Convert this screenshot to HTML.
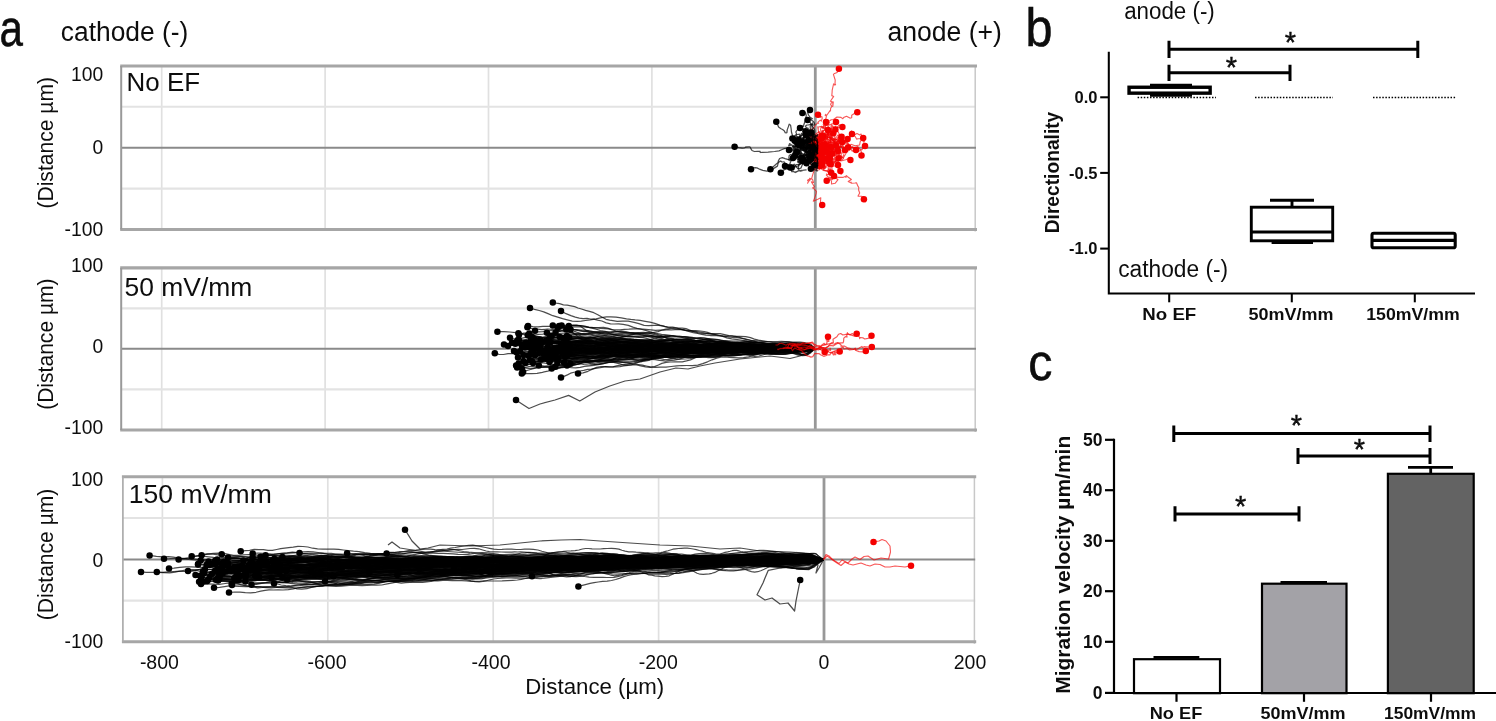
<!DOCTYPE html><html><head><meta charset="utf-8"><title>Figure</title>
<style>html,body{margin:0;padding:0;background:#fff}svg{display:block}text{font-family:"Liberation Sans",Arial,sans-serif;fill:#111}</style></head><body>
<svg width="1496" height="721" viewBox="0 0 1496 721">
<defs><filter id="soft" x="0" y="0" width="100%" height="100%"><feGaussianBlur stdDeviation="0.62"/></filter></defs>
<rect width="100%" height="100%" fill="#fff"/>
<g filter="url(#soft)">
<text transform="translate(-0.6 46.3) scale(0.81 1)" font-size="52" fill="#000" stroke="#000" stroke-width="0.5">a</text>
<text transform="translate(1025.6 45.6) scale(0.9 1)" font-size="54" fill="#000" stroke="#000" stroke-width="0.5">b</text>
<text transform="translate(1028.2 380.4) scale(0.93 1)" font-size="52" fill="#000" stroke="#000" stroke-width="0.5">c</text>
<text x="60.8" y="41.2" font-size="27" text-anchor="start" font-weight="normal" textLength="127.5" lengthAdjust="spacingAndGlyphs" >cathode (-)</text>
<text x="887.4" y="41" font-size="27" text-anchor="start" font-weight="normal" textLength="114.5" lengthAdjust="spacingAndGlyphs" >anode (+)</text>
<line x1="161.7" y1="66" x2="161.7" y2="229.5" stroke="#e0e0e0" stroke-width="1.7"/>
<line x1="325.1" y1="66" x2="325.1" y2="229.5" stroke="#e0e0e0" stroke-width="1.7"/>
<line x1="488.5" y1="66" x2="488.5" y2="229.5" stroke="#e0e0e0" stroke-width="1.7"/>
<line x1="651.9" y1="66" x2="651.9" y2="229.5" stroke="#e0e0e0" stroke-width="1.7"/>
<line x1="121.2" y1="106.8" x2="976" y2="106.8" stroke="#e3e3e3" stroke-width="2.1"/>
<line x1="121.2" y1="188.6" x2="976" y2="188.6" stroke="#e3e3e3" stroke-width="2.1"/>
<line x1="975.2" y1="66" x2="975.2" y2="231.5" stroke="#c8c8c8" stroke-width="1.5"/>
<line x1="121.2" y1="147.7" x2="976" y2="147.7" stroke="#8a8a8a" stroke-width="2.0"/>
<line x1="815.3" y1="66" x2="815.3" y2="229.5" stroke="#989898" stroke-width="2.8"/>
<line x1="120.2" y1="66" x2="977" y2="66" stroke="#a6a6a6" stroke-width="3.1"/>
<line x1="120.2" y1="229.5" x2="977" y2="229.5" stroke="#a6a6a6" stroke-width="3.1"/>
<line x1="121.2" y1="66" x2="121.2" y2="229.5" stroke="#999999" stroke-width="2.0"/>
<g fill="none" stroke="#f40000" stroke-width="1.1" stroke-opacity="0.66" stroke-linejoin="round">
<path d="M815.3,147.7l-1.6,.9 .9-1.6 .1,.3 .5-4.6 -.9-5.3 1.2,.5 2.4-3.9 4.5,2.2 .2-5 -1.2,.7 4.4-2.3 -3.1-3.1 4.1-1.3 -2.2-5.2 1.6,.2 -.4-1.6 .6-2 -.6-2.3 -.7,1 1.2,.7 3.9-5.6 .3,.6 .1-2.5 1.2-2.2 -1.2-1.9 .5-1.3 2.2-1.2 -.5,4.5 0-1.7 .2-2.6 -2.6-.9 3.3-4.8 -1-.5 -.9-.2 .3-3.4 .1-2.2 1.4-6.2 1.3,1.3 .7-.8 -.6-.6 .2-3.8 -1.8-5.6 1.2-1 2.5-.8 1.8-3.8"/>
<path d="M815.3,147.7l-2.2-1.8 .6-.1 1.1-1.1 1.4-.2 1.7-.2 .4-.9 -1.5-2.9 .8,.1 -.1-3.5 3.1-2.3 -2-2.6 -.9-5.4 .6,2.5 -.1-2.3 3.5-.6 1.1,1.8 -1-.8 2.3-.4 -.9-2.5 4.7-.9 .8,1.3 -2.1-.9 -2,1.9 -.6-.5 -.4-.5 1.9-.8 .7-.3 .9-1.7 2.5,.9 -1.3-2.7 -.1-.1 -1.4,2.2 1.4-.5 3-2.2 2,.1 3.8-2.8 4,.4 1.8,1.3 .8-1.1 2.9-1.4 3.4,1.9 1.8-.4 0-2.5 4.1-2.7 1.5-.2"/>
<path d="M815.3,147.7l-.8-1.8 -.5,3.4 1.5,2.1 4.8,1.4 3.3-1.4 -.4,2.2 3.6-2.5 3,0 2.4,1.3 4.5-1.7 .9,1.8 .4,.5 .7-3.7 -.2,1.1 -.1-3.4 -.1-.4 1.8,.1 1.9-2.5 -.2-2 0,.4 3.4-1 2.9,1.6 -1.2-2.1 1.1-3.1 4.5-4.1 -1.4,1 -.6,.8 -.9,1.5 -.2,.9 2.8-3.4 -.8-3.8 -1.2,1.2 .8,1.1 3.6,1.5 2.3-1.3 .2,.1 2.6,1.5 1.4-1 .8,2.6 1.5,3.3 -.5,1.2 1.3,.9 -.5,.2 .8-1 -1.3-3.2"/>
<path d="M815.3,147.7l.2,1.3 1.3,.8 1.4-2.3 2.8,.4 -.6-.8 2.7,.7 -2.3,4.3 -2,3.5 2.4-1.6 3.2,2.6 2.8,1.6 1.4,.7 -.2,.8 3.3,.1 4.5-2.7 .9-2.5 -2.5,.8 .2-.8 -1.2-.1 -2.2-.1 -.2-2.1 1.6-3.2 1.6,.8 1.9,.5 2.3-.2 -1.2,1 -.7-.3 1-1.5 2.7-2.6 3.2,.2 4,2.4 2.1,.9 1.1-2.3 -.3-1.5 -.5,0 -.7,.6 .4-.6 1.5,1.2 -1.7-.3 6.4,.3 1.7-1.4 2.6,3.2 2,.1 .9-3.3 1.9-.3"/>
<path d="M815.3,147.7l1.5,.7 1.2,4 2.5-1.2 1.9,1.2 .9,2.6 .1-3.3 -1.3,.8 -1.1,.3 -2,.7 .3-1.7 -.3-.5 2.5,.4 .4,.4 2.4,.8 4.1-1.3 2.3,.2 -.4,1.2 2.4,1.8 1.7-1.6 1,.7 4,.2 1,3 .9-.8 1.3,1.4 1.1-3.1 0,1.9 -.6,1.6 1.1-1.5 2.3-4 -3.2-3 1.8-.5 1.9-.1 1.1-1 0,1.9 2.2-2.5 1.9,3.8 2.2-1.8 2.2,.4 .1,1.9 3.1-1 1-.7 .8,3 0,1.1 1.2,.1 -1.3,1.2"/>
<path d="M815.3,147.7l-1.2,1.8 .6,.8 0-1.2 -1.1,.5 .7,1 .3,1.9 1.1,.7 .4,.5 2.1-.9 -1.4,1.2 1.6,.5 1.3-1.9 -1,.4 .8-1.8 1.7-3.1 3.1-1.5 -.2-1.5 -1.6-.1 -2.8-.2 1.2-.1 .8-2.2 -2.6-2.1 2.8,1.1 -2.5,3.6 2,2.5 2.7,2.9 -2.3,.6 -.7,4.1 2.2,.5 .3-3.5 1-1.1 3.4,1.8 .7-.3 2.9-.5 2.9,.8 .2,1.2 4.1-2.6 2.3,1.9 .3,3.2 2.1,1.5 -1.1,1.5 -1.5,1.4 4.8-1.2 3.7-1.6 1,1.8"/>
<path d="M815.3,147.7l-1.8,2.3 -.4,.6 2.5,1.5 1.7,1.8 1.7,4.6 1.2,1.2 1,3 1.8-2.3 .8,2.5 5.9,.6 .4-.4 .8-1.6 -.6,1.5 -1.9,1.2 -.3,4.1 3.9,5.7 1.3,2.9 5.4,.5 4.1,0 2.9-1.2 .2,1.3 .5-1.9 1.2,1.1 3.8,2.8 -3.2,2 3,1.5 -.4-.8 .3-.1 .4,1.1 3.4-.2 1.6-.3 1.4,3.6 -.1-.5 1,1.7 -.2,2.5 1.1,3 -1.7,3.1 3.4,.2 4.6,2.1 -1.5-.3 -.4,.5 .5,2.3 .6,1.1 -.9-2.2 -.4-.6"/>
<path d="M815.3,147.7l1.4-3.3 1.9-4.1 -.6,1.3 -2.4-.6 1.4-.8 -.4,1.4 .9-1.1 2.3,.9 1.6-1.4 1.8,1.1 1.2,.1 1.4,1.3 -3.8,6 -1.6,2.1 -.6,.4 -1,3 1.6,3 -3.4,2.8 -3.1,5.7 .5,3.4 -.3,1.5 -1.6,5 -.9,3.4 -1.8,.9 -1,1.1 -1.2,2.5 1-1.8 -1.1-1.2 1.8-1.2 .6,1.6 -.3-2.4 2.9,1 1,3.2 -2.1-.6 3,4.9 -1.8,1.2 1.5,.9 2.3,2.5 -.4,2.5 -1.2,3.7 -1.5,3.7 4.5-2.1 3-1.5 -.4,4.8 1.8,2.5"/>
<path d="M815.3,147.7l1.4-.2 1.7-.9 .2-2.8 4-.6 4.4,.9 1.6-2.5 .2-.5 .5-1.1 -3.6-1.2 .3-1.5 .1-3.4 -.8,2.3 -1.1-1.5 -.8-.9 -.3,3.3 -1.2,2.1 -.2,.4 5.6-.6 .7-5.9 .1-1 1,0 -1.3-2.3 2.2-1 .8,.8 1-.3 -1.3-.4 -2.5,2.8 -.7,2.7 -.2-.7 3.2-.1 1.1-1 .3-1.9 -.7-3.9 .5-2 3.4,3.6 4.4-2.8 .1-.7 -2.2,2.5 2.1,.1 4.5,.4 .2,.1 -.1,.4 -1.8,.5 .3-1.3 0-.7"/>
<path d="M815.3,147.7l-3,.9 0,3.2 .3,1.6 .3-.4 -2-1.1 -.8-4.8 -.2-1.6 .9,1.7 -.2,2.1 2.7,1.2 -.3,0 3.5,2.8 2.5-3.5 -4,3.2 1.7,2.3 1.5-.7 1.2-.3 3.2,1.4 -1.4-1.7 2.3,1.5 .9,.5 -2.1-1.8 1.4-3.7 1.3,.9 1.6,1.4 4,.4 -1.2-3.5 -4,0 2.1-3.4 .7-1.5 -.1,.2 .4-2.4 1.8-.5 -3.2,1.3 3.4-.9 3.4-3.2 -.1,2.3 2.8,.8 2.4-1 1.8,1.6 2.1,.6 2,.6 1.5-3.1 1.6-2 -.4-.1"/>
<path d="M815.3,147.7l.9-1.5 -.6,1.4 -.4,1 .8,1.4 -.6,1.3 1.5-1.4 1.9-1 1.1,2.1 1.6-1.2 -1.3-1.3 1.5,1.2 -3.1,2.4 2.7-.1 .2,1.5 -1.5,.1 1.4,.3 .4,1.2 3.7,1.5 1,0 2.8,1.1 .3,3.5 3-.8 -.2,3.4 -.5,3.9 .1,4.7 -1.5-2.7 -2.4,4.7 -1,.1 -.7-.4 .7,1.2 -.8-.1 2.9,2.8 2.3,3.3 0,2.7 3.6-.7 2.9-3.7 -3.2-1.8 -1.5-.9 -.6,2.5 -1,.2 -2.1-2.1 0-.5 2.1,1.2 -3.1,2.3 -1.9,.2"/>
<path d="M815.3,147.7l-1.5-.7 -.7-1.3 -1,.3 1.9,2.3 3.8-2.2 -.3,3.2 -1.7,.6 1.9,3.9 1.5,1.5 .2,2.1 .6,1.5 -.8,.7 -1.2-1.2 -1.2-.7 -.8-.2 -2.5,1.4 1.1,3.9 -4.1-1.8 -1.4-.8 .5-.7 -1,2.2 .1-2.2 2.2,5.2 2.6,.6 3,.7 -.2,1.4 2.9,1.1 -.1-1.8 .7-1.1 .3-1.8 -1.2-1 -.9-1.3 2.8,2.4 -.2-1.1 2.5,.4 1.5,2.8 -.3,1.7 1.3,.1 .1-.3 -6.1,.1 3.6,2.8 5.6,1 2.1-.3 -1-.7 1.3,2.3"/>
<path d="M815.3,147.7l-3.2,.2 2.1,.5 -2.1-.8 1.1-3.6 -1.8,3.1 -.9-2 -3.3-2.3 2.9-.3 -1.2-1.1 1.1,.1 -1.5-.4 -.9-2.1 -1.2-2.6 1.3-4.4 .8,4 -1.4-1.6 .3,1.9 -.7-.1 -.1,2.7 0,2.6 .4-.4 .6-2.2 .6-1.9 -1-2.1 1.3,2 .9-1.1 1-2.5 1.5-1 -3.3-1 1.5-1 .9-1.1 -.5,.9 3-1.7 1.9-3.2 2.7-2.6 .5,.7 -.6-1.1 2.3-2.1 1,1 .9-2.6 -.4-1.6 .4,.1 -2.6-1.3 .8,1.8 -2.4-2.8"/>
<path d="M815.3,147.7l1.9-.6 2.3-.6 -1-.7 2.5,.8 .6-.2 2.2,.6 .7,.8 .4-2.6 1.9,1.7 2.8-.6 -2,.2 -.9-4.1 .5-1.9 .4-1.5 1.7,1.1 1.2,1.6 -.8,3.9 -3,.9 2.1-1.3 .5-2.8 -.7,0 -2.1-4.1 -.5-2.2 -1.5-.8 -2.4,1.5 2.4-.5 -.9-.7 0-2 -1,.3 -1.5-1.8 -.6-2.4 .7-2.9 1.9,.8 .2,1 2.2-1.2 .1-1.7 -.5-1.3 .4,.4 4.3,.1 1.9-1 3.3-.3 -.1-1.1 .2-1.3 .6,2.8 .3-2"/>
<path d="M815.3,147.7l-2.6,.6 -1-.7 1.1,1.4 1.7,2.9 -.9-.4 -.8-1.1 -.4-.8 2.1-1.2 4.9-3 2.3-2.2 0-1.4 .8,1.6 .1-.5 -1.1-.8 -.7-.5 .9,2.4 -.5-3 .2,2.3 -1.1,1.4 -1.3-1.6 1.2-2.7 0-4.3 -1.1,1.4 -.2-.5 1.8-1 -1.4-.1 .7,1 .4,2.9 1.8,.4 5-2.1 1.2-.8 4.7,1.2 2.3,1.5 3.5-.3 2.4-2.5 1.8,2.8 2.3,1.8 -2.6,.8 .1,3.5 1.7,1.9 3.2,1.6 -1.8-.7 -3.1,2.9 .4-1.7 1.7-.1"/>
<path d="M815.3,147.7l.6,2.1 -2.5-3.1 1-.8 3.2-1 2.2,2.8 -1.3-2.9 -.1-.8 -.9,.2 -.2,1.7 2.1,.9 1.6,0 -1.8-.7 -2.1,2.1 -.9-2.1 .4,3.7 -.9,2.8 1.5,4.4 .7-1.4 1.2-1.4 -.2,1 .4,1.3 2.3,1.3 4.1,1.6 -.6,2.2 -3.4,1.9 3.5-2.3 3.5-3.8 3.1-1.1 .6-.6 .2,1 1.1-.5 1.3-1 -.7,.8 2.7-2.6 3,2 1.5,2.4 -2.8,2.2 -.2,.2 -.5,4.1 .5,.9 -1.5-.9 2-.5 -.2,2.4 -1.7-.2 .9-1"/>
<path d="M815.3,147.7l1.3-.1 -.2,.6 0,.4 2.5-.1 .3-1.6 2.7,1.2 1.2,0 -1.4-.4 .7-2.7 -1.6-.8 3.6,.1 -2.5,1.8 1.8,.7 -.9-.8 4.2,1.5 8.6-3.9 -2.7-1.3 -1.6-1.8 1.5,1.9 -2.5,.5 1.8-.1 2.6,1.6 -1.3-.3 .6-2.8 -.2,1.3 .8-.4 5,.6 1.9-2.2 2.4-1.3 -.1-1.4 -2.2,.6 -2.2,.9 -1.3,1.9 .8,1.6 -1.9,.5 1.5,0 0-1.7 -5.8,.4 -2.2-2.4 .8-5.5 -1.2,.8 .2-1 -1.3-.2 -2.7-1.6 1.7-2.2"/>
<path d="M815.3,147.7l.4-.8 -1.6-3.8 -1-1.5 -1.3-.2 1.3,1 1.3-2.3 3.2,.6 2.1-2.5 2.6,4.1 1.7,2 -.5,.2 .6,1.1 1,.4 -1.1-2.3 .7,4.6 -1.2,.9 3.2-1.3 -2.4,.6 .6-1.7 3.5,1.2 .6-2.7 3,2.1 2.3,2.9 -1.3-2 2.3,.8 .6-1 2.6,.4 2.3-2.3 .8,.7 2.6-3.2 .3-1.3 .7-.3 1.4,1.3 1.2-.2 2.4,2.6 .8-1.6 4,1.6 4.7-.8 0-.4 .5-2.9 2.3-2.9 -4.5-.1 -1.4,.4 -1.4-2.7 -3.2-2.4"/>
<path d="M815.3,147.7l.5,3.9 2.3-1.3 3.5,.3 -2.5-3.4 -1.8-1.2 1.1-1.3 0-1.8 1.3,1.3 -1,2.3 -.6-.7 4.2,1 1.1-3.7 1.2-.8 .6,2 0,3.3 1.1,.2 .4,0 3.6,.4 -.9-1.6 3.2,.9 -.5-.3 1.2,1 -.8,0 -1.5-1.5 .6,2.4 .9,3.1 1.7,2.3 .8-3.5 -3.1-.9 4.3-.4 .1,1 .3-.8 1.4,.6 -.1-1.6 4.1-1.8 -.7-.4 .8,.4 3.9,2.4 1,.1 2.8-.3 1.4-2.2 1.8-.3 -1.7,.3 5.2,.6 -.5,2.3"/>
<path d="M815.3,147.7l1,1 3.3,2.3 4.3-.9 -.5,.4 .8-1.6 .9-2 -.7,.1 .8,1.2 -1,1.3 .9,.4 .4-.4 3.8,3.2 .9,3.1 -1.3-.3 -.3,1.4 -.2-1.1 -2.5-1.5 2.1,1.5 -2.3,4.1 -.5-.2 0,.6 -.3,.6 1.8,2.3 -.9,.3 -1.1-.2 .2,0 1.5-1.2 1.1,2 -.2,0 1.5-.1 -.3,1 -4.3,1.9 .8,1.7 -2.2-.2 1.2,1.7 -.8-.3 3.3,1.1 2.7-1.9 1.1-.5 -.5,3 -1.7-1.1 -.9,.1 .4,1.4 2.7,1.5 3.7,2.6"/>
<path d="M815.3,147.7l1.3-.6 2.8-.8 2.1-.2 -.8,.9 1.6,.3 2.3-.1 -1.1-.1 3.8-2.1 -3.2-.3 -1.7,2.3 .6-2.1 .1-2 1.2,1.4 2.5,1.7 .2,2 1.2-2.7 2.8-2 -.8-3.2 -1.3-4.2 -2.1-1.9 -2-1 1.8-.9 1.1,1.8 -.9,2.5 .2-.4 .9,2.3 -2.1,1.4 -.6-.1 -1.7-5 2.5,1.1 -1.7-2 -2-.4 4.1-.5 -3,1.1 -1.4-3.3 .9-.3 .6,1.1 2.1-4.2 .5,1.8 2.6-2.2 -3.1-2.4 .9-.7 1.8-.6 -2.1-2.4 -.2,1.3"/>
<path d="M815.3,147.7l2.7-2.1 .7-.4 -2.3-2.4 2.9-1.1 -.3,.6 .6,1.1 -1.6-1 .4,.5 -1.5-3.5 1.5,1.4 1.7-.5 -3.5-1 3.7,.4 .4-3.3 -1.3,1.6 .5-.5 2.3,1.1 .9-.5 .7,1.7 .5-2.6 -.5-.8 .7,2.2 -.2-1.1 1.3,.7 -1.6,.6 .3,.4 -3-3.9 -2.9-3.4 1.7,1.6 -2.5,2.5 -2.3-1.7 4-2.7 1.2,1.3 2,1.1 .4,2.6 -.3,0 .7-.9 -.4,2.1 3,.9 -.3-1.2 -.8-.9 -1-.4 -.5,1.8 -2.7-1 1.4-1"/>
<path d="M815.3,147.7l-.4,.4 .2-2.4 .7,.6 -2.8,1.1 -2.9,.7 -2.1-.1 .3,1.3 .2-1.4 -1-.2 -.1,1 1.2,1.8 1.7-.3 .3,.6 1.8-3.1 1.1-1.3 1,.9 -3.2-.8 2.3-3.8 .8-.6 -.7,1.1 2.1-.5 3.1,2.1 .7,1 2.1,2.7 1.9,.7 .6,.8 3.4-.7 .2-2.4 5.3-1.3 -.6-1.6 2.7,.1 -3.5-.3 3.9-.7 .6,4.9 0-1 1.6,4 1.3-3.6 .1-.9 1.9-1.3 .6-2.9 -1.9-.5 3.5-2.3 -2.6,1.6 1.2,1 .1-.1"/>
<path d="M815.3,147.7l3.7-.7 -.4,.1 0,3.3 0,.8 -2,1.2 1.6,1.3 -2.7-1.1 -4.6,3.3 .1,3.1 4,2.1 -.9-.3 1.8-3.6 3,2.8 1.9-.4 1.1-2.9 -1.5-.8 -1.1,3.3 1.2-4.5 2.5,1.1 -.1-1.3 4.2,.5 .9-2.9 -.8,1.8 .6-.8 -.2-2.9 -4.4,1.1 -2.4-2.9 1,1.9 -.4,2.2 .4-5.9 3.4-2 3.3-.4 .2-.8 -1.5,1.2 3.4,2.5 -.7,1.1 2.3,1.1 -2.1,4 -1.1-1.5 .6,.5 -.7-2.4 -2,.1 -3.3,2.2 1.6,.5 .7-1.5"/>
<path d="M815.3,147.7l-.5,3.2 2.5,1.4 0-1.6 .3-1.6 -.2-.6 -.6,2.4 -1.2-1.3 2.8,.6 1.4-1 1.2,2.7 .5,.9 2.9,1.3 2.8-2.1 -2.8-2 1.3-1.1 -3.3,3.6 3-.9 -.8-1.1 1.9,1 .8,2.7 -1.1-2.1 .5,.1 .7,.9 -2.4,3.2 -2.9,.8 1.2,1.7 .9-1.4 .2-2.5 .1-.3 -3,4.4 -.7,1.1 3,.1 -.2-1.9 -.9-1.3 .2,1.7 .8,3 1.3,.6 -5.3-.2 1-2.7 .4-1.2 .1,.1 -.1,.1 1.2,.7 -.8,1.9 .6,.8"/>
<path d="M815.3,147.7l4.2,.8 .9,2.1 .2,.9 1.7,3.4 4.2,.2 1-.2 -.4-3.3 4.1-1.8 .2-2.2 -.5-.7 -3.9-.8 -.4,1 -3.6,2.4 -.5-.9 2.9-.1 .5,4 .2,1 1.9,.4 .2,.9 -.7,2.7 .6,3.9 .8-1.5 .8,.6 -.4,3.1 .9-1.8 3.8,.9 -3,.6 1-1 -1.6-2.2 .6,.2 2.9,1.8 .5,0 2-1.4 .6,2.1 -1.5-1.1 2.3,4.7 .8,4.7 .9,.8 -.7-1.1 1.8,.1 -1.2,1.9 1-.2 .5,.9 .3,.9 -.8-3.4"/>
<path d="M815.3,147.7l.1,.5 2-1.7 .9-.3 1.4,1.4 .9-.2 2.6,.4 -2,2.6 1.6-.9 .7-1.6 1-2.6 2.7,1.1 -1.2,1.1 -1.9-.8 -1.2,1.5 2.1-2.3 1.1,1.1 .1,4.8 -2.2,2.7 3.6-.4 -1.4,2.5 -3.9,.1 -2,.1 -.3-2.2 1.8,2.4 -1.8,1.4 .9-1.1 -.2,1.2 2.8-.3 -3.9,1.7 1.5-3.5 -.2,.1 .2,.8 -1,1.4 -4.4,.8 -.4,0 2,2.7 -1.2,0 -1.2,.3 -.4-2.1 2.9,.8 .7,2.7 -2.4,.9 3.8-.5 -.9-1.3 3.1,2.2"/>
<path d="M815.3,147.7l-.3,.3 2.6-.9 1.4,1 -.6,1.4 -1.4-.3 -2.8-1.4 -.7,1.7 1-1.4 .5,5.2 1.2,1.8 -3.1,0 3.2-1.8 -.8-.4 .8,2.1 -2.4,2.2 -4-.7 1.7-1.3 -.6-.1 4-.9 2.8,4.6 .2-.6 1-.9 .2-1.2 -1.9-2.1 2.7-.4 -1.3,3 .6,.3 -.5,.9 .3,.1 .6,2.4 .6,3.4 2.8-1.1 -1-1.5 -.5,2.2 .3,0 1.1-3.3 1.5,.5 2.2,.4 2.8,2.9 .3,2 -.8-.5 -1.2,.5 -1.4-1.2 .4-1.9 2.1-.9"/>
<path d="M815.3,147.7l2,.5 -.4-1.9 1.7-1 -2-.4 1.3-.8 .1,2.1 -.9,.8 3,2.5 -2.1,.4 .3,3.8 2.5,1.3 2.3,.3 -2,3.6 -3.2,.8 1.6-.3 2-.7 1.6-.3 -1.3,1.2 -1.1,.6 -1.9-.3 1.1,1.5 -2-1.7 0-2.6 1.3,3.8 1.3,.5 -1.5,.4 1.1,3.1 -.6,1.7 -.6-1.2 -.7-.1 -2.8-1.4 2.9-4.2 1.8,.8 -.8-2.1 2.3-1.4 .6-1.1 -2,1.4 1.3-2.5 2.2-3.1 -2.4,1 -.7-.7 3.1-2.7 1.3-1.4 .2-1.1 -1.4-.6"/>
<path d="M815.3,147.7l-1.4-.3 .7-2.4 .4,1.5 .6,2 -1.4,1.4 1-5 .5,1.9 .3,.3 .2-.1 -1.6-1.1 -3.7,4.3 .4,.6 1.6,1.2 .4-2.7 -1.9,3.4 1.3,1.5 -1.6-.7 1-1.2 2.7-1.2 -.4-2 1.2,2.7 .8,.2 -.2,1.8 .4,3.6 0-.5 -.6-3.4 .9,.5 -2.6-2 -1.6-.4 -1.5,1.7 2.7-1 .5-1.8 3-1.9 -1.1,.3 -1.1,5.3 .1-.2 -1.4,.1 -.7-.6 2.3-.9 1.3-1 2.3-1.2 -1.4-.2 2.9-.6 -1.3,0 -.9,.7"/>
<path d="M815.3,147.7l1.4,1.3 2.6,1 3.2,2.8 -.8,1.9 -1.7,.1 -.4-1.1 .3,.2 3.5,1.9 -.8-.9 -1.3-.9 -1.7,.4 -2.8-.2 .6-.7 -2.4-.5 1.4-1 2.6-2.8 -1.8,1.6 2.3,0 -3.4-.1 -2-.9 -1-.8 -.4,.7 -.8-3 -.7-4.5 -.1-.4 -2.1,4.4 2.9,2.9 .1-.5 .6,3.5 -.4,.1 -1.4,.3 1.3-1.4 1.7,.7 3.9,.8 2.1-1.5 4.3,.6 -.4,3.2 0-1.9 .9,1.5 -.3-.5 -3.3,3.6 -1.1,1.1 -1.3-.9 .3-1.3 1.5-2.6"/>
<path d="M815.3,147.7l-.6,1 1.9-.3 -.2,.3 5.5-1 -.1-.2 -.8-1.2 -.9,.9 2.5,3.6 -2.2-1.2 .2-1.3 -1.1,.2 -.8-1 .7-.9 -.2,1.2 1.6,1 2.3,.8 -2.5,3.4 5.7,2.1 3.3,2.7 -.5,1.8 -1-.5 1.3,.8 -.9-2.1 1.8,.6 .5-1.1 -1.1,.5 -3.3,2.9 .4,2.7 2.1-.5 1.2-1.5 -1.4,3.1 -.7-.9 1.2,.7 2.1-1.8 -.1-1.4 .3,.1 -1.5-2.7 -2.2,2.4 -.4-1.5 .6-1.5 2,2.2 .4-.4 -3.1,1.5 4.1,1 -.7,2.1"/>
<path d="M815.3,147.7l.2,.5 -3.1,1.3 3.5-.7 -.6-3.3 1.4-1.2 2.7,2.3 2.7-.3 -3,1.8 -.5-1.5 2.4,.2 -1.6-1.3 -.2-.9 -1.8,2.2 .1,.6 2.4,3.4 1.7-2 -.4,1 3.5-3.4 4-1.7 .1-1.4 1.5-1 .3-2.4 3.1,0 .3,3.4 1.7,2 -.2-.4 .1,1 1-3.8 1.5-1.1 .9,1.2 -.2,.6 .5-.8 -.6-.8 -.2,.8 -3.9,.5 .3-2.6 1.8-.7 1.5,1.9 .8-3.6 -2.6-.7 -1.9,3.4 .3-4 -3.7-1.7 -4.2,.3 -3.9,1"/>
<path d="M815.3,147.7l-2.7-.6 1.5-2.8 .8,3 -2.5,0 2.7,3 2.5,.1 -1.2-.1 -1.2,1.9 1,1.2 -1.8,1.7 .5,.8 1.8-.5 -.3,2.4 -1.9,1.9 .9,3.1 1.9-.8 2.9-.6 -2.8-.2 -1.1-1.5 1.3,1.3 .7-2.3 2.9,1.1 1.7,1 .3,1.7 -.2,2.9 -1.5-3.5 -1.2,.2 .3,.5 .3,1.1 -.8,1.4 .6-1.2 -3.8,.7 .5,2.3 1.6,.9 1.7-.8 -1.4,2.8 -2.7,.3 -2.5-2 3.6-3 2.8-.6 -1.9-2.8 0,1.5 .6-1.4 2.6,.7 .5,1.4"/>
<path d="M815.3,147.7l.6-1.8 .5-2.3 -2.7-1.6 -.3-1.8 -.6-1.5 .1,2.8 1.1,1.1 1.8,1.2 .8,1.1 2-.8 -.6-.5 -.1,.4 -.8-1.2 .4,.5 -.2-3.3 -.5,1.1 -.4,1.9 -1-1 1.5,1.7 -.6,2.3 .4,.3 3.3,1.1 -.4-.6 -1.7,1.6 .7,3 2.2-.4 -1.1-1 2.3-.7 2.2,1.8 2.8,0 1.3-2.8 .6-.4 1.8-3.7 -.6,3.8 .3-1.3 .2-.7 -.6,.7 .5,1.6 4.7,.9 .6,2.3 -2.6,2.9 -2.1-1.3 .1-2.9 -1.1-.2 .8-3"/>
<path d="M815.3,147.7l-2.8,.7 1.2,1.5 -.8-1.1 6-.2 -1.6-2.4 -.2,3.2 1.6-1.6 -2.3-1.2 .2,.6 1.2,2.1 -2.2-2.9 .1,1.1 -.7,.5 .1,2.2 -.1-.8 1.2,1.8 -.9-.1 -1.1-2.1 4.8-1.2 -.3-.6 -1.3-.2 .1,.7 -.7-2.6 0,1.3 2.6-.1 -.2-1.4 3.1-1.1 -.7-.1 -.2,.2 1.1,3.1 1.2,.8 -2.5,4.2 1.3,1.7 -.4-.2 -.4-.3 -.5,1.5 2.3-.1 -.3,1.6 -.1,1.1 -.9,2.6 -.6,1.1 3.5,.8 -.2,1.4 3.1-4.1 -.4-.3"/>
<path d="M815.3,147.7l1.6-.1 1.1-2.1 2.5,4.7 .3,.9 -1.8-5.5 -.1-.7 1.3-.1 -2.4-4.3 2.2,1.6 -.2-.7 1.4-1.2 -2.4,2.1 -2.5-.9 2.5,.6 2.2,2.6 .4-2.9 -3.1-4.4 1.4-2.9 -.1,0 .7-.3 2.5,.4 2.1-.3 .1,.1 1,1.2 -.8,1 5.3-5.3 1.3-.4 -.4-1.3 -2.1,.2 -1.3,2.8 .7,3.1 .3-2.9 .9,.2 1.7-4.8 .2,2.6 .2-4.1 .9,.7 2.8,.9 -1.9,2 1.5,2.1 -.3,1.8 -3.9-2.8 1.2,2.8 1.2,.2 -.2-1.1"/>
<path d="M815.3,147.7l1.1,2.1 -2.7-5 -1.3-.7 1.6-1.8 2-1.7 -2.5,1.2 .5-2 -2.6-5.6 -1.5,.6 -1.2-3.3 -.9,.4 1.6,1.6 -1.1,2.2 3.6,.1 2.5,2.4 1.3-2.4 1.5,0 1.9,4.3 .6-1.1 2.9-.7 -1.8-.1 2.4-3.8 3.8,2.9 -1.5-.2 1.3,.3 1,.7 -.9-1.2 .4,.1 4.3,1 -1.5,0 4.2,3.2 3.8-.5 2-.4 -1.6-.6 -.2-3.1 .3-1.5 0,.7 -1.4-.6 1.2-.1 1.1-.6 -2.5-4.7 -.5-1.4 -1.3-2.2 -.2,2.5 .4,.9"/>
<path d="M815.3,147.7l2.1-.5 -.1-1.6 .1,2.3 -1.5,.5 -.2,.5 -.5,1.1 -2.1,.9 3.5-1.5 1.8-.7 -.8,4 1.5,1.9 3.5,1.8 0-3.8 1.6,3.9 -.5-1.7 -3,1.7 -4.4,1.4 1.9-.3 -1.8,0 3.2-1.6 -1.2,1.6 -1,3.1 -1.1-1.7 -2.6,.2 2.3,.6 -.8-2.3 .7-.7 4.7-1.7 -2.3-1.9 .6,1.7 .6,2.9 1.6-.6 3.5-.9 .7,.7 2.4,.5 .9-3.2 .1,.9 3.1-2.7 -2,2.2 4.7,.9 -3.9-2.9 -.4-1.1 1.2,2.6 1.7-1.2 -1.1,.2"/>
<path d="M815.3,147.7l-.6,1.8 1.6-.8 .6,2.9 1.4-.8 -.4,1.7 .9,.1 -1.2-.7 .5,3.2 -2.3,.1 -1.5-2.9 4.5-2.6 2.6,1.8 1.1-.1 .1,.8 .9,.9 1.5-3.3 -2.3-.2 .1-2.8 2,.7 .8,1.9 1.4-.4 -.9,2 -.8-1.6 -1.6,1.1 .7-.4 2.1-1.8 1.7-1.2 0-.5 .6,2.4 -1,1.8 2.6-.4 -1-2.4 0,5.3 -.1,.1 -1.6,.6 .7,1.7 4.2,1.8 -1.4-.4 -2.3-1 -2.5,2 -3.9,1 .4-3.2 1.7,2.3 3.6-.6 1.7,.2"/>
<path d="M815.3,147.7l2.5-1.2 -1-1.3 0-1.7 .6-.3 -2.4,1.2 2.5,1.7 1,.3 0-2.3 4-2.4 -1.4-1.3 -1.7,1.1 -1.1-.4 1-1.5 -1.9,1.6 -.6-2.8 1.5-2 .2,.7 .9,1.3 -.5,.7 -2.9,1.2 -3.3,2.1 -1.1,2.4 .1,1.7 -.6,.3 1.3,1.9 -.5-4.5 .6,2.1 2.7,.2 2.3-6.1 -.5-.5 4.3,.3 5.2,.8 -.5-.4 -1.3,.9 .5-1.2 3.7,2.8 -.3,1.7 0-.2 -1.4-.6 3.7,4 .1,.1 2.5-.9 1.7-2.2 1,2.1 1.9,3.8"/>
<path d="M815.3,147.7l-2-4.4 -1.4-.2 -.5,5.5 1.5,.9 .9-.2 1.4,2.2 .8,2 3.4,.5 2,.8 3,1.8 1.1,2.5 3,.5 -1.6,3.6 1.1,1.6 1.1-.5 -1.6,.2 .4,1.2 .1,.1 2.2,.2 -.4,1.1 .1-1.9 -1.3-1.5 -.5-4.2 -2.1-1 -.1-.2 1.8-1.9 3.7,.8 -4,.1 -1.2,1.1 4-2.6 .9-1.9 -2.2,1.3 2.3-1.2 -.1-2.2 -.6-.4 .3,1.5 1.1,.1 .9,1.3 1.7-2.5 .3,.9 -.8-2.7 -1.3-2.3 .2-.2 1.7-3.6 1.6,1.7"/>
<path d="M815.3,147.7l1.7-2.9 2.4,3.6 .8-.7 3.2-1.4 3.7-1.6 1.2,1 .7-.6 -1.7,3.1 1.1-1.2 -2.2,1.9 2.9,.4 -.6,1.5 1.3,2.9 -.1-.9 .2-2.2 -1.9-.6 0,.6 -2.5-.3 4.1-2.9 -.4-.4 1.5-1.1 4.6-.7 .8,.8 3,1.3 -2.5,.5 -.9,2.7 1.3,1.2 .1-1 2.3,2.3 4.7-.1 2.4-1.6 1.4,.5 -1.8-.8 .5,0 -.3-.1 .2-.4 -3,.7 3.6,.1 .6-1.1 -1.3-1.4 -2.3,.5 -1.5,1 .4-2.3 4.6-.2 .5-.5"/>
<path d="M815.3,147.7l.5-4 -.5,.2 2.9-3.8 -1.9,2.2 -2,1.3 -2.5-2.2 .9-1.1 -2.7,.1 1.7-.2 3.8-2.5 2.6,.6 1.2,1.5 -1.1-.6 -3.2-1.4 -1.9,2 -1.5,.6 -.7,4.6 -2.2-1.8 .7-3.4 -.5-2 -2.2-.4 3.4,1.7 1,.9 .4-1.3 -.3-.2 .7,1.7 -2.8-2.6 2.2-2.1 1.7,5.4 1.5,.6 -.8,.4 1.1,5.8 1.2-.3 2.5,0 1.9,.5 -.1,1.5 -.9-1.3 -.7,.2 -1.3,1.4 .1,.6 -1.2,.4 .7-.5 -1,.5 -.1-1.2 1,.9"/>
<path d="M815.3,147.7l-1.8,.4 4.4,1.7 .7-1.5 1.3-1.1 -.9,0 -.6-.7 -.7-.5 1.6,0 1.2-2.1 -2.1-.4 .6,1.1 -1.9,1.6 .4-2.2 -.4-1 3.2-1 1.3-1.8 -1.9-1.6 -2.5-.7 .2,3.1 -.2,2 1.9,1.4 1-.4 1.6,2 -.9-2.5 -.5-2.9 -.2-.8 -.8-.5 2.9-.1 2.8-.4 .9-2.8 3,.4 3.5-.3 -.6,3.8 -1.4-4 2.1-2.1 -1.6,.3 -.9,3.3 4.7,4 -.4,1.6 -.6-1.2 .2-.5 1.3-.8 3.3-2.8 1.4-3.2 1.7,2.2"/>
<path d="M815.3,147.7l.2-1.3 -.9,.3 -1.6-2.6 2.3,1 .7-.8 1.2-.9 .6,.1 0-1.3 1.1-1.5 2.9,1.7 -.6,.9 1.5,0 -2.3,.5 -.8-.4 3.9,.1 -2.9,1.4 1.9-1.6 -.2-1.4 .4,2.2 4.9-.4 .2,2.6 -.6,1.8 -1.3,6.1 -1.7,1.4 3,1.9 2.9,1.8 0,1.4 1.6,.4 1.6-.5 -1.7,2.7 .3,3.2 3.5-.8 3.1,.8 .7-3.3 -.9-.4 -1.3-2.2 -3.3,.2 .6,1.7 -2.9-3 3.9-.2 -.3,1.9 -2.2-.3 1.4,.9 1.6-.8 2.8-2.8"/>
<path d="M815.3,147.7l.7-.4 -3.6-2.9 -.3,1.4 2.7,2.9 -1.9-1.4 -2.9-2.6 -2-.6 -1.3,.2 3.1-.9 -.4-.3 .1-.7 -.9-.1 -.7,.5 .8,1.7 1.4,.6 .3-1.2 1.5-1.9 1.2,2.8 -.9,.9 1.6-.3 2.4-1.2 -1.9,.7 1.3,.2 2.2-2.3 -1.2,3.1 -.1,1.6 1.2-3.9 -.7,4.9 .8,1.1 -2-.5 -1.7-.9 .7-1.7 -2.2,.7 1.5-1.2 -.9,1.3 .2,2 1.7-.9 2.3-3.8 -1.4-.2 2.2,1.3 1.5-1.9 .3,3.2 1.7,1.7 .6-2.5 -.2,2.1"/>
<path d="M815.3,147.7l1.1-2.9 .3-.6 -.3,3.2 -2.5-2.7 -.5,.6 .7,.6 -1.5,0 4.2,1.3 1.7,1.1 .6-2.5 1,5.2 -3.2,1.5 -2.3,1.6 .8,.2 -2.2-.7 2.7-.1 0,1.4 -1,0 -2.7,4.2 .7,1.5 -1-1.6 1.6-.5 .2-1.6 4.4,.2 .7,2.1 -2,.7 -2.3-1.2 1.8,2.6 1-1.4 -.1,1.8 -.6-.2 .5,1.9 -1-2.5 -1,0 -.2,.9 2.2,.4 .9-.9 -.1,1.4 -2,2.3 -1.5-.2 1.2,1.4 .2-.8 3.8,.2 .2,.5 .3-.1"/>
<path d="M815.3,147.7l-1.5,.7 3.8-.3 1-1 -.1,2.9 1,.4 2.6-6 1.9-.7 .9-.4 1.9,.5 3.8-1.4 1.4,1.2 -.4-1 1.8-.1 .5-.2 5.8-1.4 -1.4-.2 -2.7-1.8 -3,1.6 2.2-1 -3.5-2.8 -1.3,4.9 -2.2-.6 2.2,.4 0-1.6 2.5-1 -2.3-2 -.5,2.2 .3-3.9 -.1,1 -1.1-1.7 -1.7-.2 .7-1.6 .9,.3 -.6-.7 1.8-1.2 -2.4,.5 .5,.1 1,2.3 -2,3.2 1.5,.7 -1-.6 .4,.3 -2.5-.7 -3,3.4 -.7-1.9"/>
<path d="M815.3,147.7l2.2,1.8 -2.8-.2 .9,.8 1.9-.5 -.1-3.3 .2,1.8 .8-1.1 .4,.6 -1.4-.5 .8,1.8 4.1-1.3 -.1,2.1 -.5,2 -3.1,3.8 2.2,.7 -2-.2 -1.1,3.2 -.5,1 1.6-.1 -.8-3.7 2,3.4 .8-1.2 1.3,0 -4.8,0 -3.3-.1 -1.8,2.2 -2.5,.8 .2-2.5 .5-.7 -1.5-2.3 .4-.6 .2,.4 3.2,.1 .5,3.1 -.5,2.8 1.3-3.1 3.3,.3 -1.8,0 .8,.9 4.3-2.7 1.1-.5 -.4-.4 -1,3.6 .7,.4 1-2.4"/>
<path d="M815.3,147.7l-1.7,2.3 .5,.9 -1,0 0,.9 .4,.7 -1.3,.7 .9,.7 -.5,.2 0,.4 .1-1.2 -.9,0 -2-4.9 0-.9 .5,.8 .7-.7 .4-3.4 1.2-2 -1.4,.7 -1.1-2 -.4-2.1 1.5-2.4 -.1,1.8 .7,4 1.9,.4 -2.2,.9 2.4,1.5 1.2,.9 -.1,.5 .8-.2 2.5-1.8 2.5-1.3 -1.9-.8 -1.4-.7 1.2,2 1.6-5.2 2.3-1.6 .8,2.1 2.2,3 .2-2 -1.7,3.3 -.5,.1 -.9-1.9 3,2.3 .4,1 -1.3-.4"/>
<path d="M815.3,147.7l2.5-.6 -3,2 4-1.3 3.7,1 .7-2.4 -.2-2.2 1.4,4.7 .7-.8 -1,.2 .5,3.2 .4,.7 -1.7-1.2 .6,.2 -.2,1.4 3.2-1.2 1.5,2.3 -.8-2 -2.1,.8 .4,1.2 1.5,2.4 2.7,3.6 .2,.8 -1.5-1.7 .1-1.6 2.7-.9 3.4-.8 -.1,2.5 1,3.1 -1.4,1.9 -.6,1.3 -2.3-1.1 -.4,1.4 -1.7-1.3 -3.2-.5 3.3-.7 -3.5-2.1 -1.8-.4 .6,2.2 -.7,1.6 .1,1.7 2.1,2 -2.9,1.9 -.4-3.8 1,0 -2.2-3.1"/>
<path d="M815.3,147.7l1.4,.1 3.9-1.3 .4,.1 3.2,2.3 -.9,2.2 -1.1,1.5 -2.7-3.4 2,.7 -.5-3.3 -.9-1.1 1.6,.2 -3.5-1.5 -2-1.4 -2.1,2.1 2.3-.5 -1.2-1.8 .1,4.1 2,.8 2.4-1.1 -.7,.7 -2,2.3 -.9-2.5 2-.6 -.4,2.6 2.9-1.3 2.5-2.8 2.9,.3 .3,2.8 1-3.3 .9,1.6 2.2,3 -.5-2.4 -2.7-1 -.9,.3 3.3-.9 -2.2,0 .6,1.3 2.9,.9 .7-1.4 1,1.9 -.5,3 .3,1.5 -2.9,2.1 0-1 .6,.4"/>
</g>
<g fill="#f40000"><circle cx="838.9" cy="68.8" r="3.25"/><circle cx="857.3" cy="112.3" r="3.25"/><circle cx="863.2" cy="138" r="3.25"/><circle cx="865" cy="146" r="3.25"/><circle cx="861.5" cy="155.4" r="3.25"/><circle cx="850.4" cy="160" r="3.25"/><circle cx="863.9" cy="199.2" r="3.25"/><circle cx="822.2" cy="205" r="3.25"/><circle cx="842.4" cy="126.9" r="3.25"/><circle cx="847.6" cy="139" r="3.25"/><circle cx="826.7" cy="180.7" r="3.25"/><circle cx="831.2" cy="172.7" r="3.25"/><circle cx="818" cy="114.7" r="3.25"/><circle cx="836" cy="122" r="3.25"/><circle cx="845" cy="150" r="3.25"/><circle cx="838" cy="165" r="3.25"/><circle cx="828" cy="130" r="3.25"/><circle cx="852" cy="134" r="3.25"/><circle cx="856" cy="150" r="3.25"/><circle cx="834" cy="176" r="3.25"/><circle cx="826" cy="122" r="3.25"/><circle cx="822" cy="136" r="3.25"/><circle cx="842" cy="142" r="3.25"/><circle cx="825.9" cy="151.2" r="3.25"/><circle cx="822.1" cy="161.8" r="3.25"/><circle cx="840.4" cy="171" r="3.25"/><circle cx="821.7" cy="165.2" r="3.25"/><circle cx="828.9" cy="161.8" r="3.25"/><circle cx="823.8" cy="146.2" r="3.25"/><circle cx="818.4" cy="150.3" r="3.25"/><circle cx="820.4" cy="153.9" r="3.25"/><circle cx="830.7" cy="164.3" r="3.25"/><circle cx="823" cy="135.8" r="3.25"/><circle cx="822.3" cy="163.9" r="3.25"/><circle cx="830.9" cy="147" r="3.25"/><circle cx="827.6" cy="158.8" r="3.25"/><circle cx="833.3" cy="133.2" r="3.25"/><circle cx="835.4" cy="129.6" r="3.25"/><circle cx="832" cy="153.2" r="3.25"/><circle cx="829.9" cy="157.8" r="3.25"/><circle cx="838.1" cy="150.9" r="3.25"/><circle cx="836.2" cy="145.6" r="3.25"/><circle cx="848.1" cy="147.3" r="3.25"/><circle cx="816.9" cy="150.4" r="3.25"/><circle cx="841.6" cy="136.7" r="3.25"/><circle cx="838.6" cy="158.2" r="3.25"/><circle cx="822.1" cy="148.3" r="3.25"/><circle cx="820.1" cy="166" r="3.25"/><circle cx="821.7" cy="138.3" r="3.25"/><circle cx="822" cy="157.9" r="3.25"/><circle cx="824.8" cy="144.3" r="3.25"/><circle cx="821.9" cy="162.1" r="3.25"/><circle cx="830.1" cy="153.9" r="3.25"/></g>
<g fill="none" stroke="#000" stroke-width="1.25" stroke-opacity="0.7" stroke-linejoin="round">
<path d="M815.3,147.7l-4,.3 -4.1,0 -2.7,.6 -4.5-.1 -2.9,.3 -2.1,.3 -1.3,1.1 .2,.4 -1.6-1.1 -1.4-.9 -3.7-.6 -2.9,.7 -2.1,.8 -3.2,1.3 -4.5,.7 -6.4,.6 -5.7,.2 -2.1,.2 -.3-.7 .1-.4 -2.6-.1 -3.1,.2 -2.4-1 -1-1.6 -.4-.9 -.2-.7 -.9-.4 -.4,0 -1.1,0 -1.2,.3 -.9-.3 -.6,.6 -1,.4 -2.1,.2 -3.3-.5 -4.3-.9"/>
<path d="M815.3,147.7l-.9,2.9 -.8,2.2 -1.1,1.7 -.5,.6 -1.6,1.6 -1.5,1.8 -2.3,1.1 .2,1 .1,.8 -.5,1 -2.5-.1 -1.7-.1 -1.7,1.6 -2.3,2 -2.2,1.1 -3.7-.5 -2.9-.8 -2.6-1.3 -1.2-.1 -1.5-2.4 -2.1,.2 -1.3-1 -1.5,1 -.2-.3 -.9,1.6 -.7,2.8 -3.1,2 -2.6,1.9 -2,.7 -2.9,.5 -4-.9 -4-1.5 -1.9-.9 -1.8-.3 -1.9,.5 -2.2,1.2"/>
<path d="M815.3,147.7l-2.9,1.7 -1.4,1.8 -1.4,1 -.3-.1 .3,.2 .1-.6 1.1-.7 -1.9-.8 -2.5,3.8 -2.7,4.1 -1.7,2.3 -.5-1.5 -.9-3.6 -1.4-1.1 -.1-.7 -1.7,1.5 -.4-.1 -2.2,.2 -1.9-.9 -1.6,.3 .5,.8 1.3,.5 .3-.9 -2.7-.4 -1.5,1 -.3,2.2 .4,1.8 -.9,.2 -3.3-1.1 -2.7-1 -2.8,.9 -1.3,2.6 -.4,1.7 -1.6,1.3 -2.2,1.8 -3.7,3.4"/>
<path d="M815.3,147.7l.2,1.3 .6,0 -.3-1.2 -.3,1.2 -.1,.4 0-1.1 -.6-1.3 -2,.1 -1.3,2.8 -1.9,1.6 -1.9,2.8 -1.3,1.9 -.4,2.7 .3,1.2 -.8,.2 -1.5,1.5 -1.2,1.7 -1.1,2.7 -.3,.9 -.6,1 -1.1,.4 -2,.1 -1.5-1.9 -1.2-1.7 -.8-.9 -.7,1 -.6,.9 -.2,1.7 -1.4,.6 -2.2,.3 -3.2,.5 -2.7,1.1 -.5,1.5 1.1,1.2 -.3,.3 -2.7-.5"/>
<path d="M815.3,147.7l-1.1,1.1 .4,.1 .9-1 -.4-1.5 -2-2.1 -1.3-.1 1,1 .5,1.7 -.6,1.6 -2.2,1.3 -.3,2 -.7,.1 -1.4,.6 -2,0 -.6,0 -1.1,1.1 -.9,1.7 -2.3,2 -1-.2 -.4-.8 1.1-.7 .7,1.2 -.5,2.6 -1.4,2.1 -1,.3 -1-.2 .5-.9 .4,1.5 1.6,.5 .1,1.7 -1,0 -2.2,.1 -.8,.2 -1,1.1 -1.7,.9 -3.4,.8"/>
<path d="M815.3,147.7l-2.2-1.7 -.5-2 -.5-.8 .9,0 -.1-1.1 -.7-1.9 -.9-1.4 -1.2-.1 -.5-.4 -.7-.9 -1.3-1.2 -2-.3 -1.2-.1 -.3,1.2 .4,.9 -1.5,0 -2.6-.1 -3.1-.7 -2,.5 -2-.8 -.9-1.6 -.9-3 -.4-3.7 -.5-3.2 -1.4-1.2 -.9,2.8 -1.1,3 -.3,2.7 -.9,.2 -.8-.1 -.8-1.8 -1.8-1.4 -1.6-.7 -2.4-1.8 -1.1-2.6 -1.2-2.7"/>
<path d="M815.3,147.7l-4-.5 -2.6-.1 -1.1,0 -.8-.3 -1.4-.7 -1.3-.4 .9-2 1.5-2 3.1-1.8 .5,.5 -.1,1.4 -2.8,.6 -1.5,.3 -1.6-1.9 -.4-1.1 -.4-1.8 .2,0 -.3-.7 .9-.8 .3-2.7 -.1-3.2 -2-3 -.1-1.6 .3,.7 1-.2 0-.7 1.2-3.4 .9-3.3 .7-3.3 -.7-2.7 -.7-.7 0,.1 -.7-.4 0,.7 -1.1,0 -.7,.3"/>
<path d="M815.3,147.7l-2.1-3.1 -.5-2.2 -.4-2.6 .6-2.5 -1.5-3.4 -1.1-1.3 -.8-1.1 -.1-.1 -.1,.9 -1.5,.4 -.2-.1 .9-1.7 1.9-1.8 -.2-2.3 .4-1.8 .8-.7 2.3,.8 .4,.1 .7-.9 -.8-1.9 -1-1.2 -2.3-1.7 -1.5-.4 -1.2-.8 -.6,.3 .4,.2 -.9,1.1 -.9,.7 .3-.6 3-.9 2.3-.2 .9-.2 -2.3-1.3 -1.7-2.4 -.8-2.5 2.3-2.5"/>
<path d="M815.3,147.7l-1.1-1.3 -.8-.9 -.9-.7 -1.3,.2 -2,.2 -2.3-.1 -1-1.4 1.4-1.7 2.1-1.8 3.1,.2 1.4-.8 1.2,.1 -.5-1.7 -1.7-1.3 -1.2-2.3 -.8,.7 1.4,.6 1.7,1.1 1.6-.2 -.1,.3 -.6,.2 .5,0 -.2-.1 -.6,.5 -1.5,.7 -.4-.4 .5-.9 .8-2.6 .8-1.6 0-1.6 -.1-1.2 -1.5-2.6 -1.5-2 -1.7-3.1 -1.1-.8 -1.3-1.4"/>
<path d="M815.3,147.7l1.8,1.7 -.4,.5 -1.9-1 -2.1-1.5 -1,0 -.2,.9 -.5,0 -.7-.6 -2.2,0 -2.2,1.4 -2.3,.1 -.1-1.8 1-2.5 1.4-2.2 -.5-.5 .3-.8 .1,.5 -.1,.4 -2.1,1.5 -1.9,1.7 -1,.3 0-1.1 .3-.8 .4-.3 .9,.6 -.7-.8 0-.6 -.9-1 -1.2-1.1 -2-.7 -2.2-2.1 0-1.1 .5-.3 .2,.8 -.4,1.6 -.9,1.9"/>
<path d="M815.3,147.7l-4.1,.7 -1.8,.7 -1.4,.8 -1-.7 -1.5-.9 0-2 1-1.9 1.2-2.8 1.7-2.2 -.4-1.2 -.9-.6 -2.3-.1 -1.2-2.3 -1.9-1.2 -1.2-.6 -1.7,3.7 -.7,3.6 -.1,3.6 .5,1.1 .7,1.2 -1.6-.3 -1.3,.1 -1.9,.4 -.3,2.4 -1.1,2.1 -1.1,2.1 -.6,2 -.6,3.2 -.4,1.9 -1.1,2.3 -.2,1.1 -2.3,1.3 -2.8-.2 -1.6,.7 .5,.5 1.2-.2"/>
<path d="M815.3,147.7l-2.7,1.4 -2.2,1.1 -.3,1.2 -1,0 -.9-.6 -1.5-.2 -.8-.7 .1-.4 -1.8-2.6 -1.6-2.1 -1.4-.5 1.5,1.5 2.4-.7 2.2-1.5 .7-1.8 -.9-.5 -.5-1.2 0-1.2 1-2.2 .3-2.1 .2-2 -.9-1.5 -.5-.1 -.9,1 .6,1.5 -1.4,.6 -1.9,.8 -1.9,1.1 -2.7,1.2 -1.3-.6 -1.2-1.1 .5-2 -.7-1.5 .9-1.3 1.2-1.3 2.1-1.4"/>
<path d="M815.3,147.7l-2.2-.2 -2,1 -2.4,2.1 -1.7,1.9 -1.6,.5 .2-.4 .1-1.7 .4-1.3 -.4-.7 -.8-1.1 -.6-.1 -.2-1.2 .7,.1 .6-.2 -.2,.8 .1,.2 -1.3-.3 -.9-1.9 -2-1 -1.1-.9 -2.3,1.3 -.3,.6 -.8-.3 .9-.9 -1.1,.1 0,1.5 -2,1.3 -.9-.5 -.8,.1 1.4-.4 .4,1.3 .4,1.2 .5,1.6 .7-.6 .6,.3 .3,2.1"/>
<path d="M815.3,147.7l-.4-.2 -1.1-.3 -1.6,1.5 -2.7,1.9 -.1,3.9 1.8,3.7 1.4,2.7 -.6,1 .3-1.5 1.7-2.2 3.3-1 .4,1.9 -.2,3.8 .1,2.5 .1,.7 -.1-.2 -.5,.2 -.5-.4 -.2-1.5 .6-.7 .4-.3 .2,1.7 -.2,1.5 0,1.5 .2,.5 -1-.3 -1.6-.2 -1.1-.6 .4-.5 -.2-.3 -.8-.6 -1.7-1.7 -3.4-1.6 -1.9-2.1 -2.5-.4 -.8-.1"/>
<path d="M815.3,147.7l-4.3-1.7 -4.2-.4 -2.8,.5 -2.2-.9 -.7-2.7 -.7-3.5 -.6-2.1 .1-.5 -.7,.2 .6,.7 -.5,0 0,.8 -1,.7 1.1-.3 .7-2.3 -.6-2 -2.1,.3 -2.8,1 -.4,1.1 0,.6 1.5,1.2 .4,1.1 -.3,.6 .7-.2 .2-.4 0-.8 .6,.4 .8,.8 2.9,.1 .8-.2 .7,.7 -.9,1.2 0,.5 0-1.1 1.5-2.5 2.9-3.6"/>
<path d="M815.3,147.7l1,3.1 1,2.2 .5,.4 -.4-1.9 -.3-2.4 -.1-3.5 .4-2.4 .3-1.4 -.1-.2 0,.2 -.8-1.6 -1.5-.3 -1-1.5 -.1,.3 1.6-1 .7,.7 .9,1.3 -.1,2.2 -.2,1 .6-.5 -.4,.5 -.2,.8 .3,.7 .1,.3 .3,1.4 -.1,2 -.1,1.3 -2.6,1 -3.3,1 -3,.4 -2.5,0 -1.8-.9 -2.2-.5 -1.9-2.3 -1.6-1.5 .3-1.6"/>
<path d="M815.3,147.7l-1-1.3 -2.4-.3 -2.1-1.3 -1.6,.1 -.2,.5 -.7,1.8 -1.7,.3 -3.4-1.4 -2.9-1 -1.1-.2 -.5,.8 -.7,1.8 -.1,2.4 -.3,1.6 .1-.2 -1.1-.4 .4,.1 -.4,0 -.9,.5 -.3,1.1 .7,2.3 1.3,2.2 .8,.3 1.3,.1 .3-.5 -.2,.6 -2.2,.4 -1.4,0 -2.8,.4 -1,.4 -1.1,.2 -.4,.2 -1.2,.3 1,1.1 1.6-.6 1.9-2"/>
<path d="M815.3,147.7l-1,.4 -2.8,.1 -3.4,.2 -1.7,.2 .7,0 1-.8 -.6,.3 -.8-.6 .1-1 -.5-1 -2.1,.6 -2.6,1.9 -1,1.9 .2,1.4 .2,1.5 -.4,1.4 .4,1 .6-.3 .6-.9 -.7-1.5 -1.2-.9 -.6-.7 -1.8,1.2 -1.8,.4 -2.4,.2 -.4-1.2 -.1-1.8 .3-2.2 -.7-1.2 .6,.7 -.2,2 -.1,1.3 -1.9,.9 -.9-.2 -.8-.3 -.5-.7"/>
<path d="M815.3,147.7l-.9-.6 -.7-1.6 -.1-1.1 -.2,.6 -.5,1.9 -.5,1.2 -.5,.7 .2,.6 .8,1 -.2,0 .3-.4 -1.4-1.9 0-.3 -1.4-1.8 -.4-.7 -.7-2 -.6-.2 -.2,.4 -.5,1.4 .2,1.5 -1.2,1.6 -.3,1.9 -.1,1.8 .1,1.9 .1,1.7 -.2,.6 .2-.1 -.9-.5 0,.7 .9,1 .7,.3 -.2,.4 -.3,.3 1,.1 1.2,.6 .5,1.6"/>
<path d="M815.3,147.7l-3.4-1.6 -.9-.8 -.4-.4 -.3-.7 -1.7,1.1 -.5,1.2 .2,.8 1.1,.1 .2,1.2 .6,1.2 .1,1.1 .2,0 .6,.1 .1-.1 -.7,.4 -2.6,.1 -3.3-.7 -1.7-.9 -1.7,.7 -.8,2.1 -1.8,1.3 .3-.2 1.3-.5 .7,.7 -1,1.3 -1.4-.3 -.6,.1 -.3,.1 -.7,.9 -.5,.5 .5,.8 1.6,1.3 1.3,.4 1.3,1 .8,.3 .9,.9"/>
<path d="M815.3,147.7l.1-.8 -.3-.8 -1,1 -.3,.3 -.7,.7 -.4-1.3 -.6-1.3 .7-.6 .6,0 0,1.2 -1.8-.1 -1.2,.2 -1.6-.6 -.6-.2 1-1 2.2,0 2.9,.7 .8,2.6 0,2.3 -.2,2.2 -.7,1 -1.5,1.4 -1,0 -.3,.8 -.9-.3 -.5,.8 -.7-.6 .3-.3 -.3,.1 .6,.8 0,1.1 -.1,1 -1,1 -1,.7 -.9,1.2 -.4,2.3"/>
<path d="M815.3,147.7l1.1,.1 1.2,.2 -1.4,.4 -1.4,2.1 -2.6,2 .1,1 .4,.1 .7-.9 .1,1.4 .8-.5 .1,.7 .3-1.4 -.7,.4 .6,.2 0,1.4 -.7,2.2 -.4,2 .4,1.1 -.6,.1 -.7-1 -1.9-.3 0-1.1 0,0 1.7-1 1-.5 .7-.5 -.3-.5 -.7,.4 -1.5-.5 -1.8,.4 -1.6,.4 -.3,1.2 .8,.7 1.1-.1 .6-.7 0-2"/>
<path d="M815.3,147.7l.5,.7 1.1,.6 .2,.6 -1-.3 -1.4,1 -1.5,1.7 1.9,3.4 -.2,2.8 .5,2.4 -1.2,.7 .2,1 .6,0 1.1,1.1 1.6,.1 0-.3 0-1.3 -.9-2.2 -.5-2.5 -1-2.1 1.1-.2 .1-.3 .8-.8 -.7-1.3 -1.2-1.2 -.9-.6 -1.1-1.4 -1.1-1.4 -.6-1.6 -2.3-.6 -1.4-.7 -2.1-2.6 -1-2.3 .5-.1 .2,2 1.9,.4 .9-2.1"/>
<path d="M815.3,147.7l-.2-2 .2-2 .1,.1 -1.1,.4 -1.5,.8 -1.7,.5 -.1,.6 -.1,.3 0,.5 0-.9 -1.6-.5 -1.6-2.2 -2.5-1 -.4-.3 .3-1 .8-.9 -.8-.2 -2.8-.2 -1.3,.4 .1,.4 1.9,.7 .5,.8 0-.1 -1.1,1.2 -1.8-.2 -2.5-1 -2.1-1.1 -2-1.4 -.8-.5 -.1-1.2 -.2-.1 .7-.4 -.2-.7 -.3-.4 -.7,.4 0,1.9"/>
<path d="M815.3,147.7l-2.9,.8 -2.8,1.3 -2.1,1.8 -.7,3.3 -.5,3.7 -.8,2 0,.5 .4-1.9 .4-1.1 -.6-.5 -2.3,1 -2.3,2 -2.1,1.3 -.7,.8 -.1-.6 -.3,.3 .5-1.2 -.6-1.4 1.2-.8 1.1,.8 1.1,2.1 -.4,.6 .3-.7 2.2-1.4 1.8-.7 -.2,.5 -1.6-.6 .9-1 2.3-1.1 3.1-1.3 .6-3.2 .5-2.8 -.7-1.4 .4,3.1 -.2,3.3 .9,3.5"/>
<path d="M815.3,147.7l-.4,.3 -1.2-.2 -1.2,1.4 -1.8-.8 -.5,.7 .9-.6 2.5,.2 2.6-.2 .3-.6 -.1,.7 -1,1.4 .5,2.2 -.3,1.7 -.6,.8 -1.1-.3 -1.6-.5 -.8,.4 -1.6,.6 -1.3,.2 -1.1-.8 .4-.8 -.6,.1 .4-1 -.6-.8 1-.2 -.4,0 .3,.7 -.2-.3 -.6,2.5 -1.9,.8 -1.6,.8 -.6-.5 1.6,1.4 .4,2 -.9,.6 -2.9-1.7"/>
<path d="M815.3,147.7l-3.7,0 -2.3-.5 -1.2,0 -1.5-.2 -2,.6 -.4,.5 1.2,.7 1.1,.2 -.1,.1 -1.2,.2 -1.2,.5 -1.1-.7 -.1-1.1 .6-1.1 -.9-1.3 -2.3-.6 -2.8-.2 -1.9,.2 -1.7,.3 -2.5-.3 -1.4,.4 -1.2,.2 .3-.4 .4-1.1 .2-.5 1.7,1.1 1.6,1.2 1.2,1.3 -.2-.6 .6,.2 2-.6 .3-.1 -.9-.7 -.8-1.4 .7-1 .7-.9"/>
<path d="M815.3,147.7l-1.1-4.4 0-3.3 .8-2.1 -.1-1.8 .2-.6 .1-.2 1.9,.4 .6-.7 -.3-.3 .1,.5 -.1,.7 -1.5,1.1 -2.1-.8 .3,.8 -.1,.1 .7,.7 -1.1-1.7 -2-1.7 -2.3-1.2 -.7,1 .9,1.7 2,1.5 1.4,1.4 .2,.1 -.6,.1 -.6-1 -.6-1 .7-1.6 .2-1.6 .8,0 -.3-.2 1,.8 .4,.4 -.1,1.1 -3-.1 -4-1.6"/>
<path d="M815.3,147.7l-1.6-.5 -1.6,.7 0,.9 -.9,.9 -.5-.1 -.5-.6 .4-.6 .7-1.5 -.1-.2 -.5-.1 -.5-.6 .4-2.4 .5-2.8 1.5-2.1 -.1,.1 0,.1 -1.1,.7 -1.2-.8 -1.2,.3 -.8,.7 -.3,1.4 -.3,1.7 -.5,.8 .4-.8 -.1-2.2 -.5-2.8 -2.3-3 -1.4-3 .1-1.6 .3,.7 .2,2 -2.1,2.2 -.6,1 -1.2,0 -.2,.9 -.8,2.9"/>
<path d="M815.3,147.7l-1.1,.9 -1.3,.9 -.6,1.1 -.6,1.2 -.4,1 -.2,1.3 .7,1.3 1.7,.6 .4,.4 -1,.4 -2.5,1.2 -2.6,1.4 -2.4,.7 -2.1,.8 -2.4,.9 -1.4,1.4 -.7,1.9 -.4,2.7 .5,2.2 1.7,1.2 3.2-1 2.3-.2 -.2-.2 -1.9,.4 -2.4,.2 -3.3,.5 -2.3,1.2 -1.3,.1 .6,.3 .8-.7 -1.3,.5 -1.4-.9 -1.7,.2 -.2-1.6 0-1 .2-1.6"/>
<path d="M815.3,147.7l2,.7 .1,.4 -1.4-.4 -1.2,.2 -.4,.6 -.1,2.1 0,0 -.2,.8 -.2,.7 -.4,2.8 -.3,2.3 -.4,2 -.5-.5 -.5-1.8 .7-1.8 1-.3 -1.2,1.6 -2.6,1.6 -.8-.1 .7-.9 1.4-2.5 -1-.4 -1.1-.3 -2.4,.4 -3-.6 -1.8-.8 -1-.1 .6-.4 .2,.8 1.9,.3 .7,1.8 1.1,1.4 -.2,1.5 1.5,1 1.6-.6 2-1.2"/>
<path d="M815.3,147.7l-1.3,1.7 -.6,1.6 -.5,1.5 -.5,.3 -.2,.7 -1,.3 -.7-.9 -1.1-1.7 -.2-1.2 -.6,.8 -.3,.6 .1,.7 0-.6 -.2-2 -1.5-2.3 -.6-2.7 -.4,.7 .7,.4 .2,.4 .1-1.1 .4,0 .4,.8 .3,1.9 -1.3,.8 -1.8,.9 -1.4-.3 .1-.2 .1-.8 -1.5-.6 -2.3-.2 -1.1-.3 -.9-.1 -1.2-.5 -1.5-.1 .5-1.2 2.4-1.8"/>
<path d="M815.3,147.7l-4,.1 -2.2-.3 -.4-.4 .2-1 1.1,.1 1,1.1 -1.1,1.3 -2.7,.6 -1.3-.1 .1,.7 .3,.3 .1,.6 -.7-.1 .3,.4 -.6,0 .6-.6 .5-1.6 .8-.2 0,.3 -2.3,.9 -3.1-.7 -2.6,.7 -1.7,1.2 -.7,1.7 .2-.8 2.5-.9 1.8-2.5 .8-2.7 -.6-2.9 .2-2.3 .5,.5 1.2,1 .3,2.7 -.9,0 -.9-.4 .8-1.9"/>
<path d="M815.3,147.7l2.4,2.5 -.5,2.2 -.1-1.1 .1-.9 .2-2.1 .1-1 -.2-2.1 .3-2.6 -1.6-2.3 -3.2-.5 -1.2,.3 -.6,.4 -.8-1.1 -1.4-1.8 -1.9-.9 -.7,1 -1.2,.3 -1.6,1.2 -1.6,0 0,1.2 2-.5 1.2,.3 -.6,.5 -.3,1.1 -.9,.4 0,0 -1.2,.6 -.3,1.3 -.1,2 -.9,1.8 0,.9 -.8,1.1 -.3,1.2 -.8,1.5 -1.2,1.5 -2.2,1.2"/>
<path d="M815.3,147.7l-1.2-3.5 -2.5-2.9 -1.9-1.6 -2.3-1.6 .6-.2 .8,.9 .7,.6 .3-1.2 .3-3 0-2.2 -1.8-1 -1.4-.4 -.6-.2 .9-1.3 1.2-.6 -.3-1.3 -.9-.1 -1.8-1.4 .2-.6 1.3-1.1 1.5-.1 1.1-.2 .6-.2 2.1-.7 .5-.9 0,.9 -.8,1.7 .3,3 .4,1.1 -1.2,1.6 -1.5,1.4 -.9,.7 -.4,.4 -.8-.6 -1.1-.4 -1.2-1.5"/>
<path d="M815.3,147.7l-.2,.6 -.5,1.4 1.5,1 .1,2.2 1.1,.5 -.4-1 -.2-2.5 -1-1.4 -.6,1.4 -1.9,1.8 -1.5,2.3 -1,1.2 .9,1.1 1.2-.1 -1.3,1.1 -.9,3.2 .3,3.8 2.7,1.3 1.5,.4 .4-1.1 -.3-.8 .5-.3 -.1,.5 .3,1.4 .5-.3 1-1.6 .4-.8 -.4-.2 .3,2.2 -.3,.8 -.5,2.1 -.3,1.4 .2,1.7 .7-.1 -2.1-.9 -4.5-1.2"/>
<path d="M815.3,147.7l.4-.4 .3-1.2 -.4-.9 -.2,.1 -1.2,1.5 -.8,1.2 .6,.1 1.2-.1 1.1-.5 .3-.3 .3,0 -.1-.4 .2-.5 .6-.3 .1-.7 0,.2 -.2-.8 -1.7,.4 -2.9,.2 -1.8,.1 -.5,.6 1.5,2.5 .6,3.1 -.8,2.7 -.9,.8 -.2,.7 .8-.4 1-.7 .8-.7 1,.9 1.1,2.1 2.2,2.1 -.2,.6 -.1,.5 -.5,1.6 -2.5,3.4"/>
<path d="M815.3,147.7l1.4,.4 1,.8 -.1-.2 .1,.3 -1.4,.6 -1.2,2.2 -.9,2 -.6,1.3 -.7,1.6 -.6,1.3 -.2,.6 -.5-.3 .5-1.4 -.7-1.5 -.4-2.2 -1.9-1.1 -1.9-.4 -2.5,.2 -1.6-1.6 -.7-1.4 .1-1 0-.6 -.2-.3 .8-1.4 .2-1.5 .1-2.7 -1.4-1.2 .6-1.7 1.7-1.5 3-1.9 2.2-.6 .5,.1 .5-.8 0-.7 .7-.6 .2,0"/>
<path d="M815.3,147.7l-2-.7 -3,.1 -3.5-.2 -1.5,1.2 .3,0 1.3,1.3 .3,.5 -1.4,.6 -1.1-.1 -.7-.3 1.2,.6 -.2,2.2 -.2,2.4 -1.6,1.5 -.3-1.1 0-1.2 1.6-.5 1.4,.9 1.9,1.1 -1.1,1.3 -1.7,1.3 -1.8,.9 -.8-.2 -.3-.7 -1.2-.6 -.2-.3 -.6-.7 -1.8-.4 -2,.7 -1,.6 1.3,.7 1.3,.8 1,.3 1.6,0 1.1-1 0-.6"/>
<path d="M815.3,147.7l.6,.5 .1,.2 -.1-.2 .5-.4 -1.1-1.2 -1.4-.5 -2.3-.8 -1.6-.2 -1.5,.2 1,.8 1.8,1.1 .2,.3 -2-1.2 -2.3-2.3 .2-2.2 1.4-1.1 1.4,.1 .7-.8 .6-1 1-1.9 .6-1.4 .9-1.3 .5-.1 .7,1 .4,.9 -.4,.5 -.2,.2 -1-.1 -.6,0 -1.5-1 -.8-.9 .1-1.5 -.2-.7 .1-.9 -1.4,.4 -1.5,.7"/>
</g>
<g fill="#000"><circle cx="734.6" cy="146.7" r="3.25"/><circle cx="751" cy="169.3" r="3.25"/><circle cx="770.4" cy="169.3" r="3.25"/><circle cx="780.8" cy="172.7" r="3.25"/><circle cx="790.2" cy="167.5" r="3.25"/><circle cx="776.3" cy="121.7" r="3.25"/><circle cx="802.4" cy="113" r="3.25"/><circle cx="810" cy="110" r="3.25"/><circle cx="807.6" cy="120" r="3.25"/><circle cx="794.7" cy="140.8" r="3.25"/><circle cx="785" cy="166" r="3.25"/><circle cx="800" cy="128" r="3.25"/><circle cx="797" cy="152" r="3.25"/><circle cx="803" cy="160" r="3.25"/><circle cx="806" cy="135" r="3.25"/><circle cx="799" cy="145" r="3.25"/><circle cx="793" cy="158" r="3.25"/><circle cx="789" cy="150" r="3.25"/><circle cx="809.5" cy="160.3" r="3.25"/><circle cx="802.8" cy="161.2" r="3.25"/><circle cx="806.5" cy="163.2" r="3.25"/><circle cx="810.4" cy="155.2" r="3.25"/><circle cx="808.4" cy="140.3" r="3.25"/><circle cx="792.4" cy="138.4" r="3.25"/><circle cx="811.1" cy="158.7" r="3.25"/><circle cx="801.3" cy="157.9" r="3.25"/><circle cx="796.5" cy="142.1" r="3.25"/><circle cx="807" cy="134.2" r="3.25"/><circle cx="798.9" cy="140" r="3.25"/><circle cx="791.7" cy="167.4" r="3.25"/><circle cx="810.1" cy="158" r="3.25"/><circle cx="797.9" cy="143.2" r="3.25"/><circle cx="802.8" cy="142.5" r="3.25"/><circle cx="795.4" cy="155.3" r="3.25"/><circle cx="805.5" cy="131.2" r="3.25"/><circle cx="810.9" cy="168.8" r="3.25"/><circle cx="814.4" cy="165.2" r="3.25"/><circle cx="811.4" cy="132.5" r="3.25"/><circle cx="801.6" cy="158.1" r="3.25"/><circle cx="808.2" cy="132.9" r="3.25"/></g>
<text x="126.6" y="90.9" font-size="26.7" text-anchor="start" font-weight="normal" textLength="73.5" lengthAdjust="spacingAndGlyphs" >No EF</text>
<text x="103.2" y="80.6" font-size="19.3" text-anchor="end" font-weight="normal" >100</text>
<text x="103.2" y="154.3" font-size="19.3" text-anchor="end" font-weight="normal" >0</text>
<text x="103.2" y="236.1" font-size="19.3" text-anchor="end" font-weight="normal" >-100</text>
<text transform="translate(53.3 142.8) rotate(-90)" font-size="22" text-anchor="middle" font-weight="normal" textLength="131.5" lengthAdjust="spacingAndGlyphs" >(Distance µm)</text>
<line x1="161.7" y1="267.9" x2="161.7" y2="430" stroke="#e0e0e0" stroke-width="1.7"/>
<line x1="325.1" y1="267.9" x2="325.1" y2="430" stroke="#e0e0e0" stroke-width="1.7"/>
<line x1="488.5" y1="267.9" x2="488.5" y2="430" stroke="#e0e0e0" stroke-width="1.7"/>
<line x1="651.9" y1="267.9" x2="651.9" y2="430" stroke="#e0e0e0" stroke-width="1.7"/>
<line x1="121.2" y1="308.4" x2="976" y2="308.4" stroke="#e3e3e3" stroke-width="2.1"/>
<line x1="121.2" y1="389.4" x2="976" y2="389.4" stroke="#e3e3e3" stroke-width="2.1"/>
<line x1="975.2" y1="267.9" x2="975.2" y2="432" stroke="#c8c8c8" stroke-width="1.5"/>
<line x1="121.2" y1="348.8" x2="976" y2="348.8" stroke="#8a8a8a" stroke-width="2.0"/>
<line x1="815.3" y1="267.9" x2="815.3" y2="430" stroke="#989898" stroke-width="2.8"/>
<line x1="120.2" y1="267.9" x2="977" y2="267.9" stroke="#a6a6a6" stroke-width="3.1"/>
<line x1="120.2" y1="430" x2="977" y2="430" stroke="#a6a6a6" stroke-width="3.1"/>
<line x1="121.2" y1="267.9" x2="121.2" y2="430" stroke="#999999" stroke-width="2.0"/>
<g fill="none" stroke="#000" stroke-width="1.25" stroke-opacity="0.7" stroke-linejoin="round">
<path d="M814.5,348.3l-5.9,.1 -5.5,0 -5.4-.3 -5.6-.6 -5.8-.9 -6.2-.6 -6.7-.8 -6.1-.4 -5.8-.3 -5.5,0 -6.3-.2 -6-.2 -5.7-.5 -5.4-.5 -5.7-.6 -5.4,0 -5.7,.7 -5.1,1 -4.7,1.1 -4,.9 -4.5,1 -4.7,.9 -4.8,.7 -4.9,.4 -5.6-.2 -5.4-.2 -4.7-.5 -4-.2 -4.5-.3 -4.6,0 -4.3,.5 -4.4-.1 -5.4-.5 -6.3-.5 -7-.5 -6.5-.1 -5.8-.1 -5.4,.6 -5.1,.7 -4.9,.3 -4.7,.4 -5.1,.4 -5.3,.9 -5.7,1 -5.6,1.2 -5.3,.4 -5.2-.6 -5.2-.5 -6.2,.1 -6.4,.7 -5.6,.9 -5.2,1.2 -4.4,.2 -5.5-.1 -5.2-.9 -5.4,.3 -5.1,0 -4.6,.8 -4.5-.2 -4.2-1.1"/>
<path d="M814.5,348.3l-5.3,1.7 -5.9,1.5 -5.8,.2 -6.4-.1 -6.1-.8 -6-.3 -5.9-.1 -5.4-.1 -5.9-.2 -5.2-.1 -5.2,.1 -4.6-.2 -4.6,0 -4.7,.6 -4.6,1.1 -4.8,1.3 -5,1.3 -5.5,.7 -5.5,.2 -5.6-.6 -5.1-.3 -4.8-.4 -4.6-.5 -5.1-.4 -5.1-.2 -4.8,0 -4.2-.1 -4.4-.4 -4.4-.4 -4.4,.2 -5,.4 -5.8,.6 -6.4-.1 -5.4,0 -5.7-.4 -6.2-.9 -6.2-1.1 -5.5-1.6 -5.2-2 -5.5-2.1 -5.3-1.1 -4.9-.2 -4.7-.3 -4.1-.4 -4.8-.2 -4.5,0 -5-.3 -4-.4 -4.8-.1 -4.7-.8 -5.6-.8 -5.6-1.7 -6-1.2 -5.8-1.6 -5.4-1.1 -5.9-1 -5.8-.9 -6-.7 -6-.3 -6.4,0"/>
<path d="M814.5,348.3l-5.1-1.3 -5.3-.7 -5.9-.2 -5,0 -5.6,0 -5.6-.2 -5.9-.3 -5.4-.2 -5.9,.3 -6.1,.4 -6,.7 -5.2,.4 -5.4,.2 -5.2-.2 -5.6-.4 -4.8-.5 -4.7-.2 -4.2-.1 -4.6-.2 -5.1,.2 -4.7,.1 -4.9,.5 -4.1,0 -4.6,.2 -4.5,0 -4.9-.1 -4.9-.4 -5.3-.4 -5.2,.1 -5.8,.2 -4.7,0 -5.4-.2 -5-.6 -5.9-.4 -5.4-.5 -5.8-.8 -5.2-.8 -5.3-.6 -4.2,.5 -4.7,.8 -4.6,1 -4.8,1.4 -3.8,1.2 -4.3,1.1 -4.8,.2 -5.3,0 -5.7-.5 -5.7-1.4 -5.9-1.1 -5.1-.3 -4.8,1.3 -5,1.8 -5.3,1.5 -5.3,.1 -5.4-.8 -4.7-2.1 -5.3-.9 -5.2-.7 -6.2-.1 -6.2-.9"/>
<path d="M814.5,348.3l-3.1-.8 -4-.4 -4.5,.2 -5.2,.5 -5.2,.4 -5.2,.4 -5.6,.5 -4.7,.4 -4.5,.3 -4.5,.1 -5.4,0 -5.8,.2 -5.6,.5 -5,1.1 -4.3,.8 -3.8,.6 -4,.1 -4.3,.3 -4.3,.3 -4.6,.1 -4.8,.7 -5,.8 -5.1,1.2 -5.1,.6 -5.2,.1 -5.2-.1 -5.6-.4 -5.4,.1 -5.3,.3 -4.5,.3 -4.4-.6 -3.7-.5 -3.4,.4 -3.5,1.4 -3.9,.6 -4.3,.5 -4.1,.4 -4.6,.8 -6.3,.6 -6.8,.1 -6.1,.2 -5.8,.6 -6,.5 -6.7,1.1 -6.2,.9 -5.5,.5 -4.7-.5 -3.6-.9 -3.3,.9 -4.5,.7 -5.4,1.4 -5.2,.6 -4.4,1.6 -4.5,.9 -5,1.4 -5.4,1.2 -5.4,1 -5.3,.4 -5.1-.2 -4.8,.1"/>
<path d="M814.5,348.3l-5.3-.4 -5.2-.3 -5.1-.1 -5.3-.6 -5.1-.2 -4.8-.4 -4.3-.2 -4.2-.6 -4.1-.8 -4.6-.8 -4.8-.8 -4-.8 -4-1.1 -4-1.2 -4.6-1.1 -4.6-.8 -3.8-.5 -4.1-.1 -4.1-.6 -5.4-.7 -5.3-1.2 -5.6-.6 -5.2-1.1 -5.2-.9 -5.2-.7 -5.2-.5 -5.8-.7 -4.8-1.2 -4.4-1.4 -3.7-.8 -3.9-.1 -4.1-.6 -4.9-1.3 -5-1.8 -4.9-1.1 -4.7-.9 -5.1-1 -4.9-.4 -4.4-.5 -4.3-.6 -5.2-.9 -5.3-.7 -5.3-.3 -4.2,0 -5,.7 -5.4,1.2 -6,1.1 -4.6,.6 -4.3,.7 -3.9,.2 -5.1-.3 -5-1.3 -4.6-1.2 -4.9-1.5 -4.9-1.4 -4.8-2.1 -4.3-1.8 -4.5-1.3 -4.7-1.2 -4.5-1.3"/>
<path d="M814.5,348.3l-4.5-2 -4.1-.6 -3.9-.2 -4.8-.8 -4.8-1.1 -4.7-.5 -4.8-.3 -5.2,0 -5.3-.5 -4.8-.6 -4.8-.8 -4.3-.7 -4.1-1.1 -3.9-1.4 -4.8-1.1 -5.8-.3 -6,0 -5-.7 -4.3-.9 -4.6-1 -5-.2 -5.4,.1 -4.2,.1 -3.5-.2 -3.5-.6 -4-1 -4.8-1.8 -3.6-1.4 -3.8-.6 -3.2,.1 -3.9-.2 -3.8-.3 -3.9-.4 -4.1-1.2 -4.4-.8 -4.8,0 -5.4,.4 -4.6-.3 -5.2-1.7 -4.8-1.4 -5.9-1.1 -5.9-.1 -5.1,.2 -4.4-.6 -3.2-.5 -3.6-.9 -3.7-2 -4.5-2.6 -4-2 -4.3-1.4 -3.9-1 -4.1-1.3 -3.6-1 -3.2-1.3 -3.8-.9 -3.7-.7 -3.8-.3 -3.8-1.1 -3.4-.6 -3.4-.7"/>
<path d="M814.5,348.3l-2.5,.1 -3.2,.2 -4,.1 -4.5-.1 -5.2-.8 -5.2-.9 -4-.6 -3.6,.2 -3.5,.2 -4-.1 -4.3-.4 -4.7-.5 -4.8-.5 -4.2-.5 -4.1-.3 -4-.6 -4.6-.6 -4.7-.5 -4.6-.4 -4.2-.2 -3.9-.5 -3.6-.1 -4.4-.2 -4.4-.3 -4.8-.1 -4.5,.6 -4.8,1 -4.2,.5 -4.1,.1 -3.4-.3 -3.7,0 -3.6-.5 -3.9-.3 -3.8-.7 -3.8-1.4 -4.5-2.4 -4.6-2.1 -5-1.6 -4.4-1.7 -4.9-1.5 -4.2-1.1 -5-1.1 -4.2-1.2 -4.6-1.9 -5.1-.9 -4.6-.6 -4.5,.2 -3.6-.2 -4.3-1 -4.3-1.8 -4.3-.9 -3.8-1 -3.6-.1 -3.2-.7 -3.9,.3 -3.8-.5 -4-.9 -4.4-1.5 -4.9-2 -5-2.8"/>
<path d="M814.5,348.3l-5-.8 -5.3-1 -5.2-.2 -5.3-.4 -4.5,.4 -5.2,.3 -5,.2 -6-.2 -5.9-.3 -5.7-.5 -5.3-.5 -4.6-.4 -4.5-.5 -4.1-.3 -4.6-.7 -4.4-.1 -4.7-.4 -4.8,0 -5.1-.6 -4.7-.2 -4.3-.3 -4.5,0 -5-.4 -4.9-.7 -4.3-.5 -4.3-.8 -5.2-.3 -5.5,.1 -5.2,.6 -4.7,.2 -4.7-.4 -4.8-.9 -4.5-1.2 -5.2-1.1 -5-1.2 -5-.4 -4.3-.2 -4.1,.1 -3.5,.1 -3.6-.1 -3.5,.3 -4.7-.4 -5-1.1 -5.2-.8 -4.2-.6 -3.9,.3 -4,.2 -3.5,1 -3.6,.7 -3.7,.1 -4.6-.9 -5.2-1.1 -5.6-1.2 -5.8-1.1 -6.4-.7 -5.6-.4 -5.7,.7 -4.5-.5 -5.1-.6 -4.8-1.3"/>
<path d="M814.5,348.3l-4.7,2 -4.4,.3 -4.8,0 -4.2,.6 -4.6,.8 -4.8,.3 -4.4-.2 -4.1-.6 -3.7-.8 -4-1 -4.1-.2 -4.1,.7 -3.9,.8 -4.2,.4 -4.7-.3 -4.7-.2 -4.6-.1 -3.7,.1 -4,.9 -4.4,1.3 -4.4,2 -4.5,1.5 -4.1,.7 -4.4-.1 -4.5-.5 -4-.4 -3.9,.3 -3.8,1.3 -4.3,2 -4,1 -4.2,.9 -3.6,0 -3.8,.1 -4.5,.1 -4.3,.3 -4.3,1.1 -3.4,1.6 -3.9,1.6 -4.2,.8 -4.8-.5 -4.7-1 -4.4-1 -4.1,0 -4.2,.4 -4.4,.6 -3.8,.8 -4.2,.1 -4.5,.1 -5.6-.3 -5.2,1 -4.8,.7 -4.2,.8 -3.7,.3 -4,.9 -4.2,.7 -4.4,1 -4.5,1.2 -3.2,1.7 -3.4,1.5 -3,1.1"/>
<path d="M814.5,348.3l-3.8-.6 -3.2-.2 -2.8-.2 -2.8-.1 -3.6-.2 -4.2-.3 -4.3-.2 -4.6,.4 -5,.6 -5.3,.8 -4.8,0 -4,.3 -3.7,.6 -3.6,.5 -4-.1 -3.6-.5 -4.5-.5 -4.2-.4 -4.5-.5 -3.8-.3 -4.2-.5 -3.5,.1 -3.9,.3 -3.8,1.3 -4.3,.5 -4.4,.1 -4-.8 -3.9-.1 -3.3-.2 -2.8,.8 -3.1,.7 -3.2,1 -3.8,1.3 -3.5,1.5 -4.2,1.1 -4.2-.1 -5.1,0 -4.5,.1 -4.4,.9 -3.6,1.3 -3.9,1.3 -3.6,1.6 -4,.8 -4,1.4 -3.8,.3 -3.5,.9 -2.9,.3 -3.3,.9 -3.5,.3 -3.7,.7 -3.8,.6 -3.5,1 -3.8,.2 -3.8-.4 -4.4,.1 -4.4,.7 -4.2,1.7 -4.5,2.2 -4.8,1.6 -5.1,.5"/>
<path d="M814.5,348.3l-3.7-.3 -4,.1 -4.4,0 -4.7,.2 -4.7-.2 -4.5-.1 -4.5-.3 -4.1-.4 -4.3-.2 -4.2-.2 -4.1-.3 -4.1-.5 -4.2-.5 -4.9-.2 -4.6,.2 -4.6,.4 -4.3,.3 -4.8,.2 -4.9-.6 -5.4-1 -4.3-1.2 -5-.5 -4.8-.1 -5.6,.8 -4.9,.9 -4.6,.8 -4.7,.3 -4.1,.6 -4,.5 -4,.9 -4.2,.4 -4.8,1.3 -4.3,1.1 -4.5,1.6 -3.4,.9 -3.7,.6 -3.2,.1 -3.9,.4 -3.8,.5 -4.2,.7 -4,.5 -4.1,.6 -4.1,.6 -4,0 -3.6,.4 -3.6,.5 -3.2,1.2 -4.3,.9 -5,.7 -5.2-.1 -5.2-.4 -4.5,.5 -5,1 -4.9,2.1 -5.1,1.5 -4.6,1.5 -4.6,.3 -4.5,.6 -4.5,.3 -3.8,.2"/>
<path d="M814.5,348.3l-3.4-.6 -3.9,.3 -4.2,.6 -4,.3 -3.7,.1 -4.3-.1 -4.5-.3 -5.2-.3 -5.4,0 -4.9,.2 -4.5,.2 -4.8,.2 -5.3,.5 -5.8,.5 -5.2,.6 -4.8-.1 -4,0 -5-.1 -5.6,.1 -6,.2 -5.2,.6 -4.5,.5 -4.9-.1 -5-.5 -5.5-.7 -5-.8 -5.1-.3 -4.4-.6 -4.6-.3 -3.6-.6 -4.4-.2 -4.4-.2 -5.1-.1 -4.5,1.3 -4.3,1.8 -4.6,1.1 -4.1-.2 -3.9-1.2 -3.9,.1 -4.9,.9 -4.8,1.6 -4.9,1.6 -5.2,1.3 -6.3,1 -5.7,.7 -5.7-.4 -5.4-.3 -6.2-.1 -5.6,1.4 -4.7,1.2 -4,1.4 -4.3,.5 -5,.6 -5.5,.1 -5.4-.6 -4.9,.6 -4.4-.4 -4.4,.3 -4.8,0 -5.4,1.4"/>
<path d="M814.5,348.3l-4.8,.2 -4.8,.2 -4.5,.3 -4.3,.4 -4.2,.4 -4.7,.4 -5.1,.1 -5.4-.1 -5.3,0 -4.2,.6 -4,.8 -3.9,.7 -4.7,.4 -4.6,.5 -4.7,.9 -4.8,.5 -4.5,.1 -4.1-.2 -4.3,.3 -4.7,.5 -5.2,.3 -5.1-.1 -5-.1 -4.3,.2 -3.8,.5 -4.3,.8 -4,.5 -4.8,.1 -4.9-.5 -5.4-.5 -4.3-.4 -4.1-.1 -4.3,.4 -5,.6 -4.8,.3 -5.3,.1 -5.1-.8 -5.2-.5 -5-.2 -4.8,.6 -4.8,.7 -3.9,1.1 -4.5,1.1 -4.7,.5 -5,.2 -4.7-.6 -4.9-1.1 -4.9-1.4 -4.7-.2 -4.8,.8 -4.9,1.2 -4.6,.7 -4.9,1.2 -5,0 -5.4-.4 -4.8-.1 -4.7,.3 -4.7,.6 -4.7,.5 -4.6,1.4"/>
<path d="M814.5,348.3l-5.3-.9 -4.8-.5 -4.7,.1 -4.7,.1 -4.9,.4 -4.6,.2 -4.1-.1 -4.3-.3 -4.9-.4 -4.8-.1 -4.6,.3 -5,.2 -5.4,0 -5.7-.6 -5.4-.4 -5.5-.2 -5.2,.1 -5.4-.3 -4.9-.4 -5.4-.1 -5.1-.2 -6.1-.2 -6-.9 -5.9-.5 -5.3,0 -5-.8 -5.2-1.2 -5.3-1.1 -5.1-.1 -5.1,.5 -4.8,.8 -5.1,1 -4.8,.7 -5,.3 -4.3,.1 -5.2,.2 -5.4,.3 -5.4,0 -5-.2 -4.4-.5 -5,.6 -5.2,1.2 -5.6,1.4 -5.5-.2 -5.1-.2 -4.3-.1 -4.7,.6 -4.9,1.1 -6.2,.8 -5.7,.9 -6.3,.6 -5.3-.3 -4.6-1.7 -4.5-2.7 -4.5-2 -5.3-1.4 -4.8-.7 -4.3-1.1 -4.6-1 -5-1.7"/>
<path d="M814.5,348.3l-4.9,3.5 -4.1,2.7 -4.1-.1 -4.3-1 -4.7-1 -4.9,.1 -5.6,1 -5.9,1 -5.6-.4 -5.6-1.6 -5.8-1.9 -5.8-1 -6,.5 -5.8,1.7 -5.9,1.4 -5.2-.2 -5.1-1.3 -4.7-1.1 -4.6-.9 -4.5,.5 -4.6,1.3 -4.5,1.7 -4.4-.1 -5.3-1.3 -5.2-1.6 -5.6-.5 -5.2,.6 -5.2,1.2 -5.3,1.4 -5.1,.7 -5.5,.2 -5.1-.5 -4.7-.6 -3.8,.3 -4,1.1 -4.3,.9 -5.3-.4 -5-1 -4.6-.5 -4,0 -4.6,.5 -5.9-.3 -6,.1 -4.9-.4 -3.8-.2 -4.1-.2 -4.9,.7 -5.9,1.1 -5.3,.7 -5.2,.4 -4.1,.4 -4.4,0 -4-.5 -5-.9 -5-.5 -5.6,.3 -5.7-.4 -5.6-.2 -5.4-1.6 -5.3-1.1"/>
<path d="M814.5,348.3l-6-.6 -5.6,.2 -5.5,.1 -4.6-.7 -4.7-.5 -4.2-.1 -4.6,.2 -4.4,.4 -4.6,.1 -5.1,.1 -5.2-.4 -5.1,.1 -5.4,.6 -5.5,1.2 -5.6,.6 -5,.1 -5.1-.6 -5.2-.7 -5.3,0 -5.2,.9 -5,1.7 -5.1,.5 -4.7-.9 -4.8-1.5 -4.4-1 -4.8,0 -4.6-.2 -5.2-.4 -5.2-.5 -5.6-.6 -5.3-.3 -5-.9 -4.6-.1 -4.3,.1 -4.5,.8 -4.6-.5 -4.6-1.2 -5.1-1.7 -5.1-.9 -5.5-.5 -5.4-.1 -5.1,.8 -4.8,.7 -5,.5 -5.2-.6 -4.9-.7 -4.6-.4 -4.7,.1 -4.8-.1 -4.8-.4 -4.4-1.1 -4.8-1 -5.2-.8 -5-.3 -4.9-.3 -4.6-1.2 -4.5-1.8 -4.1-1.3 -4.1,0 -4.7,1.5"/>
<path d="M814.5,348.3l-4.7-1.1 -5.1-.5 -5.3,0 -4.7,0 -4.9,.3 -5.1-.2 -5.5-.5 -5.4-.5 -5.4-.2 -5.2,0 -4.7-.2 -4.2,.2 -3.8,1 -3.7,.8 -3.6,.3 -5.1-.4 -5.3-.4 -5.9,0 -5.2,0 -5.3,0 -4.9-.5 -4.5-.3 -4.6-.3 -5-.1 -5.3,.4 -6.1,.6 -5.9,.8 -5.6,.6 -5.1,.3 -4.8,.1 -5.1,.2 -4,0 -4.8-.2 -5.1-.3 -5.6,.4 -5.1,.1 -4.7-.4 -4.8-1.5 -4.5-1.3 -4.8-.8 -5-.4 -4.7-.1 -4.3-.5 -4.8-.2 -5.2-.2 -5-.9 -4.6-.7 -4.3-.3 -5.2,.6 -4.8,1 -4.5,.9 -3.9,1.2 -4.1,.6 -4.7,.5 -4.7,.1 -4.9,.7 -4.7,.2 -4.7-.2 -4.4-1.1 -4.6-1.2"/>
<path d="M814.5,348.3l-4.4,1.5 -4.5,1 -5.3,.6 -5.3,1.1 -5.2,1.2 -4.5,.6 -4.2,.1 -4.3-.3 -4.5-1 -4.8-.8 -5-.7 -4.8,.4 -4.7-.3 -4.7-.3 -4.8-.4 -4.1,.6 -4.6,.9 -4.8,.3 -5.7,.3 -5.9-.1 -5.5-.4 -4.7-.1 -4.3,0 -4.5-.3 -4.9-1.5 -4.9-1.8 -5.1-1.1 -5.6-1.4 -5-1.2 -4.5-.8 -4.2,.1 -4.6,.6 -4.8,.4 -4.7,.8 -4.9-.1 -5.9-.2 -5.5,.2 -5.4,.7 -5,.8 -5.3,.4 -5,.4 -4.5,.8 -4.6,1 -4.4,1.3 -3.8,.8 -3.6,.4 -4.3,.4 -5,.8 -5,1.1 -5,.9 -4.5,1.2 -4.6,.1 -4.1,.4 -4.8-1.3 -5.5-1.2 -5.1-1.8 -4.8-.6 -3.7,.3 -4.4,1.1 -4.4,1.3"/>
<path d="M814.5,348.3l-5.7,1.7 -6.2,.7 -5.5-.6 -5-.8 -4.4-.6 -4.5-.2 -4.3,0 -4.5,0 -4.6-.2 -5.2-.2 -5.1-.6 -5.8-.4 -5.4,.1 -5.5,.3 -5.1,.1 -5.4-.2 -5.2-.5 -4.7-.3 -4.6-.2 -4.2-.2 -4.9-.3 -5-.3 -5.2-.2 -5.1-.3 -5.2-.1 -4.9-.3 -4.7,.3 -4.9,.1 -5,.1 -5.2-.3 -4.8-.3 -5.4,.5 -4.4,.3 -4.3,.3 -3.4,.1 -4.1,0 -4.5,0 -4.8-1 -4.9-1.8 -4-1.7 -3.9-1.2 -3.4-.1 -3.9-.1 -4.3,0 -5-.9 -4.7-1.6 -4.3-1.1 -4.1-.5 -4.6-.1 -4.2-1.1 -4-1.6 -3.8-.9 -3.9-.3 -4.1-.1 -4.3-.6 -4.4-.8 -4.4,.5 -4.9,.8 -4.3,.3 -3.4-1.2"/>
<path d="M814.5,348.3l-3.8-1.3 -4.5-.5 -5,0 -5.3,0 -4.5,0 -4.2,.1 -4.2,.7 -4.7,.6 -4.5,.5 -5,0 -4.4-.1 -5.2-.2 -5,.1 -5.6-.2 -5.5-.5 -5.4-.7 -5.2,.1 -5,.3 -4.7,.3 -4.4-.2 -4.1-.1 -4-.3 -4.3-.5 -4.6-.3 -5.1-.2 -4.5-.2 -4.4-.5 -4.1-.5 -4.7-.3 -4.5-.1 -5-.1 -5.1,.6 -5.1,.8 -4.8,1 -4.7,.4 -5,.1 -5,.4 -4.7,.2 -4.3-.4 -4.9-.3 -5.1,.1 -4.8,0 -3.7-.6 -3.6-.6 -4.4-.7 -4.4-.6 -4.3-.9 -4-.4 -4.4,.1 -3.9-.1 -4.3,0 -4.3-.4 -4.6,.1 -4.8,.3 -4.5,.5 -4.9-.3 -4-1 -3.7-1.8 -3.7-.8 -4.1-.3"/>
<path d="M814.5,348.3l-5.4-.8 -5.6-.1 -5.5-.2 -5.6-.5 -5.3-.7 -5.2-.5 -5.3-.4 -5.6-.2 -5.9-.1 -5.4,0 -5.1,0 -5.2-.1 -5.2-.3 -5.5-.5 -5-.6 -5.5-.6 -5.5-.9 -5.3-.8 -5.8-1 -6.4-.1 -6.5,.5 -5.8,.6 -5.7,.2 -5.6-.4 -6.2-.1 -5.9-.2 -5.9,.5 -4.9,.5 -4.6,1.1 -4.3,.2 -4.9-.2 -4.4-.1 -4.9,.1 -5.2,.3 -5.4-.9 -5.6-.7 -5.2-1 -5.5,0 -4.3,.3 -4.7,1.1 -4.6,.5 -4.6,.7 -3.6,.4 -4,.3 -4.4-.8 -5.6-.2 -5.3,.2 -4.9,.4 -4.6-.2 -4.4-.2 -4.6-.2 -4.3,.1 -4.9-.1 -4.2-.6 -4.7-.6 -5-1 -5.6-.1 -4.4,.6 -4,2.2 -4,2.8"/>
<path d="M814.5,348.3l-4.2-.8 -4.6-.5 -4.8,.1 -5,.3 -5.2,.1 -4.8-.4 -5.4-.9 -4.9-.8 -5-.7 -4.5,.1 -5.3-.4 -6.2-.1 -5.9-.3 -5.4,.2 -5,.2 -4.9-.1 -4.8-.3 -4.8-.1 -4.8-.1 -4.6-.2 -4.9,.3 -5.4,1 -6,1.5 -6.2,1.1 -6.1,.5 -5.6-.3 -4.9-.4 -5.2-.3 -5.2-.1 -5.8,.3 -5.4,.1 -5.9,0 -4.9-.3 -5.2,0 -4.9,.4 -5.9,.3 -5.5-.3 -5.4-.4 -4.7-.9 -4.7-.5 -4.9-.2 -5.3,.3 -5.1,.6 -4.9,0 -4.6-.2 -5.2-.8 -5.3-.1 -5.3,.1 -5.1-.6 -4.3-.6 -4.3-.8 -4.1,.6 -4.4-.4 -4.3-.9 -4.6-1 -4.9-.8 -4.7,.1 -4.8-.1 -4.4,1 -4.1,.9"/>
<path d="M814.5,348.3l-6.2,0 -5.9-.1 -5.6,0 -5,.1 -5.2,.3 -5.2,.1 -5.1,0 -5.3-.6 -4.7-.7 -5-.6 -4.2,.1 -4.7,.6 -4.4,.6 -4.4,.1 -4.4-.3 -4.3-.5 -4.4-.9 -5.2-.7 -5.2-.5 -5.9,.4 -5.2,.4 -4.8,.2 -3.9,.2 -4.1,.3 -4.8,.5 -4.9-.2 -5-.1 -5.2-.2 -5.3,.6 -5.2,.4 -4.7,.7 -5.2,.4 -5.6,.8 -5.2,.2 -4.6,.2 -4.7-.2 -5.1,.4 -5.6,.7 -4.8,.8 -5,.6 -4.5,.4 -5.3,.2 -5.8,.5 -5.7,.1 -4.9,0 -4.4-.4 -5.2-.1 -5.9,.7 -5.9,.5 -5.8,.8 -5.2,.1 -5.5-.1 -4.7-.8 -4.1-.8 -4.3-.5 -4.7,.1 -4.5,1.2 -3.9,.7 -3.3,1.2 -3.7,1.2"/>
<path d="M814.5,348.3l-5.1-.2 -5.1,0 -4.9-.1 -4.7-.4 -4.8-.3 -5.2-.1 -5.5,.1 -5.2,.3 -4.7,.3 -4.8,.3 -4.7,.1 -4.7,.2 -4.7,.4 -5,.3 -4.5,.2 -4.4,.8 -4.4,.9 -5.6,.6 -5.9-.5 -6.1-1 -5.4-.7 -4.9,.3 -4.3,.7 -5,1.1 -5.5,.5 -5.1,.4 -4.1,.2 -4.4,.2 -5.4,.2 -5.9-.1 -5.1-.1 -4.5,0 -4.8,.6 -4.3,.7 -4.4,.6 -4.4,.2 -5-.3 -4.9-.3 -4.4-.4 -4.6,.7 -4.8,1.4 -5,1.3 -5.2,1.4 -5.2,1.4 -5.2,1.1 -5.2,.3 -5.5,.2 -5.2,.9 -5.7,1.5 -5,1.8 -6,1.2 -5.1,.5 -5.3-.2 -4.6-.5 -5.1,.5 -4.7,.5 -4.6,.6 -4.4-.5 -4.4-.4 -4.8-.1"/>
<path d="M814.5,348.3l-5.5,1.1 -5,1.4 -5.5,1 -5.6,.9 -6.1,.3 -6,0 -5.6,.2 -5.7-.1 -4.8-.2 -4.1,.1 -3.5,.6 -3.7,.8 -5.1,.1 -5.5,0 -5.5,0 -4.5-.2 -4.7-.4 -5-.5 -6,.4 -5.5,1.3 -5.6,1.3 -4.9,.8 -4.6,.3 -3.7-.1 -3.6,.3 -4.6-.2 -4.9,0 -4.9-.2 -4.4-.1 -3.7,.2 -4.4,0 -4.6-.6 -5.6-.9 -5.4-.9 -5.1,.6 -4.6,1.1 -3.8,1.5 -4.7,1.3 -5.3,.6 -5.7,.1 -5.3,.1 -5,.3 -4.7,.3 -4.8,.2 -5.1,.1 -5.1,.5 -5.6,.8 -5,1.3 -4.7,1.1 -4,.5 -4.6,.1 -4.8,.3 -5.3,.3 -5.1,.5 -5.4,.6 -5.2-.1 -4.8-.4 -4-.1 -3.6,.8 -3.6,.9"/>
<path d="M814.5,348.3l-4.8-1.8 -4.5-.4 -4.4,.3 -4.7,0 -5.1-.7 -4.6-.9 -5.4-.5 -5,.5 -5.8,.9 -4.3,.7 -4.6-.4 -3.8-.6 -4.9-.8 -5.2-.1 -5.7,.5 -5.8,.6 -5.9,.6 -5.9-.1 -5.5,.1 -5-.1 -5,0 -4.7,.3 -4.8,.3 -4.7,.4 -5.2,.2 -4.9-.3 -4.9-1.2 -4.5-1.4 -5.1-.8 -5,.5 -4.8,1.1 -4.9,.9 -5.7,.1 -6-.6 -4.9-.6 -4.3,.1 -4.2,.8 -4.2,.5 -4.4,.1 -3.9-.5 -5-.3 -4.9,0 -5,.3 -4.7,1 -5.1,0 -5.6-.4 -5.1-2 -4.8-1.3 -4.3-.1 -4.7,1.8 -4.8,2.1 -5.2,1.3 -4.9-.4 -4.9-.4 -5.4-1.4 -5.7-1.1 -5.4-1 -4.6-.9 -4.3-.2 -4.7-.6"/>
<path d="M814.5,348.3l-4.4,0 -4.2-.3 -4.7-.1 -4.8,.2 -5.1,.2 -4.4-.3 -3.9-.7 -3.9-.3 -3.9,0 -4.8,.5 -4.7,.3 -5.1,.2 -4.8-.3 -5-.9 -4.9-.4 -4.7-.1 -4.9,.8 -4.7,.3 -4.8,0 -4.2-.6 -4-.8 -3.2-1.3 -3-.8 -3.2-.3 -3.9,.2 -4.2,0 -3.9,0 -4.1,.1 -4.5-.4 -4.7-.5 -5.2-.4 -5,.1 -5.5,.1 -4.9-.3 -4.6-.8 -4.2-.8 -3.9-1.3 -4.1-1.2 -3.5-.7 -3.7-.3 -4.1-.5 -4.2-.2 -4.5-.3 -4.3,.1 -4.5-1 -3.8-.9 -3.7-1.1 -4.3-.3 -4.6-.4 -5.2-.5 -4.4-.3 -4.1-.3 -3.6,0 -4.2-.7 -4.4-1 -4.5-1.5 -4.5-1.7 -4.4-.9 -4.6-.4 -4.6,0"/>
<path d="M814.5,348.3l-5.1,.2 -4.7,0 -4.1,0 -4.6-.4 -4-.5 -4.2-.6 -3.5-.4 -4.2-.1 -4.4-.4 -4.8-.3 -5.3-.5 -6.2-.2 -6.2,.1 -5.4-.1 -4-.1 -3.8,.1 -3.8,.3 -4.5,.2 -4.6-.7 -5-1.1 -5-1.1 -5.3-1.1 -5.4,0 -5.7-.2 -5.8-.1 -5.5-.6 -4.9-.4 -5.1-.5 -5.1-.4 -5.2-1.1 -5.3-.9 -5.6,0 -4.8,1.1 -4.7,1.3 -4.3,.2 -4.8-.1 -4.9,0 -5.1,.6 -5.3,.5 -4.5-.1 -4.4-.4 -4.6-.2 -5.6,.6 -5.3,.4 -5.4,.3 -5.2-.4 -6-.1 -5.7-.4 -5.1-1 -4.6-1.9 -4.4-.8 -5.2-.3 -5.1,1 -5.4,1 -4.7,1 -4.8-.5 -4.9-1.8 -5.2-1.8 -5.1-1.1 -4.7-1.2"/>
<path d="M814.5,348.3l-3.5-1.5 -3.7-1.5 -5.1-.7 -5.8-.1 -5.9,.2 -4.8,.6 -4.5,.2 -4.5,0 -5-.7 -4.3-1.1 -4-.7 -3.9-.5 -4.7,.1 -5.3,.1 -5.5,.3 -4.8,.1 -4.4,.2 -4-.3 -4.3-1 -4.4-1.2 -5-1.1 -4.8-.4 -5.2-.2 -5.2,.8 -5.7,.7 -5.6,.6 -4.8,.6 -4.1,.3 -3.6,.3 -4.3-.8 -4.6-1 -5-1.2 -5-1.7 -4.4-1.2 -4.2-.9 -4.5-.3 -5.1-.7 -5.2-1 -5.5-.3 -5.6-.2 -5.8,.3 -4.8-.3 -4.5-.5 -4.4-1.2 -4.9-.9 -5.1-1.7 -4.8-1 -4.7-1.5 -4.8-.6 -4.7-.3 -4.5,.1 -4.3,.3 -4.3,.2 -4.3,.6 -5.1-.2 -5.3,0 -5.5,0 -4.9,.4 -5.1-.1 -4.9-.8"/>
<path d="M814.5,348.3l-5.4,.5 -5,.4 -4.5,0 -4.8,0 -4.7-.1 -4.7-.2 -4.4-.4 -4.5-.1 -4.3,.2 -4.3,0 -4.7,.1 -4.7-.2 -4.2-.1 -4-.7 -4.6-.5 -4.6-.5 -4.6-.1 -4.5,.3 -5,.3 -5.1-.2 -4.2,0 -3.5-.1 -3.3,.5 -4,0 -4,.8 -3.6,0 -3.8,0 -5-.8 -5.5-.1 -5.1,0 -4.6,.1 -4.2-.7 -4-.4 -3.9-.2 -4.1,.2 -4.6,.3 -4.1,.8 -3.7,1 -3,1.2 -3.1,.7 -3.7,.4 -4.1,.1 -4.9-.4 -5.3,.1 -5.3,.6 -5.2,.8 -5.3,.8 -5.3-.3 -5.2,.3 -5.3,.4 -5.5,1.2 -6.3,1 -5.6,1.3 -5.2,.2 -3.7,.2 -3.9-.3 -4,.1 -3.8-.9 -4.3-.8 -4.8-.6"/>
<path d="M814.5,348.3l-4.7-.2 -5.3,.1 -5.4,.3 -4.5,.3 -4.2,.3 -3.9,.3 -4,.3 -4.3,.4 -3.7,.2 -3.7-.2 -3.6-.5 -4.4-.3 -5.1-.1 -5.1-.2 -5.3-.1 -4.9,.3 -4.7,.7 -4.9,1 -4.6,.7 -4.7,.7 -4.1,.7 -4.6,.8 -4.6,.7 -5.1,.5 -4.3,.3 -4.4,.5 -4.5-.1 -4.6-.3 -4.6-.3 -4.6,.3 -5.3,.1 -5.1,.1 -5.4,.2 -4.9,0 -5,.2 -4.4-.3 -4.5,.2 -4.4-.2 -4.7-.1 -4.7-.4 -4.7,.3 -4.3,.3 -4.1,.7 -4.1-.1 -5,.5 -4.4,.2 -4.2,.7 -3.2-.3 -3.9,.9 -3.6,.3 -3.9,.7 -3.4,.1 -4.3,.9 -4.4,.4 -5.2,.4 -5.7,.9 -5.3,1.9 -5.8,1.7 -5.5,.4 -5.9-.7"/>
<path d="M814.5,348.3l-4.8-.5 -4.3-.2 -5.3,.3 -4.9,.3 -5.8,.3 -4.9,.6 -5.2,.4 -5.2,.2 -5,.1 -5.4-.2 -5,.3 -6,.4 -5.3,.9 -5.4,.7 -4.8,.3 -4.8,.1 -4.5,.5 -4.2,.6 -5,.9 -6,.3 -5.6,.6 -4.8,.2 -4.2,.3 -4.6-.1 -5.4-.1 -6,0 -6.3,.3 -6.1,.5 -5.8,1 -5.4,1 -5,.4 -4.4,.5 -4.5,.6 -4.8,1 -5.1,.8 -5.5,.9 -5.3,0 -5.3-.3 -5.2-.4 -5.3,.9 -5.1,1 -4.7,1 -4.3,.6 -4.6,.6 -4.9,.5 -4.3,1 -4.4,.4 -4.7-.2 -5.3-1.7 -5.1-.6 -4.1,.3 -3.5,1.2 -3.8,.3 -4.2-.2 -3.8-.1 -3.6,.5 -3.3,1 -3.9,1.2 -3.6,1 -3.8,1.4"/>
<path d="M814.5,348.3l-3.8,1.1 -4.5,.6 -4.5,.1 -5.2,0 -4.8-.3 -4.9-.2 -4.4-.1 -3.5-.2 -3.3-.4 -3.3,0 -4.4,0 -4.9,.5 -4.8,.4 -4.4,.6 -4.5,.3 -5.3,.5 -5.4,.2 -4.6,.2 -3.7-.3 -3.7,.2 -4.3,0 -4.3,.1 -4.6-.3 -3.9-.3 -4.6-.1 -4.2-.3 -4.1-.1 -4-.1 -4,.9 -4.5,.9 -4.3,.7 -4.4,.1 -3.8-.4 -3.7-.2 -3.5-.1 -3.8,.5 -4.1,.6 -4.2,0 -4.6,.1 -4.6-.4 -4.4,.3 -4.4-.1 -4.8,0 -4.7-.2 -4.7-.4 -4.6,.1 -4.5,.1 -4,.6 -3.7-.3 -4-.7 -4.7-1 -4.9-.3 -4.9,.4 -4.5,.6 -3.8,.6 -4.5-.1 -5.1-.6 -5.6-.2 -4.4-.5 -3.4,0"/>
<path d="M814.5,348.3l-3.9,1 -3.8,.2 -3.7-.3 -3.9-.3 -4.1,.2 -4.3,.1 -4.2,.5 -4.2,.1 -3.9,.2 -4-.3 -4.2-.4 -4.4-.3 -3.4-.2 -3.6-.1 -3.9-.6 -4.4-.5 -4.3-.8 -4.3-.6 -4.3-.5 -4.9,.4 -5.3,.9 -5.2,.9 -4.8,.8 -4.7,.9 -4.7,.9 -4.8,1.1 -4.8,.8 -4.4,.4 -4.2,.4 -3.6,.1 -3.6,.5 -3.5,0 -4-.3 -5-.2 -4.6,.3 -5.2,.6 -4.4,.5 -4.6,0 -4.4,.4 -5,.7 -5,1.1 -4.8,.7 -4.2-.5 -4-.9 -3.8-.6 -4.5,.4 -4.6,.7 -3.9,.5 -3.8,1 -4.2,1 -5.1,.6 -4.6,.3 -4.2,.3 -4.4,1.2 -5.2,1.4 -4.6,1.8 -4.2,1.4 -3.9,.9 -4.1,.1 -3.7-.4"/>
<path d="M814.5,348.3l-5,1.5 -5.6,.9 -6.1,.7 -5.2,1.1 -4.8,1.2 -4.4,.6 -5.1-.2 -5.5-.4 -5.4-.5 -5.1,.1 -4.5,.8 -4.9,1.5 -4.3,1.3 -5.2,.7 -4.7,.2 -5.3-.2 -4.1-.1 -4.3-.5 -4,.2 -4.3,1 -4.6,1.6 -4.6,2 -4.8,1.8 -4.9,1.5 -5.6,.5 -5.3-.1 -5.2,0 -4.9,.3 -5.6,.7 -5.2,.6 -5.6,.1 -5,.1 -5-.4 -4.2-.9 -3.7-.8 -4.3-.7 -4.4-.5 -5.8-.9 -5.9-.8 -5.4-.7 -4.5-.7 -4.5-.7 -4.8-.1 -5.4,.6 -5.7,.1 -5.8,.4 -5.2-.1 -4.5,.5 -4.6,.9 -4.4,1 -4.9,1.1 -4.5,.1 -5.2-.5 -5.3-.7 -5.6-.8 -5.2,.6 -5.2,.9 -4.8,.8 -5.1,.1 -5.4,.5"/>
<path d="M814.5,348.3l-4.4-2.7 -4.2-1.7 -3.6,.1 -3.3,.3 -3.2,.6 -3.6,0 -4.2,.3 -3.8,.5 -3.4,.6 -3.9,.4 -4.5,.2 -5.6,.5 -4.9,.2 -4.6,.5 -4.4,.2 -4.2,.4 -4-.2 -3.5-.5 -3.4-.5 -4-.4 -3.8-.4 -4.4-.1 -4.2,.3 -4.7,.5 -4.9,.4 -5,.4 -4.8,0 -5,0 -4.6-.6 -4.4-.2 -4-.1 -4.3,.2 -4.2,.6 -3.9,.8 -3.9,1.1 -4.6,1.4 -4.7,1.3 -4.2,1 -4,.4 -4.1,.3 -4.7,1 -4.7,1.3 -5.7,1 -5,0 -4.2-1 -3.7-.4 -3.6-.4 -3.7,.7 -3.7,0 -4.1,.1 -4.7,.2 -4.4,.7 -4.1,1.3 -3.8,1.1 -4.5,1.1 -4.1,.6 -3.6,.2 -3-.4 -3.2,0 -3.6,.9"/>
<path d="M814.5,348.3l-4.1,.2 -4.4,.1 -4.5,0 -4.6,0 -5,0 -4.6,0 -4.5-.6 -3.5-.5 -3.7-.5 -3.7,0 -4-.3 -4,.4 -3.6,.4 -3.6,.7 -3.9,0 -4.4-.2 -4.5-.5 -4.5-.4 -4.1-.2 -4.4,.2 -4.2,.4 -4.6,.8 -4.5,.8 -4.4,.6 -4.5,.4 -4.7,.8 -4.7,.3 -5-.3 -4.6-.7 -4.3-.2 -3.4-.3 -3.7-.4 -3.5-.9 -3.6-.5 -3.5,.3 -3.9,1 -4.8,.9 -5.4,.3 -5.8,.4 -4.9,.8 -3.8,.4 -3.4,0 -3.7,.2 -5,.6 -5.2,.7 -5.4,.9 -5.2,1 -5.1,1.1 -5.5-.9 -5.5-.7 -4.9-.3 -4.2,.6 -3.9,.4 -4.3,0 -4.2,.3 -3.6-.4 -3.6-.7 -3.9-.7 -3.9-.4 -3.4-.4"/>
<path d="M814.5,348.3l-4.3-.3 -4.8-.7 -4.7-.8 -5.1-.7 -4.9-.1 -4.5,.4 -4.7,.6 -4.3,.8 -4.5,.7 -4.4,.2 -4.6,.1 -4.7,.3 -4.3,.1 -4.3-.1 -4.5-.2 -4.7,.4 -5.1,.4 -5.1,.1 -4.7-.1 -4.1,.1 -4.3-.2 -4.7-.2 -5.3-.2 -4.9-.1 -5.2,0 -5.1-.4 -5,.1 -4.6,.1 -4.6,.7 -5.1,.3 -5.6-.1 -5.3-.5 -5.3,.1 -4.7,.5 -5,.6 -5.4,.2 -5.2,0 -5.3,.3 -4.7,.1 -4.3,.4 -3.7,0 -3.3,.4 -4,.6 -4.9,1.6 -5.1,1.3 -5.2,1 -4.7,.2 -4.8-.2 -4.4-.4 -4-.1 -3.9,.5 -3.7-.1 -3.9-1.1 -4.1-1.7 -4.1-1.3 -4-1.3 -3.6-1 -3.4-1 -4,0 -4.4,.4"/>
<path d="M814.5,348.3l-3.5,.7 -4,.6 -4,.5 -4.8-.2 -4.8-.1 -5.4-.6 -5.2-.2 -5.6,0 -5.3,.5 -5.8,0 -5.4-.1 -5.3,.1 -4.6,.4 -4.5,.5 -4.8,.4 -4.4-.2 -4.4,0 -4.3,.1 -4.6,1.1 -4.9,.8 -5.3,.1 -5.7,.1 -5.3,.1 -4.6,.1 -4.4-.1 -5.1-.6 -6,.2 -5.9,.1 -5.4,1.2 -5.2,.4 -5.4,1.1 -5.9,0 -5.4,.1 -5-.6 -4.5,.4 -5.1,.2 -5.1-.3 -5.3-.9 -4-.3 -4.3,.5 -4.4,1.1 -4.9,0 -5.4-1 -4.9-1.1 -4.5,0 -4.7-.2 -5.3-.2 -6.3-1 -5.8-.8 -5.4-.9 -5.4-.1 -5.1,.2 -5,.2 -4.3-.8 -4.7-1.1 -4.9-1.7 -5.2-1.6 -4.6-1.4 -4.9-.6 -5,.4"/>
<path d="M814.5,348.3l-4.5,1.5 -4.5,.7 -4.5,.8 -5,1.2 -5.3,1 -5.2,.2 -5.2-.8 -5.2-.9 -4.9-.1 -3.9,.9 -4,.5 -4.4,.6 -3.9-.1 -3.6-.5 -3.5-.7 -4.7-.4 -4.7,1.1 -4.7,1.2 -3.6,1 -4-.3 -4.1-1.3 -5.3-1.3 -4.5,0 -5.2,.9 -4.6,1.6 -4.6,1.2 -4.4,.5 -4.5,.1 -4.4-.4 -4-.3 -4.2,.3 -5.4,.4 -5.6,.6 -5,.1 -4.4,0 -4.6-.4 -4.9-.6 -5.2-.1 -4.9-.3 -4.8-.6 -4.4-1.7 -4.7-1.3 -4.8-1.6 -4.3-.7 -4-1.4 -4.3-.6 -4.9-.7 -5,.3 -5,.1 -4.8-.3 -5-.3 -4.6,.1 -4.3,.8 -3.7,.2 -3.8,0 -4.1-.1 -4.8,.4 -5.2,.2 -5.2-.4 -5.1-1.2"/>
<path d="M814.5,348.3l-4,1.7 -4.4,.1 -4.3-.5 -5.5,.4 -6,.6 -6,.5 -5.4,.2 -4.1-.4 -3.9-.4 -3.2-.5 -3.4,.5 -3.3,.3 -3.8,.5 -4.1-.3 -4.8-.7 -4.8-.7 -4.5-.3 -3.9,.2 -4,.4 -4.9,.5 -5.2,.6 -4.8,.1 -4.2-.3 -3.8-.8 -4.3-.7 -4.3-.5 -4.7,0 -4.2-.1 -5-.3 -4.2-.4 -3.9-.3 -3.7,.2 -4.5,.3 -5.2,.7 -4.7,.1 -4.6-.6 -4.3-.8 -4.6-.6 -4.5,.5 -4.9,.9 -4.4,.9 -4.2,.2 -4.5-1 -4.5-.9 -4.4-.3 -4,.2 -4.4,0 -4.1-1 -4.3-.5 -4.4-.6 -4.5-.2 -4.2-.4 -4.4,.1 -4.3-.5 -4.5-.3 -4.1-.7 -4.2,.3 -4.5-.1 -4.2-.2 -4.1-1.1"/>
<path d="M814.5,348.3l-4.7-1.6 -4.6-.4 -4.9,.3 -5.2,.4 -5.4,.2 -5.1-.2 -4.8-.1 -4.3-.3 -4.4-.2 -4.8-.1 -5.4,.1 -5.5,.1 -5.2-.4 -4.7-.8 -5.5-1.1 -5.6-1.3 -6.1-1.4 -4.9-.9 -4.8-.9 -4.9-.5 -5.2-.5 -4.8-.5 -4-.2 -3.6,0 -3.6,0 -3.8-.5 -4.5-.7 -5-.7 -5.4-.1 -4.9,.4 -4.6,.2 -5-.2 -5.2-.5 -5.6,.2 -5,.1 -5,.1 -4.5,0 -4.1-.2 -3.8-.2 -3.4-.5 -3.9-.7 -3.9-.1 -4.1,.3 -4.3,.5 -4.7,.5 -4.8,.7 -5.7,.7 -5.8,.8 -5.7,.1 -4.5-.3 -4.1-.3 -4.4-.2 -4.8-.1 -5.1,.2 -5,.5 -5.1,.1 -5.1-.8 -4.7-1.1 -4.8-.6 -4.4-.3"/>
<path d="M814.5,348.3l-4.2-.5 -4.8-.6 -4.7-.6 -4.9-.5 -4.4-.1 -5,.1 -5.3,.3 -5.4-.1 -5-.4 -4.5-.9 -4.9-.5 -4.6-.2 -4.4,.5 -3.9,.4 -4,.7 -4.8,.4 -5.5,0 -6.1-.3 -5.4-.5 -4.9,.1 -4.8,0 -5.1,.8 -5.1,.5 -5.1,.6 -5.1,.3 -4.6,.1 -5.2,.4 -5,.3 -6.2,.6 -5.6-.5 -5.5,.3 -4.2-.1 -4.4,.5 -4.1-.2 -4.8-.8 -4.6-.4 -4.4-.2 -4.2,.6 -4.2,.3 -4.7,.2 -4.9-.4 -5-.2 -4.7-.2 -4.1,.2 -4.4,1.1 -4.6,1 -4.4,.4 -5-.3 -5-.4 -5.5-.2 -5.2,0 -5.5,.3 -4.5,.5 -4.4,.5 -4.1-.5 -5-1 -5-1.2 -4.9-1.4 -4.4-.9 -3.9-.5"/>
<path d="M814.5,348.3l-4.2,.9 -4.3,.8 -4.2,.2 -4.8-.3 -5.1-.6 -5.9-.7 -5.4-.6 -4.8-.4 -4.3-.1 -3.7-.1 -4.3,.3 -4.7,.4 -5.4,.6 -4.9,.1 -4,.2 -4.4-.3 -3.5-.6 -4-.5 -3.8-.3 -4.9-.1 -4.9,0 -4.7-.2 -4.7,.2 -5,.1 -5.7,.1 -5.3-.5 -5.1-.5 -4.5-.6 -4.9-.9 -5-1.1 -5.4-1 -5.3-.8 -4.8-.4 -4.1-.3 -4.6-.7 -5.1-.3 -5.5-.3 -4.7-.3 -4.5-.4 -4.9-.8 -5.6-.4 -5.7-.8 -5.7-.5 -4.7-.2 -4.3-.7 -4.4-.8 -5.3-1.2 -5.5-.4 -5.3,0 -4.9,.6 -5-.3 -5.2,0 -4.5-.2 -4-.1 -3.4-.2 -4.1,.3 -4.8,.5 -4.9,.3 -4.5-.4 -4.1-.4"/>
<path d="M814.5,348.3l-4.9,.3 -4,.3 -4.4,.2 -4.2,0 -5.4,0 -5,0 -5.5,.1 -5.1,0 -5.3,.1 -4.7,.3 -4.6,.2 -4.3-.1 -4.6,.3 -5-.3 -5.1-.3 -4.9-.3 -5-.1 -4.5,0 -4,.2 -3.7,.7 -4.7,.6 -4.4-.1 -5.2-.6 -4.7-.7 -5.4-.6 -4.7-.4 -4.4-.3 -4.3-.1 -4.8-.1 -4.9-.1 -4.5-.4 -4.1-.3 -4.2-.1 -5.1,0 -4.3-.7 -4.5-.9 -3.8-1.2 -4.7-.7 -5-.6 -4.8-.2 -4.6-.2 -4.3-.8 -4.8-.6 -5.3-1.3 -5.1,0 -4.6-.1 -4.4,1.4 -4.4,.4 -5.2,.8 -4.9,.5 -5.3,.9 -5.1,.9 -5.7,.9 -5.6,.6 -5.8,.8 -5.2,.5 -5.2,.4 -4.8-.3 -4.9-.2 -4.7,.1"/>
<path d="M814.5,348.3l-5.9-.7 -5.1-.8 -4.5-.3 -4.2,0 -4.1,.2 -4.6,.3 -4.5,.3 -5,.2 -4.8,.1 -4.8-.4 -4.6-.3 -5-.5 -5.2-.3 -4.6,.3 -4,.3 -3.8,.8 -4.4,.5 -5.1,.7 -4.9,.3 -4.8,.1 -4.4-.5 -4.4,0 -4.1,.3 -4.1,.9 -3.7,.9 -4.5,.4 -4.6-.3 -5.2-.5 -5-.4 -5.6,.4 -5.6-.5 -5.1-.8 -4.4-.8 -4.2,.1 -4.2,.7 -4.5,.4 -4.9-.3 -5.2-.4 -4.7,0 -4.3-.2 -3.5-.1 -3.7,.2 -4,1 -5.1,.7 -5.9,.7 -5.9,.8 -4.7,.4 -4.4-.1 -4-.2 -4.3-.2 -4.5,0 -4.5-.2 -4.6,.5 -4.7,.5 -5.2-.1 -5-1.2 -4.5-1.1 -3.6-.7 -4.1-.6 -4.9-.9"/>
<path d="M814.5,348.3l-5.6,.2 -4.7,.3 -4.5,0 -4.5-.6 -4.4-.6 -4.2-.4 -4.7,.1 -4.7,.1 -4.3,0 -4.7,.4 -4.9,.2 -5.3,.3 -5.3-.2 -5.1-.6 -5-.5 -4.2-.5 -4.9-.4 -4.7-.3 -5.4,.1 -5.1,.2 -5.3,.4 -4.8,.4 -4.7,0 -4.8-.4 -5.4-.8 -5.4-.3 -4.9,.1 -4.1-.5 -3.8,0 -3.8-.1 -4,.5 -4.3-.3 -4.8-.4 -5.4,.1 -5.1,.7 -4.3,.7 -3.8-.1 -3.8-.4 -4.9-.2 -5.1,0 -4.8-.2 -4.4,.1 -4.6-.3 -4.8,0 -5-.3 -4.7,.3 -4.7-.2 -4.3,.1 -4.3,.2 -4.9,.2 -4.6-.4 -4.3-.6 -4.4-.6 -4.9-1 -4.9-.7 -4.8-1.4 -5,.1 -5.7-.5 -4.8-.8 -3.9-2.5"/>
<path d="M814.5,348.3l-5.1-3.6 -5.1-2.1 -4.5-.4 -4.6,0 -4.3-.2 -4.1-.1 -3.3,.1 -3.2,.5 -3.5,.7 -3.5,.3 -3.7,.2 -3.9,.1 -4.2,.1 -4.2-.5 -4.4-.9 -4.2-.9 -4.6-.9 -3.7-.7 -4.5-.6 -4.2-.5 -4.9-1.1 -4.1-1.4 -4.1-.9 -3.9-1.1 -3.6-.9 -3.5-1.2 -3.5-.8 -3.8-.5 -4.3-.3 -4.6,0 -4.3-.3 -3.9-.7 -4.2-.2 -3.9,.1 -3.9,.4 -3-.3 -4.2,.4 -4.1,0 -4.5,.3 -4.4-.5 -5.1-.5 -6-.5 -5.8,0 -5.3,.3 -4.5,.1 -4.2,.6 -4,0 -3.6-.4 -4-.6 -4-.3 -4.1-.2 -4.1-.4 -3.8-.3 -4.5-.2 -4.1-.5 -5.1-.1 -5.2,0 -5.7-.6 -4.9-.3 -3.9,0"/>
<path d="M814.5,348.3l-3.1-.8 -3.2-.2 -3.5-.1 -4.3,0 -4.2-.4 -3.7-.6 -4-.7 -4.1-.4 -3.3,.5 -3,.5 -2.4,.5 -3.6-.4 -4.4-.5 -4.4-.5 -3.5,.3 -3.2,.4 -4,.8 -5,.5 -4.5,.6 -4.7,.5 -4,.8 -4,.8 -3.7,.4 -3.9,0 -3.6-.4 -3.7-.3 -4.2,.3 -4.6,0 -5,0 -4.7-.4 -4.4-.2 -3.8,.1 -4.4,.2 -4.5,.3 -4.9-.3 -4.7,.2 -5.1-.1 -5.4,.2 -5.4,0 -4.9,.7 -4.1,.7 -3.9,.4 -3.7-.2 -3.9,.3 -3.7,.8 -3.9,.5 -3.8-.5 -3.9-1.1 -3.9-.1 -3.9,.7 -4.4,.1 -4.3-.1 -4-1 -3.3,.1 -3.6,0 -3.9,.7 -4.6,1.2 -5,.6 -4.4,.2 -3.6-.5"/>
<path d="M814.5,348.3l-5-.5 -4.7-.3 -4.7-.2 -4.8,.1 -4.9,.1 -4.2-.1 -4.3,0 -3.9,.2 -4.2,.2 -3.9,.3 -4.4,.3 -4.3,.5 -4.8,.3 -4.7,.8 -4.7,.6 -4.5,.5 -4.6-.2 -4.8-.7 -5.1-1.1 -4.9-.9 -4.5-.8 -4.4-.2 -3.8-.5 -4-.6 -3.5-1.2 -4.5-1 -4.8-.6 -5.1-.7 -4.2-.4 -3.5-1.1 -3.9-.9 -4.2-.4 -4.6,.4 -4.5,.6 -4.3,.1 -4.3,.9 -4.7,1.5 -4.9,1.4 -4.4,1.3 -3.9,.7 -3.6,.6 -4-.2 -4.2-.4 -4.5-.1 -4.3,.4 -4.3,1.1 -4.2,.2 -4-.7 -4.4-1 -4.3-1 -4.9-.7 -4.7-.6 -5.2,1.1 -5.3,2.1 -5.1,1.9 -5.3,1.3 -5.2,.1 -5.4,.4 -5.2-.1 -5.3,.3"/>
<path d="M814.5,348.3l-4.5-.1 -3.5,0 -3.4-.1 -3.4-.3 -3.9-.2 -4.3-.3 -4.5-.2 -5.6-.4 -5.4-.4 -5-.6 -3.9-.3 -3.9,.1 -3.9,0 -4.1-.4 -4.2-.7 -4.7-.6 -4.5,0 -4.1,.3 -4,.3 -4-.1 -3.9-.3 -3.6,0 -3.8,.1 -4.2,.6 -4.2-.1 -4.7-.6 -4.4-1.3 -5.5-.9 -5.1,.3 -5,.1 -4.2,0 -4.5-1 -4.8-.5 -4.5-.9 -4,.1 -4.1-.3 -4.6,.2 -5.1,0 -5,.2 -4.7,.2 -4.5-.1 -3.9,.8 -4.3,.8 -3.8,1.2 -4,.6 -4.2,.2 -4.8-.3 -4.8,.5 -4.4,.3 -3.6,.2 -3.5-1 -3.4,0 -3.8,.2 -4.3,.7 -5,.8 -5.4,1.3 -5.1,.7 -4.5,.3 -4.3,.4 -4.6,1.1"/>
<path d="M814.5,348.3l-4.6-.4 -4.2,0 -4.2,.3 -5,0 -5.1-.2 -5-.2 -4.9-.2 -5.2,0 -5.3,.5 -4.8,.1 -4.6-.1 -4.7-.6 -5-.3 -4.5-.2 -3.5-.1 -4.1-.3 -4.4-.6 -5.3-.8 -5.3-.3 -5.7,.2 -5.3,.3 -4.5,.3 -4.5-.1 -4.4-.5 -4.5-.7 -3.9,0 -4.6,.7 -4.5,1 -4.6,1 -4.1,.7 -5.1,0 -4.9-1 -4.8-1.1 -4.6-.7 -4.8,0 -5.2-.3 -4.9-.5 -4.8-.5 -4.3-.3 -3.4-.3 -3.8-.3 -3.7-.3 -4.5,.1 -4.8,.6 -4.8,.5 -5,0 -4.5-.7 -4.5-.7 -4.4-.1 -4.8,.9 -5.1,.6 -5.8,.8 -6,.4 -5.6,1.5 -5.4,1.5 -4.7,1.3 -4.9,.7 -4.6,.9 -4.6-.1 -4.3-.6"/>
<path d="M814.5,348.3l-4.7-.9 -5.2-.2 -4.5,.1 -3.3,.3 -3.1-.1 -4.2,0 -4.9-.2 -4.6,0 -4.3,0 -4.5,0 -4.9,.2 -4.6,.4 -4.5,.3 -4.4,.4 -4.8,.2 -4.6,.5 -4.8,.6 -5.1,.7 -5,.8 -4.9,.6 -4.6,.3 -5.3,.2 -5.3,.4 -4.5,.4 -3.5,.5 -3.7-.4 -4.2-.2 -4.4-.7 -3.5-.8 -3.4-.6 -3.3-.2 -3.9,.5 -3.8,.7 -4.6,.2 -4.8-.2 -4.8-.2 -4.9,.3 -4.9,.5 -5.1-.2 -5.3-.5 -5.1-.4 -4.9-.4 -4.1-.6 -3.4,.5 -3.1,.6 -2.1,.8 -2.3-.4 -3.5-.3 -4.7-.3 -4.4,.3 -3.5,1.2 -3.7,1.4 -3.9,1 -3.9,.7 -4.4,.6 -4.6,1.2 -4.6,.9 -3.9,1.6 -4.1,1.4 -4.2,1.3"/>
<path d="M814.5,348.3l-5.5-.4 -4.9-.2 -4.5-.1 -4.8,.3 -5.3,.1 -5.3,.3 -4.6,0 -4.6-.1 -4.6,.1 -4.5,0 -4.4,.1 -4.3-.4 -4.4-.6 -4.3-.5 -4.8-.4 -5.1-.3 -5.3-.4 -4.7,0 -4.5,.3 -4.3,.3 -5.3-.1 -5.4-.2 -6,.1 -4.5,.7 -4,.8 -3.3,.2 -3.5-.5 -3.6-.9 -3.8-.9 -4-.9 -4.8-.4 -3.9-.4 -4.7-.4 -3.9-.7 -4.6-.2 -4.3-.3 -4.2,0 -5.1-.3 -4.2-.5 -4.2-.7 -3.7-.6 -4.7-.1 -4.2-.5 -3.9-.7 -3.5-.4 -4.1,0 -4.3,.2 -4.5,0 -4.8-.4 -5-.4 -5.3-.9 -4.8-.7 -5.1-.3 -4.4,0 -4.7,.1 -4.4-.8 -4.7-.9 -3.9-1.1 -3.3-.4 -2.3-.1"/>
<path d="M814.5,348.3l-5.7,1.8 -5.2,1.1 -5.2-.5 -5.5-.8 -5.6-.9 -5.4-.2 -4.7,.5 -4.3,.8 -3.9,.4 -4.1-.5 -3.9-1 -3.6-.7 -4.1-.5 -4.5,.4 -5.4,.5 -5.6,1.1 -5.9,.5 -5.7,.1 -4.9-.7 -4.3-.4 -4.5,.2 -4.5,1.2 -5.4,1.1 -5.2,.5 -4.7-.1 -3.8-.5 -3.7-.5 -4.4-.2 -4.4,.1 -3.9,.2 -3.2-.3 -3.7-.5 -4.2-.8 -4.6-.1 -3.9-.3 -3.6-.3 -3.8-.6 -4.3-.5 -5.1-.3 -5.4-.1 -4.9-.1 -4.5,.3 -3.8,.6 -4.3,.3 -4-.2 -4.1-.4 -4.5-.2 -4.6,.8 -4.4,.4 -3.7,.7 -3.4,.6 -3.8,.3 -3.8-.3 -4.1-1.2 -4.5-.6 -4.8,.1 -4.8,.8 -4.1,1.1 -3.6,.7 -3.7,.8"/>
<path d="M814.5,348.3l-5.5,3.1 -4.6,1 -4.1-.7 -3.8-.6 -4.6,0 -4.6,.5 -5.5,.9 -5.2,.9 -4.6,.7 -4.1,.1 -4.4-.5 -5.1-.8 -5.1-.5 -4.7-.1 -4.3-.1 -4.8,.6 -4.5,.7 -4.4,.2 -4.1-.8 -4.3-1 -4.3-.8 -4.7-.6 -4.8-.3 -4.9,.9 -4.9,1 -4.4,.8 -4.2,.2 -4.2,0 -4.8,.3 -5.2-.9 -4.8-.5 -5.7-.5 -5.7,1.2 -5.7,1.8 -5,1.7 -4.7,.9 -4.2,0 -3.9,.5 -3.4,.2 -4.1,.4 -4.4,1 -4.8,1 -4.7,1.1 -5.1,.2 -5.1,.5 -5,.4 -4.6,.8 -4.3-.3 -4.3-.2 -4-1.2 -4.7-.3 -4.6-.1 -5.4,.1 -5.5-1 -5.6-1 -4.6-1 -4.5-.2 -4.2-.7 -4.2-1.1 -3.5-1.3"/>
<path d="M814.5,348.3l-3-1.7 -4-1.2 -5.2-.2 -5,.4 -4.5,.5 -4.1,.8 -3.8,.7 -3.5,.1 -3-.5 -3.3-.7 -3.5,0 -4.1,.7 -4.8,.9 -5.7,0 -6,.2 -5.4,0 -4.9,.2 -4.9-.4 -5.8-.4 -5.8-.4 -5.7,0 -4.9,.3 -5.2,.7 -4.8,.7 -4.8,.1 -3.9-.4 -3.5-.2 -3.8,.2 -3.8,0 -4.6-.2 -4,.2 -4.5,.7 -4.5-.3 -4.9,.1 -4.6,.6 -4.5,.7 -4.7-.8 -5.1-2.1 -5.1-1.3 -4.9-.6 -4.6,.3 -4.8,0 -5.3,.2 -5.9,.4 -6.3,.4 -5.6,.3 -5.2-.1 -4.7-.6 -5.1-.4 -5-.2 -5.1,0 -4.2-.6 -4.1-.6 -3.7,.1 -4.8,.4 -5.2,.1 -5.1-1.3 -4.4-1.2 -4.5-.5 -5.1,1.3"/>
<path d="M814.5,348.3l-3.8-.4 -4.3-.1 -4.2-.2 -4-.5 -4.3,.1 -4.3,.2 -4.6,.3 -4.2,0 -5.1-.3 -5.5-.1 -5.2-.9 -4.7-.7 -3.6-1 -3.8-.3 -4.4,0 -5.1-.3 -5.1-.6 -4.8-.7 -4.2,.5 -3.9,1.1 -3.6,1 -3.8,.1 -4-.3 -4.4-.2 -4.2,.3 -3.7,.1 -3,0 -3.6,0 -4,.3 -4.5-.2 -4.1,0 -3.8-.3 -3.6,.7 -3.9,.9 -3.7,1.6 -4,1.1 -3.7,.4 -4.4-.7 -3.8-.8 -4.6-.2 -3.8,.6 -4.5,.1 -3.7-.3 -4.5-1 -4.6-.3 -5.8,.2 -5.4,.8 -5.8-.1 -4.8-.3 -4.8,0 -4.3,1.1 -4.6,1.3 -4.7,1.6 -4.1,.6 -4.3,.3 -4.3-.5 -4.8,.1 -4.7,0 -4.3,.5 -4.2,1.3"/>
<path d="M814.5,348.3l-3.6,1.7 -4.1,.2 -4.5-.3 -4.3-.3 -3.7,.2 -3.6,.6 -2.7,.4 -3.3,0 -3.3-.3 -4.2,0 -3.6,.6 -4.6,.8 -5,.6 -5.6,.6 -4.7,.1 -4.3,.1 -3.7-.4 -3.9,0 -4,.1 -5,.1 -4.2,.4 -4.7,.5 -4,.1 -4.6-.2 -4.9-.5 -5.5,.5 -5.5,.7 -4.6,.5 -5,.1 -4.5-.1 -4.7,0 -4.9,.7 -5.6,.7 -5.7,.6 -5,.1 -4.3-.5 -4.6-.2 -4.4-.6 -5.8-.6 -5.8-.4 -5.7-.5 -5.1-.1 -4.8,.1 -4.6,.4 -3.9,.7 -3.8-.1 -3.4-.1 -3.5-.4 -3.9-.2 -4.5-.7 -4.2-1.3 -3.9-.8 -3.6-.2 -3.5,.7 -3.7,1.1 -3.9,.2 -4.2,.3 -3.6-.3 -4.1-.1 -4.5-.4"/>
<path d="M814.5,348.3l-4.8-1.4 -4.5-1 -3.8-.2 -3.8,.1 -4.3,.1 -5.5,.2 -5.5,0 -5.3,.1 -4.7,.2 -4.8-.1 -4.8-.4 -5.4-.5 -5.3-.2 -5.5-.2 -4.3,.3 -4.4,.5 -4.5,.5 -4.6,0 -4.8-.1 -4.7-.1 -5.3-.4 -4.6-.2 -4.5-.6 -4.2-.1 -5-.4 -4.5-.3 -4.9-.3 -4.5,.1 -4.6,.1 -4.1-.2 -4.8-.4 -5-.6 -5.3-.3 -4.7-1 -4.4-.5 -4.2-.3 -4.1,.9 -4.3,.7 -3.1,.6 -3.7,.7 -4.2,.9 -4.7,1.1 -4.4,.8 -4.4-.2 -5-1 -4.9-.9 -4.8,0 -4.5,.8 -4.4,.1 -4.4,.1 -4.1,.1 -4.8,.1 -5.1-.8 -5.6-1.1 -4.6-.8 -4.7,.3 -4.6,.6 -5,.8 -5.2,.1 -5.4-.6"/>
<path d="M814.5,348.3l-3.7-.4 -4.5-.1 -4.5,.2 -4.3-.3 -3.8-.1 -4.6-.2 -5.1,0 -5.4,0 -5.4,.4 -4.8,.3 -4.8,.5 -5,.1 -5.9,0 -5.8,.3 -5,.5 -3.7,.8 -3.4,.4 -3.5,.1 -4.9,.1 -4.6-.1 -4.6,.2 -3.9,.3 -4.6,.3 -4.5-.1 -4.6,0 -4.2,.5 -3.7,.5 -3.6,.1 -3.9,.1 -4.4,.3 -4.2,.3 -4.3,.2 -4.5-.8 -4.8-.4 -4.7-1 -4.2-.1 -4.2-.3 -4.1,0 -4.5,.1 -4.9-.1 -4.7,0 -4.6-.4 -4-.4 -4.7-.9 -4.7-.8 -5-.4 -4.3,.7 -4.3,.7 -4.7,1 -5.9,.4 -5.2-.1 -5.2-.5 -4-.1 -4.7,.7 -4.4,.5 -4.5-.1 -4.4-.1 -4.2-.3 -4.4,0 -4.3,0"/>
<path d="M814.5,348.3l-3.6,2.2 -3.9,.6 -3.9-.8 -4.4-.4 -4.1,0 -4.5,.6 -4.6,.4 -4.7,.3 -5-.3 -4.3-.8 -5.1-.8 -4.9-.3 -4.6,.4 -3.9,.5 -4,1.2 -4.5,.6 -5.3,.3 -5.6-1 -5.8-.7 -5.6-.4 -5.9,.3 -6.1,.3 -6.1-.3 -5.2-.6 -5.2-.6 -4.9-.5 -4.8-.3 -4.4-.2 -4,.9 -3.7,.8 -4.2,.6 -4.3-.1 -4,.2 -3.6,.2 -4.2,.9 -3.8,.8 -4.1,1 -3.3,.6 -4.5,1 -5.1,.6 -6,.4 -6-.2 -5.9,.3 -5.2,.6 -4.7,.3 -4.2,.4 -4,.5 -4.5,.5 -4.6,.4 -5.1-.6 -5-.9 -5.2-.9 -4.2-.2 -4.2,.1 -4.1-.5 -4.3-1 -4.5-.8 -4.9-.4 -6.3-.2 -6.8,0"/>
<path d="M814.5,348.3l-4.2-1.2 -3.7-.5 -3.2,.2 -3.4,.4 -4.2,.3 -4.4,.3 -4.9,.2 -4.6,.1 -4.8,0 -4-.1 -3.7,0 -3.9,0 -4.2,.1 -4.6-.4 -4.3-.1 -4.4,.1 -4.3,.6 -4.2,.2 -3.6,.4 -3.8,.3 -4.3,1.1 -4.4,.6 -4.9,.2 -4.6-.2 -4.9-.4 -4.2-.1 -4.2-.2 -4.4,.8 -4.4,1.2 -3.7,1.7 -3.2,.4 -3.8-.1 -4.1-.2 -5,.3 -4.6,.6 -3.6,.3 -3.2,.7 -3.3,.1 -4,.4 -4.2-.5 -5,.2 -5,.6 -4.3,.4 -3.7-.1 -4-.4 -4-.3 -4.1,.8 -3.8,.9 -4,1.6 -4.2,1 -4.3,.1 -4,.6 -3.7,.3 -3.6,.5 -4.3,.5 -4.3,.5 -4.3,1 -4.2,.2 -3.8,.4 -3.5,.7"/>
<path d="M814.5,348.3l-3.1-.5 -3.8-.1 -3.7-.1 -4.5-.2 -4,.1 -4.4,.1 -3.8,.3 -4.4,.5 -4.1,1 -4.3,.8 -4.2,.2 -4.3-.6 -4.3-.6 -4.2-.7 -4-.4 -3.9-.2 -4,.2 -4.9,.4 -4.9,.5 -4.3,.2 -3.8-.1 -3.5,0 -4.1,0 -4.6,.3 -4.8-.1 -4.5,.4 -4.7,0 -4.7,.1 -5,.2 -5-.1 -4.7,.4 -4.6,.1 -4.4-.1 -4.4-.3 -3.9,.1 -3.6,.9 -3.9,.7 -4,.3 -3.7,.2 -3.8,.5 -4.5,.4 -5.5,.2 -5.2-.5 -4.9-.3 -3.7-.6 -4.6,.1 -4.8,.3 -5.3,.5 -4.5-.7 -4.6-.9 -5.2-.5 -5-.2 -4.3,.3 -3.5-.3 -3.8,.3 -4,.9 -4.8,.8 -4.2-.1 -4-1.3 -3.2-1.4"/>
<path d="M814.5,348.3l-4-.5 -4.3-.4 -3.6,0 -3.3,0 -3.7,.2 -4.2,0 -4.4,.2 -3.2,0 -3.3-.2 -3.4-.5 -4.3-.2 -4.3,.3 -4.8,.3 -4.7,.9 -4.8,.5 -4.6,.2 -5-.7 -4.7-.4 -5.3,0 -4.9,.3 -5.8-.3 -4.8,0 -4.9-.7 -4.3-.3 -4.7-.8 -4.3-.2 -4.6-.2 -4.4-.2 -4.1,.1 -2.6,.3 -2.9,.3 -3.1,.1 -3.9-.5 -4.4-.7 -4.3-.5 -4.7,.1 -4,.2 -4.1-.3 -4.2-.7 -4.4-.3 -4.6-1.1 -4.2-.9 -4.3-1.1 -4.6-.8 -4.5-.9 -4-1.1 -3.4-.5 -4.2-.8 -4.5-.5 -5.1-1 -4.9-.9 -4.6-.6 -3.9,.4 -3.5,.2 -3.8-.5 -4.5-1.5 -4.6-1.8 -4.6-.5 -5.5,.7 -6.4,2.3"/>
<path d="M814.5,348.3l-4.1-1.4 -4-.1 -3.7,.7 -3.8,.1 -4.3-.3 -4.4-.8 -4.4-.7 -4.2-.2 -5-.2 -5.1,.5 -4.8,.2 -4.4,.5 -4.2,0 -4.2,.5 -4.2,.3 -4.7,.6 -4.9,0 -3.9,.1 -3-.5 -3.5,.1 -3.9,.5 -4.4,.9 -3.5,.4 -3.5,.4 -3.6,.2 -3.8,.6 -4.2,.1 -4.4-.1 -4.2-.4 -4.2-.1 -4.1,.4 -4.9,.4 -4.8,.9 -4.4,.3 -4.4,.1 -3.5-.2 -4.4,.4 -4.2,.8 -4.4-.1 -3.9-.6 -3.8-.9 -4.1-.7 -4.4-.8 -3.9-.6 -4.1-.8 -4-.7 -4.1-1 -4.2-.3 -4.6,.3 -4.5,0 -4.3,.2 -3.9-.4 -3.8,.4 -3.3,.1 -3.6,.4 -4.2-.5 -4.5-.8 -3.7-1.8 -3.6-1.3 -3.8-1.1"/>
<path d="M814.5,348.3l-2.3,2.8 -2.6,.8 -2.9-.2 -4-.2 -4,.1 -4.1,.2 -3.7,.7 -4.1,.9 -4.8,.8 -4.2-.3 -4.2-1.2 -3.7-1.6 -4.4-1.6 -4.7-1.1 -4.4-.5 -4.4,.3 -3.6,.6 -3.8,.7 -3.8,.3 -4.2-.3 -4.8-.4 -4.8-.6 -5.3-.2 -4.7-.5 -4.5-.5 -4.3-.5 -4-.1 -3.7-.2 -3.5,.1 -3.6,.9 -3.7,1.2 -4.1,1.4 -4.6,.1 -4.4-.5 -4.5-1.3 -3.8-.9 -4-.6 -3.2,0 -3,.2 -3.2,.8 -4.1,1.5 -4.6,.5 -4.7,.6 -4.4-.1 -4.6,.2 -4.1-.2 -4-1.1 -3.8-.5 -3.8,.7 -4.4,.8 -4.4-.3 -4.7-1.1 -4.6-.4 -5,.6 -4.7-.3 -4.1-.6 -3.6-2.1 -4-1.1 -4-.6 -3.9,.7"/>
<path d="M814.5,348.3l-3.9,.8 -4.7,0 -5.2-.2 -5.4-.2 -4.6,.4 -4,.5 -3.8,.5 -3.6,.2 -3.8-.5 -3.9-1 -4-1.1 -3.1-.3 -3.6-.1 -4.1-.4 -4.6-.5 -4.3,.4 -4.1,.6 -3.7,.4 -2.9,.1 -2.6,.6 -2.7,.3 -3.1-.1 -3,.1 -3.4-.2 -4-.2 -4.2-.5 -4,.5 -3.5,.3 -3.7,.5 -3.3,.1 -2.9,.1 -3.6,0 -4.1-.3 -5.1,.7 -4.9,.5 -5.1,.4 -4.5,0 -4.6,.3 -4.8,.4 -4.9,0 -4.3,.3 -3.9,.5 -4.3,.5 -4.8-.2 -5-.1 -4.9,0 -4.5,.2 -4.4,.1 -4.3-.8 -4.2-1.3 -3.8-1.4 -3.7-.4 -3.8,.3 -4.6-.4 -4.7-.4 -4.8-.3 -5.1,.2 -5.2,.2 -4.4-1.3 -3.6-2.3"/>
<path d="M814.5,348.3l-5.5-.6 -5.3-.4 -5.3-.1 -4.5,0 -4.2,.2 -4.4,.4 -4.4,.2 -4.6,0 -4.6,.3 -4.6,.7 -5.1,.5 -4.8-.1 -4.5-.7 -4-.7 -3.8-.6 -4-.1 -4.6-.1 -4.7-.1 -4.6,0 -4.4-.5 -4.7-.5 -4.7-1 -4.3-1 -4-1.2 -4.2-.9 -4.5,0 -4.7-.1 -4.7,.2 -4.8-.2 -4.7,.5 -4.7,.4 -4.7,.5 -5.2,.1 -5.7-.4 -5.6,.2 -5.2,.9 -4.7,1.3 -4.2,1 -4.6,.1 -4.1-.2 -4.3-1 -4.6-1.1 -5-1 -4.7-1 -4.3-1 -4.2-.9 -4.8-.7 -5.5,.3 -5.8,.8 -5.8,.9 -5.6,.4 -5.3-.1 -5.9,.1 -5.3-.4 -5.1-.6 -3.8-.3 -4.4-.3 -4.3-.7 -4.8-.7 -4.2-.1"/>
<path d="M814.5,348.3l-3.1,.8 -3.1,.1 -4.1-.1 -4.7-.3 -5,0 -4.2-.1 -3.9-.2 -3.7-.5 -4.7-.6 -5.1-.6 -5.3-.5 -5.3,.2 -4.4,.4 -4.3,1 -3.8,.5 -4.5,.3 -4.7-.3 -4.8-.3 -4.9,.1 -4.8,.2 -4.9,.2 -4.8-.1 -4.6-.9 -4.2-1 -4.2-1 -4.3,0 -4.5,0 -4.5,.3 -4.6-.1 -4.9-.2 -4.8,.2 -4.6,.9 -4.8,1.2 -4,1.3 -4.3,1.4 -4.6,1 -4.8,.1 -4.4-.3 -4.1,.2 -4.1,.1 -5-.5 -5.1-.9 -5.4-.7 -4.5-.8 -4.6,.1 -4.5-.1 -4.6,1.2 -4.7,1.1 -4.1,1.3 -3.9,.1 -3.5-.7 -4.3-1 -4.6-.4 -4.9-.1 -4.8,.5 -4.9,.4 -5.1,.4 -4.9,.1 -4.6,.3 -4.3,1"/>
<path d="M814.5,348.3l-4.9-.4 -4.9-.3 -4.8,0 -4.7-.1 -4.8,.4 -5.6,.1 -5,.4 -5,.2 -4.6,.6 -4.6,.8 -4.5,.7 -3.9,.5 -3.9,.2 -3.6,.5 -3.7,.2 -4.7,.4 -5-.2 -5.5-.5 -4.9-.7 -5.1-.4 -5.4,.1 -5.5,.3 -5.2,.8 -4.9,.6 -4.9,.7 -5.3,.2 -5,.4 -4.7,.6 -4,.3 -4.3,.3 -4.3,.2 -4.4,.3 -4.9,0 -4.3,.1 -3.8-.4 -3.6-.2 -4.5-.4 -5.5,0 -5-.4 -5.2-.6 -4.6-.3 -4.8,.1 -4.6,.3 -4.2-.1 -4.1-.7 -3.5-1.6 -4.2-.8 -4.1-.2 -4.6,.5 -5.2,.1 -5.5,.7 -5.4,1 -4.9,1.4 -4.8,.3 -4.9,0 -4.8-.1 -4.6,0 -4.4,.4 -4.7,0 -4.9,.1"/>
<path d="M814.5,348.3l-3.3-3.6 -3.9-1.5 -4.8,.3 -4.8,.7 -4.5,.7 -4,.8 -4.1,.5 -3.5,.7 -3.6,.2 -4.7,0 -5.3-.1 -5.2-.5 -4.2-.6 -4.2-.7 -4.7-.2 -5.1-.2 -5.8-.2 -5.1-.8 -5-.6 -4.6-.5 -4.5,.6 -4.4,.8 -5,.9 -5.5,.4 -6.1,.9 -5.5,.7 -5.2,.5 -4.4-.2 -4.4,.2 -3.8,.5 -4.1,.4 -3.4,0 -3.9-.1 -3.8,.4 -4.4,.7 -4.2,0 -4.5-1 -3.8-1.3 -4.2-.9 -4,.3 -4.2,.5 -4,1.1 -4.1,.9 -4.8,1 -4.1,.9 -3.8,.5 -3.3,.7 -4.1,.2 -4.2,.7 -4.7,.4 -4.5-.1 -4.5,.1 -3.9-.1 -4.1,.8 -4.3,.3 -5,.4 -4.2,1 -4.4,1.8 -4,1.9 -4.7,.8"/>
<path d="M814.5,348.3l-4.8-2.9 -5.2-1.5 -4.9,1.3 -4.3,1.6 -3.9,.9 -3.3-.2 -3.7-.7 -3-1.2 -3.5-1.3 -3.3-.6 -3.6,.4 -4,1.2 -4.1,.5 -3.7-.2 -3.8-1.6 -4.1-1.7 -5-.9 -5.1,.7 -4.8,2 -4.3,1.3 -3.9,0 -4.4-.8 -4-.4 -4.2-.2 -3.8-.1 -3.8,.4 -3.8,1.1 -4.7,.6 -5.6-.1 -5.5-.8 -4.6-.9 -3.8-.6 -3.8-.3 -3.9,.4 -4.5,.6 -5.3,.2 -5.2,0 -4.8-.6 -4-.4 -3.4-.9 -3.1-.6 -3,.5 -3.6,.8 -3.5,.3 -4.5-1 -4.9-1.6 -4.6-1.2 -4.2-.7 -3.5,0 -3.4,.9 -3.1,1 -3.6-.5 -4.5-1.6 -4.7-1.2 -4.6,.3 -4.2,.5 -4.2,.2 -4.2,.3 -4.9,0 -5.3-.8"/>
<path d="M814.5,348.3l-4.4-1.3 -4-.5 -4.4,.3 -3.7,.2 -4.4-.1 -3.7-.3 -3.9-.6 -3.3-.2 -4,.5 -4.3,1 -4.6,.5 -4.3-.1 -3.9-.5 -4.2-.2 -4.9,.3 -4.9,.3 -4.4,.2 -3.4-.1 -3.5-.7 -4.2-.7 -4.3-.4 -4.3,0 -3.8-.2 -3.1-.2 -3.7-.1 -3.9-1 -4.5-1 -4.3-1 -4.2-.4 -4.8-.4 -5-.3 -5.4,.8 -4.5,.4 -3.9,.1 -3.2-.7 -3.6-.7 -3.9,.3 -4.3,.9 -4.8,.5 -4.7-.4 -5-.9 -4-.3 -3.9,.3 -3.6,.3 -4.6,.2 -4.3-.3 -4.7,.2 -3.8,.8 -3.8,.6 -3.7,.3 -4.2-.1 -4-.5 -3.5-1.5 -3.8-2.2 -3.8-1 -4-.2 -4.3-.2 -4-.8 -4.2-.7 -3.8-.4"/>
<path d="M814.5,348.3l-4.3-.9 -4.5-.8 -4.5-.8 -3.8-.9 -4.2-.5 -4.6-.5 -4.4-.1 -3.4-.1 -3.4-.1 -3.4,0 -3.7-.1 -3.4-.4 -3.7-.4 -3.8-.4 -4.2-.2 -3.9-.6 -3.4-.2 -3.2-.1 -3.6,0 -4.2-.1 -4,.1 -3.9-.3 -3.7-.2 -3.5,.2 -3.2,.5 -3.5,.2 -4.1-1 -4.4-1 -4.7-.6 -4.6-.5 -4.8-.4 -4.4-.8 -3.7-.5 -4.2,.1 -3.8-.1 -4.7,.2 -4.2-.6 -4.7-.1 -4.7-.8 -4.7-1.2 -5.1-1.5 -4.8-.4 -4.3,.2 -4.8,.5 -4.8-.1 -5.1-.6 -4.5-.5 -3.6-.2 -3.9,0 -4.1,.1 -5.1-.3 -5.2,0 -5.1,.1 -3.8-.4 -3.2-.9 -2.8-2.1 -3.4-2.4 -3.2-.8 -3.6,0 -4.2,1"/>
<path d="M814.5,348.3l-3.9,.2 -4.2,0 -4.8,.4 -5-.1 -5.1,0 -4.5,0 -4.7,.1 -5,.1 -5.2-.2 -5.7,0 -5.5,0 -6,.5 -6.1,.2 -6.2,.1 -5.4-.1 -4-.1 -3.4,.4 -3.5,.2 -4.1,0 -5,0 -5-.4 -4.9-.3 -4.1-.6 -4.3-.9 -4.5-1 -5.1-.9 -4.4-.7 -4.7-.1 -4.3-.6 -4.8-.9 -4.7-.3 -4.7,0 -5.1,0 -5-.1 -5.1,.4 -5,.9 -4.6,.2 -4.8-.1 -4.9,.1 -5.6,.4 -5,0 -4.9-.5 -5-.7 -5.3-.1 -5,1 -4.3,1 -4,.2 -4.2-.2 -3.3-.1 -3.9,.4 -3.5,.4 -4.3,.3 -4.3,.2 -4.1-.3 -4.2-.5 -4.2-.9 -4.8-.9 -5-.8 -4.9-.6 -4.7-.5"/>
<path d="M814.5,348.3l-4.3,.4 -4.6,.1 -4.9-.3 -4.9-.5 -4.3-.4 -3.9-.5 -4.1-.5 -4.3-.3 -4.8,.2 -4.2,.6 -4.7,.5 -4.5-.1 -4.4-.2 -4.3-.5 -4.7-.4 -5-.6 -4.8-.5 -4.4-.7 -4.4-.3 -4.3-.6 -4.7-.1 -5.5,0 -5.5,.2 -5.7,.3 -5.2,0 -5.7,.2 -5.3,0 -5,.7 -4.6,1.4 -4.5,1.7 -4.7,1.1 -4.6,.3 -5,.3 -4.3-.1 -5,.3 -4.4-.2 -5.4,.5 -4.7,.4 -5.3,1.2 -4.7,.1 -4.7,.5 -4.4,.4 -4.7,2 -4.5,.8 -4.5,.8 -3.4,.4 -4.1,1.2 -4.3,1.1 -5.7,.4 -5.7-.2 -5.9-.3 -5.3-.5 -5.3-.1 -5-.3 -4.8,.4 -4.8,.5 -4.9,.1 -4.7-.8 -4.5,0 -4.1,1.6"/>
<path d="M814.5,348.3l-5.1-.4 -5.1,0 -5.1,.3 -4.4,.4 -4.8,.4 -4.9,0 -5.3,0 -4.5-.1 -3.8-.3 -4.3-.2 -4.8-.2 -4.9-.2 -4.6-.2 -4.9,0 -5.2,.2 -5.1,0 -4.2-.5 -3.6-.8 -3.7-.4 -5.2,.3 -5.9,.3 -5.9,0 -5.9-.3 -5.2-.5 -4.9-.3 -4.8-.5 -4.8,0 -5.3-.4 -4.3-.3 -4.5-.7 -4.5-.9 -5.1-.4 -5.4,.4 -5.4,.4 -5.3,.2 -5.1-.5 -4.4,0 -3.7-.6 -3.6-.1 -3.6-.2 -5.3,.6 -5,1 -4.9,.3 -3.8-.1 -4.1-2 -5-.4 -5.3-.8 -5.5,.8 -5.4,0 -5.6,.6 -5.3,.4 -5.3,.6 -4.6,.5 -4.2,.3 -4.1-.3 -4.4,0 -4.5,0 -4.7,.5 -5-.5 -5.3-1.1"/>
<path d="M814.5,348.3l-5,.8 -5.2,.5 -4.6,.2 -5.2,.5 -4.2,0 -4.8,0 -5.2,.2 -5.8,.6 -5.4,.3 -5.7-.2 -5.4-.4 -5.4-.2 -4.4,.1 -4.2,.3 -4.3,.7 -4.8,.2 -5,.2 -4.8,0 -4.5,.1 -4.6,.4 -5-.2 -4.8-.1 -4.7-.2 -4.7-.2 -4.9-.7 -4.5-.6 -3.8-.8 -4.5-.4 -4.6-.8 -4.2-.5 -4.6-.1 -4.5,.2 -4.8,.5 -3.6,.6 -4.1,.6 -4.1,.8 -4.8,.7 -4.5,.4 -4.6,.3 -4.6,.1 -4.8,.1 -4.6,.5 -4.7,.3 -4.5,.9 -4.6-.2 -4.5-.3 -4.3-.3 -5,0 -5.2-.3 -5.4-.2 -4.5-.4 -4.4-.4 -5-1.2 -5.8-1.3 -5.8-1.1 -4.8-.1 -4.3-.4 -3.9,.1 -3.7,.7 -3.4,1.9"/>
<path d="M814.5,348.3l-3.5,.2 -4.5,.1 -4.6,.1 -4.2,.3 -3.3,.1 -3.7,.1 -3.9,0 -4.9,.3 -4.8,.1 -4.8-.1 -3.8-.5 -3.9-.5 -3-.1 -3.6,.1 -3.3,.5 -4.2,.6 -4.1,.6 -4.4,.1 -3.6,0 -3.7,0 -4.1,.3 -4.6,.2 -4.7,0 -4.4,.6 -3.9,.7 -3.5,.8 -3.6,.2 -4.4-.3 -4.1-.3 -4,.6 -4.1,.5 -4.7,1.1 -4.7,.5 -4.8,1.1 -4.7,.2 -5,.1 -4.4,0 -4.2,1.2 -3.8,.8 -3.7,1.1 -3.7-.4 -3.3,0 -3.8-.4 -4.4-.1 -4.9-1.3 -4.7-1.3 -4-.9 -3.4,0 -3.5-.8 -4.2-1 -4.8-1 -4.9,.3 -4.4,.3 -4.6,.8 -4.7,.7 -4.9,.9 -5,.1 -4.3,.2 -4.5-.8 -4.4-1.4"/>
<path d="M814.5,348.3l-4.6-.6 -4.4-.4 -4.3-.1 -4.6-.2 -4.7-.2 -4.1-.4 -4.3-.5 -4.2-.2 -4.7-.1 -4.2,.2 -4.5,.1 -4.2,.3 -3.5-.3 -3.4-.7 -3.8-.4 -4.6-.1 -4.8-.2 -4.8-.4 -5.4-.3 -5.1,0 -4.3-.2 -3.6-.5 -3.7-1.1 -3.8-.7 -3.9-.5 -3.9,.4 -3.9-.1 -3.9-.7 -3.9-.9 -4.2-.1 -4.3,.1 -4.1,.2 -4.6,0 -4.7,.3 -5,.3 -4.9,0 -5.1,.7 -4.7,0 -4.8,0 -4.5-.5 -4.8-.7 -4.1,.1 -3.8-.2 -4.4,0 -4.7-.5 -4.9-.2 -4.7,0 -4.6-.1 -4.2-.6 -4-.2 -3.5-.3 -4.3,.5 -4.2-.7 -5.1-.5 -4.3-.6 -5.1,.6 -4.7,.6 -5.1-.1 -4.1-.7 -4.3-.9"/>
<path d="M814.5,348.3l-4.7,.3 -5.1,.6 -4.6,.3 -4.4,.1 -4.5-.4 -5.3-.1 -5.5,.1 -4.5,.5 -3.8,.3 -3.4,.6 -3,.3 -3.4,.1 -3.6-.4 -4.3-.1 -3.8,0 -4.1,.1 -4.1,.1 -5.4,.1 -5.5,.3 -5.2,.3 -4.1,.4 -4,.8 -4.7,.3 -4.9,0 -5-.5 -4.7-.3 -4.2-.2 -4.5,.7 -4.9,1.2 -5,1.5 -4,.8 -4.1,.2 -3.8-.2 -4.3-.3 -4-.3 -3.9-.3 -3.9-.3 -4.2-.4 -5-.3 -5.3-.8 -5-1.1 -4.4-.4 -3.8,.4 -3.3,.7 -3.2,.9 -3.9,.7 -4.5,.3 -5.2,.4 -5.3,.6 -5,.5 -4.9-.3 -4.3-.3 -4.7,0 -4-.4 -5-.1 -5-.5 -5-.1 -4.6-1 -4.9-.4 -5.6-.4"/>
<path d="M814.5,348.3l-4.9,.5 -4.6,.6 -4.3,.3 -4.7,.2 -4.5,.1 -4.4,.2 -3.8-.2 -4.3-.4 -5-.7 -4.9-.6 -4.9-.4 -4.3,.1 -4.8,.4 -5.3,.7 -5.2,.5 -4.7-.1 -3.5-.3 -3.6,0 -3.6-.1 -4,.1 -3.7,.1 -3.9-.1 -4.4-.5 -4.9-.7 -5,0 -4.7,.8 -4.9,.6 -4.7,.1 -4.3-.5 -4.1,0 -4.5,.1 -4.6,.6 -4.7,.3 -4.4,.3 -4.6-.3 -4,.2 -4,.7 -3.8,1.1 -4.3,.3 -4.1-.7 -4-1.3 -4.2-.5 -4.7,.1 -4.4,.7 -4.6,.4 -4.4-.3 -4.4-.2 -3.9-.3 -3.8-.4 -4.1-.9 -4-.3 -3.9,0 -3.9,.4 -4.4-.4 -4.4,0 -4.7-.2 -5.4,.4 -4.9,.7 -4.2,.7 -3.3-.1"/>
<path d="M814.5,348.3l-6.2,2.7 -5.8,1.3 -5.7-.5 -5.3-.6 -4.7-.5 -4,0 -3.3,.4 -3.8,1 -4.4,1 -4.3,.4 -4.3-.8 -4.2-.7 -4.2-.2 -4.3,.6 -4.3,.9 -4.4,1.3 -4.1,.9 -3.4,.1 -4.3-.1 -4.4,.1 -4.9,.6 -4.2,.7 -3.8,.8 -4,0 -3.6-.6 -4.3-.9 -4.2-.5 -4.5,.1 -4.2,0 -4.5,.5 -4.8,.2 -4.7,.6 -4.2-.2 -3.8-.4 -4.2-.1 -4.3,.5 -3.8,.9 -3.4,.5 -4,0 -4.8-1 -5.2-1 -4.8-1.1 -4.3,.3 -3.7,.8 -3.8,.3 -4.4-.7 -4.5-1.4 -4.3-1.6 -4.4-1.7 -4.6-1.3 -4.7,0 -4.2-.1 -3.9,.1 -3.4,0 -4.2,.2 -4.5,.1 -4.8,.4 -5.6,.9 -5.1,0 -4.6-.9"/>
<path d="M814.5,348.3l-4,4.7 -4.2,2.4 -4-.5 -4-.6 -3.8-.8 -3.8-.7 -3.6-.9 -3.8-1.3 -3.4-.8 -4.3-.4 -4.1,.2 -4.3,.4 -3.1,0 -3.4,.3 -3.5,.4 -4,1.2 -4,1.1 -4,1.1 -4.2,.7 -4.3,.5 -4.6,.4 -4,.5 -3.8-.5 -4.2-1.1 -4.2-1.7 -4.1-1.2 -3.6-1.4 -4.4-1 -4.9-1.3 -4.9-.8 -5-.5 -4.8,.2 -5.1,.4 -4.9-.1 -4.4,.7 -4,0 -3.4-.3 -4.1-1.5 -4.2-1 -5.5-.7 -5.1-.7 -4.7-.7 -3.9-1.2 -4.1-.3 -4.5-.5 -4.1,.3 -4.9,.3 -4.7,.1 -4.4-.4 -4-.8 -3.4,0 -4.1,.5 -4.4,.9 -5.1-.5 -4.9-1.7 -3.9-2.6 -2.8-2.3 -2.5-1.8 -3.1-1.9 -3.7-1.7"/>
<path d="M814.5,348.3l-4.4,1.9 -4.5,.7 -4.1,.1 -4,0 -4.6,.3 -5.2,.3 -3.9,.5 -3.7,.5 -3.7,.6 -4.5,.1 -3.4-.3 -3.1-.5 -2.9-.6 -4-.2 -4.3-.4 -4.5-.1 -5-.1 -4.9-.1 -4.7,.6 -4,.4 -4.3,.6 -4.5-.1 -3.9,.1 -3.5-.1 -3.7-.2 -4.9-.4 -4.9-.1 -4.2,.2 -3.6-.7 -4-.4 -4.4-.4 -4.4,.8 -4,1.3 -4,.8 -4,.3 -4-.6 -3.4-.4 -3.8-.7 -3.8-.5 -4.8-.2 -5.1,.3 -5.5,.2 -4.7-.1 -4.4-.5 -3.4-.9 -3.3-1.2 -3.6-1.1 -4.1,.1 -4.3,.7 -3.8,.8 -3.8-.2 -3.5-1.3 -2.9-1.6 -3.1-.5 -4.1,0 -4.8-.2 -4.6-.3 -4.2,.5 -4.2,1.1 -4.3,1.1"/>
<path d="M814.5,348.3l-3.6-.2 -4.3-.3 -5.1-.3 -5.8-.1 -5.3,0 -5.3-.1 -4.8-.2 -4.2-.1 -3.7-.3 -4,.3 -4.1,0 -4.7,.4 -4.7,.4 -5.6,.4 -5.2-.2 -4.8-.6 -4.6-.4 -4.6-.1 -4.8,.4 -5.1,.2 -4.5,.2 -5,0 -5.6,.1 -5.9,.3 -5.3,0 -4.2,.3 -4.2,0 -4.4-.1 -4.7-.5 -4.5,0 -4.4,.8 -4.2,1.8 -4.3,2 -4.7,1.3 -4.3,.4 -5.2-.4 -4.6-.6 -5.5-1 -5.1-1.1 -4.9-.2 -4.7,.7 -4.5,1 -4.9,.5 -4.8-.1 -4.5-.6 -4-.7 -4.1-.8 -4.4,0 -3.9-.3 -3.8,1 -3.7,1 -3.9,.7 -4.5-.6 -3.8-1.3 -4.4-1 -3.9-.7 -4.8-.3 -4.5,.1 -4.8-.6 -4.8-.9"/>
<path d="M814.5,348.3l-4.3-.3 -4.7-.3 -4.3,.1 -4.6,0 -3.7,0 -4.1,.1 -4.2,.1 -3.8,.3 -4.2,.3 -4.5,.2 -5.2,.4 -5.2-.1 -5-.1 -5.8-.5 -6-.2 -6.1-.3 -4.8-.3 -4.3-.3 -4.1-.2 -4.4,.3 -4.1,.7 -4.6,.6 -5,.8 -5.4,0 -4.7,0 -4.9-.3 -5.3,.3 -5.3,0 -4.5,.2 -4-.5 -4.1-.6 -4.5-.6 -4.5,.1 -4.7,.8 -5.1,.3 -5.2-.2 -5.2-.5 -5-.7 -5.3-.2 -5.1,.6 -4.5,.7 -4.7,.4 -4.3-.2 -4,.2 -3.7,.3 -4.1,0 -4.7,0 -4.2-.1 -4.6-.4 -4.4-.2 -4.9,.3 -4.7,.6 -5.1,.1 -4.6,0 -4.6,.4 -4.4,.2 -5-.6 -4.9-1.1 -4.4-1 -3.9-1.1"/>
<path d="M814.5,348.3l-3.8,.3 -4,.2 -4.5,.2 -4.4,.4 -4.7,.5 -4.4,.4 -4.8,0 -4.8,0 -4.9,.2 -5.1,.4 -5,.4 -5.1,.4 -4.5,.3 -4.4,0 -4.1-.1 -4.4-.3 -5.3-.3 -4.7-.5 -4.5,0 -3.4-.2 -4.3-.2 -4.7-.8 -4.8-.9 -4.5-.6 -3.7-1.1 -4.2-1 -4.5-.6 -5.3,0 -4.8,.4 -4.7-.3 -4.4-.5 -4.4-1 -3.8-.1 -4.3,.6 -5.4,1.6 -5.4,.8 -4.7-.2 -4-1.3 -3.8-1.3 -4.3-1.4 -4.1-.9 -4.4-.7 -4.1,.6 -4.1,.3 -4.5,.6 -4.5-.3 -4.5,.4 -4.6,.2 -5,.5 -4.9-.2 -5.2,0 -5.1-.7 -5.2-1.1 -5.1-.5 -5.1,.6 -5.5,.4 -5,.1 -4.5,.1 -3.8,1.3 -3.9,1.5"/>
<path d="M814.5,348.3l-4.7,.8 -4.6,.9 -4.2,.5 -4.9,0 -5.1-.3 -5.5-1 -4.7-1.1 -4.6-.8 -4.9,0 -4.5,.5 -4.9,.1 -4.4,0 -4.6-.8 -3.9-1.6 -4-1.8 -3.8-1.1 -3.8-.2 -4.2,.5 -5.2,.7 -5.4,1 -4.9,.4 -3.9-.6 -4.2-1.9 -4.7-1.2 -5.4-.5 -5,.5 -4.4,.7 -4.1,1.2 -4.3,1.3 -4.5,.6 -4.5,.2 -4.6,.1 -4.3-.4 -3.9,0 -4.7,.2 -5.3,.9 -5.6,1 -5.2,.4 -5.1,.3 -4.5-.2 -4-.2 -3.5-.9 -4.2-1.4 -4.5-1.6 -4.2-1.2 -4.1,.4 -3.7,0 -4.4-.6 -4.9-1.5 -4.9-.9 -4.7-.7 -3.4-.7 -3.5,.3 -3.2,.8 -3.4,1 -3.6,.3 -3.8,.1 -4-.1 -4.5-.7 -4.6-.6"/>
<path d="M814.5,348.3l-4.6-.7 -5.7-.7 -5.6-.4 -5.4-.2 -4.7-.1 -5,.3 -4.7,.2 -4.8,.2 -4.8,.1 -5.1-.1 -4.3-.2 -4.3-.5 -4.2-.2 -4.4-.5 -4.3,0 -4.3,.3 -4.7,.5 -4.6,.4 -4.6,0 -3.8-.1 -4.3-.4 -4.7-.1 -5.3-.4 -4.8-.2 -4.7-.7 -4.7,.1 -4.6,.1 -5.3,.2 -5.9-.3 -6.2-.6 -5.7-.5 -4.6-.7 -4.7-.4 -4.4-1.1 -5.3-.4 -4.8-.7 -4.6-.1 -3.8-.2 -4.3-.6 -4.7-1.2 -5-1.3 -4.4-.4 -4.2,.6 -3.6-.1 -3.9,.4 -4.1-.6 -4.8,.6 -4.5,.5 -4.9,1.2 -5.3,1 -5.5,1 -5,1.2 -4.5,.1 -4.3-.6 -4.2-.8 -4.2,.1 -4.2,.5 -4.5,1.1 -5,.7 -5.9,.9"/>
<path d="M814.5,348.3l-6.9,1.4 -5.9,1.2 -5.3-.3 -5.2-.7 -4.8-1.2 -4.5-.5 -4.7,.3 -5,1.2 -4.7,.8 -4,.3 -4.3-.7 -5.1-.9 -5.2-1 -4.3-.5 -3.9,.6 -4.3,.3 -4.8-.1 -5.9-.8 -5.1-.6 -5.4-.6 -4.6,.2 -4.9,.3 -4.8,.1 -4.7-1.1 -4.3-1.5 -4.6-1.2 -4.5-.6 -5.5,.1 -5.5,.8 -5.7,.4 -4.9-.1 -5.2-1 -5-.3 -5-.7 -4.9,0 -5.3-.2 -5.8,.5 -5.3,0 -4.9-.7 -4.2-1 -4.1-1.2 -4.3-.7 -4.9,.4 -4.9,1.2 -4.2,1.2 -4.5-.1 -4.5-.2 -5.1-.2 -4.7,.9 -5.2,.4 -5.5,.9 -5.7,.3 -5-.2 -4.6-1.2 -5.1-.5 -5.8-.2 -5.9,.1 -4.9-.3 -4.4,.5 -4.4,.6"/>
<path d="M814.5,348.3l-3.2,.3 -3.3,.1 -3.6,0 -3.9,.1 -3.8,.3 -4.3,.2 -4.4-.2 -4.3-.4 -4.2,.1 -4,.5 -4.3,.7 -4.2,.7 -4.2,.5 -4,.7 -3.3,.3 -3.4,.4 -3.7-.2 -3.9-.2 -4.2-.1 -4-.1 -4.2,.2 -3.5,.2 -3.4,.4 -3.1-.1 -4.1-.2 -4.1-.1 -4.4,.5 -3.7,.3 -3.7,.2 -3.7,0 -3.9,.8 -3.6,.8 -4.1,1 -4.2,1 -4.4,.7 -3.7,.8 -3.3,.4 -3.3,.7 -4.1-.2 -3.9-.7 -4-.4 -3.4,.8 -3.7,1.3 -3.9,.7 -4.7-.1 -4.5-.9 -4.8-.9 -4.6,0 -4.8,0 -4.8,.7 -4.4,.4 -4.5,1 -4.5,.2 -4.7,.2 -4.9-.6 -5.1-.3 -4.6,0 -4.3,1.1 -4.3,1.1 -5,.8"/>
<path d="M814.5,348.3l-4.8-1.4 -4.1-1.3 -3.4-.7 -4-1 -4.3-1.1 -4.5-.9 -4.2-.4 -4-.1 -3.8,.1 -3.6,0 -4.1,.1 -4,0 -3.7-.3 -3.5-.3 -3.8-.3 -4.3-.4 -3.8-.7 -3.8-1.1 -3.3-1.2 -4-1 -3.5-.4 -4.5,.1 -4.4,0 -4.5-.2 -4.1-.3 -4.2,0 -4.4-.4 -4.1-.7 -4.2-.9 -4.4-.9 -4.6-1.3 -4.3-1.1 -3.8-1 -3.6-.2 -3.4-.4 -3.8-.1 -4,.6 -3.7,.9 -4,1.6 -3.9,.7 -4.8,.8 -5-.1 -5.6-.1 -5.2-.3 -4.6,.1 -3.8-.2 -4.5-.3 -4.7-1.2 -4.3-1.3 -4-1.5 -4.1-.8 -4.9,.1 -4.9,.1 -4.8-.5 -4.3-.8 -4.3-.7 -4.2,0 -5.3-.3 -4.6,.1 -4.6,0"/>
<path d="M814.5,348.3l-4.1,4.1 -4.2,2.1 -4.9-.3 -4.3-.8 -4.4-1 -4.1-.8 -3.8-.6 -4.3-.2 -4.6,.3 -4.3,.5 -3.9,.8 -3.9,.6 -3.9,.3 -4.1-.1 -3.9-.5 -3.7-.8 -3.5-1.1 -3.5-1 -4.3-.8 -4.3-.4 -3.8,.4 -4,.9 -3.7,1.2 -4.3,1 -4.2,.8 -4.3,.5 -4-.4 -3.9-1 -4.3-.8 -4-.9 -3.8-.7 -3.6-1.1 -4.1-.5 -4.3-.1 -4.9,.3 -4.8,.7 -4.5,.4 -4.3,.1 -4.5-1 -4.7-1 -4.9-.4 -4.7-.3 -4.5,.2 -4.4-1.1 -4.1,0 -3.7,.5 -3.8,1.4 -4,.8 -4.3-.1 -4.4,.4 -4.9-.1 -4.5-.2 -4.5-.4 -4.2,.8 -4.3,0 -4.2-.5 -4.3-1 -4.1-.6 -4.1,.2 -3.9,.5"/>
<path d="M814.5,348.3l-4-.3 -4.3-.2 -4.3,.3 -5.1,.3 -4.4,.1 -5.1-.1 -4.6-.1 -5,.2 -4.7,0 -4.6,.1 -4.4-.3 -3.5-.2 -3.3-.6 -3.6-.3 -3.7-.5 -4.5-.2 -4.6-.2 -5-.3 -4.2,.4 -4.2,.1 -4.1,.2 -3.9-.3 -3.9-.3 -3.3,.2 -3.2,.1 -3.2,.2 -3.8-.1 -4.1-.2 -4.3,.1 -3.9,.6 -4,.4 -4,0 -3.8,0 -3.8,0 -3.5,.2 -3.5-.3 -3.3,.2 -3.8,.8 -4.3,1 -4.1,.4 -3.9-.6 -4.2-.7 -4.4-.5 -4.5-.2 -3.9-.6 -3.7-.2 -4,0 -4.3-.1 -4.6,.2 -3.8-.5 -3.5-.3 -3.5-.2 -3.9-.5 -3.9-1.5 -4.4-1.8 -4.5-2 -4.6-.5 -4.4-1 -4.2,0 -4.3-1.1"/>
<path d="M814.5,348.3l-5.3,.3 -4.7,0 -4.6-.3 -4.1-.2 -5.1-.2 -5.5,0 -4.9-.1 -5.3,0 -5-.7 -5.3-.9 -4.4-1.1 -4.2-.8 -4.5,0 -4.4,.5 -4.8,.7 -5.2,.9 -5.6,.3 -5.9,.3 -5.5,.1 -4.9,0 -5.1-.2 -5.2-.5 -5.3,0 -4.9,0 -5.1,.1 -5.2,.2 -5.9,.7 -5.8,.7 -5.9,.9 -5.3,.5 -5.2,.2 -5.4-.1 -5.5-.5 -5.8-.4 -4.2-.3 -4.6-.2 -3.7-.2 -4.2-.1 -3.7,1 -3.9,1.2 -4.8,1.8 -5.3,.2 -5.4,.2 -4.3-.4 -4.2,.7 -4.2,.7 -4.3,1.1 -4.6,.3 -4.6,0 -5.2,.3 -4.8,1.6 -4.8,2 -5,1 -5.6,.2 -5.4,.4 -4.8,1.1 -3.8,1.5 -4.4,1.3 -5.1,.4 -6.1-.9"/>
<path d="M814.5,348.3l-4.6-.4 -4.1-.8 -3.5-.6 -3.9-.9 -4.1-.5 -4.5-.1 -4.4,.1 -4.4,0 -4.5-.3 -4-.2 -4.3-.6 -4.2-.6 -4.1-.6 -3.7,0 -3.6,.2 -3.9,.2 -4.1-.2 -4-.3 -4.1,0 -3.9-.3 -4.3-.2 -4.2-.4 -5.1-.1 -4.7-.3 -4.6-.7 -3.6-.6 -4.7-.9 -4.9-.7 -4.2-1.2 -3.8-.4 -3.6-.2 -4,.3 -4.2-.6 -5-.8 -5.2-.7 -4.9-.6 -4.2-.8 -3.9-.5 -4.4-.1 -4.8,.5 -5.2,.1 -4.7-.2 -4.6-.8 -3.9-1 -4.6-.3 -4.8,.4 -5.6,.9 -4.7,.4 -4.3,.4 -4,.1 -4-.2 -3.9-.5 -3.8-1.3 -4.1-.5 -4.5-1.1 -4.5-.5 -4.2-.6 -4,.2 -3.5-.1 -3.7-.7"/>
<path d="M814.5,348.3l-3.5,.2 -3.8,.2 -4.6-.1 -4.5-.2 -4.8-.1 -4.9,.1 -4.5,.3 -4.3-.1 -3.6,.1 -3.8,0 -3.6,.5 -3.5,.2 -4.2,.2 -4.4,.3 -4.2,.1 -4,0 -4.2-.7 -4.6-.3 -4.4-.5 -3.9,.1 -3.9-.1 -3.8,.2 -4-.1 -4.3,.3 -4.9,0 -5.4,0 -4.4-.4 -3.8-.5 -2.8-.1 -3.3-.3 -3.6,.1 -4,0 -3.3-.1 -3.1,.1 -3.4,.1 -4.2,.4 -4.8,.6 -4.7,.5 -5.2,.1 -5.4,.2 -5,.2 -4.7,.4 -4.1-.3 -4.6-.4 -4.3,0 -4-.2 -3.4,.2 -3.1,.4 -3.3,1.3 -3.9,.9 -4.3,.7 -4.8,.3 -4.7,.7 -4.5-.6 -4.1-1.5 -4.4-1.5 -4.5-.3 -4.2,0 -3.5,.1 -2.9,.2"/>
<path d="M814.5,348.3l-5-.2 -5-.1 -5.4-.2 -5.1-.3 -5.1-.5 -4.7-.2 -4.9,.3 -5,.3 -4.7-.1 -4.8-.1 -4.6,0 -5.1,.2 -4.9,.2 -4.8,.1 -5.1,.2 -4.7-.3 -4.5-.3 -4.3-.6 -4.6-.6 -5.1,.2 -5.1,.4 -5.4,.4 -5.8-.7 -5.7-.8 -4.8-.9 -4-.4 -4.1,0 -4.1,.5 -4.4,.2 -4.4,.4 -5.3-.3 -5.7,0 -5.9-.4 -5.5,.2 -5.9,.3 -5.4,.5 -5.5,.5 -5.6,.1 -5.4,.2 -5.2,.2 -4.4,.7 -5.6-.5 -4.8-.5 -5.3-.8 -4.3,0 -5.2,0 -4.8,.6 -4.6,.4 -3.7,.5 -3.9-.1 -4.6-.4 -5.5-.6 -4.8-.3 -4.6,1.6 -3.8,1.7 -3.9,1.8 -4.1,0 -4.5-.7 -4.8-1.7 -4.6-2"/>
<path d="M814.5,348.3l-4.3-2.4 -4.3-2.1 -4.7-.6 -4.4-.6 -4.7,.4 -4.7,.8 -5.1,1.1 -5.3,1 -5.2,.9 -4.7,.4 -4.9,0 -5.4-.1 -5.3-.2 -5-.2 -4.5-.7 -4.7-.4 -4.3-.4 -3.8,.2 -3.5,.4 -3.9,.7 -4.1,.8 -4.8,1 -4.9,.5 -4.9,.1 -5-.6 -4.3-.9 -5-1 -5-.6 -5.3,.3 -4.5,.4 -4,.8 -3.8,.5 -3.8,.8 -3.5,.9 -3.4,.8 -4.1,.9 -4.9,.3 -5.1,0 -4.4-.5 -4.4-.8 -4.3-.6 -4.5-.3 -4.2-.2 -4.6-.7 -4.4-.1 -4.9,.2 -5,.8 -5.2,.3 -5-.2 -4.9-1 -5.4,0 -5.2,.9 -5.4,1.4 -4.9,.4 -4.3-.5 -3.9-.3 -4.2-.3 -4.5,.8 -4.5,1.2 -4.2,1.1"/>
<path d="M814.5,348.3l-4.3-1.2 -3.8-1.1 -3.8-.5 -3.9-.4 -4.2,.4 -4.1,.7 -3.6,.8 -4,.4 -4,.1 -5.2-.2 -5-.6 -4.7-.2 -4.6,.1 -4.4,.1 -5,.1 -4.6-.1 -4.8,.5 -4.3,.6 -4.5,.6 -4.1,.2 -3.8,.2 -4.2,0 -4.6-.1 -5.4-.5 -4-.5 -3.6-.8 -3.8-.1 -4.3,.4 -4.8,.9 -4.4,.3 -4.7-.7 -4.1-.8 -4.1-.7 -3.6-.1 -3.8-.3 -3.3,0 -3.5,.4 -3.8,1.3 -4.1,1 -4.3,.5 -3.9,.4 -4.3,.5 -4.1,0 -4.4-.4 -4.1-.8 -4.9-.9 -5.3-.7 -4.9,.2 -4.9,0 -4.4,.2 -4.3-.7 -3.5,.3 -3.2-.1 -3.9,.1 -4.2-.2 -4.2,0 -4.1,.5 -4.5,.3 -4.7,.4 -4.2-.1"/>
<path d="M814.5,348.3l-3.1,1.4 -3.4,.4 -4-.3 -5-.2 -5.4,0 -5.8,.2 -5.3,.6 -4.8,.7 -4.8,.7 -4.6,.2 -4.9-.2 -4.7,.1 -4.4-.2 -3.9,.3 -4.2-.4 -4.6,.2 -4.5-.1 -4.4,.2 -4.6,.2 -5.1,.2 -4.5,.4 -4.5,0 -4.4-.2 -4.8-.1 -5.1-.5 -5-.4 -5.3-1.1 -4.6-.8 -4.8-1.3 -4.2-.6 -4.5-.4 -4.2-.1 -4.8-.4 -4.9-.4 -4.7,.1 -4.1,.3 -3.8-.1 -3.9,0 -4.7,.1 -4.8,.5 -5.3,.2 -4.5,.6 -4.2-.1 -3.4,.4 -3.1,.6 -3.5,1.6 -4.5,1 -4.7,.3 -4.7-.6 -4.5-.1 -4.5-.4 -4.4,.6 -4,1.1 -4,1.1 -3.8,.1 -3.8-.5 -4,.4 -4.7,1.5 -4.7,1.1 -4.4,.1"/>
<path d="M814.5,348.3l-4.5,1 -4.5,.9 -4.7,.4 -5,0 -5.3-.3 -4.9-.5 -4.6-.4 -4.1-.1 -4.5-.2 -4.8,.3 -4.5,.4 -4.1,.2 -4.3-.6 -4.6-.6 -4.7-.7 -5.2-.5 -5.7-.9 -6.1-.2 -5.4,.3 -5.4,.6 -5.7,.4 -6.5,0 -5.9,0 -5.3-.4 -4.6-.1 -4.1,.5 -4.7,.4 -4.5,.5 -4.8,.5 -4.3,.6 -4.3-.3 -4.4-1.1 -4.8-1.6 -4.9-1.2 -5.3-.6 -5.1,.3 -5.8,.3 -4.9-.1 -5.4,0 -4.9-.3 -5.1,.8 -4.2,.8 -4.5,1.6 -4.6,1 -5.4,.4 -5.4-.1 -5.5-1.1 -5.2-.1 -4.6-.2 -5.3,.3 -4.7,.2 -4.8,.1 -4.3,1.2 -5.1-.2 -5.4,.6 -5.4,.2 -5.3,1 -5.4,.5 -5.2,.1 -5.2,.1"/>
<path d="M814.5,348.3l-5-.9 -5.4-.9 -5.6-.9 -5.3-1.2 -4.9-.6 -4.5,.1 -4.1,.5 -4.5,.3 -4.5,.5 -4.8,.2 -5,.4 -5.4-.1 -5.1-.4 -5.1-.4 -5.3-.7 -5.5-.3 -5.1,.3 -5.4,1.4 -5.1,1.8 -5,1.5 -4.3,1.2 -4.2,.7 -4.3,.4 -4.7-.2 -5.1-.8 -5.4-1 -5.4-.6 -5.3-.1 -5,.8 -5.1,.6 -5.1,.6 -5.2-.2 -4.9,0 -5,.3 -4.9-.1 -4.5-.3 -4.5-.8 -4.6-.1 -4.5,0 -4.8,.6 -5.3,0 -5.5,.2 -5.5,0 -5.6,.8 -6,.8 -5.6,.6 -4.7-.1 -3.7-.5 -3.9-1.1 -4.4-1 -4.9-.4 -4.6,.6 -4.1,.5 -4.3,.7 -4.6,.5 -5.1,0 -5.2-.2 -5.1-.1 -4.7,.2 -4.2-.1"/>
<path d="M814.5,348.3l-3.2-1.9 -3.5-1.2 -4.2-.1 -4.1,0 -4.7,.4 -5.2,.4 -5,.5 -4.4,.3 -3.9-.1 -4-.2 -4.1-.6 -4.5-.4 -4.2-.3 -4.4,.2 -4.7,.9 -4.7,.9 -4.5,1.1 -4,.3 -4.6,.4 -4.5,.4 -5,.3 -4.9-.6 -5-.5 -4.2-.3 -4,.4 -3.9,.2 -4.5,.2 -4.1,.4 -4.7,.8 -4.2,.6 -4.5,.2 -3.9-.8 -3.7-.3 -3.5-.6 -4-.4 -4.2-.5 -4.5-.5 -4-.3 -4-.4 -4-.7 -4.4-.5 -4.1-.4 -4.3-.5 -3.8,0 -3.8,.3 -3.5,.3 -3.8-.2 -4.4-.6 -5.1-.1 -4.8-.5 -4.8,.6 -3.9-.3 -4.2-.6 -3.5-.7 -3.8,.1 -3.7,.9 -3.8,.1 -3.9,.5 -4.2,.7 -4.5,.8"/>
<path d="M814.5,348.3l-5.1-1.4 -5.2-1.7 -5.2-1.4 -5.3-.9 -5,0 -5.1,.9 -3.8,.8 -4.8,.5 -4.6-.4 -5.4-.9 -4.7-1 -4.9-.5 -4.9,.6 -5,1 -5.1,.6 -5,0 -5.1-1 -5.1-.6 -5.2-.7 -4.8,.9 -5,1.6 -5,1.6 -5.3,1.1 -5-.3 -5.1-.3 -4.8-1.1 -4.9-.8 -4.5-.2 -5.3,.6 -5.3,1 -5.7-.2 -4.9-1.5 -4.4-2 -4.1-1 -4.5,0 -5,.5 -5.3,.3 -5.3-.1 -4.8-.4 -5-.1 -5.2,.5 -4.8,.6 -5,1.7 -4.8,1.4 -5.4,1.4 -4.5,.1 -4.1-.1 -3.6-.5 -3.7-.8 -4,0 -4.1,0 -4.5,1.5 -5,1.2 -5.2,1.3 -4.8,.3 -4.7,.4 -4-.5 -4.2-.4 -4.3-1.3 -5.1-1.1"/>
<path d="M814.5,348.3l-4.7,1.8 -4.2,.9 -3.4-.3 -3.5-.5 -4.3-.5 -5.4,0 -5.5,.2 -5,.3 -4.8,.2 -5-.2 -5.7-.1 -5-.2 -5,0 -4.4,0 -4.7,.8 -4.4,.8 -4.6,.9 -4.2,.3 -4.2-.2 -3.7-.4 -3.9-.5 -4,.3 -4.8,.5 -4.5,.5 -4.3-.2 -4.6-.4 -4.8-.1 -4.5-.7 -4.6-.8 -4.8-.3 -4.6,1 -4.5,1.1 -4.4,1.1 -4,.2 -3.7,0 -3.4-.5 -4.3,0 -4.2,.6 -4.9,.7 -4.7,.3 -4.5,.3 -4,.5 -3.9,.5 -4,.8 -4.2,.2 -4.7,.4 -5.1,.4 -5.1,.6 -5.4,0 -4.9-.9 -4.2-1.1 -3.7-1.1 -3.6-.8 -4.4,.1 -4.6,1 -5.2,1.7 -4.6,.9 -4.7,.7 -4.2-.2 -4.6-.2"/>
<path d="M814.5,348.3l-5.1,.7 -5.1,0 -5.4-.1 -6,0 -6.5,.1 -6.8,0 -6,0 -5.3-.1 -4.9,.4 -4.8,.2 -4.8,0 -4.9-.6 -4.9-.6 -5.6-.9 -5.1-.6 -5.5,.2 -5.1,.7 -5.5,.8 -5.2,0 -5.5-.5 -5.2-1.3 -5-.6 -5.2,.5 -5,.5 -5.4-.1 -4.6-1.1 -4.5-.6 -4.1-.8 -3.8-.1 -3.8-.1 -4.1,.2 -4.2,.3 -4.8,.8 -4.6,.7 -4.8,1 -4.9-.2 -5.2-.5 -5.2-.8 -4.8-.8 -4.5-.6 -5-1.2 -4.8-.6 -4.7-.4 -4.1,.8 -3.8,1.3 -4.4,.9 -4.2,.4 -4.6,0 -4.8,0 -5.5-.4 -5.8,.3 -5.1,.2 -5.6,.1 -5.5-.8 -5.3-.4 -4.4-.5 -4.8,.8 -4.8,.2 -5-.4 -4.5-2.3"/>
<path d="M814.5,348.3l-4.2-.4 -4.4-.1 -4.8,.3 -4.7,.4 -4.5,.3 -4.6,0 -5.2-.1 -5.3,.1 -5.4,.3 -5.7,.2 -5.3,.6 -5,.2 -4,.6 -4.3,.2 -4.6,1.1 -5.1,.9 -5.1,.4 -4.5-.3 -5.2-.4 -4.8-.4 -5.4,.1 -5.4-.4 -5.9-.1 -5.4-.1 -5.1,0 -4.7-.5 -4.8-1.2 -4.2,0 -4.4-.6 -4.1-.5 -4.9-1.8 -4.5-1.3 -5.5-.8 -5.6-.4 -5.9,0 -5.7-.5 -5.4-.4 -5.6-.5 -5.3,.2 -5.2,.2 -4.9,.2 -5.5-.3 -5.4-1.1 -5.6-1 -4.8,0 -4.7,.8 -4.5,.4 -4.8,.2 -4.9,0 -4.4-.2 -3.7-1.1 -3.9-1.1 -4.5-.8 -4.8,.3 -4.7,0 -4.6,.3 -5.4-.5 -5.4,.3 -5.1-.1 -4.4-.1"/>
<path d="M814.5,348.3l-5.5,2.5 -4.8,.8 -4.9-.7 -4.2-.3 -4.7-.1 -4.7,.3 -5.1,.3 -5.2,.1 -5.1,.7 -5,.7 -5.3,.9 -5.6,.8 -4.8,.5 -5.1,0 -5.1-.3 -5.8-.5 -5.2-.2 -4.6-.4 -4.4-.2 -4.6-.5 -5.1-.7 -5-.9 -4.8-.4 -4.4-.1 -4.3,.3 -4.8,.2 -5.1,0 -5.5,.4 -4.7,.3 -4.2-.3 -3.5-.9 -4.1-1.3 -4.4-1.1 -4.7-1.3 -4.2-1.8 -4.1-1.4 -3.9-.9 -5.1-.1 -5.7,0 -5.9,0 -4.7-.3 -3.8-.1 -3.6-.6 -4,.3 -5,.4 -4.9,.9 -4.6,.2 -4.8-.6 -5.1-.9 -4.9-.5 -4.1-.1 -3.7,0 -3.9,.5 -4,.3 -4.4,.2 -4.2-.9 -4.3-.3 -4.4-.7 -4.6-.3 -4-.8"/>
<path d="M814.5,348.3l-5-3.1 -4.1-1.3 -3.8,.7 -3.7,1 -3.7,.7 -3.7,.2 -3.8-.1 -4.2-.1 -4.6-.1 -4.2,0 -5,.1 -4.9,.1 -5.1,.7 -4.7,1.1 -5,.9 -5.1,.2 -4.8-.6 -4.2-.5 -3.9-.2 -4.2,0 -5.1,.5 -4.8,.1 -4.8,.2 -4.2-.1 -4.8,.4 -4.5,.9 -4.2,.8 -3.8,.5 -4.2,.2 -4.4-.2 -4.3-.3 -4.2-.7 -4.7-.8 -4.6-.5 -4.7-.8 -4-.4 -3.6-.5 -3.7-.4 -3.7-.4 -3.7-.4 -4.2,.1 -4.4,1 -4.9,1.1 -4.2,.6 -4.4,.1 -4.5-.3 -4.6,.2 -4.5,0 -4.6,.2 -4.4,.1 -4.1-.5 -4.1-.3 -4.3,.1 -4.7,1.1 -4.9,1.2 -5.5,.4 -5.1-.1 -4.6,.2 -4,1.6 -3.8,2.7"/>
<path d="M814.5,348.3l-3.8,.5 -4-.1 -4.2-.2 -4.5-.4 -4.3-.1 -3.8-.2 -4.1,.4 -4.9,.2 -5.4-.3 -5.7-.6 -4.3-.3 -4-.1 -4.2,.1 -4.5,.1 -5,.2 -4.6,.1 -4.9-.3 -4.7-.2 -4.5-.5 -4.6-.2 -4.9-.1 -4.5,.4 -4.7,.5 -4.1,.5 -3.6,0 -3.1-.4 -3.6-.1 -4.2,.2 -4.5,.5 -4.2,.4 -4.7,.4 -4.9-.2 -5.3-1.1 -5.8-.9 -5.1-.4 -3.9-.2 -2.9-.1 -3.8-.5 -4.7-.4 -5.9-.6 -5.1,0 -4.4,.1 -3.4,0 -3-.2 -3.4,.9 -4.4,1.3 -5,1.2 -4.6,.9 -4.1,1 -3.5,1.2 -4.1,.1 -4.1-.9 -4.6-1.5 -4.8-1 -4.5,.3 -4.8,.5 -4.7,.3 -5.2,.5 -5.4-.5 -5.5-1.6"/>
<path d="M814.5,348.3l-3.2-.3 -3.4,.1 -4,0 -3.7-.3 -4-.2 -3.9,.1 -5,.4 -5,.5 -4.8,.4 -4.2,.5 -3.8,.4 -4,.2 -4.1-.1 -5.1-1 -4.6-.7 -4.2-.5 -3.5,.4 -3.6,.2 -3.6,0 -3.1-.3 -3.4,.1 -3.8,.3 -4.5,.1 -4.1-.2 -4.3-.3 -4.1,.2 -3.9-.2 -3.4,.4 -3.5-.1 -3.8,.3 -4.4-.2 -4.6,.2 -4.9,.6 -5-.2 -4.8-.6 -4.3-.6 -3.8-.2 -4.4,0 -4.3,.3 -4.5,.9 -4.5,.7 -4.5-.2 -4.9-.3 -4.1,.2 -4,0 -3-.7 -2.9-.9 -3.2,.5 -4.2,1.4 -4.1,1.4 -4,.2 -4.1,.7 -4,.7 -5,.3 -4.4-.3 -4.9-.8 -3.9,.2 -4.4,.8 -4.2,1.2 -3.9,1"/>
<path d="M814.5,348.3l-5.7,.9 -4.9,0 -4.8-.6 -4.2-.5 -5,.1 -4.8,.5 -5.2,.4 -4.3,.4 -4.1,.4 -4.3,1 -4.5,1 -4.8,.7 -4.1,.3 -4.1-.1 -4.2,0 -4.2-.5 -4,0 -4.3-.1 -5.2-.1 -5.7-.2 -5.4-.1 -4.7,.5 -4.5,.5 -4.3,.6 -4,.9 -3.8,.7 -4.1,.8 -4.3,0 -5.1-.1 -5-.4 -4.9,0 -4.6,0 -4.9,.1 -4.5,0 -4.7,.2 -4,.1 -4.4,0 -4-.4 -4.4-.3 -4.7-.4 -4.1,.5 -4.6-.1 -4.2,.3 -4.4,0 -3.8,1 -3.8,1.2 -4.6,1.6 -4.6,1 -5.3,.7 -4.8,.3 -5.2,.7 -4.3,.4 -4.1,.2 -3.7,.3 -3.4,.1 -2.9-.4 -3.3-.8 -3.7,.1 -4.1,.2 -3.5,0"/>
<path d="M814.5,348.3l-5.4,.6 -5.5,.4 -5.2-.3 -4.7,0 -4.6-.1 -4.1-.2 -3.9,.1 -3.6,0 -3.2,.1 -3.2,0 -3.2,0 -4.1-.2 -4-.1 -3.6,0 -4.1,.3 -4.4,.2 -5,.3 -4.9,0 -4.2,.1 -4.2,.2 -4.3-.2 -4,.2 -3.9,.3 -2.8,.5 -3.7,0 -3.8,0 -4-.5 -3.9-.9 -3.5-1.1 -3.4-1.2 -4.4-.2 -4.2,.4 -5.2,1.1 -3.7,1 -3.9,.3 -3.8,1 -4.1,.4 -3.9,.4 -3.3-.8 -3.9-.5 -4.6-1.1 -4.5-.4 -4.3-.8 -4.4,.7 -4.3,.1 -3.9,.9 -3.6,.1 -3.6,1 -3.5,.2 -4,.5 -4.6,.1 -5.3,0 -4.7-.5 -4.2-1.5 -4.2-1.4 -4.4-.7 -4.3,.1 -2.9-.2 -2.6,.3 -3.3,.9"/>
<path d="M814.5,348.3l-5.1,.7 -4.8,.7 -3.8-.1 -4.4-.5 -4.5-.6 -5.2-.6 -4.6-.4 -5.5,0 -5.5,.5 -5.6,.8 -5.5,.8 -5.3,.2 -5-.1 -4.8-.6 -4.7,0 -4.6,.2 -4.6,.6 -4.7,.5 -4.6,.7 -4.2,.5 -4.3,.5 -4.5,.1 -4.8,.5 -4.6,.2 -4.9,.3 -4.6-.1 -5.1-.3 -5-.9 -4.9-1.2 -5.2-.7 -4.8-.1 -4.8,.1 -4.5,.1 -4.9-.3 -4.9-.2 -5.1-.5 -5.3-.9 -5.4-1.4 -5.1-1.4 -4.5-.6 -4.4-.6 -3.8-.7 -3.8-1.2 -4.5-.2 -4.9,.6 -4.8,.8 -4.8-.2 -4.6-.4 -4.4-.4 -3.9-.1 -4.4-.5 -4.8-.4 -4.6,.1 -4.5,.3 -4,.2 -4.2,.1 -3.5-.1 -3.3,.7 -2.7,.5 -3.1,.8"/>
<path d="M814.5,348.3l-4.5-.2 -4.7,.5 -4.5,.9 -4.6,.6 -4.1,0 -4.3-.1 -4.4-.1 -5.1,.3 -5.3,.2 -4.7,.1 -4.2-.1 -3.9-.3 -4.2,.3 -4,.3 -4.8,0 -4.3-.4 -5-.2 -4.6,.1 -5.1,.2 -4.9,.3 -4.3,.4 -3.9,.3 -3.2-.2 -2.8-.3 -3.4-.1 -3.7,.3 -4.8,.2 -4.1,.1 -3.9,.7 -3.4,.9 -3.8,1 -4.1,0 -4.1,0 -4.4,0 -4.1,.4 -4.2,.7 -4,.8 -4.3,.9 -4.1,.9 -4.3,.7 -4.3,.7 -4.5,.2 -3.4,.1 -3.7-.3 -3.5,.2 -4.5-.1 -3.6,.5 -3.8-.6 -3.7-.3 -4-1 -4.2,0 -3.5-.5 -3.9-.5 -3.5,.1 -4,.4 -4,.4 -4.1-.5 -4.3,.1 -4.3-.2 -4.4-.2"/>
<path d="M814.5,348.3l-4.1,.8 -3.8,.8 -4,.3 -4.6,.5 -5,.2 -4.8,.2 -4.8-.2 -4.8-.1 -4.9,.3 -4.6,.3 -4.6,.3 -4.5,.2 -4.8,.5 -4.8,.4 -4.8-.2 -4.6,0 -3.9-.2 -3.7-.3 -3.9-.4 -4.7,.1 -4.8,.7 -4.4,1.1 -4.3,1.1 -4.2,.7 -4.5,.5 -4.9-.1 -5.3-.4 -5-1.1 -4.8-.3 -5.2,.5 -5.9,.8 -6.1,.4 -6.3-.2 -6.2,.2 -5.5-.1 -5.2,.2 -4.1,0 -4,.4 -3.5,.5 -3.8,.5 -3.8-.2 -3.9-.5 -4.1-.4 -4.9-.3 -4.8-.3 -4.4-.1 -4.3,.9 -4.7,.5 -4.7,.5 -5-.1 -5.2,.6 -5.1,0 -4.6-.2 -4.6-.7 -5.6-1.4 -5.2-1.3 -4.9-.9 -4.8-.3 -4.8-.5 -4.5-.2"/>
<path d="M814.5,348.3l-4.7-.3 -4.5-.1 -4.3-.3 -4.2-.1 -4.5-.2 -4.4-.3 -4.1-.4 -4.4-.3 -4.8,0 -5,.1 -4.1,0 -4-.1 -4.1-.1 -4.2-.3 -4-.5 -4.6-1.1 -4.8-.9 -4.9-.6 -3.5-.2 -3.2,.3 -3.2-.1 -4.1,.5 -4.9,0 -5.1,0 -4.8-.4 -4.4-.4 -4.8,0 -5.1,.7 -5.3,1.2 -5,1 -4.9,.6 -4.7,.3 -5.1,.3 -4.8,.3 -4.7,.1 -4.5,.1 -4.5-.6 -4.2-.5 -4-.7 -4.7-.2 -4.3-.1 -4.4,.3 -3.7,.9 -4,.1 -3.9,0 -5-.3 -5.3-.1 -6.1-.7 -5.1-1.3 -5.9-.4 -4.9,.6 -4.9,.7 -4.2-.2 -4-1.1 -4-.8 -4-.5 -4.9-.2 -5,0 -4.9-.1 -4.3,.1"/>
<path d="M814.5,348.3l-4-.4 -3.7,0 -3.6,.3 -3,.5 -3.7,.3 -4.2-.1 -4.4-.5 -4-.8 -3.6-.8 -4.2-.7 -4.4-.2 -4.4-.2 -4.1-.2 -4.3-.4 -4.6-.2 -4.9-.2 -5-.5 -4.7-.3 -4.9-.2 -4.2,.3 -4.4,.3 -3.4,.4 -3.9,.1 -4.1-.1 -4.8-.9 -4.7-1.4 -4.2-1.3 -3.4-.7 -2.8-.2 -3.3-.6 -3.9-.9 -4-.8 -3.6-.9 -3.7-.5 -3.5-.9 -3.9,0 -3.4,.1 -3.9,.6 -3.4,.5 -3.5,.1 -3.5,0 -3.9-.4 -4.5,.4 -4.1,.2 -3.7-.1 -3.4-.2 -4.4,0 -5.1-.5 -5.1-.8 -4.7-.6 -4.2-.2 -3.8-.3 -3.6-.8 -3.4-1.1 -4.3-1 -4.9-.9 -4.9-.4 -4.4-.2 -4.1-.3 -4.3-.2"/>
<path d="M814.5,348.3l-5.6-3.3 -5.2-1.6 -5.3,.3 -5.3,.6 -5.2,.6 -5,.4 -4.6,.3 -4.9-.5 -4.7-.9 -4.7-1.1 -4.3-.8 -4.1-.4 -4.5,0 -4.7,.4 -5,.5 -4.1,.4 -4.6,.3 -4.9,0 -5-.4 -4.7-.7 -4.5-1.4 -4.4-1.8 -4.6-1.2 -4.2-.4 -4.9,.4 -4.5,.4 -4.6,.5 -4.2,.4 -4.2,.1 -3.6-.5 -4.4-.8 -4.8-.8 -5.4-.3 -5.4-.7 -5.2-1.5 -6.1-1 -5.9-.2 -6.3,1.3 -5.7,1.8 -5.4,1.1 -4.9,.7 -4.7-.3 -5.1-.1 -5.6-1.1 -6.1-1.4 -5.8-1.2 -5.5-.4 -5.7,.5 -5.7,.6 -5.9,.5 -5.6-.3 -5.4,0 -4.8,.6 -4.9,1 -4.4,.8 -4.6,.3 -4.8-.4 -4.7-.2 -4.3,.9 -3.8,2"/>
<path d="M814.5,348.3l-4.9,3.7 -4.8,2.5 -4-.4 -3.6-1.5 -3.3-1.3 -4.2-.5 -4.2,.7 -4.9,.9 -4.9,.5 -5.2-1.1 -4.8-1.9 -4.4-1.9 -4.6-.2 -4.6,.8 -4.6,1.6 -4.5,.6 -5.1-.8 -5.4-1.8 -5.1-1.9 -4.9-.5 -5.2,.3 -4.7,1.1 -5,.2 -4.9-1 -5.1-2.2 -4.8-2.1 -5.1-1.2 -5,.7 -5.3,1.6 -4.3,1.5 -4.4-.3 -4.7-1.5 -5.2-1.7 -5.2-.6 -5,.8 -4.9,1.8 -5.4,.7 -5.3-.4 -5.7-1.8 -5.9-.8 -5.4-.1 -5,1.2 -4.5,1 -4.7,.3 -4.2-1.1 -4.4-1 -4.4-.6 -4.8,.1 -3.9,1 -3.9,.4 -3.9,.5 -4.8,.2 -4.2-.1 -4.5-.2 -4.3,0 -5,.5 -4.9,.2 -5,.6 -5,.6 -4.8,.9"/>
<path d="M814.5,348.3l-4.5-2 -3.8-1.8 -3.3-.4 -4.1,0 -4.4,.3 -4.8,.3 -4.6,0 -4.3-.3 -4-.5 -4-.6 -3.2,.3 -2.8,.8 -2.4,1.5 -3.2,.9 -3.9,.4 -4.7-.4 -4.2-.8 -4.3-1 -3.9-.2 -4.3,.5 -3.9,1.4 -4.3,1.5 -4.6,.9 -4.2-.5 -4.1-1.1 -4.1-.8 -5-.1 -4.3,.4 -4.3,.9 -3.3,1 -3.8,.3 -3.4,.1 -3.3-.3 -3.7,.7 -4.2,.6 -5.3,1.1 -5.5,1 -5.2,1.4 -4.5,.9 -4.5,.2 -4.3-.2 -4.5-.2 -4.4-.4 -4.5-.2 -4.6-.6 -4.2-.5 -4.5-.3 -4.4-.4 -4.8-.8 -4.7-1.1 -4.7,.1 -5.1,.2 -5,.5 -5.2,.2 -4.2,.1 -4-.6 -4-.9 -3.9-1 -4.1-1.2 -3.9-1.5"/>
<path d="M814.5,348.3l-4.2,.3 -4.4,.2 -4.7-.5 -5.1-.4 -5.4-.5 -5.1-.3 -4.3,0 -3.7-.3 -3.4,0 -3.7-.4 -3.9-.3 -4.1-.4 -4.7-.2 -5.2-.1 -5.5-.2 -4.3-.1 -3.4-.4 -3.3-.6 -4.3-.5 -5-.2 -4.9,.3 -4.2,.4 -4,.2 -3.4,.1 -3.6,.2 -3.6,.2 -4.4-.1 -3.9-.3 -4.1-.2 -3.8,.5 -3.9-.1 -3.8-.3 -3.7-1.1 -4.1-.7 -4.4-.7 -4.2-.5 -4.3-.5 -4.4-.3 -4.3-.4 -4.2,0 -3.6-.3 -4.1-.3 -3.9-.4 -3.8-.5 -4,.2 -4,.2 -4.4,.6 -4.5,.8 -5.2,.7 -5.3,1.3 -5.1,.4 -4.8-.3 -4.1-1.7 -4-1.4 -3.5-.8 -4.3-.1 -4.3-.3 -4.2-.3 -4.3-.5 -4.5-.3"/>
<path d="M814.5,348.3l-4.3,4.1 -4,3.1 -3.7,.2 -4.3-.6 -4.4-1.4 -4.4-1.5 -4.9-1.3 -4.8-.4 -5.3,.4 -4.9,1.7 -5.3,1.9 -5.1,1.5 -4.5,.3 -4.3-.8 -4.4-1 -4.2-1.3 -4.1-.6 -4-.4 -4.7,.8 -4.6,1.4 -4.8,1.5 -4.9,.6 -5.1,.1 -4.7,.1 -4.2,.2 -4.5-.5 -5-.3 -4.3,.4 -3.8,1.4 -3.8,1.2 -5,1.1 -4.9,.5 -3.9,.4 -2.7-.4 -3.4-.3 -4-.7 -4.3-.3 -3.9,0 -3.2,.8 -3.7,1.2 -3.8,1.7 -4.6,1.5 -4,.4 -4.4,0 -3.5-1.2 -4-.9 -3.5-.8 -4.2,.3 -4.5,1.2 -4.5,.9 -4.3-.1 -4.2-.8 -4.3-1.4 -4-1.2 -3.6-.9 -3.5-1 -3.8-.4 -4.5-.3 -4.3,.4 -4.4-.2"/>
<path d="M814.5,348.3l-4.9-1.3 -5.3-.3 -5.4,.3 -5.8,0 -5.2-.4 -5.6-1 -4.9-.7 -4.9-.5 -4.2,.4 -4.6,.1 -4.6,0 -4.5-.6 -4-.4 -3.8-.3 -3.8,.2 -4.2,.1 -4.2,.1 -4-.2 -4-.2 -4,0 -4.9,.4 -5.2,.5 -5.5,.4 -4.8,.3 -4,.4 -4.1-.5 -4.3-.7 -5-.5 -5.2,.3 -4.9,.9 -4.6,.5 -4.2,.3 -4.3,0 -4.2,0 -4.1-.1 -4.4-.3 -4.3,0 -4.2,.8 -4.2,.8 -4.7,.5 -4.9-.7 -4.7-.9 -4.8-.3 -4.7,.9 -5.1,.9 -4.5,.8 -4,0 -3.1-.1 -3.4-1.3 -3.6-.9 -4.4-1 -4.4-.4 -4.2-.4 -3.9-.3 -4.1,.4 -4.4-.5 -4.6-.6 -4.1-1.1 -4.2-.8 -4.4-.9"/>
<path d="M814.5,348.3l-4.7-1.5 -5.2-1 -4.7-.4 -4.2-.1 -4,0 -4.7,.5 -5.5,.3 -4.7,.5 -4.3,.4 -3.9,.6 -4.7,.7 -5,1 -5.1,.7 -4.9,.4 -4.4-.5 -4.7-1.2 -4.6-.6 -4.9-.2 -4,.2 -4.1-1.1 -3.6-.8 -4-1 -3.6,.5 -4,.4 -4.3,1 -4.3,.6 -4.2,.3 -4-.1 -4.1-.3 -3.9,.1 -3.3,.1 -3.9-.2 -4.1-.7 -4.4-.8 -3.8-.7 -3.8-.5 -4.2,.1 -4.2,.3 -3.8,.7 -3.1,.1 -4,.5 -4.2,.4 -4.5,.9 -4-.2 -4.3-.5 -3.8-.1 -4.1,1.4 -3.9,1.3 -4.8,.7 -5,.1 -5,.8 -4.2,.4 -3.9,.5 -3.7-.2 -4,1.3 -4,.4 -4.3,.8 -4.5-.6 -4.6-.7 -5.1-1.7"/>
<path d="M814.5,348.3l-5.3-.5 -5.2-.4 -5.4-.2 -4.7-.2 -4.7,.5 -5.1,.3 -5.1,.4 -4.9-.5 -4.1-.4 -4.6-.6 -4.6,0 -5.4,.6 -5.6,1 -5.9,1.6 -4.9,1.4 -4.8,.6 -3.9-.5 -4.6-.6 -4.5-.1 -4.7,.7 -4.8,1.1 -4.1,.9 -5,.3 -4.9-.2 -5.5,.2 -5.1,.4 -5,.2 -5.6,.4 -4.8-.3 -4.7-.6 -4.8-1.4 -6.2-1.1 -6.3-.3 -5.2,.5 -4.9,.5 -4.2,.6 -4.9,.4 -4.8,.9 -5.2,.8 -4.6,.9 -4.6,.8 -4.2,.1 -4.5,.2 -4.5-.1 -4.8,.4 -4.5-.1 -5.2,.5 -5.5,.6 -5.7,.6 -5,0 -4.3-.3 -3.9,0 -4.2,.1 -4.5-.3 -4.4-.1 -4.4,.1 -4.9,.8 -5,0 -4.4-1.3 -4-2.6"/>
<path d="M814.5,348.3l-4,.6 -3.6,.3 -4.2-.2 -3.6-.2 -4.6,0 -4.1,.2 -4.1,.3 -3.8,0 -4.3,.3 -4.9,.3 -5.2,.8 -4.6,.4 -4.3-.1 -4.5-.2 -4.6-.3 -5.2,.2 -4.8,.3 -4.2,.8 -4.1,.1 -3.9,.7 -3.9-.2 -3.8-.3 -3.2-.7 -3.5,.1 -3.7,.6 -4.3,.3 -5-.3 -5-.4 -6,0 -5.5,0 -5.5-.7 -5.3-.7 -5.5-.8 -4.9,.5 -4.3,.5 -4.1,.8 -5.3,.1 -5.1-.6 -5.5-.9 -4.7-1.1 -5.2-.3 -4.7-.7 -5.2-.8 -4.9-.8 -5.2-.6 -4.8-.1 -4.3-.8 -3.7-1.3 -3.8-2.2 -4.2-2.3 -3.7-1.3 -3.2-.4 -3.4,.4 -3.7,.4 -3.4,.8 -3.4,.5 -3.2,1.2 -4.3,.9 -4.7,.9 -5.6-.1"/>
<path d="M814.5,348.3l-4.9,1.6 -5.4,1.3 -5.5,.7 -5,.4 -4.6,.1 -4.5,.1 -5.1,.2 -4.7,.2 -4.9-.2 -4.5-.1 -4.3,.1 -3.6,.4 -3.6,.2 -3.8,.5 -4.9,.5 -4.5,.9 -4.9,.5 -4.3,.2 -4.9-.2 -4.7,0 -5.3,.3 -5,.4 -4.8,.1 -4.2-.1 -4.2,.5 -3.9,.7 -4.2,.9 -4.6,.5 -5.2,.1 -4.7-.2 -5.2-.6 -4.6-1.1 -4.7-.9 -3.8-.2 -4.3,.2 -4.4,.8 -4.2-.1 -4.2-.2 -4.9-.7 -4.7-.1 -5-.3 -4.5-.4 -5.1-.8 -4.6-.1 -4.7,.3 -5,1.1 -5.3,1.5 -4.9,1 -4.4,.3 -4.2-.4 -4.4,.3 -4.7,.1 -4.3-.5 -4.2-1 -3.7-.6 -4.1,.7 -4.1,.9 -4.6,.4 -4.1,.4 -4,.7"/>
<path d="M814.5,348.3l-5.2,.3 -4.5,.1 -4.6,0 -4.2,.3 -4.8,.2 -5,.1 -5.4-.2 -5.3-.1 -4.5-.1 -4.5,0 -4,.2 -3.9,.2 -3.3-.3 -3.5-.2 -3.5,.2 -3.7,.9 -3.7,1 -3.7,.7 -4.2,.8 -4.5,.4 -4.5,.5 -4.6-.2 -5.2,.1 -5.2-.3 -5.1-.1 -4.4-.4 -4.4,0 -4.7,0 -5.4-.5 -4.9-.4 -3.4-.5 -3.2,0 -4.2,0 -5,.2 -5.1,.2 -4.7,.2 -4.4-.4 -3.8-.4 -3.6-.4 -4,.2 -4.3,.3 -3.9,.4 -4.1,0 -3.8,.5 -4.4,.8 -4,1.3 -4.3,.5 -4.1-.4 -3.8,0 -4.2,.2 -4.2,1.1 -4.3,.7 -4.6,.9 -4.5,.2 -5-.1 -4-.7 -3.9-1.2 -4.1-.6 -3.9,1 -3.7,2.7"/>
<path d="M814.5,348.3l-4.7,.4 -4.1,.6 -4,.5 -3.7-.1 -4,.2 -4.3,.8 -4.6,1.2 -5.1,1.1 -4.8,.8 -4.7,.1 -3.9,0 -4.3,.1 -4.4,.2 -5.4,0 -5.6,.2 -5.8,0 -5.5,.4 -5.3,.2 -4.7,.7 -5-.3 -4.6-.4 -4.9-.3 -4.4-.1 -4.5,.3 -5.3,.4 -5.7,.5 -5.8,.1 -5.2,0 -4.9,.4 -5.3,.1 -4.9-.1 -5,0 -4.4,0 -4.2-.2 -4.4-.4 -4.5,.1 -5,1 -4.6,.9 -5.4,.3 -5.1,0 -5.5,.1 -4.1,.7 -3.9,.4 -4,.4 -3.7,.9 -4.3,.7 -5,.7 -5.6-.1 -5-.3 -3.7-.1 -4-.5 -4.1-.3 -4.2-.6 -3.7-.2 -4,.8 -4.7,.4 -4.9-.1 -5.1-.4 -5.4,.2 -5.6,.6"/>
<path d="M814.5,348.3l-4.5-1 -4.5,0 -4.8,0 -4.8-.3 -4.7-.2 -4.4,0 -5.2,.4 -5.2,.8 -4.9,.9 -4.6,.6 -5.2,.4 -5-.2 -4.4-1 -3.7-1.2 -4.1-1 -4.5,.1 -4.7,.4 -4.5,.5 -4.9,.3 -5.2-.5 -5.3-1.1 -4.7-1.1 -4.2,.1 -4.5,.9 -4.6,.6 -4.8,.1 -4.2-.8 -4.2-.8 -3.7-.7 -4,.5 -4.2,.5 -5.1,.5 -4.8-.4 -5.1-.4 -4.7-.3 -4.8-.3 -4.4,0 -4.1-.5 -3.9-.3 -4.3-.1 -4.8,.7 -4.7,.6 -4.6,.2 -4.9-.2 -5.7-.2 -5.7-.7 -5.2-.8 -4.9-.5 -4.8-.3 -4.7-.9 -4.5-.6 -4.3,.1 -4.1,.7 -4.4-.3 -5.1-1 -5.3-1 -4.8,.3 -4.8-.1 -4.8-.2 -5-.1"/>
<path d="M814.5,348.3l-5.1-2 -5.5-1.2 -5.7,.3 -5.7,.4 -5.6,.5 -4.7,.1 -4.4-.1 -4.2-.3 -4.8-.4 -4.7-.3 -4.5-.9 -4.8-.7 -5-.2 -4.7,.2 -4.6,.2 -4.9-.3 -4.6,.2 -5,0 -5,.4 -5.7,.2 -4.8,.2 -4,.3 -3.7,.3 -4.3,.5 -5.4,.4 -5.5,.5 -5.6,.2 -5.5,.1 -5.9-.3 -5.8,.3 -5.6-.1 -4.9,1.1 -4.4,.6 -4.2,1 -4.9,.2 -4.8,0 -5.2,.3 -5,.5 -4.6,.7 -4.5,.8 -3.8,.8 -4.6,.7 -4.3,.6 -4.1,.8 -3.7,.1 -4.6-.1 -5.7-.2 -5.3,.4 -5.1,.1 -4.8-.1 -5.2,0 -4.8,.6 -4.6,.6 -4.3,1.4 -4.3,.8 -4.1,1.2 -4.6-.3 -4.6,.5 -5.2,.3 -5.6,.8"/>
<path d="M814.5,348.3l-4.4,.1 -3.9,.5 -3.5,.4 -3,.2 -3.7-.1 -3.7-.4 -4.4,0 -3.7,.3 -3.8,.3 -3.8,.1 -4.6,.1 -4.7,.1 -4.8,.2 -4-.3 -3.5-.3 -3.8-.3 -4,.1 -4.2,.1 -4.2-.1 -4.5-.1 -5,.5 -4.9,.7 -4.9,.4 -4.5,.7 -4.2,.6 -4.5,.6 -4.8,.3 -4.9-.1 -4.9,.4 -4.4-.1 -4.9-.1 -4.7-.8 -4.7-.8 -4.3-1.2 -4.1-.7 -3.8-.3 -3.9,.3 -3.9-.4 -4.5-.3 -4.5-.1 -4.1,.3 -4.2,.3 -3.7,.3 -4.7,.5 -4.8,.3 -5.4-.1 -4.5-1.1 -4.1-.5 -3.2,.5 -3.4,2.2 -3.8,1.6 -4.8,.6 -4.7-.6 -4.6-.8 -3.5-1 -3.4-.9 -3.2-.3 -3.5,.4 -3.5,1 -4,.8"/>
<path d="M814.5,348.3l-3.7-1.5 -4.4-1.4 -4.7-.4 -4.5,0 -4.2,.6 -3.4,.3 -3.4,.2 -3.1-.2 -4-.5 -4.6-.5 -5-.4 -5.2,0 -4.7,.1 -4.8,0 -4.5,.4 -4,.4 -3.8,.1 -4-.4 -4.6-.6 -4.7-.2 -4.9-.3 -4.9-.4 -4.8-.6 -5-.4 -5.1-.5 -5.6-.7 -5.1-.8 -4.6-.5 -4,0 -3.6,.6 -3.3,.9 -3.2,1 -3.9,.7 -4.8,.6 -5.2,0 -4.9,.1 -3.7,.5 -3.5,.6 -4.1,.2 -4.8-.2 -5.5,0 -5.4,.4 -4.7,.3 -4.2,.1 -3.6,.2 -4.2-.2 -3.1,.2 -3.2,.6 -3.3,1.4 -3.8,1.3 -3.8,.6 -3.1,.4 -3.4,0 -3.4-.1 -4.4-1 -4.5,.2 -4.4,.2 -4.6,.7 -5-.5 -5.5-.9"/>
<path d="M814.5,348.3l-3-2.4 -4-.6 -3.9,.4 -4.1,.7 -3,.4 -3.6,.4 -4,.1 -4.5-.6 -4.2-.9 -4.2-.9 -5-.2 -5-.1 -4.7,.1 -4.5,.1 -4.3,.3 -4.3,.2 -4.3,0 -4.4,.1 -4.3,.4 -3.8,.3 -3.5,.1 -4.2-.2 -4.6-.3 -5.2-.1 -5,.5 -4.8,.1 -5,.5 -4.6,.3 -5,.4 -4.9,.3 -5.6,.3 -5.2-.1 -5-.7 -4-1.5 -4.6-1.4 -5-1.5 -5.5-1.1 -5.2-.9 -4.9,0 -4.5,0 -4.5,0 -4.6-.8 -5-.8 -5.1-.1 -4.9,.3 -4.4,.4 -3.7,.2 -3.7-.1 -3.5-.8 -4,0 -3.7,0 -4.5,1.2 -3.8,.2 -4.4,0 -3.5-.5 -3.9-.9 -4.3-.4 -4.8-.8 -4.6-.5 -3.9-.8"/>
<path d="M814.5,350l-14.5,6 -10,2.5 -20-2.5 -30,3 -25,4 -15,3 -12,3 -12-1 -16,4 -20,7 -15,2 -15.2,5 -14.8,6 -15.2,9 -11.2-5.6 -13.6,4.6 -15,4 -11,4.5 -7-4.5 -6-4"/>
</g>
<g fill="#000"><circle cx="494.8" cy="353.2" r="3.25"/><circle cx="497.4" cy="331.7" r="3.25"/><circle cx="504" cy="344.4" r="3.25"/><circle cx="521.8" cy="373.6" r="3.25"/><circle cx="530" cy="308" r="3.25"/><circle cx="552.8" cy="302.4" r="3.25"/><circle cx="561" cy="310.9" r="3.25"/><circle cx="527.4" cy="327.3" r="3.25"/><circle cx="561" cy="377.5" r="3.25"/><circle cx="578" cy="373.4" r="3.25"/><circle cx="551.7" cy="368.4" r="3.25"/><circle cx="525.5" cy="363" r="3.25"/><circle cx="533" cy="363" r="3.25"/><circle cx="510" cy="337.7" r="3.25"/><circle cx="514" cy="351" r="3.25"/><circle cx="519" cy="334.7" r="3.25"/><circle cx="523" cy="344.7" r="3.25"/><circle cx="528" cy="355.5" r="3.25"/><circle cx="535" cy="330.7" r="3.25"/><circle cx="540" cy="339.6" r="3.25"/><circle cx="508" cy="345.9" r="3.25"/><circle cx="512" cy="342.7" r="3.25"/><circle cx="518" cy="357.4" r="3.25"/><circle cx="517.1" cy="367.6" r="3.25"/><circle cx="521.8" cy="368.3" r="3.25"/><circle cx="518.4" cy="342.4" r="3.25"/><circle cx="552.8" cy="325.5" r="3.25"/><circle cx="518.4" cy="333.3" r="3.25"/><circle cx="528" cy="325.9" r="3.25"/><circle cx="543.9" cy="354.5" r="3.25"/><circle cx="538.8" cy="365.4" r="3.25"/><circle cx="523.1" cy="371.9" r="3.25"/><circle cx="553.5" cy="351.4" r="3.25"/><circle cx="555.2" cy="366.8" r="3.25"/><circle cx="516.1" cy="365.6" r="3.25"/><circle cx="564" cy="362.4" r="3.25"/><circle cx="555.2" cy="353.3" r="3.25"/><circle cx="539.4" cy="349" r="3.25"/><circle cx="515.3" cy="343.8" r="3.25"/><circle cx="538.6" cy="347.4" r="3.25"/><circle cx="550.4" cy="342.3" r="3.25"/><circle cx="527.8" cy="335.3" r="3.25"/><circle cx="526.4" cy="345.7" r="3.25"/><circle cx="529.3" cy="333.6" r="3.25"/><circle cx="527.9" cy="347.1" r="3.25"/><circle cx="536.8" cy="347.9" r="3.25"/><circle cx="532" cy="337" r="3.25"/><circle cx="559.1" cy="326" r="3.25"/><circle cx="569.7" cy="353.4" r="3.25"/><circle cx="543.7" cy="351.4" r="3.25"/><circle cx="553.6" cy="348.9" r="3.25"/><circle cx="531.6" cy="350.1" r="3.25"/><circle cx="557.4" cy="363.1" r="3.25"/><circle cx="546.9" cy="332.8" r="3.25"/><circle cx="547.3" cy="352" r="3.25"/><circle cx="535.5" cy="354.9" r="3.25"/><circle cx="533.7" cy="343.7" r="3.25"/><circle cx="555" cy="354.2" r="3.25"/><circle cx="552.1" cy="353.2" r="3.25"/><circle cx="534.6" cy="344" r="3.25"/><circle cx="543.2" cy="350.8" r="3.25"/><circle cx="531.1" cy="353.3" r="3.25"/><circle cx="567" cy="365.4" r="3.25"/><circle cx="556.1" cy="349.7" r="3.25"/><circle cx="555.5" cy="332.8" r="3.25"/><circle cx="566.6" cy="342.3" r="3.25"/><circle cx="569.4" cy="345.1" r="3.25"/><circle cx="566.9" cy="344.8" r="3.25"/><circle cx="530.9" cy="338.9" r="3.25"/><circle cx="543.8" cy="353" r="3.25"/><circle cx="533.3" cy="354.7" r="3.25"/><circle cx="550.1" cy="360.3" r="3.25"/><circle cx="563.5" cy="338.2" r="3.25"/><circle cx="566.9" cy="336.1" r="3.25"/><circle cx="568.8" cy="326" r="3.25"/><circle cx="532.7" cy="342.5" r="3.25"/><circle cx="529.6" cy="360" r="3.25"/><circle cx="526.1" cy="342.6" r="3.25"/><circle cx="532.9" cy="350.5" r="3.25"/><circle cx="562.9" cy="353.6" r="3.25"/><circle cx="551.6" cy="336" r="3.25"/><circle cx="546.2" cy="352.9" r="3.25"/><circle cx="552" cy="350.1" r="3.25"/><circle cx="551.9" cy="350.6" r="3.25"/><circle cx="566.3" cy="329.4" r="3.25"/><circle cx="567.3" cy="348.2" r="3.25"/><circle cx="538" cy="347.9" r="3.25"/><circle cx="535" cy="346.8" r="3.25"/><circle cx="540.6" cy="344.9" r="3.25"/><circle cx="548.4" cy="339.4" r="3.25"/><circle cx="531.2" cy="344.5" r="3.25"/><circle cx="517.9" cy="342.2" r="3.25"/><circle cx="570.4" cy="363.8" r="3.25"/><circle cx="561.6" cy="325.4" r="3.25"/><circle cx="562.7" cy="347.5" r="3.25"/><circle cx="569.1" cy="337.6" r="3.25"/><circle cx="518.7" cy="363.6" r="3.25"/><circle cx="557.7" cy="328.1" r="3.25"/><circle cx="566.6" cy="350.2" r="3.25"/><circle cx="522.1" cy="346.4" r="3.25"/><circle cx="539.1" cy="353.1" r="3.25"/><circle cx="559.4" cy="348" r="3.25"/><circle cx="546.7" cy="356.3" r="3.25"/><circle cx="516.8" cy="352.4" r="3.25"/><circle cx="520.1" cy="351.3" r="3.25"/><circle cx="561" cy="346.4" r="3.25"/><circle cx="525" cy="347.5" r="3.25"/><circle cx="545.7" cy="358.7" r="3.25"/><circle cx="516.1" cy="342.4" r="3.25"/><circle cx="518.8" cy="339.8" r="3.25"/><circle cx="534.3" cy="339.4" r="3.25"/><circle cx="551" cy="355.6" r="3.25"/><circle cx="547.5" cy="346.9" r="3.25"/><circle cx="567.7" cy="355" r="3.25"/><circle cx="549.4" cy="361.9" r="3.25"/><circle cx="570.5" cy="348.2" r="3.25"/><circle cx="537.3" cy="344.1" r="3.25"/><circle cx="565.2" cy="356.9" r="3.25"/><circle cx="532.9" cy="352.3" r="3.25"/><circle cx="542.6" cy="342" r="3.25"/><circle cx="570.5" cy="329.5" r="3.25"/><circle cx="517.5" cy="340.3" r="3.25"/><circle cx="529.8" cy="345.3" r="3.25"/><circle cx="561.3" cy="346.1" r="3.25"/><circle cx="559.7" cy="337.1" r="3.25"/><circle cx="558.3" cy="358.6" r="3.25"/><circle cx="546" cy="340.4" r="3.25"/><circle cx="557.7" cy="351.6" r="3.25"/><circle cx="523.4" cy="355" r="3.25"/><circle cx="549.2" cy="342.2" r="3.25"/><circle cx="540.9" cy="359.6" r="3.25"/><circle cx="555.6" cy="358.2" r="3.25"/><circle cx="532" cy="361.3" r="3.25"/><circle cx="534" cy="339.4" r="3.25"/><circle cx="523.4" cy="361" r="3.25"/><circle cx="562.9" cy="352.3" r="3.25"/><circle cx="557.1" cy="349" r="3.25"/><circle cx="550.3" cy="336.6" r="3.25"/><circle cx="516" cy="400" r="3.25"/></g>
<g fill="none" stroke="#f40000" stroke-width="1.2" stroke-opacity="0.66" stroke-linejoin="round">
<path d="M787.4,347.6l2.3-4.1 3.3-.2 .9,.7 1.4,.6 2.9,3 3,1.1 .1-1.4 3.2-.3 1.2,.3 1.9-.1 2.3-1.6 1.3,.8 2.4,1.2 .9,.3 -.9,2.3 .2-2.5 -.3,.2 1.9,2 1.7-.9 2.7-1.9 2.4-2.3 2.1-1.5 -.1,1.2 .9-.1 1.8-1 .1-2.1 1.9,0 -.3-1.9 .1,1 -.9-.1 -.8-.5 .4-.7 -1,1.1 0-1.6 .2-.7 .7-2.6 .4-.6 .5,1.3 -1.2,.2 1,.6"/>
<path d="M775.5,345l2.3-.1 1.8-1.4 2-.2 4.6,1.9 1.3-1 1.8,0 .4,0 3.3,1.2 4.9,.2 3.7-.6 4.9,.6 4.3,1.3 1,1.8 2.7,.5 .8,.7 3-1.6 1.4,1.1 .8,0 -.8-1.8 4,0 2.3,.3 2.1-1.6 2.2-.9 2.9,.5 2.3-1.5 2.4-1.3 3.6-.2 1.4-.1 .6-.9 .2-2.1 .1-1.7 1.6-1.5 1.7,.4 -.4-1.1 .7-3.2 .2,.8 2.4,1.3 2.3-1.3 2.1,1.5 2.3-1.3"/>
<path d="M790.3,346.3l1.5-1.1 2.9-.5 2.5,.2 0-.6 .8-.4 3.1,0 .3-.2 3.5,.3 2.7-.8 3.4-.3 1.2,.2 1.1,1.2 .9,.8 .3,1.2 2.7-.3 2-.1 1.7,.5 1.2-.7 3.9-1.1 4.3-1.1 1.6-.8 1.5-.2 -.4-3.3 3.9-2.4 1.6-2.5 2.2-.8 1.8,1.3 2-.1 3.4-.5 3.6,1 3,.9 3.8-.6 1.4,2.2 0,.9 .4-1.1 3.1,.4 1.6,1.1 3-.7 1.9-.5 1.8-2"/>
<path d="M782.8,348.4l2.8-1.2 3.5,.7 2.6-.2 .7-2.6 2.6,1.5 2.2,.3 3.6,.5 .2,.7 2.4,.9 1.3,.5 2.2-.6 4-.8 2.9,1.2 .7-.5 3.2-.6 3.1-.8 4.5,1 .9-1 1.7-.5 2-2.8 1.6-.7 2.8,.9 1.7-1.3 1.5-.4 2.8,1.5 1.8,2.2 -1.4-.3 4,.2 2.8,1.6 3.9,1 2.4,.5 1.9-.6 .3,1.1 3.2-1.7 2.7-1.7 .3,1.2 1.9-.9 1.7,.1 4.2,.2 1.8,0"/>
<path d="M796.6,347l1.4,.5 1,.6 .2,1.6 2.7,1 1.1,2.3 .1-.8 .8,.1 .5,1.7 1.3,.4 1.3,1.5 1.7,.2 2.2,1 1.9-.5 1.7-2.9 4.4-.2 1.7,1.2 3.1,1.6 2.8-.8 .3-.6 3.1,0 1.2-2.8 .1,1 .1,0 1.3-.7 -.2-.2 1.5-.8 2.1-.9 2.3-1 2.5,.7 -.1-1.7 2.3-1.5 1,2 3-.5 2.5,1.4 4.1-.4 1.7-1.4 .1,2.1 3.7,1.4 4,.2 2.7-.8"/>
<path d="M786.2,348l1.9-.4 1.2,.1 2,.8 1.2,2.2 2.2-2.7 3,1.5 1.7,.2 4.8,.2 2.2-1.1 1.2-1 1.1,.3 2.6-.9 3.7,.1 -.5,0 0,.1 .3,1.8 3.5,.7 1.8-.7 1.4,1 2.8-.3 1.2,1.6 2.4-.4 1.3,1.2 2.6,.2 .7-.4 -.1,.8 1,2 .8-1.5 0-1.9 .7,1.4 .9,1.8 -1.3,0 .9-2.8 -.8,.1 2.3,.1 -.5,.8 1.1-.4 .8-1.8 -.3-1.6 1.7,2.4"/>
<path d="M777.5,348.7l.5,.9 1.8-.9 4.4-.4 2.1,.2 4.8,0 2.8-3.3 .7-1.5 2.5,.5 3.2,.6 2.7-2.2 3,.9 2-.1 4.4-1.3 2.1,2.2 .9,.3 1.7,1.3 1.3,.4 .6-.4 .3,.7 2.5,.8 -.1,1.3 .9-.1 .4-.3 .1-.4 .2,1.7 1.4,.4 .4-1.1 1,.3 1.3,.4 1.3,1.2 -.7,0 1.4-1 1.2,.7 -.5-2.3 .4,1.4 -2.9,1 .5,1.2 -1.7,.1 -1.4,.2 -.3-.2"/>
</g>
<g fill="#f40000"><circle cx="828" cy="336.8" r="3.25"/><circle cx="856.7" cy="333.7" r="3.25"/><circle cx="871.5" cy="335.8" r="3.25"/><circle cx="871.8" cy="347" r="3.25"/><circle cx="865.8" cy="351" r="3.25"/><circle cx="839.7" cy="351.5" r="3.25"/><circle cx="824.7" cy="351.9" r="3.25"/></g>
<text x="124.6" y="296.3" font-size="26.7" text-anchor="start" font-weight="normal" textLength="127.7" lengthAdjust="spacingAndGlyphs" >50 mV/mm</text>
<text x="103.2" y="272.2" font-size="19.3" text-anchor="end" font-weight="normal" >100</text>
<text x="103.2" y="352.9" font-size="19.3" text-anchor="end" font-weight="normal" >0</text>
<text x="103.2" y="434" font-size="19.3" text-anchor="end" font-weight="normal" >-100</text>
<text transform="translate(53.3 344.1) rotate(-90)" font-size="22" text-anchor="middle" font-weight="normal" textLength="131.5" lengthAdjust="spacingAndGlyphs" >(Distance µm)</text>
<line x1="162.4" y1="476.7" x2="162.4" y2="641.8" stroke="#e0e0e0" stroke-width="1.7"/>
<line x1="327.8" y1="476.7" x2="327.8" y2="641.8" stroke="#e0e0e0" stroke-width="1.7"/>
<line x1="493.2" y1="476.7" x2="493.2" y2="641.8" stroke="#e0e0e0" stroke-width="1.7"/>
<line x1="658.6" y1="476.7" x2="658.6" y2="641.8" stroke="#e0e0e0" stroke-width="1.7"/>
<line x1="122.9" y1="518" x2="975.2" y2="518" stroke="#e3e3e3" stroke-width="2.1"/>
<line x1="122.9" y1="600.6" x2="975.2" y2="600.6" stroke="#e3e3e3" stroke-width="2.1"/>
<line x1="974.4" y1="476.7" x2="974.4" y2="643.8" stroke="#c8c8c8" stroke-width="1.5"/>
<line x1="122.9" y1="559.4" x2="975.2" y2="559.4" stroke="#8a8a8a" stroke-width="2.0"/>
<line x1="824" y1="476.7" x2="824" y2="641.8" stroke="#989898" stroke-width="2.8"/>
<line x1="121.9" y1="476.7" x2="976.2" y2="476.7" stroke="#a6a6a6" stroke-width="3.1"/>
<line x1="121.9" y1="641.8" x2="976.2" y2="641.8" stroke="#a6a6a6" stroke-width="3.1"/>
<line x1="122.9" y1="476.7" x2="122.9" y2="641.8" stroke="#acacac" stroke-width="1.7"/>
<g fill="none" stroke="#000" stroke-width="1.18" stroke-opacity="0.7" stroke-linejoin="round">
<path d="M823.5,559.6l-6.6-.6 -5.9-.9 -5.2-1.5 -5.2-.4 -5.2-.5 -5.5-.5 -5.5-.5 -5.9-.2 -5.8-.2 -5.7-.1 -6.1-.1 -5.8-.1 -5.8,.3 -5.8,.3 -6.5,.7 -6.7,.4 -6.5,.5 -6.3,.5 -6.2,.7 -6.1,.6 -6.2,.5 -5.7,.1 -5.2,.4 -5.1,0 -5,0 -5.3-.4 -5.1-.5 -4.9-.3 -5-.3 -4.7-.1 -5.1,0 -5.2,.2 -5,.2 -5.2,.2 -5.5,.4 -5.8,.1 -5.6-.1 -5.5-.3 -5.2,.5 -5.7,.8 -5.5,.6 -6.1,.1 -5.8-.2 -5.8,0 -5.4,.3 -5.3,.5 -5.5,.2 -5.5-.2 -5.6-.6 -5.8-.6 -6.1-.5 -5.8-.1 -5.7,0 -5.5-.3 -5.6-.3 -5.5-.2 -5.3,.5 -5.3,.3 -5.1-.1 -5.9,.1 -6.1,.5 -6.4,.7 -5.5,.9 -5.4,.9 -5.6,1.1 -5.9,.5 -6.4,.2 -6,0 -5.4-.4 -5.2-.6 -4.9-.5 -5.3,0 -5.7,.2 -6,.5 -6,.3 -6,.4 -5.7,.2 -5.3,.2 -5.1,.3 -5.3,.5 -5.9,.3 -5.5,.3 -5.5,.3 -5.1,1.2 -5.5,.7 -5.5,.5 -5.8,.4 -5.9,.8 -6.6,.7 -6.9,.6 -6.8,.7 -6.4,.5 -5.9-.4 -6-.7 -5.8-.5 -5.8,.2 -5.4,.8 -5.6-.2 -5.7-.3 -6-.9 -5.6-.3 -5.8-.7 -6.1-.4 -6.5-.6 -6.3-.1 -5.5,.3 -5.4,.9 -5.4,.4 -5.8,.4 -5.8-.2 -6.1,.2 -5.8,.2 -5.6,1.1 -5.4,1.2 -5.6,.7 -6.2-.2 -5.8-.3 -6.1-.1 -5.3,.1 -5.2-.5"/>
<path d="M823.5,559.6l-5.8,.3 -5.8,.4 -5.5,.2 -5,.1 -5.3,0 -6,0 -6.3-.5 -6-.3 -5.8-.3 -5.8,.2 -5.7,.1 -5.9,.3 -5.6,.3 -5.6,.3 -5.3,.4 -5.1,.3 -5.6-.2 -5.8-.4 -6.3-.7 -6-.2 -5.8-.3 -5.5,.1 -5.6,.1 -6.1,.4 -5.7,.2 -5.2-.1 -5.3-.3 -5.5-.4 -5.8-.6 -5,0 -5.4,0 -5.2,.4 -5.4-.2 -5.4-.4 -5.8-.3 -5.8,.1 -5.9,.2 -5.4-.1 -5.6-.5 -5.4-.6 -5.9-.6 -5.5-.5 -5.2-.2 -5.6,.1 -6.1-.3 -5.8-.5 -5.6-.5 -5.2-.1 -5.5-.3 -5.6-.2 -5.7,.1 -5.8,.6 -5.8,.7 -6,.3 -5.7-.1 -5.7-.3 -5.4-.2 -5.6-.2 -5.1,.2 -5.4,.1 -5.4,.2 -5.7,.4 -5.8,.7 -6.1,.4 -5.9-.2 -5.9-.2 -6.2-.2 -6,.3 -5.6,.4 -5.1,.6 -5.1,.4 -4.8,.1 -5,.1 -5.4,.1 -6,.3 -5.5-.4 -5.6-.4 -5.7,0 -6,.6 -6,.5 -5.9,.3 -5.3,.6 -4.5-.1 -4.5-.3 -4.9-.1 -5.5,.2 -5.9,1.2 -6.2,.5 -6.1,.9 -5.5-.5 -5.2-.8 -5.5-1.3 -5.6-.1 -5.2-.1 -5.1,.2 -5.1-.4 -5.4,.3 -5.8-.1 -5.9-.1 -6.2-.3 -5.6-.1 -5.6,.7 -5.2,.6 -5.7,.8 -6,.2 -6.5,.5 -5.7-.1 -5.9,0 -5.9-.4 -6.3-.6 -5.7-.5 -5.8-.5 -5.8-.5 -5.8-.7 -5-.9 -4.3-.7 -5-.5 -5.5,.1 -6.5-.4 -6.8-1"/>
<path d="M823.5,559.6l-5.9-1.3 -5.9-.8 -5.6-.4 -5.9,.6 -5.6,.4 -5.7,.2 -5.9,.1 -5.6-.2 -5.8-.4 -5.6-.5 -6.2-.6 -6-.6 -6-.6 -5.9-.6 -5.9-.4 -5.5,.1 -5.2,.4 -6,.1 -6.6,0 -6.7,0 -5.7,.4 -5.3,.4 -5,.7 -5.1,1 -5.3,.7 -5.7,.3 -6.2-.2 -6.1,0 -5.9-.1 -5.3,0 -5.3-.3 -5.6-.6 -5.5-.9 -5.5-.7 -5.2-.6 -5.4-.4 -4.9-.3 -5.1,.3 -5.1,.3 -5.6,.2 -5.8,.3 -5.8,.4 -5.5,.7 -5.2,.5 -5.2,.6 -5,.4 -5.3,.9 -5.3,.5 -5.7,.5 -5.7,.1 -5.7,.4 -5.3,.3 -5.5,.1 -5.3-.4 -5.5-.9 -5.6-1 -6.4-.9 -6.2-.3 -6.2-.1 -5.9-.2 -5.9-.5 -5.6-.5 -5.4,0 -5.5,.4 -5.2,.4 -5.6,.8 -5.8,.4 -5.9,.6 -5.6,.3 -5.7,.3 -5.8,.4 -6.1,.1 -5.5,.5 -5.6,0 -5.1,.2 -5.4,.2 -5.1,1 -5.2,.5 -5.5-.3 -6.1-.9 -5.9-.1 -5.2,.6 -4.2,.7 -4.4,.5 -4.7,.5 -5.8,.7 -5.9,1 -6.3,.8 -5.5,1 -5.2,.6 -5.2,.7 -5.5,.5 -5.6,.4 -5.7-.2 -6-.4 -5.9,.1 -5.4-.5 -5.4-.3 -5.6-.6 -5.2,0 -4.9,.1 -4.9,.3 -5.3,.4 -5.5,0 -5.6,0 -5.5-.4 -6.1-.2 -6.1-.5 -5.8-.2 -5.4,0 -5.3,1 -4.9,1.6 -4.9,1.4 -4.8,.8 -5.4,.1 -5.1-.3 -5.6,.3 -5.6,.3 -5.8,.5 -5.6-.3"/>
<path d="M823.5,559.6l-6.2-.5 -5.5-.3 -5.4-.2 -5.5,.1 -6,.1 -5.9,.1 -5.7,.1 -6,.1 -5.9,0 -6.5-.1 -6.4,0 -6.1-.2 -5.9-.2 -5.4-.4 -5.4-.5 -5.7-.5 -5.9-.2 -5.7-.1 -5.1,.3 -4.4,.3 -5,.1 -5.5,.2 -6.1,.3 -5.5,.4 -5.4,0 -5.8,0 -6.5,.1 -6.5,.4 -6.4,.4 -6,.5 -5.6,.6 -5.3,.6 -5.3,0 -5.3-.3 -5-.1 -5.1-.2 -5.2-.1 -5-.4 -5.3-.1 -5.2-.3 -5.7-.6 -5.6-.9 -5.4-.3 -5.3,.1 -5.3,.4 -5.1,.5 -5,.4 -4.8,.1 -5.2,0 -4.9,0 -5.1,.4 -5,.2 -5.3,.3 -5.6,.2 -5.6,.5 -5.7,.1 -5.1-.3 -5-.3 -5.2,0 -5.7,.7 -6,0 -6,.2 -5.7-.4 -5.7-.5 -5.2,0 -5.1,.3 -5,.5 -5.3,0 -5.6,.2 -5.7-.5 -5.6-.4 -5.8-.8 -5.9,.1 -6,0 -5.9,.2 -5.4-.1 -5.1,.8 -4.7,.9 -5.1,.5 -5.1-.3 -5.4-.4 -5.4,.3 -5.5,.2 -5.6,.1 -5.4-.3 -5.5-.3 -5.8-.4 -5.9-.8 -5.9-.8 -5.4-.6 -5-.4 -5-.2 -4.5-.1 -5.5,.1 -5.3-.7 -6-.5 -5.9-.2 -5.7,.5 -5.3-.2 -5.2,.4 -5.4,0 -5.9,.5 -5.1-.1 -5.1,.1 -5.2,.3 -6.1,.2 -6.1,.2 -5.8-.1 -4.8,.1 -4.8,.7 -4.6,.2 -5.2,0 -5.4-.3 -5.5,0 -5.4-.5 -5.6-.5 -6,0 -6,.1 -5.7,.3 -5.5,.1"/>
<path d="M823.5,559.6l-5.4-1.2 -5.3-1 -5-.7 -5.3,.1 -5.5,.1 -6.2,.1 -5.8,0 -6.1,.2 -5.9-.1 -6.2-.3 -5.7-.4 -5.7-.4 -5.2-.3 -5-.3 -4.6-.1 -5.3,.2 -5.5,.3 -5.3,.4 -5.1,.3 -4.9,0 -5.5,.1 -5.5,.1 -5.8,.3 -5.5,.2 -5.6,.6 -5.4,.6 -5.4,.5 -5.4,.3 -5.6,.4 -5.8,.5 -5.3,.4 -5.3,.4 -5,.2 -5.5-.2 -5.2-.6 -5.1-.8 -5.2-.5 -5.5,.1 -5.7,.3 -5.5,.2 -5.2-.1 -5.1-.5 -4.8-.6 -5.1-.4 -5.3-.2 -5.3-.1 -5.6,.4 -5.5,.8 -5.4,1.3 -5.4,1.3 -5.6,.8 -5.9,.3 -5.9,.1 -5.7-.2 -5.2-.3 -5.6-.5 -5.5-.6 -5.6-.5 -5.4-.8 -5.2-.4 -5.7-1.2 -5.7-.5 -5.8,.1 -5.8,.6 -5.6,.4 -5.7-.4 -5.2,.3 -5,.6 -5.1,1.2 -4.9,.4 -5.3,.9 -5.6,.4 -5.9,.7 -5.5,.2 -4.8,0 -4.6-.2 -4.3-.4 -4.8,0 -5.2,.9 -6.1,.3 -5.7,.1 -5.6-.8 -5.3-.4 -5.7-.5 -5.8-.4 -5.5,.1 -5.6,.5 -5.8,.2 -6-.2 -5.9-.6 -5.8,.4 -5.9,1 -6.2,1.5 -6,1.2 -6.1,.7 -5.3,.1 -5,.3 -4.7,.6 -5,.4 -4.9,0 -5.1-.1 -5.2-.2 -5.6-.5 -5.6-.4 -6.1,.5 -5.9,.2 -5.9-.4 -5.5-.4 -5.5,0 -5,.2 -5.1,.2 -5,0 -5.7,.2 -5.7,.1 -5.6-.1 -5.2-.3 -5.7,0 -5.8,.5 -5.8,.7 -5,.4"/>
<path d="M823.5,559.6l-4.9,.2 -5.6,.1 -5.9,.1 -6-.1 -5.7,.1 -5.3,.2 -5.1,.1 -5.1-.2 -5.8-.5 -5.5-.4 -5.5,.1 -5.4,0 -5.8,0 -5.7-.4 -5.5-.1 -5.1,0 -5.4,.3 -5.5,.3 -5.5,.3 -5.4,.1 -4.9-.4 -4.9-.4 -4.9-.1 -5.4,0 -5.9-.2 -5.6,0 -5.7,0 -5.7,0 -5.7-.4 -5.3-.4 -5.1-.5 -4.7-.4 -4.7-.5 -4.9,0 -5.4,0 -5.2,.1 -5-.5 -4.7-.5 -5.2-.2 -5.1,.2 -4.8,.3 -5,.1 -4.9,.3 -5.9,.8 -5.3,.7 -5,.2 -4.7-.1 -4.8-.4 -5.2-.4 -5.2-.5 -5.1,0 -5.2,.4 -5.5,1.2 -5.9,.9 -5.9,.8 -5.6,.2 -6.2-.2 -6.3-.9 -6.6-.6 -5.6-.8 -4.9,.1 -4.2-.3 -4.7,.3 -4.9-.4 -4.9-.5 -4.7,.2 -5.2,0 -5.4,.1 -5.4-.4 -5.1,.1 -5.4,0 -5.8,.1 -5.8-1 -5.9-.8 -5.9-1.5 -5.8-.9 -5.5-1.2 -5,0 -5.4,.7 -5.3,1.2 -5.4,.7 -5,.4 -4.9-.1 -5.2,0 -6.1-.3 -5.9,.1 -6.1,.6 -5.1,1.5 -5.8,.8 -5.9,.8 -5.5,.9 -4.7,2 -4,1.6 -4.6,1.1 -5.3,0 -5.6-.5 -5.8-.8 -5.7-.7 -6.1-.2 -5.9-.3 -5.6,0 -4.8-.3 -5-.6 -5.3-1.4 -5.5-1.2 -5.5-.3 -5.3,.2 -5.6-.5 -5.1-.4 -5.3-.3 -5.1-.3 -5.4-.4 -5.6-.7 -5.3-.6 -5.7-.4 -5.2,.7 -6.1,1.7 -5.7,1.5 -5.9,1 -5.7,.7"/>
<path d="M823.5,559.6l-5.2-1.6 -5-1.7 -5-1.8 -5,0 -5.2,.3 -5.2,.1 -5.7,.1 -5.5,0 -6.1,.4 -5.5,.4 -5.5,.3 -4.7,.3 -5,.2 -5.1,.2 -5.4,0 -5.3,.1 -4.6,.1 -4.6-.2 -4.3-.3 -5-.5 -4.9-.3 -5.5-.1 -5.3-.3 -5.4,0 -5.5-.1 -5.5,.1 -5.1,0 -5.3,.6 -5.4,.8 -5.4,.9 -4.7,.5 -4.8,.4 -5,.5 -5.5,.5 -5.1,.7 -4.8,.2 -4.8-.2 -4.8-.5 -4.9-.4 -5.1-.1 -5.8,0 -6,.1 -5.6-.1 -5.2-.1 -4.9-.2 -5.2-.5 -5.1-.4 -5.2-.1 -4.9,.2 -5,.5 -5.6,.7 -5.7,1 -5.8,1.1 -5.2,.5 -5.1-.2 -4.9-.7 -4.9-.1 -5.2,.2 -5,.4 -4.9,.2 -4.9-.1 -5.1-.8 -5.4-.7 -5-.4 -5.3,.2 -4.6,0 -4.8,0 -4.6,.4 -5.5,.7 -5.7,.5 -5.8,.2 -5.5-.2 -5.4-.1 -4.8-.3 -4.8,.6 -5.3,.6 -5.6,1 -5.7,.4 -5.5,.1 -5.6-.1 -5.7-.4 -5.5-.4 -5.4-.6 -4.9-.2 -5-.5 -5.2-.8 -5.8-1.1 -5.8-.8 -5.7-.3 -5.4-.3 -5.4-.3 -4.9-.2 -4.8,.1 -4.9,.1 -4.9,.1 -5.4,.2 -4.7,.1 -5.1,.7 -4.9,.2 -5.7,.1 -5.5-.8 -5.3-.5 -5.2-1.2 -5.6-.7 -6.4-.7 -6.2,.4 -6.2,.5 -5.4,.7 -5.2,.2 -4.8-.5 -5-.3 -6.1,.3 -6.2,.7 -6.1,.1 -4.9,.2 -4.9-.4 -5.1-.6 -5.4-.7 -5.7-.2 -5.7,.3"/>
<path d="M823.5,559.6l-5.6-.2 -5.2,.1 -5.3,.3 -4.8,.1 -5.7,.4 -5.6,.3 -5.4,.6 -4.9,.3 -4.9,.3 -5.7,0 -5.2,.1 -5.3-.1 -4.8,.2 -5.9,.1 -5.8,.4 -5.8,.2 -5.5,.4 -6,.2 -5.8-.2 -5.4-.2 -5.1-.3 -5.3-.1 -5.8-.2 -6.2-.1 -5.8,.1 -5.7-.1 -4.9,0 -5.5-.1 -5.2,0 -5.4,.4 -5.3,.4 -5.6,.4 -5.5,0 -5.7-.1 -5.6-.1 -6.2-.2 -5.7,.2 -5.7,.2 -5.3,.4 -5.5,.5 -5.6,.2 -5.8,.3 -5.1,0 -4.8-.2 -4.9-.6 -5-.6 -5-.4 -4.7,0 -5.3-.1 -5.6,.3 -5.4,0 -5.1,.6 -4.7,.4 -4.8,.7 -5-.1 -5.5,0 -5.5-.1 -5.2,.1 -4.7-.2 -4.9,0 -5.4,.7 -5.6,1 -5.7,.6 -5.6,0 -5.7,.1 -5.4-.2 -5.1,0 -4.9-.5 -4.9-.2 -4.7-.4 -4.7,.3 -5.2,.5 -5.6,.6 -5.9,0 -5-.3 -5.1-.3 -5.2-.2 -6.1,0 -5.8,.3 -6,1 -6,1 -5.3,.4 -5.1,.1 -4.3,.1 -5,.3 -4.2-.1 -4.8-.7 -5-.2 -5.7-.1 -5.5,.7 -5.5,.6 -5.1,.7 -4.7,.3 -4.6,.3 -4.7,.6 -4.8,.8 -5.2,.5 -5.2,.1 -5.1-.3 -4.9-.1 -5.2,.1 -5.6,.4 -5.7,.5 -5.6-.2 -5.5-.6 -5.5-1.2 -5.8-.7 -5.7-1.1 -5.6-.5 -5.1,.1 -5.4,1 -5.9,1.1 -5.9,.4 -5.8,.8 -4.6,.6 -4.3-.4 -4-1 -4.5-1.2 -4.7,.1 -4.6,.4"/>
<path d="M823.5,559.6l-6.5-.3 -5.8-.1 -5.1,0 -5.2,.1 -5.1-.2 -5.6,0 -5.4-.2 -5.7-.3 -5.2-.3 -5.7,.1 -5.1,.3 -5.1,.5 -4.8,.2 -4.7,.1 -4.9,.2 -5.1,.6 -5.4,.2 -5.1-.2 -5.1-.6 -5-.4 -5.2-.1 -4.8,.2 -4.4,.3 -4.3,.2 -4.6,.4 -5.2,.7 -5.7,.4 -5.8,0 -6.1-.1 -6-.2 -5.5-.4 -5.3-.7 -4.6-.4 -5.2,0 -4.6,.3 -4.6-.1 -4.7-.1 -5.2-.3 -5.2,.1 -4.9,0 -4.6,.1 -5.2-.2 -6.1-.4 -6,.1 -6.1,.4 -5.2,.6 -5-.1 -4.4-.2 -4.3-.5 -4.9-.3 -5.2-.5 -5.4,.1 -5.4,.4 -5.3,.6 -5.7,.5 -6.3,.3 -5.8,.1 -5.1,.4 -4.5,.5 -5,.6 -5.5,.1 -5.4,.2 -5.6,.2 -5.3,.3 -5.6-.2 -5.6-.7 -5.7-.5 -5.5-.1 -4.8,.5 -4.4,.3 -4.7,.4 -5.2,.4 -5.5,.7 -5.6,.3 -5.5,.1 -5.5-.1 -5.3,.3 -5.2,0 -5.1-.2 -5-.2 -5.1,.3 -5.6,.8 -5.4,.9 -4.8,1.1 -4.8,1.1 -4.9,1.3 -5.3,.9 -4.9,.7 -4.4,.4 -4.5,.6 -4.7,.2 -4.9-.1 -5-.6 -5.3-.1 -5.1,.3 -5.4,.8 -5.3,.4 -6,.2 -5.5-.7 -5.5-.6 -5.3-.3 -5.8,.1 -6.1-.3 -5.6-.4 -4.8,.1 -4.5,1.3 -5,1.2 -5.3,1 -5.3,.1 -5.2,.3 -5.6,.8 -6,.8 -5.5,.2 -5.5-.6 -4.7-.6 -5.1-.6 -5.5,0 -5.6,.1 -5.5,.2 -4.7-.1"/>
<path d="M823.5,559.6l-6.1,1.1 -5.7,1 -5.5,.9 -5.3,.3 -4.8,.4 -4.7,.4 -4.8,.2 -5.1,.2 -4.8,.1 -4.7-.1 -4.8-.4 -5.2-.3 -5.3-.3 -5-.4 -4.9-.1 -4.5,.2 -4.4,.7 -5.1,.3 -5.5,.1 -6,.3 -5.2,.5 -5.1,.8 -5.1,.7 -5.4,1.1 -5.5,.9 -5.6,.9 -5.2,.5 -5.1,.2 -4.8,0 -5.2,.1 -5.8,.3 -5.5,.2 -5.2-.1 -4.5-.5 -5.1-.5 -5.3-.6 -5.6-.2 -5.2,0 -5.6,.1 -5.6-.1 -5.5-.1 -5.1,.2 -5.4,.2 -6.1,.3 -5.5,.3 -4.9,.8 -4.8,.6 -5.3,1 -5.8,.6 -5.6,.5 -5.1,0 -4.7,.1 -5.2,.5 -5.2,.6 -5.3,.6 -4.9,.6 -4.5,.7 -4.9,.2 -5-.3 -5.5,0 -4.9,.4 -4.6,.4 -4.8-.7 -4.7-.5 -4.9-.1 -4.9,.8 -5.4,.7 -6,.6 -5.8,.2 -5.2-.2 -4.5-.2 -4.7,.3 -5.2,1.1 -5.7,1.1 -5.9,.3 -5.7-.2 -5.7-.3 -5.3,0 -5,.3 -5.3,.5 -4.8,.8 -5,.7 -4.8,1 -5.4,1 -5.5,1.1 -5.1,.1 -4.9,.1 -4.7,.2 -4.9,.2 -5-.1 -5.2-.3 -5.3,.5 -5.1,.4 -5.4,.3 -5.1-.3 -5-.1 -5.2-.1 -4.6,.5 -4.8,1 -4.5,1.3 -5.1,.4 -4.8-.2 -4.8-1.4 -5-.5 -5.4-.2 -5.5,.7 -5,.4 -5-.3 -5-.4 -5.4-.6 -5.1-.1 -4.6-.5 -4.7-1.1 -5.2-1.5 -5.3-.6 -5.7,.7 -6.1,.8 -6.2-.2 -6.1-.2 -5.9,.1"/>
<path d="M823.5,559.6l-4.5,1.3 -5.1,1.2 -5.9,.9 -6-.3 -6-.4 -5.5-.2 -5.3-.2 -5,0 -5.2-.3 -4.9,.1 -4.9,.2 -4.7,.1 -4.6,0 -5.1,.1 -5.1,.2 -5.2,.6 -4.3,.4 -4.6,.4 -4.5,.3 -5.4,.3 -5.2,.2 -5.8-.1 -5.5-.3 -5.2,0 -5.1,0 -5.1,.2 -5.6-.3 -5.7-.1 -5.7-.2 -5.4,0 -5.2,0 -5.4,.3 -5.5,.2 -5.8,.3 -5.1,.3 -5.1,.4 -4.9,.2 -5.5,.2 -5.1,.3 -5.1,.6 -4.8,.6 -4.8,.5 -4.9,.7 -4.8,1.1 -5.6,1.1 -5.7,.8 -5.6,.8 -5.1,.2 -4.6,.4 -4.5-.2 -4.3,0 -4.8-.2 -5.4,.4 -6,.9 -5.8,.9 -5.4,.2 -5-.2 -5.3-.4 -5.3-.3 -5.3,.2 -5.4,.7 -5.5,.9 -5.7,.5 -5.3,.6 -5.2,.9 -5.5,.7 -5.5,.5 -5.7-.1 -5.3-.1 -5.3,.1 -4.9,.4 -4.5,.2 -3.8,.2 -4.5,.1 -5,.6 -5.4,.7 -5,.3 -4.7,0 -4.6-.3 -4.4,.1 -4.7,.2 -4.6,.2 -5.2-.2 -5.4,.1 -5.7,.6 -5.5,1.3 -5.3,1 -5.4,.3 -5.1-.1 -5.4-.3 -5.2,.3 -5.6-.3 -4.9-.8 -5.2-.8 -4.5-.4 -4.8,.3 -5,.1 -5.4,.3 -5.9-.4 -5.6-.3 -5.8-1.3 -5.2-1.4 -4.7-1.2 -4.4-.4 -4.4-.3 -4.7-.2 -4.5,.2 -5.4,.9 -5.3,.3 -5.6-.1 -5-.8 -5-.6 -4.8-.5 -4.8,.1 -4.4,.3 -4.5,.5 -4.4-.1 -5,.3 -5.5,1 -5.7,2.4"/>
<path d="M823.5,559.6l-4.1,0 -4.7,.1 -4.9,.3 -5.2,.4 -4.9,.4 -5.2,0 -4.6-.2 -4.5-.2 -4.6,.1 -4.5,.3 -4.8,.3 -4.5,.3 -4.9,.3 -4.8,.5 -4.8,.2 -4.7-.1 -4.7-.3 -4.7,.2 -4.8,.1 -5-.1 -4.8-.3 -4.9-.2 -5,.1 -5.8,.1 -5.5,.3 -5.3,.3 -5.1,.4 -5.2,.2 -4.7,.3 -4.6,.2 -4.7,.1 -5.6,0 -6.4,.2 -6.2,0 -5.8,.1 -5.4-.3 -5.2,.1 -4.9,.3 -4.7,.3 -5.1,.2 -5.2,0 -4.9,0 -5.1,.3 -5,1 -5.3,.8 -5.1,1.2 -6.1,.4 -6.1,.4 -6.1,.1 -5.3,.3 -5.8,.2 -5.5-.1 -5.5-.4 -4.3-.2 -4.4,0 -4.2,.3 -4.6,.4 -4.7,.5 -5.4,.6 -5.5,.9 -5.5,.8 -5.2,.8 -5.2,.2 -5.5,.3 -5.6,.1 -5.5,0 -5,.3 -4.3,.2 -4.3,0 -4.6,0 -5.2-.2 -5.5,0 -5.6-.1 -5.3,.4 -4.9,.4 -4.7,.3 -4.5,.2 -4.5,1.5 -4.5,1.4 -5.2,.6 -5.7-.1 -5.5,.1 -5.5,.4 -5,0 -5.8-.1 -5.5,.4 -5.8,.8 -5,.6 -4.7,1 -4.3,.7 -4.7,.8 -5.1,.1 -5.8,.7 -5.4,.7 -5,.7 -4.8,0 -4.6-.2 -4.5,.2 -4.4,.6 -4.7,.5 -5.1,.5 -5.3,.2 -5.3,.5 -5.1,.4 -4.5,0 -4.6-.1 -5-.2 -5.3-.3 -5.1-.4 -5.5-.2 -5.5-.1 -5.2,0 -5.1-.3 -5.3,.3 -6-.2 -5.5-.4 -4.8-.2 -4.5,.7 -5,.8 -5.5,.4"/>
<path d="M823.5,559.6l-5.3-.3 -5.2,.1 -4.9,.1 -4.7,.2 -4.4-.3 -4.8-.3 -5.5,0 -5.2,.3 -5.3,.3 -5.2,.1 -5.9,.1 -5.5,.2 -5.1,.5 -4.6,.6 -5,.6 -5.6,.5 -5.8,.2 -5.7-.1 -5.4-.3 -4.9-.3 -4.5-.1 -4,.2 -4.8-.1 -4.8,.1 -5.9-.2 -4.9,.8 -4.6,.8 -3.5,1 -4,.4 -4.2,0 -4.1,.8 -4.2,.5 -4.5,.7 -5-.4 -4.8,.1 -4.8-.1 -4.9,.2 -4.6,.3 -4.5,.5 -4.3,.7 -4.6,.7 -4.8,.3 -5.4,.1 -5.6,.2 -5.6,.4 -5.4,.2 -5.1,.3 -5.2,.1 -4.7,.4 -5,.1 -4.5,0 -5,0 -4.7,.2 -4.6,.4 -4.4,.1 -5-.4 -6.1-.6 -5.8,0 -5.6,.7 -5.2,1 -5.3,.7 -5.2,.6 -4.8,.4 -4.5,.3 -4.1,.2 -4.5,.4 -4.9,0 -5.2,.3 -5.2,.7 -5.1,.9 -5.2,.6 -5.1,.1 -5.5-.2 -5.2,0 -5.4,.3 -4.7,.3 -4.7,.1 -4.7,.3 -5.2,.2 -5.3,.7 -5.2,.9 -5.2,1 -5.3,.6 -5.1,0 -5.5,.1 -5.3-.2 -5.1-.2 -4.6-.2 -4.8-.2 -4.9-.3 -5.3,0 -4.6,.8 -4.6,.7 -4.4,.5 -4.6,.1 -4.6,.1 -4.7,.4 -5.1,0 -5,.8 -5.2,.8 -5.2,1.4 -5,.3 -4.9,.2 -4.8-.1 -4.8,.5 -4.6,.7 -4.7,1.1 -5.1,.8 -5.3,.3 -5-.2 -4.7,.2 -4.3-.2 -3.9,.5 -4.3,.8 -4.8,1.2 -5.4,.5 -5.3-.2 -5.3-.5 -5.4-.1 -5.6,.5"/>
<path d="M823.5,559.6l-3.7,1.6 -4.7,1.3 -5.1,.8 -5.1-.1 -4.7,.1 -4.3,.1 -4.2,.3 -4,.2 -4,.7 -4.8,.6 -5.1,.7 -5.8,.4 -5.6,.2 -5.8-.3 -5.5-.8 -5.3-.9 -5.4-.8 -5.2-.8 -5.1-.8 -4.6-.8 -4.8-.4 -5.2,0 -5.8,.5 -5.4,.7 -5.3,.6 -4.9,.3 -5.6,0 -5,.1 -5.1,.2 -5.1,.1 -5.8,.3 -5.5,0 -5.3,0 -4.6-.6 -4.7-.7 -4.8-.7 -5.4-.4 -5.5-.3 -5.8-.2 -5.2,.1 -4.9,.4 -4.3,.5 -4.6,.8 -4.9,.7 -5.3,.9 -5.6,.4 -5.5,.6 -5.2,.3 -5.1,.7 -4.9,.3 -4.8,0 -4.6-.9 -4.9-1.1 -4.8-.7 -5.2-.2 -5,.1 -5.2,.2 -5.1,.4 -4.9,.1 -4.9,.3 -5-.3 -5.3,.1 -5.2-.1 -4.8,.3 -4.4,.4 -4.3,.3 -4.5,.2 -4.6,0 -4.6,.2 -4.9,0 -5.1,.2 -5.1,0 -4.9,0 -4.3-.2 -4.5,0 -5,.2 -5.6-.2 -5.6-.4 -5.2-.5 -5.1,.1 -5,.4 -5,.1 -5,0 -4.9-.1 -5,.2 -4.9-.4 -5.2-.3 -5.2-.8 -5.7-.2 -6-.3 -5.9-.2 -5.7-.4 -5-.3 -5-.2 -4.9,.1 -5,.1 -5.4-.1 -5.8-.2 -6.4-.4 -5.7-.3 -5,0 -4.8-.5 -4.8-.5 -4.5-1 -4.6-.6 -4.9-.5 -5.8,0 -5.6,0 -5.4,.3 -5.1,.1 -5.5,.1 -6,0 -5.9,.2 -5.8-.4 -5.6-.3 -5.4,0 -4.8,1 -5.4,.7 -6,.6 -6.8,.5"/>
<path d="M823.5,559.6l-4.8,.1 -4.9,0 -5.2,0 -4.9-.1 -5.1-.1 -4.9,.1 -5-.1 -5.2,0 -5.8-.1 -6,.1 -5.1,.1 -5.2,.2 -5.5,.2 -5.8,.3 -5.6,.1 -5.1,.1 -4.9,0 -5,.2 -5-.3 -5.2-.2 -4.8-.1 -4.9,.1 -4.6,.2 -4.8-.1 -4.3,.1 -5.1,.4 -5.1,.3 -5.7,.3 -4.9-.1 -4.9-.2 -4.8-.3 -5.1-.6 -5.4-.4 -5.1-.4 -4.7,0 -4.2,.2 -3.9,0 -4.5,0 -5.1,0 -5.9-.1 -5.8-.1 -5.2-.5 -4.4-.6 -4.2-.3 -4.3-.4 -5-.5 -5.2-.7 -5.1-.3 -5.3,.3 -5,.3 -5.2,.3 -5.1-.1 -4.8,.3 -4.7,.2 -4.9,.5 -5.2-.1 -5.3,0 -5.1-.4 -4.8,.4 -5.1,.1 -5.3,.6 -5.7,.2 -5.3,.7 -5,1 -4.7,1.4 -4.9,1.3 -5,.6 -5,.6 -4.9-.2 -4.8-.3 -4.9-.6 -4.5-.3 -4.8,0 -4.7-.4 -5-.7 -5-.8 -5-.8 -4.9-.1 -4.7,.2 -5.4,.7 -5.4,.2 -5.3-.2 -4.9-.1 -4.7,.2 -4.8,0 -5.2-.1 -5.6-.8 -5.5,0 -5,.3 -4.4,.1 -4.3,.2 -4.4-.2 -4.6,.5 -5.3,.2 -5.6,.2 -6,.3 -5.3-.2 -5.1,.2 -5.2-.2 -5.2-.7 -4.7-.5 -4.1-.1 -4.4,1 -4.9,.2 -5.5-1 -5.3-.3 -5.3,0 -5.2,.6 -5.3-.1 -5.2,.5 -5.7,.3 -5.8-.1 -6-.4 -5.7,.4 -5.7,.3 -5.3,.2 -4.9,.3 -5.1,.8 -5.3,.7 -5.1-.4"/>
<path d="M823.5,559.6l-5.3,.4 -5.2,.5 -5.1,.4 -5,0 -5.5-.1 -5.7,0 -5.7-.2 -4.6,.1 -4.4,.2 -4.6,0 -4.9-.3 -4.6-.3 -4.3,.1 -4.5,.1 -5.3,.2 -5.2,.5 -5.3,.1 -5.2,.3 -5.5,0 -4.8,.3 -4.7-.2 -5.1-.2 -5.5,0 -5.4,.3 -4.4,.2 -4.6-.4 -5.1-.1 -5.3,.1 -5.4,.2 -5-.1 -5.4-.2 -5.6,0 -5.5-.3 -5-.1 -4.9,0 -4.7,.6 -5,.4 -4.8,.2 -4.7,.3 -5.1,.4 -5,.7 -5.3,.8 -5.2,.6 -5.4,.4 -4.7,.1 -4.7,.6 -3.9,.4 -4.7,.6 -5.1,.4 -5.9,.3 -5.6,.1 -5.1,.3 -4.9,.4 -4.9,.7 -4.7,.3 -4.4,.1 -4.2-.3 -4,.1 -4.5,.4 -4.8,.7 -5.6,.5 -5.4,.3 -5,.3 -4.6,.1 -4.7-.1 -5.1-.5 -4.7-.4 -4.9,0 -5.2,.4 -4.8,.6 -5.1,.6 -5.3-.2 -5.6-.5 -4.8-.7 -3.9-.3 -4.3-.3 -4.8-.5 -5.1-.8 -5.4-.3 -5.3,.1 -5.1,.2 -4.6,.1 -5.4,.1 -5.3,0 -5.4,.5 -5.1,.8 -5.2,.9 -4.9,.7 -4.6,0 -4.4,.1 -4.1-.4 -4.2,.1 -4-.1 -4.6-.1 -4.6,.7 -5,.2 -4.8,.9 -4.7,.3 -5.2,1.1 -5.1-.2 -5.5-1 -5.8-1 -6.2-.3 -5.5,0 -4.9,0 -4.8-.4 -5.1-.4 -5.3-1.1 -4.9,.3 -5.1,.1 -5.1-.1 -5.4-1 -5.2-.3 -5.6,.2 -5.9-.3 -5.8-.7 -5.3-.2 -4.7-.2 -5.1-.2 -5.5-.8"/>
<path d="M823.5,559.6l-5-.6 -4.9-.8 -4.6-.8 -4.3-.4 -4.3-.2 -4.9-.4 -5-.4 -5-.3 -5.3-.1 -5.4-.1 -5.4,0 -5.3,0 -5,.2 -4.9,0 -4.4,.1 -5,.1 -5.3,.1 -5.5,.2 -5.1,.4 -5.1,.6 -5.4,.6 -5,.1 -4.8,0 -4.9,0 -5.2-.1 -5.3,.3 -4.5,.2 -4.5,.2 -4.4-.2 -4.8-.3 -5-.3 -4.8-.1 -5.2,0 -5.4,.1 -5.3,.1 -4.5,.1 -4.3-.2 -4.4-.1 -5.4,0 -5.6,.4 -6.1,.5 -5.6,1 -5.5,.7 -4.8,.3 -5.4,.2 -5.3-.1 -5.6,0 -5.3-.3 -5.3-.2 -4.8-.2 -4.5-.4 -4.9-.1 -5.3,0 -5.3,.2 -5.3-.2 -5-.1 -5-.3 -4.6,.1 -4.5,0 -4.3,.4 -4.5,.2 -5.2,.2 -5.1-.2 -5.1,.1 -4.6,.2 -4.8,.6 -5.2-.2 -5.5-.2 -5,.1 -4.3,.7 -4.7,.9 -5.1,.4 -5.9,.5 -5.2,.1 -4.6,.2 -4.3-.2 -4.8-.6 -5.2-.5 -4.9-.3 -4.8,.3 -4.3,.6 -4.3,.5 -4.2,.8 -4.8,.6 -5,1 -5.4,.7 -5.6,.1 -5.9-.7 -5.7-.1 -5.1,.2 -4.5,.8 -4.2,.3 -4.5-.1 -4.8-.4 -5.2-.5 -5-.2 -4.8,0 -5.2,.4 -5.4,.6 -5.5,.2 -5.3-.3 -4.9-.3 -4.4,.3 -3.8,0 -3.6,.2 -4.2,0 -4.3,.1 -4.9-.1 -5,.1 -5,1.3 -5.1,1.5 -4.6,1 -4.6,.4 -4.5,.6 -4.7,1.5 -5.5,1.4 -5.4,.4 -6.1-.5 -6.1-1.3 -6.5-1.3"/>
<path d="M823.5,559.6l-5.5-.3 -5.1-.2 -5-.2 -4.7-.1 -5,0 -5-.1 -5.2,.2 -5.7,.2 -5.8,.3 -5.1,.1 -5.1-.1 -4.7-.2 -5-.5 -4.9-.5 -4.5-.5 -4.7-.2 -4.6,.2 -5.1,.4 -5,.4 -5.2-.1 -5.6-.2 -6-.4 -5.8-.1 -5.1-.2 -5,0 -5.1,.2 -5.7,.4 -5.3,0 -5.7,.2 -5,0 -4.9,.1 -4.5,0 -4.8-.3 -5.1-.4 -4.9-.2 -5.1,.2 -4.8,.1 -4.5,.3 -4.4,.1 -4.7,.5 -5.4-.1 -5.6-.1 -5.4-.3 -4.9,.3 -4.8,.6 -5.3,.2 -5.6-.2 -5.5-.3 -5.5,.1 -5.6,.2 -5.2,.5 -4.8,.2 -4.9,0 -5.3,0 -5.6,.5 -5.5,1 -5.1,.9 -5.6,.6 -5.7,.2 -5.9,.3 -5.3,.1 -5.4-.2 -6.2-.5 -6.4-.5 -6-.7 -5.1-.4 -5.1-.6 -5.1,0 -5.1,.5 -4.8,.6 -4.6,.2 -4.7,.2 -4.9,.5 -5.3,.9 -5.2,.3 -4.7,0 -4.7,.1 -4.9,.5 -5.3,.9 -5.7,.4 -5.2-.1 -4.9-.2 -4-.4 -4.5-.5 -5-.8 -5.6-.5 -5.7-.1 -5.5,0 -5.2,.9 -5.1,1.3 -5,.9 -5.2,.2 -5.3-.3 -5.3,.7 -5,.5 -4.9,1 -4.9,.9 -5.4,1 -5.3,.3 -5.6-.3 -5.5-.8 -5.4-.1 -5,.7 -4.6,1.1 -4.6,.7 -5-.2 -5.4,.2 -5.5,.3 -5.8,.3 -5.4,.2 -5.7,.5 -5.5,.8 -6.2,.1 -5.2,.2 -5.3-.4 -4.7-.2 -5.1-.4 -5.3,.6 -5.5,.9 -5.6,1.1"/>
<path d="M823.5,559.6l-5.1,0 -4.9,.3 -4.6,.3 -5.1,.4 -5.4,.2 -5.7,.2 -5.7-.1 -5.7-.2 -5.7,0 -5.9,0 -5.8-.1 -5.9-.2 -5.4,.2 -4.6,.1 -4.2,.3 -4.7,.3 -5.2,.4 -5.1,.2 -5,.4 -4.9,.4 -5.2,.3 -4.9,.3 -4.9,.1 -4.7,.4 -5,.2 -5,.3 -5.6,.1 -5.6,.3 -5,.5 -4.5,.5 -4.6,.6 -5.7,.3 -5.8,.1 -5.4-.1 -4.9-.1 -4.7,.1 -5,.4 -4.8,.4 -5.3,.4 -5.3,.3 -5.3,.5 -4.9,.6 -4.4,.3 -4.7,0 -5.3-.1 -5.3-.2 -5,.3 -4.9,.5 -5.2,1 -5.1,1 -4.9,.4 -4.5,.1 -4.8-.2 -5.4,.3 -5.4,.4 -5.1,.5 -5.1-.1 -5.4-.1 -5.7-.2 -4.9,0 -5,0 -4.8,.2 -5.4,.3 -5.1,1 -4.6,.4 -4.5,.5 -4.8-.2 -5.3,.2 -5,0 -5.2-.1 -5.1-.1 -5.2-.3 -4.4-.4 -4.5-.5 -4.3-.1 -4.7-.3 -4.2,0 -4.6-.2 -4.7,.2 -5.2,.4 -5.4,.7 -5.6,.9 -5.7,.6 -5.7,.1 -5.6-.5 -5.1-.9 -4.3-1.1 -4.4-1 -4.3-.5 -4.6-.1 -4.7,.2 -5.1,.3 -5,.5 -4.7,.7 -4.7,.7 -5.2-.1 -5.1-.8 -5.2-.1 -4.6,.7 -4.7,.9 -4.6,0 -5.3-.1 -5.7,.1 -5.7,.8 -5.1,.6 -4.5,.9 -4.5,.6 -4.9,.9 -4.7,.8 -4.6,.2 -4.9,.2 -5-.1 -4.8,.5 -4.5,.2 -4.8,.1 -5.4-.1 -5.5,0 -6-.3 -5.6-.3 -5.3-.3"/>
<path d="M823.5,559.6l-5.1-.2 -4.8-.2 -5.2,.1 -4.7,.2 -4.6,.3 -4.4,.4 -4.7,.2 -4.8,.4 -4.5,.2 -4.4,.1 -4.8-.2 -4.6-.1 -4.7,.1 -4.5,.5 -4.9,.6 -5.3,.5 -5.5,.4 -5.2,.5 -5.1,.4 -4.7,.2 -4.8-.1 -4.4,.1 -4.7,.4 -4.8,.4 -5.3,.6 -5.5,.3 -4.6,.3 -4.3,.1 -4.5-.1 -5.6,0 -5.8,.2 -5.3-.1 -4.8-.3 -5,0 -4.9,.6 -4.4,.6 -4,0 -4.3,.1 -4.9-.3 -5.4,.2 -5.4,0 -5.2-.1 -5,.2 -5,.6 -4.8,.7 -5.5,.2 -5.4-.1 -6,.1 -5.3-.3 -5.3-.1 -4.7-.3 -4.7,.6 -4.6,.4 -4.9,.4 -4.3,0 -4.1,.5 -4.3,.8 -4.2,.6 -5,0 -5.3-.2 -5.7,0 -5,.2 -5.1,.2 -4.8,.1 -5.2,.6 -4.9,.5 -5.4,.5 -5.4-.2 -5.6,.2 -5.3,.2 -5.2,.5 -5.1,.1 -5.1-.2 -4.8-.4 -4.9-.3 -4.8,0 -5,.2 -4.6,.9 -4.3,.5 -5,1 -5.1,1.2 -5.9,1.4 -5.1,1.5 -4.9,.5 -4.4,.2 -4.8-.1 -5.1,.1 -5.1,.5 -5,.7 -4.8,.7 -4.7,.1 -4.2-.2 -4.9,0 -5.4,.5 -5.7,1 -5.6,.8 -5,.4 -4.3-.3 -4.2-.1 -4.2-.3 -4.7-.3 -4.6-.1 -4.9,.2 -5.1,.3 -5.2,0 -5,.2 -5.2,.7 -5.2,1 -4.8,.4 -4.8,.2 -4.9-.1 -5.2,0 -4.8,.2 -4.5,.6 -4.5,.3 -5.1-.9 -5.2-1.2 -5.1-.8 -5,.1 -5.3-.1"/>
<path d="M823.5,559.6l-5.6-1.6 -5.3-2 -5.7-2.2 -5.3,.4 -5.3,.7 -4.9,1 -4.8,.9 -4.7,.8 -4.8,.7 -4.7,.3 -4.8,0 -4.4-.5 -4.4-.5 -4.1-.3 -4.2,.2 -4.4,0 -4.2-.5 -4.4-.3 -4.9,.3 -5.1,.7 -5,1.1 -4.1,1 -4.9,1.1 -4.8,.6 -5.9,.2 -5.3-.2 -5.4-.2 -4.6-.4 -4.6-.6 -4.5-.7 -5-.3 -4.8,.4 -5.5,.7 -5,1.2 -5.3,1 -5.1,1.2 -5.8,1.2 -5.5,.6 -5.4-.1 -5-.2 -4.8-.6 -4.3-.6 -3.8-.6 -4.1-.1 -4.5,.5 -4.6,.9 -4.3,1.4 -4.7,1.9 -4.5,1.5 -5,1.3 -5.1,.8 -5.6,.6 -5.3,.6 -4.9,.1 -5.1-.5 -5.2-.8 -4.9-.7 -5.1-.3 -5.4-.3 -5.8,.2 -5.4,.3 -5,.8 -5.2,.6 -5.2,.5 -5.3,.1 -5,.1 -4.8-.1 -4.8,.1 -4.2-.2 -4.4,.1 -4.4-.2 -4.2-.3 -3.9,0 -3.6,.3 -3.8,.2 -4.3,.1 -4.5,.1 -5.1,.2 -5.4,.7 -5.6,.7 -4.9,.5 -4.5,0 -4.6-.4 -4.7-.5 -5-.7 -4.5-.4 -4.6-.4 -4.3,.2 -4.6,0 -5.1,1.3 -6,1.3 -6,1.3 -5.4-.1 -4.6-.6 -4.6-1 -4.6-.7 -4.9-.4 -5,.4 -5.5,.6 -5.4,.4 -5.2,0 -4.6,.2 -4,.7 -4,1.3 -4.2,.8 -4.6-.3 -5.2-.6 -5.6-.5 -5.7-.4 -5.1-.7 -4.8-.2 -4.9-.1 -4.6-.2 -4.9-1.2 -4.9-.7 -5.5-.3 -4.9-.3 -4.9,.3 -4.3,.7 -4.2,1.8"/>
<path d="M823.5,559.6l-5.5-.1 -5.2-.2 -5.1-.4 -5-.2 -5.6-.1 -5.4,0 -5,0 -4.6,.1 -5.5-.1 -5.5-.1 -5.8,0 -5.3,.1 -4.9,.1 -4.5-.1 -4.6,0 -5.3,.2 -5.3,.2 -5.8,0 -5.6-.6 -5.6-.4 -5.4-.4 -5.3-.3 -4.9-.2 -5.3-.5 -5.3-.4 -5.9-.3 -5.6,.3 -4.9,.2 -4.4,.2 -4.2,.3 -5.1,.3 -5.4-.1 -5.2-.6 -5.2-.4 -5.4-.2 -5.6,0 -5.9-.3 -5.9-.7 -5.6-.5 -5.2-.6 -4.6,.1 -5.2-.2 -5.4,.7 -5.5,.6 -5,.6 -4.8,.4 -4.5,.3 -5.1,.1 -4.9,.1 -5.7-.3 -5.5-.2 -5.3-.1 -5,.2 -4.8,.3 -5.1,.3 -5.2-.1 -5.4,0 -5.6-.3 -5.6-.2 -5.2,.5 -5.3,.4 -4.7,.2 -5.1,.5 -5,.4 -5.6,.3 -5.7-.3 -5.9-.3 -5.6-.1 -5.8,.1 -5.2,.1 -5.6,.4 -5.4,0 -5.5,.4 -4.9,.3 -4.5,.9 -3.9,.7 -3.9,.6 -4,.3 -4.5,.4 -4.7-.2 -5-.7 -5.3-1.1 -5.8-.6 -5.8,0 -5.6,.8 -4.9,.9 -4.6,.4 -5,.2 -5.7,.2 -5.7,.4 -5.2-.1 -5,.3 -5-.2 -5.3,0 -5.1-.7 -5.3,0 -4.4-.5 -4.4-.2 -4.4-.2 -5.2,.5 -5.4,.9 -5.8,.6 -6,1.1 -5.8,.7 -5.4,1.4 -4.9,.9 -4.6,1.6 -4.7,.7 -4.3,.5 -4.4,.3 -4.6,0 -5.2-.2 -5-.2 -4.7,.8 -4.7,.6 -5.1,0 -4.9-1 -5.1,0 -4.9-.2 -5.3-.3"/>
<path d="M823.5,559.6l-6.1-.2 -5.7-.1 -5.5,0 -5.1,0 -5.3,.2 -5.8,.3 -5.9-.1 -6.2-.7 -5.7-.4 -5.4-.4 -4.4,.1 -4,.2 -4.2,.4 -5.2,.5 -5.4,.5 -5.2,.3 -4.5,.1 -5-.1 -5.1-.1 -5.7,0 -5.4,.3 -5.7,.4 -5-.2 -5.2-.3 -5.2-.5 -5.1,.2 -5.5,.2 -5.7,.5 -6,.3 -5.6,.2 -5.1,.3 -4.7-.1 -4.4-.2 -4.3,0 -5,.3 -5.5,.4 -5.4-.2 -5.3-.2 -5-.2 -5.7,0 -5.6-.2 -5.5-.4 -4.9-.2 -4.7-.1 -4.4,0 -4.1-.2 -4.6,.2 -5.4,.8 -5.9,.5 -6.1,.5 -5.6,.4 -6.1,.3 -5.1,.3 -5.5,.3 -5.2,.6 -5.3,.5 -5.3-.1 -5.4-.1 -5.3-.1 -5.3,0 -5.1,0 -5.5,0 -5.4,.3 -5.7,.1 -5.6-.1 -5.6-.1 -5.3,.1 -5.3,0 -5.6,0 -4.9-.5 -4.9-.6 -4.7-.5 -5.1-.8 -5.3-.7 -5-.4 -5.7-.2 -5.4-.5 -5.3-.3 -4.2,0 -4.6,.8 -5.1,.2 -5.1,.6 -4.6,.3 -4.6,.6 -4.8,.7 -4.8,.3 -4.7,.3 -5.3,.1 -5.5,.5 -5.6,.3 -5.4,.9 -4.9,.8 -5,.3 -4.7,0 -5.2-.6 -5,.2 -5.2,.4 -5,.8 -5,.1 -4.4,.1 -4.3-.5 -4.2-.1 -4.5-1.2 -4.6-.4 -4.3-.3 -3.9,.6 -4,.2 -4.2,.8 -4.2,.6 -4.3,.3 -4.5,.5 -4.7,.1 -4.8,1.3 -4.8,.9 -5,1.6 -5.2,1.1 -5.2,.8 -5.2,.3 -5-.2 -5-.2"/>
<path d="M823.5,559.6l-5.3-.1 -5,0 -4.7,.3 -4.5,.1 -4.7,.1 -5-.3 -4.7-.3 -4.7-.1 -4.7-.1 -4.8,.2 -5-.2 -4.7-.1 -4.9-.1 -5.2,0 -5.2,0 -5.3,0 -4.5,.1 -4.7,.2 -4.3,.4 -4.3,.6 -3.9,.5 -4.6,.7 -4.9,.3 -5.7,.2 -5.2,.1 -5.2,.1 -4.6,.2 -4.6,.2 -4.4,.1 -4.4,0 -4.1,0 -4.5,.1 -4.2,.4 -4.4,.5 -4.5,.2 -5.2,.2 -5.9-.1 -5.8,.6 -5.4,.4 -5,.3 -5.3-.3 -5.6-.1 -5.7,0 -5.6,.2 -5,.2 -5,.3 -5.2,.4 -5.6-.2 -4.8-.4 -4.1-.3 -4.4,.2 -3.9,.3 -4.6,.3 -4.1,.2 -4.8,.2 -5.1,.1 -4.9,.6 -5.1,.3 -4.8-.4 -5.4-.2 -4.9-.3 -5.1-.2 -5.2-.7 -5.3-.5 -5.6-.3 -5.2,0 -5.4-.2 -5.2-.1 -5.6-.1 -6-.2 -5.8-.2 -5.9-.2 -5.4,.1 -4.7-.3 -5.1-.7 -4.8-.9 -5.5-.8 -5.6-.1 -5.3,.1 -5.3,.6 -4.5,.4 -4.8,.4 -4.8,.1 -5.3,.1 -5.6,.3 -5.6,.5 -4.9,.4 -5.2,.6 -5.3,.7 -5.7,.8 -4.5,.4 -4.4,.1 -4.5-.2 -5.5-.2 -5.7,.3 -5.4,.3 -4.9,.5 -4.7-.3 -4.8-.1 -4.5-.4 -4.7,0 -4.7-.3 -5.3-.5 -5.3-.8 -5.5-.8 -4.8-1.2 -4.9-.7 -4.8-.7 -5.3-.4 -5.1-1 -5.4-.5 -5.5,.1 -5.1,0 -5.2,.3 -4.6-.3 -5-.6 -4.9-.8 -5.3-.2 -4.7,1.5 -4.2,2.4"/>
<path d="M823.5,559.6l-5.1,1.1 -5.3,1.5 -5,1.9 -4.5,.4 -4.4,.1 -4.3-.4 -4.1-.7 -4.2-1 -4.7-.7 -4.5-.4 -4.8-.2 -4.7-.3 -5.3-.1 -4.7,.3 -4.4,.5 -4.1,.8 -4.4,.9 -5,.6 -5.4-.2 -5.2-.2 -4.8-.5 -4.9-.4 -5.1-.9 -5.1-.7 -5-.8 -4.9-.3 -4.8,.1 -4.9,.2 -5.3,.1 -5.6,0 -5.6,.5 -5.4,.6 -5.2,.3 -4.9,.1 -5.1-.2 -4.6-.2 -4.9-.8 -4.9-.5 -5.1-.9 -5.1-.5 -5.2-.5 -5.8,0 -5.8-.2 -5.3-.1 -4.6,.1 -4.2,.6 -4.4,.8 -4.5,.5 -5-.1 -5-.4 -5.1-.5 -5.3-.2 -5.2-.2 -5.4-.2 -5.2-.4 -5.1-.1 -5.1-.1 -4.8,0 -4.8,.2 -5.2,.7 -5.5,.6 -5.3,.9 -5.1,.5 -4.9,.6 -4.8-.1 -5.2-.2 -5-.3 -4.7,0 -4.4-.2 -3.9-.3 -4.4-.4 -4.4-.3 -5.1,0 -4.7,0 -4.4,.2 -4.9,.5 -4.9,.6 -5.6,.7 -5.1,.5 -5.5,.5 -5.2,.2 -5.2,.5 -4.7,.1 -4.4-.1 -3.9-.7 -4.2-.9 -4.2-.5 -4.4,.2 -4.6-.1 -4.4,0 -4.6-.7 -4.5-.4 -5.1-.6 -5.3,0 -5.8-.1 -5.4,.3 -5.1,.3 -4.7,.4 -5-.4 -4.8-.2 -4.4-.1 -4.4,.3 -4.7,.5 -5.1,.4 -5.1,.4 -4.8,.5 -4.8,.4 -4.9,.5 -4.9,.2 -5.1,.2 -5.2-.3 -5.2,0 -4.6-.2 -4.7,.8 -4.5,.6 -4.9,1 -4.9-.1 -5,.4 -5.5,.5 -6.2,1"/>
<path d="M823.5,559.6l-4.6-.2 -4.7-.1 -5.1,.2 -5.7,.5 -6,.6 -6,.2 -5.5,0 -5.9-.2 -5.6,0 -5.5,0 -5,.2 -4.9-.2 -5.1-.1 -5.1,.1 -5.4,.4 -5,.2 -5.2,.2 -5.5,0 -5.5,.1 -5,.1 -5,.3 -5.2,.4 -5.8,.5 -5.4,.3 -5,.1 -4.7,.1 -4.7,.1 -4.7,.2 -4.9-.2 -4.9-.1 -5.1,0 -4.7,.1 -4.7-.3 -4.3-.1 -4.5,.1 -4.8,.5 -5.1,.8 -5,.7 -5.3,.4 -4.9-.2 -4.2-.1 -4.4,0 -4.8,0 -4.9-.1 -4.5-.1 -3.8-.1 -4.5,.3 -4.7,.6 -5.3,.9 -5.6,.5 -5.8,.6 -5,.6 -4.6,.6 -3.6,.1 -4.4-.5 -4.4-.6 -4.7-.2 -4.6-.1 -4.5,.1 -4.4,.3 -4.6,.6 -4.8,.2 -5.1-.2 -4.6-.3 -3.9,.3 -4.1,.3 -4.3,.5 -4.5,.2 -4.3,.1 -3.8,.5 -3.7,.2 -3.9,.5 -4.6-.2 -5,.1 -5-.1 -5.1-.1 -5.3-.1 -4.7,.1 -5,.3 -5.2,.6 -6,.4 -5.4,.4 -5-.4 -4.5-.4 -4.2,0 -4.5,.2 -4.8,.4 -5.1-.2 -4.7-.2 -4.6-.2 -4.5,.4 -4.7,.5 -5.2,.8 -5.4-.2 -5.9,.4 -4.8-.4 -5.2,.3 -5.2-.9 -4.9-.1 -4.7-.4 -4.5,.7 -5.1,.3 -4.8,.1 -4.7-.7 -4.5-.9 -4.2,0 -3.8,.2 -3.6,.3 -4.1,.1 -4.4-.2 -4.7-.5 -4.5-.3 -4.4,.2 -4.3,.9 -4.7,.8 -4.9,.3 -4.9,0 -4.9-1 -4.6-.8 -4.4-.6"/>
<path d="M823.5,559.6l-4.2,.9 -4.8,.7 -4.5,.5 -4.7,0 -4.4,.1 -4.4,.3 -4.2,.5 -3.8,.4 -4.2,.6 -4.4,.4 -4.8,.5 -4.6,.4 -4.4,.3 -4.5,.3 -5,.1 -5.1,.2 -5.8,.2 -5.3,.3 -5.4,.3 -4.9,.2 -5.1,.6 -4.9,.4 -5.3,.5 -5.3,0 -5.8,.2 -5,.1 -4.7,0 -4.3-.1 -4.6-.1 -5.5,.1 -5.4,.1 -5.2,0 -4.5-.4 -4.7-.3 -5.1-.4 -5.3,.3 -5.3,.7 -5.3,1.1 -5.4,.9 -4.5,.4 -4.2,.1 -3.7-.5 -4.2-.9 -4.8-.7 -4.9-.2 -4.9,.2 -5,.2 -5.5,.1 -5.8,.5 -5.8,0 -5,.1 -5.4,0 -5.6,0 -6.1,.1 -5.7,0 -5.2,.4 -4.3,0 -4.2-.7 -4.4-.2 -5.2,.4 -5.1,1.2 -5.5,.7 -5.4,.8 -5.4,.3 -4.5,.7 -4.4,0 -4.4-.2 -4.4-.8 -4.2-1 -3.7-.8 -4-.9 -4.1-.8 -4.3-.2 -4.4,.9 -5.3,1.2 -5.5,.7 -5.4,.1 -4.3,.4 -4.4,.6 -4.3,1.2 -4.9,1.2 -5.3,.1 -5.4-.5 -5.6-1.2 -5.1-.3 -5.2-.1 -5.1,.7 -5.3,.7 -5.4,.5 -5.5,.2 -5.5-.1 -5,.1 -4.7-.3 -5.1,.4 -5,.1 -5,.7 -4.4,.4 -5,.5 -5.1,.5 -4.8,.3 -4.8,.5 -4.4,.1 -5.1,.1 -5.1-.6 -5.7-.5 -5.7,0 -5-.6 -4.8-1.1 -4.8-1.3 -4.8,.1 -4.9,.5 -4.7,.2 -4.8-.3 -4.9-.9 -4.7-.2 -4.9,.7 -4.4,1.5 -4.4,1.5 -4.7,1.3 -5,1.3"/>
<path d="M823.5,559.6l-5,0 -4.9,0 -4.4-.2 -4.7-.1 -4.7-.5 -5.4-.3 -4.7-.2 -4.8,0 -4.6-.2 -5-.1 -4.7,0 -4.6,.1 -4.5,.1 -5,.3 -5.6,.4 -5.3,.4 -5.3,.2 -4.8,0 -5.5-.4 -5.6-.4 -5.4-.2 -4.6,0 -4,.3 -4,.3 -4.3,.2 -4.9,.1 -5.4,.3 -5.2,.2 -4.8,0 -4.2,.1 -4.6,.2 -4.4,.1 -4.8,.1 -4.9,.2 -4.8-.1 -5-.2 -4.8-.5 -5.4,0 -4.9-.2 -4.4,.3 -4.2,.3 -4.1,.5 -4,.4 -4.6,.3 -5.3,0 -6.3-.1 -6.1-.4 -5.6-.1 -4.9-.2 -4.7-.1 -4.5-.3 -5.1-.6 -4.7-.5 -5.1-.8 -4.8-.4 -5.5-.3 -5.4,.2 -5,.2 -4.6,.7 -5,.4 -5,.3 -5.2,0 -4.6,.3 -4.8,.2 -4.5-.1 -5.1-.2 -5.6-.2 -5.9-.1 -5.1-.1 -4.8-.3 -4.9,.4 -5.4,.3 -4.9,.6 -5.1,.3 -5.2,.5 -5.3,0 -5.3,.1 -5.3,0 -5.6,0 -5.3-.4 -5-.5 -4.3-.6 -4.4-.4 -4.1,.5 -4.7,1.2 -4.8,.9 -5.7,.3 -5.9,.6 -5.1,.8 -4.9,1.1 -4.4,1.4 -4.4,1.3 -4.1,.6 -4,.1 -4.6,0 -5-.1 -5.4-1 -5.7-.8 -5.6-.5 -5.4,.3 -5.3,.3 -5.5,0 -5.3-.4 -5.4-.3 -5.4,0 -5.7,.4 -5.4,.3 -5.1-.2 -5-.2 -5.1,.3 -4.8-.2 -4.7-.2 -4.7-1.4 -4.7-1.4 -5.2-1.7 -5-1.3 -5.4-1.1 -5.2-1 -4.7-.4 -4.1,0"/>
<path d="M823.5,559.6l-4.7-.4 -4.6-.3 -4.5-.1 -4.9-.1 -5.4-.1 -5.6-.3 -5.1,0 -4.7-.1 -4.5,.1 -4.9,.1 -4.7,.2 -5.1,.4 -5.2,.5 -5.2,.2 -5.1,.4 -4.8,.4 -4.8,.5 -4.6,.2 -4.2-.2 -4.5,.2 -5,.1 -4.9,.1 -5.5-.1 -4.9-.3 -4.9-.4 -4.2-.3 -4.4-.1 -4.2,0 -4.7,.4 -5.2,.3 -5.6,.2 -5.5,0 -5.2-.2 -5-.1 -4.2-.1 -4.4,.3 -4.6,.3 -4.6,.4 -4.4,0 -4.5,.2 -5.2,.1 -5,.1 -5-.2 -4.5,.1 -4.5,.1 -4.8,.6 -5.3,.1 -5.2,.3 -5-.2 -4.6-.3 -4.5-.5 -4.8-.1 -4.6,.1 -4.8,.4 -4.3,.3 -4.2,.4 -4.2,.1 -5.2-.4 -5.7-.1 -5.3-.4 -5-.5 -5-.6 -5.3-.7 -4.8-.4 -4.8-.6 -4.3-.1 -4.5-.3 -4.6,.1 -5.2-.1 -5.1,.2 -4.9,.4 -5,.3 -4.8,.7 -5.1,.4 -4.9,0 -5.4-.5 -5-.9 -5.1-.2 -4.7-.2 -5.2,0 -5.2-.1 -5-.1 -4.7-.3 -4.9-.2 -5.2,.1 -5,.5 -5,.8 -5,.5 -5.2,.2 -4.9,.3 -5.3,.2 -5.1,.3 -5-.5 -4.6-.1 -4.8-.4 -4.6-.2 -4.9-.3 -4.9-.1 -4.7,.2 -4.3,0 -4.2-.3 -5.1-.4 -5.2-.4 -5.2,.4 -4.6,1 -5,1.3 -4.6,.5 -5.2,.2 -5.1-.3 -5.9-.2 -5.9,.4 -5.8,.2 -5.4,.3 -5.3,.1 -5.1,.8 -4.4,.9 -4.2,.5 -3.8,1.1 -4,1 -3.8,1.4"/>
<path d="M823.5,559.6l-5.7-1.1 -5.6-1.4 -5.1-1.6 -5.2,.2 -5.4,.4 -5.7,.6 -5.3,.7 -4.9,.7 -4.6,.7 -4.7,.4 -5,.1 -5.5,0 -5.5-.2 -5-.1 -5.1-.4 -5.2-.7 -5.3-.5 -5.4-.3 -5.2,.1 -5.7,0 -5.7,.4 -5.8,.4 -5.6,.7 -5.1,.7 -4.7,.9 -4.4,.7 -5.4,0 -5.4-.3 -5.7-.4 -4.9-.3 -5.1-.5 -4.7-.3 -4.8,0 -4.6,.7 -5.5,.7 -5.5,1 -5.6,.8 -5.3,.9 -5.5,.4 -4.9,.2 -4.5-.3 -4.3-.4 -4.4-.5 -4.4-.2 -4.7-.1 -4.9,.2 -5.6-.1 -5.9,.1 -5.7,.2 -5.4,.6 -5,.9 -5.2,.3 -4.9,.4 -4.9,.1 -4.4,.3 -4.8,.2 -4.5,0 -4.8-.2 -4.9-.6 -5.4-1.1 -5.5-1.2 -5.5-.7 -5.2-.4 -5.7-.3 -5.8-.5 -5.8-.1 -5.8-.3 -5.5-.1 -5.8-.6 -5.3-.6 -5.2-.8 -5.2-.6 -5.2-.5 -5-.3 -5,.2 -5.5,.6 -5.5,.8 -5,.3 -4.5,.4 -4.8,.2 -5.5,.6 -5.8,0 -5.8-.2 -5.6-.7 -5.4-.6 -5.5-.6 -5.4-.1 -5.5,0 -5.1,.2 -5.1,.4 -5.1,.6 -5.3,.9 -5.3,.2 -4.9-.7 -5-.9 -4.8-.8 -4.8-.2 -4.4,0 -4.6,.2 -4.6,.5 -4.8,0 -4.7,.2 -5,.5 -4.8,.7 -4.9,.6 -5.3,.6 -5.6,.7 -5.5,.5 -5.3,.1 -5.4-.7 -5.7-.3 -5.8-.8 -5.9,.4 -5.6,.3 -5.4,.6 -5.2,.4 -5.1,.1 -4.8-.4 -4.7-.6 -5.1-.3"/>
<path d="M823.5,559.6l-4.5-1.2 -4.2-.8 -4-.3 -4.3,.4 -4.2,.1 -4.8,.3 -4.9,.2 -5.3,.2 -5.1-.4 -5.1-.4 -4.6-.5 -4.5-.5 -4.4-.3 -4.5,0 -4.6,.3 -4.3,.4 -4.2,.5 -4.5,.5 -4.7,.3 -5.1,.3 -4.5,0 -5,.2 -5,.1 -5.6,0 -5.3-.2 -4.8-.3 -4.9-.4 -4.5-.2 -4.3,0 -3.9,.1 -4.2,.3 -4.5,.7 -4.1,.6 -4.5,.2 -4.6-.2 -4.9,.1 -4.3,.1 -4.1,.1 -4.4-.2 -4.6-.2 -5,.2 -4.7,.2 -4.7,.3 -4.5,.1 -4.7,.2 -4.8,.5 -4.4,.9 -4.4,.8 -4.3,.4 -4.5,.3 -4.7,.6 -4.1,.6 -4.2,.4 -4-.2 -4.2,.1 -4.1,0 -4.2-.1 -4.6-.2 -5.1-.3 -5.1,.1 -4.6-.1 -4.2-.1 -3.8,.4 -3.8,.6 -3.9,1 -4.4,.9 -4.4,.8 -4,.5 -3.5,.4 -3.8,.2 -3.8,.2 -4.4-.1 -4.3-.1 -4.9-.1 -4.9,.1 -5.1,.7 -4.7,.3 -4.3,.4 -4.4,.4 -4.4,.2 -4.5,0 -4.3-.5 -4.6-.2 -5,.4 -5,.1 -4.5-.3 -3.7-1.2 -4.2-.8 -4.6-.5 -4.7,0 -4.7-.1 -4.9,.2 -5.2-.1 -4.9,.2 -4.8,.6 -4.5,1 -4.5,.5 -4,.1 -4.1-.1 -4.1,.2 -4.4,.1 -5-.3 -4.8-.8 -4.9-.6 -4.6-.5 -4.8,.1 -4.9,.3 -4.7,.2 -4.4,0 -4.6-.3 -4.4,0 -4.5,.1 -3.9,.4 -4.2,.2 -4.2,.2 -4.4-.1 -4.4-.1 -4.7-.2 -5.2,.1 -5.6,.4"/>
<path d="M823.5,559.6l-4.9,.9 -5.1,.5 -4.7,.1 -4.3-.5 -4.2-.1 -4.6,.1 -4.9,.1 -4.8,.3 -4.7,.1 -4.3,.3 -4.2,.5 -4.2,.7 -4.2,.4 -4.5,.3 -4.5,.2 -5.2,.3 -4.8,.5 -4.9,.2 -4.6,.4 -5.2,.4 -5.1,.4 -4.7-.1 -4.4,0 -4.9,0 -5.1,.2 -5.5-.3 -5.1-.6 -5.3-.4 -4.9-.3 -4.4-.4 -4.2-.5 -4.3-.5 -4.3-.6 -4.7-.6 -4.5-.2 -4.8,0 -4.7,.3 -4.8,.1 -4.1,.4 -4.5,.5 -5.3,.5 -5.5,.4 -5,.2 -4.6,.1 -4.6-.1 -4.5-.2 -4.2-.3 -4.1,.1 -4.6,.4 -4.8,.4 -5.3,0 -5.2-.3 -4.8,.1 -4.4-.3 -4.5,.2 -4.7,.1 -4.8,.6 -4.2,.5 -4.6,0 -4.6-.3 -5.2-.6 -5-.2 -5.3-.4 -5.3-.2 -5.2-.4 -4.7,.1 -5-.3 -5.1,.1 -5.4,.4 -5.5,.8 -5.2,1 -5.7,.5 -5.5,.2 -5.5,.2 -4.6-.3 -4.7-.1 -4.4-.2 -4.7,.4 -4.3,.2 -4.7,.5 -4.9,.4 -5.3-.4 -5.3-.4 -5.3-.3 -5,.5 -4.6-.2 -4.7,.2 -4.5,.4 -4.7,.4 -4.6,.1 -4.9,.2 -4.9,.8 -4.7,.1 -4.5-.1 -4.3-.7 -4.9,.3 -4.7-.1 -4.6-.3 -4.5-.3 -4.6,0 -4.8,.1 -5,.5 -5.1,.7 -5.3,1 -5.1,.3 -4.7-.6 -5-.7 -4.4-.4 -4.7,0 -4.3-.2 -5.2-.4 -4.8-.2 -4.9,.3 -4.4,0 -4.6,.5 -4.1,.8 -4.7,.6 -4.8-.1 -5.1,0 -4.5,.7"/>
<path d="M823.5,559.6l-5,1.4 -4.9,1.5 -4.3,1.9 -4.1,.6 -3.9,.5 -3.8,.6 -3.9,.6 -3.9,.6 -4.2,.4 -4.3,.1 -3.9-.4 -3.6-.5 -3.8-.6 -3.9-.6 -4.3-1.1 -4.4-1 -4.4-.8 -3.9-.6 -3.5-.3 -3.5,0 -3.4,0 -3.3-.2 -3.8,.1 -4,.4 -4.3,.9 -3.8,.6 -3.6,.8 -3.6,.4 -4.1,.3 -4.1-.1 -3.9,.1 -3.8,.3 -3.8,.1 -3.7-.3 -3.3-.4 -3-.2 -3.3-.5 -3.3-.6 -3.4-.6 -2.9-.3 -3.3,0 -3.5,.2 -3.9,.8 -3.9,.6 -3.7,.6 -3.8,.4 -3.8,.6 -3.8,.5 -3.4,.6 -3.9,.2 -4.1,.2 -4.2,.1 -4.3,.2 -4.3,.2 -4.3-.2 -4.4-.3 -4.4-.7 -4.3-.6 -4.3-.2 -4.1-.2 -4.2,.1 -3.7-.2 -3.8,.4 -3.6,.3 -3.4,.4 -3.1-.1 -3.3-.1 -3.2,.2 -3.4,.5 -3.6,.5 -4.1-.1 -4.2-.3 -4-.8 -3.7-.6 -3.8-.8 -3.7-.4 -3.8-.2 -3.8-.1 -4.4-.2 -4.2-.3 -3.9-.2 -3.3,.2 -3.2,.4 -3.2,.4 -3.6,.2 -4,.2 -4.5,.3 -3.8,.1 -3.6,.6 -3.5,.8 -3.8,0 -3.7-.5 -3.4-.9 -2.9-.2 -3.1-.1 -3.6-.7 -4.1-.9 -4.5-1.1 -4.9-.8 -4.4-.6 -4.2-.6 -3.8-.1 -4,.3 -4.1,.2 -3.8,.5 -4.1,.3 -3.8,1.1 -3.9,.4 -3.9,.3 -3.9-.2 -3.8,.3 -3.4,0 -3.2-.3 -3.2-.3 -3.2,.3 -3.3,.4 -3.6,0 -3.9-.2 -4.1,.1 -3.9,.5"/>
<path d="M823.5,559.6l-4.9-.1 -5.3-.1 -4.9-.2 -4.7-.3 -4.7-.3 -5-.3 -5.2-.2 -4.7-.1 -4.5-.2 -4.6,.1 -4.1,0 -3.7,.2 -3.3,.3 -3.7,.4 -4,.1 -4.5,.4 -5.1,.3 -4.9,.1 -4.9,.1 -4.8,.1 -4.7,.3 -4.9-.1 -4.7-.2 -4.4-.2 -4.4-.1 -4.6,.2 -5,.5 -4.6,.8 -4.6,.8 -4.4,.4 -4.6,.3 -4.6,.5 -4.8,.6 -4.9,.5 -4.6,0 -4.5-.2 -4.4,0 -4.8,.4 -4.4,.5 -4.7,.4 -5,.1 -5.8,.2 -5.7,.4 -5.4,.3 -5.1,.1 -5.5-.1 -5.2,.1 -5.4-.2 -4.9-.2 -4.9-.6 -4.4-.4 -4.3-.2 -4.6-.1 -4.7,.2 -4.7,.1 -4.7,.3 -5.2,.2 -5.3,.2 -5.2,0 -5.1-.3 -4.8-.1 -4.9-.4 -4.7-.1 -4.8-.4 -4.6,.1 -4.4,0 -4.4,.3 -4.3,.4 -4.3,0 -4.7-.1 -4.7-.1 -4.3,.5 -3.9,.4 -4.2,.5 -4.7,.4 -4.9,.8 -4.5,.3 -4.4,.8 -4.6,.9 -5.6,1.2 -5.2,.7 -4.7,.3 -4.3,.4 -4.4,.4 -4.8,.7 -4.8,0 -5-.2 -4.9-.5 -4.8,.4 -4.9,.8 -4.5,.2 -4.4-.5 -4.5-.1 -4.5,.4 -4.6,.5 -4.5,.1 -4.6,.3 -4.9,.4 -4.7,.4 -4.6,.2 -4.7-.1 -5-.3 -4.6-1.1 -4.2-.6 -4.3-.7 -4.8-.2 -5.2-.3 -5.1,.2 -5.3,.3 -4.8,0 -4.5-.2 -4.2,.3 -4.2,1 -4.2,.9 -4.1,.3 -4.4-.2 -4.9,.2 -5.3,0 -5.7,.6 -6.3,.4"/>
<path d="M823.5,559.6l-4.7-.1 -5-.2 -5-.3 -5.2-.1 -4.5-.2 -4.4,0 -4.1,0 -4.6,.1 -4.5-.1 -4.8,.1 -4.7,.2 -4.9,.4 -5,.5 -5.3,.3 -5.2,.4 -5.1,0 -4.8,0 -4.7-.2 -4.8-.1 -5.4,0 -5,0 -4.7,0 -4.3-.2 -4.7,.1 -4.6,0 -4.6,.2 -4.4,.1 -4.4,.2 -4.3,.2 -4.9,.4 -4.8,.4 -4.8,.4 -4.4,.1 -4.4,.2 -4.4,.4 -4.5,.5 -4.8,.4 -4.7,.1 -4.5,.2 -4.6,.2 -5.1,.4 -5,.6 -4.7,.4 -4.2,.6 -4.7,.1 -4.9,.3 -4.6,.3 -4.6,.3 -4.5,.6 -5.1,.4 -5,.5 -5,.2 -5.2,.4 -5.1,.1 -5-.2 -5-.4 -4.5-.1 -4.8,.3 -4.5,.2 -5.1-.2 -5.1,0 -5,.3 -4.7,.5 -4.9,.7 -4.5,.5 -4.6,.4 -4-.2 -4.1-.7 -4.3-.8 -4.5-.5 -5.4-.4 -5.3-.6 -5.4-1 -4.4-.4 -4.7,.5 -4.4,1 -4.8,1.2 -4.7,.3 -4.6,0 -4.8-.1 -4.6-.3 -4.5,.1 -4.5,.1 -4.7,.6 -4.8,.2 -4.5,.4 -4.4,.2 -4.5,.1 -4.7-.8 -4.7-.9 -4.5-.5 -4.5,.3 -4.4,.4 -4.6,.2 -4.4,.1 -4.5-.1 -4.5-.7 -4.7-.8 -5.2-.7 -4.9-.5 -4.6-.5 -4.3-.7 -4.4-.5 -4.8-.1 -4.8,.3 -5.1-.2 -4.8-.2 -4.7-.8 -4.5,0 -5.2,0 -5.3,.5 -5.2,.6 -4.6,.2 -4.4,.4 -4.1,0 -3.8,.3 -4.3-.1 -4.4-.2 -4.8,.3 -4.4,.4"/>
<path d="M823.5,559.6l-4.5,.7 -4.7,.6 -5.1,.5 -4.5-.2 -4.8-.3 -4.6-.1 -5.4,0 -5.1,.4 -4.9,.4 -4.9,.3 -4.6-.1 -4.4-.2 -4.4-.1 -4.9,.2 -5,.6 -5,.4 -5.2,.4 -5,.2 -5.1,.5 -4.8,.1 -5.3-.1 -5.4-.2 -5.7-.1 -5.3-.1 -5.1-.2 -4.4-.1 -4.4,0 -4.9,0 -5.5,.1 -5.5,.2 -5.2,.4 -4.9,0 -4.9,.1 -5-.2 -4.9-.1 -5.3-.1 -5.1,0 -5.2-.3 -4.8-.2 -4.8-.1 -4.5,.1 -4.6,0 -4.5,.2 -4.2,.3 -4.1,.6 -4.3,.8 -4.6,.6 -5.1,.2 -4.9,0 -5.3,.2 -5.1,.4 -5.2,.6 -4.9,.2 -4.4,0 -4.5-.5 -4.5-.6 -4.8-.8 -4.6-.2 -4.3,0 -4,0 -4.7-.1 -4.6,.3 -4.7,.4 -4.3,.2 -4.4-.2 -4.5-.4 -4.5,0 -4.6-.2 -4.5,.4 -4.6,.4 -3.9,1.2 -4,.9 -4.2,.8 -5.1,.4 -5.2,.5 -5.1,.2 -4.5,.1 -4,0 -4.2,.1 -4.3,.1 -5,.2 -5.1,0 -4.9,.1 -4.2-.4 -4.1-.1 -4.5-.1 -4.4,.5 -4.6,.3 -4.6,.2 -5.1,.3 -4.9,.4 -5,1 -5.2,.8 -5.3,.5 -4.5,0 -4.2,.1 -4,.1 -4.1,.2 -4,.5 -4.4,.3 -4.8,.3 -4.9,0 -5.1,.6 -5.4,.3 -5.4,.5 -5.2-.7 -4.7-1.1 -4.9-.9 -4.8,.3 -4.8,.8 -4.5,.7 -4.6,0 -4.5,.1 -4.7,0 -4.5,.4 -4.3,.2 -3.9,.1 -3.8,0 -4.5-.2 -5.1,0"/>
<path d="M823.5,559.6l-4.8,1.3 -4.8,1.6 -4.5,1.8 -5.1,.6 -5.2,.4 -5.7,0 -5.2,0 -5.2-.2 -5.1-.4 -5.2-.6 -5.2-.1 -5.1,.1 -5.1,.3 -4.6-.1 -4.7,.1 -4.7,0 -4.7,.3 -5.1,.7 -5,.7 -5.2,.6 -5.1,.1 -5-.1 -4.8-.1 -4.5,.2 -4.9-.1 -4.9,0 -5.3-.2 -4.9,.2 -5-.5 -4.9-.5 -4.8-.5 -5,.1 -4.6,0 -5,0 -5-.1 -5.1,.2 -5,.4 -5,.3 -4.7,.3 -4.5,.1 -4.4,.1 -4.6-.3 -5.1-.2 -5.4-.5 -5.2-.1 -4.5,.1 -4.3,.4 -4.1,.7 -4.5,.8 -4.7,.8 -5.1,.6 -5.2,.7 -5.3,.7 -5.2,1 -4.6,.6 -5,.3 -5-.2 -5.5-.3 -5.7-.5 -5.8-.8 -6-1 -5.5-.6 -5.3-.4 -4.7,0 -4.6-.1 -4.6,.2 -4.7,1.1 -4.9,.9 -4.8,.7 -5.2,.1 -4.9,.6 -5.1,.5 -4.6,.5 -5.2,.2 -5.3,.5 -5.2,.6 -5,.7 -4.8-.1 -5.2,.2 -5.1,.3 -5.2,.5 -5.3,0 -5.5,.1 -5.2,.5 -5.5,.4 -5.1,0 -5.7,0 -5.5,.6 -5.6,.2 -5.4,.7 -4.6,.4 -4.4,1.3 -4.8-.2 -5.5-.6 -5.6-1.6 -5.5-.4 -5.3-.4 -5.5,0 -4.7,.2 -5.2,.7 -5.4,.3 -5.8,.4 -5.8,.5 -5.6,1.2 -5.7,1.5 -5.5,.8 -5.8,0 -5.5-.9 -5.5-.7 -4.8-.4 -4.7-.2 -4.8-.4 -4.7,.1 -4.6,.3 -3.8,.1 -4-.1 -4.1-.1 -4.9-.4 -4.9-.4 -5.1-.4"/>
<path d="M823.5,559.6l-4.7-.4 -4.9-.3 -5.2-.6 -5.3,.1 -5.4,0 -4.9,.2 -5.1,.2 -4.6,.1 -5,0 -5-.1 -5.3-.2 -5.1-.2 -5,0 -4.7,0 -4.8-.1 -4.6-.5 -5.2-.2 -4.5-.1 -4.7-.2 -4.1-.5 -4.6-.4 -5-.3 -4.8,0 -5,.2 -4.4,.2 -4.8,.4 -4.6-.2 -4.6-.5 -4.7-.6 -4.6-.5 -4.6-.4 -4.5-.1 -4.8,0 -5.4,.3 -5.6,.1 -5.8,.3 -5.5,0 -5.2,.1 -5.1,0 -4.5,.3 -4.4-.3 -4.4-.1 -4.5-.1 -5.1,.3 -4.6,.4 -4.6,.1 -4.3,.1 -4.5-.3 -4.6-.1 -4,.2 -4.2,.9 -3.8,.6 -4.7,.2 -4.9-.1 -5.7,.1 -5.1,.4 -5.3-.1 -5.2,.1 -5.2,.1 -4.6,.6 -4.2,.5 -4.6,.4 -4.6-.3 -4.5,0 -4.3,.4 -4.5,1 -4.4,.3 -4.5,.5 -4.2,.2 -4.2,.4 -4.4,.4 -4.5,.4 -4.5,.4 -4.3-.2 -4.3,0 -4.6,.3 -4.8,1 -4.7,.6 -4.6,.3 -4.5,.3 -4.7-.4 -4.4-.9 -4.1-.9 -4.2,.5 -4.7,.9 -5.1,1.2 -4.8,.8 -4.9,.6 -5,.3 -5.1,.4 -5.3,.4 -5.4,.5 -5.3,.3 -4.8,0 -4.8-.8 -5.2-1 -5.2-.7 -5.1-.5 -4.3-.2 -4.2-.1 -3.8,.2 -4.3,.3 -4.6,.1 -5,0 -5.1-.4 -4.8-.4 -5,0 -4.9,.1 -4.9,.2 -4.9,.1 -4.8-.4 -5-.6 -4.9-1.3 -5.3-1.1 -5.2-.5 -5.4,0 -5.2,.3 -4.9,.6 -4.8,.2 -4.6-.3"/>
<path d="M823.5,559.6l-4.2-1.6 -4.6-1.9 -5.1-2.1 -5.2,0 -5.2,.2 -5.6,.4 -6.1,.7 -6.1,.7 -5.7,.6 -5.3,.5 -5.1,.3 -5.1,.3 -5.4,.1 -5.3-.1 -5-.2 -4.6-.2 -5.1-.1 -4.9-.1 -5.2-.2 -5.1,.1 -5.2-.2 -4.8,0 -4.8-.1 -5.1,.1 -5.1,0 -5,0 -5.2,0 -5,0 -5.4-.2 -4.9-.1 -4.7,.1 -4.9,.4 -5.4,.7 -5.3,.4 -4.7,.2 -4.2-.2 -4.8,0 -4.9-.1 -4.8,0 -5,0 -5.6-.2 -5.6-.6 -5.1-.5 -4.9-.2 -5.1,.2 -5.2,.1 -5.2-.1 -5.5-.1 -5.8,0 -5.9,.1 -5.5,.5 -5.2,.4 -5.2,.4 -5.1,.6 -5.5,.7 -5.5,.7 -5.5,.3 -5.1,.3 -4.9,.1 -5.1,.2 -5.3,.1 -5.7-.5 -5.4-.6 -5.2-.5 -5.4-.4 -5.5-.7 -5.3-.7 -4.6,.1 -4.5,.4 -5.1,.7 -5.2,.3 -5.2-.3 -5.1-.5 -5.1-.6 -5,0 -4.8,0 -5.2,.8 -5.6,.6 -6.3,.3 -6-.4 -5.9-.7 -5.4-.4 -5.3-.5 -4.7-.1 -5.3-.3 -5.5,.1 -6.1,.4 -5.8,.2 -5.1,.1 -4.8-.5 -4.7,.1 -4.8-.5 -4.9,.2 -4.8-.3 -4.8-.4 -4.2-.8 -4.4-.3 -4.2,.5 -4.9,.9 -5.1,.8 -5.2,.5 -5.2,.2 -4.7,.4 -4.7,.3 -5.3,.5 -5.8,.1 -5.9,.3 -5.4,.6 -4.9,1 -5.5,.8 -5.2,.3 -5.4-.1 -5.1,0 -5.8,.5 -5.5,.9 -5.6,.5 -5.4,.2 -6.4,0 -6.4,0 -6.2-.4"/>
<path d="M823.5,559.6l-3.3-.1 -3.4,.1 -3.6,.5 -3,.3 -2.9,.5 -2.4,.1 -3,.3 -2.8,0 -2.9,.3 -2.2,.1 -1.9,.2 -2,.2 -2.8,.3 -3.7,.2 -3.8,.1 -3.5,.1 -3.3,.1 -3,.1 -3,.1 -3.2-.3 -3.3-.3 -2.9-.4 -2.9-.1 -3,0 -3,.1 -2.7,0 -2.7,.2 -3.1-.1 -3,.1 -3,.2 -2.8,.5 -3,.4 -3.3,0 -3.7-.2 -3.2,.1 -3.1,0 -2.7,.2 -3.1,0 -3,.1 -3.1,.3 -3,.3 -3.2,.5 -3.2,.7 -3.7,.3 -3.2,.2 -3.3-.5 -3.2-.3 -3.3-.3 -3.1,.2 -3.2,0 -2.8,.5 -2.8,.4 -2.3,.7 -2.8,.3 -2.9,.6 -2.9,.3 -2.9,.3 -3-.2 -3.3-.1 -3,0 -3.2,.2 -3,.2 -3.3,.2 -3.2,.6 -3.3,.9 -3.4,1.1 -3.5,.5 -3.1,.5 -2.8,.3 -2.7,.3 -3,.4 -2.8,.2 -2.7-.5 -2.4-.8 -2.7-.6 -3,.1 -3.2-.4 -3-.4 -2.5-.2 -2.3,.2 -2.4,0 -3-.4 -3.5-.5 -4.3-.8 -3.5-.7 -2.9-.9 -2.6-1.1 -2.9-1 -3.6-.6 -3.2,.4 -3.2,.9 -2.6,.8 -2.7,.4 -3.3,.2 -3.7,.4 -4.1,.6 -3.3,.2 -3.2,.9 -2.9,1 -3,1.4 -2.9,.1 -2.2,0 -2.1-.4 -1.8,.2 -2.2,.2 -2.8,.4 -3.1-.4 -3.7-.5 -3.8-.3 -3.3,.5 -2.7,.2 -2.3,0 -2.6-.7 -2.8-.6 -2.9-.2 -3,.1 -2.6-.5 -2.5-.6 -2.7-.3 -2.9,.7"/>
<path d="M823.5,559.6l-2.7,.6 -2.7,.7 -2.9,.8 -3.4-.2 -3.1-.4 -2.6-.3 -2-.4 -2.4-.1 -2.3-.2 -2.5,0 -2.5,.1 -3,.1 -3,.4 -3.1,.6 -2.9,.6 -3.1,0 -2.8,0 -2.8-.1 -2.4-.2 -2.6-.5 -2.5-.5 -2.4,0 -2.5,.1 -2.1,0 -2.6-.2 -2.7-.3 -2.8-.2 -2.4,0 -2.5,.3 -2.6,.5 -2.9,.4 -3,.2 -3.2-.2 -2.8-.5 -2.7-.7 -2.1-.4 -2.3-.2 -2.1-.5 -2.3-.8 -2.6-.9 -2.8-.3 -3.4-.1 -3-.1 -3,0 -2.9,0 -2.7,.1 -2.3,.5 -2.6,.5 -2.6,0 -3.3-.4 -2.6-.7 -2.5-.8 -2.7-.2 -2.8-.5 -3-.1 -2.7-.3 -2.5,0 -2.3,.4 -2.2,.2 -2.1,.9 -2.6,1 -2.6,.8 -2.7,.4 -2.4-.2 -2.3-.2 -2.6,.2 -2.6,.2 -3,0 -2.8-.6 -2.8-.2 -2.3,.2 -2,.2 -2.2,.2 -2.7,.6 -2.6,1 -2.4,.8 -1.9,.8 -2.6,.8 -2.8,1 -3.1,.6 -3.2,.3 -3.3,.2 -3.1,0 -2.9-.1 -2.6-.2 -2.6-.4 -3,.5 -3,.2 -3,.5 -2.4-.3 -2.6,.2 -2.6,0 -3.7,.2 -3.6,.3 -3.8-.2 -3.2,.1 -3.1-.1 -3.1,.4 -2.9-.1 -3.1,.1 -3.1-.3 -3,.7 -2.7,.2 -2.1,1.3 -2.1,.5 -2.5,.8 -2.6,0 -2.3,.1 -2.4,.5 -2.2,.6 -2.1,0 -1.9-.9 -2.5-1.1 -2.8-.7 -2.1-.1 -2.1,.1 -2.1-.3 -2.8-.4 -2.3-1.1 -2.1-1.5"/>
<path d="M823.5,559.6l-3.7-.3 -3.8-.5 -4.1-.4 -4.5-.1 -4.6,.1 -4.7,.1 -4.3,.1 -4.7,.2 -4.1,.2 -4.4,.4 -4,.4 -4.2,.4 -4.3,.4 -4.3,.5 -4.3,.3 -3.9,.3 -3.6,.1 -3.6,.1 -3.9-.1 -4.1-.2 -4.5-.4 -3.9-.3 -3.8-.1 -3.6,0 -4.2,0 -4.4,0 -4.1,.2 -4.4,.3 -4.3,.2 -4.7-.1 -4.5,0 -4.2,.1 -3.9,.4 -3.5,.3 -4,.1 -3.7,0 -3.5-.2 -3.3-.2 -2.9,0 -3.7-.1 -4-.1 -4.3-.1 -4-.4 -3.7-.1 -4.2-.2 -4.4,0 -4.9,0 -4.4,.3 -4.4,.5 -4,.2 -4-.1 -3.8-.2 -4.1-.1 -4.1,.1 -4,.2 -3.7,.4 -3.7,.1 -3.9,.2 -4,.3 -4.1,.4 -4.2,.2 -3.6-.1 -3.5-.1 -3.8,.4 -4.3,.3 -4.5-.1 -4.5-.5 -4.6,0 -4.4,0 -4.4,.4 -4.4,0 -4.4,.5 -4,.4 -3.9,.5 -3.7,.1 -3.8,.2 -3.7-.1 -3.6-.3 -3.5-.4 -3.5-.4 -3.7-.5 -3.8-.9 -3.9-.6 -3.7-.6 -3.3-.8 -3.8-1.2 -3.7-.4 -3.6,.2 -3.5,.5 -3.7,.7 -4,1.2 -4,1 -4.1,.6 -4.5,.5 -4.4,.6 -4.3,.9 -3.7,.4 -3.2,.6 -3.2,.8 -3.4,1.4 -3.7,.8 -3.8,.5 -4.2-.4 -4.3-.8 -4.6-1.3 -4.8-1.1 -4.9-.5 -4.9-.1 -4.3,.5 -4,.3 -3.2,.1 -3.4-.3 -3.3,.2 -3.6,.5 -3.7,.2 -4.3,.2 -4.1-.2 -4.2-.3 -4,.1 -4.3,.6"/>
<path d="M823.5,559.6l-5.1,0 -5.2,0 -4.4-.1 -4.9-.2 -4.5-.2 -4.8-.1 -4.8,0 -5,0 -5,.1 -5.3,.2 -5.2,.1 -5.4,.3 -5.1,0 -5.6,.1 -5.6-.1 -5.7-.1 -5-.3 -4.8-.4 -4.7-.3 -5.2-.2 -5.5-.2 -5.7,.1 -5-.1 -4.6,0 -4.5-.4 -5.3-.5 -5-.3 -5.3,.1 -5.3,.2 -5.8,.1 -5.6-.2 -5.4-.1 -5.4-.4 -5.4,.1 -5.1,.2 -4.9,.2 -5.2,.3 -5.5,.1 -5.4,.3 -5.4,.4 -5.4,.3 -5.2,.3 -5.2,.3 -5,.2 -5.1,.3 -5.3,.1 -5.5,.6 -5.2,.4 -5.6,.2 -5.9-.1 -5.8-.4 -5.5,.1 -5.2,.1 -5.3,.6 -5,.2 -5.2,.1 -4.9-.2 -4.5-.3 -4.5,0 -4.4-.1 -4.6,.1 -4.3,.1 -4.6,.2 -4.2,.4 -4.3,.2 -4.4,.1 -5.1,.1 -5.1,0 -5.2,.1 -5.8,.4 -5.6,.4 -5.3,.6 -4.6,.2 -4.7,.8 -4.6,1 -4.9,.7 -5.3,.4 -5.4,.3 -5.3,.3 -5.6,.1 -5.4,.5 -5.3,.2 -4.8-.1 -5.3-.2 -5.2,.2 -5.4,.6 -5-.2 -4.8-.4 -5.1-1 -5-.9 -5.2-.9 -5-.7 -4.9-.5 -4.9-.1 -5,.4 -4.9,1 -4.6,1 -4.5,1.1 -4.4,.5 -4.7,.1 -5.1-.1 -5.7-.1 -5.9-.6 -5.5-1 -4.9-.5 -4.3-.2 -4.5,.4 -4.9,.5 -5.5,.3 -5.2,.4 -5.5-.2 -5.4,.1 -5.7-.3 -5.2-.1 -4.9,0 -4.9,.1 -4.9-.1 -5.2-.7 -5-1 -4.9-1.2"/>
<path d="M823.5,559.6l-4.7,.4 -4.8,.4 -5,.3 -5-.3 -4.6,0 -4.4,.1 -4.8,.2 -4.8,0 -4.7,.2 -4.3,.2 -4.1,.2 -4.1,.3 -4.3,.4 -4.8,.4 -5,.4 -4.7,.2 -4.8,.5 -4.5,.3 -4.7,.2 -4.6,0 -4.7,0 -4.9,0 -5-.2 -5-.2 -5.2,0 -4.5,.3 -4.9,.7 -5,.6 -4.9,.2 -5,0 -4.4-.1 -4.9-.2 -4.3-.1 -4.5,.1 -4.2,.2 -4.4,.1 -4.7-.1 -5.8,.1 -6.1,0 -6.1,0 -6-.3 -5.6-.3 -5-.4 -4.6,.2 -4.8,.3 -4.9,.2 -4.7-.2 -4.3-.6 -5.2-.1 -4.9,.1 -5.4,.4 -5-.3 -5.4-.3 -5.3,.2 -5.8,.7 -5.6,.7 -5.4,.5 -5.3,.2 -5.3,.1 -5.4,.2 -4.9,.4 -4.5,.8 -5.2,.9 -5.1,.9 -5.3,.6 -4.8,.3 -5.1,.2 -5.5,.1 -5.4,.3 -5.3,.9 -5,.8 -5.1,.3 -4.8,.2 -4.7,.2 -4.8,.5 -4.6,.1 -4.3-.2 -4.3,.1 -4.9,.9 -5.2,1.1 -4.9,.7 -4.6-.1 -4.3,.1 -4.4,.1 -4.6,.7 -5.3,.6 -5.4,.2 -5.1-.2 -5-.2 -4.8,.1 -4.7,.1 -4.6,.5 -4.3,.8 -4.6,.7 -4.5,.1 -5-.5 -5-.4 -4.8-.7 -4.7-.5 -4.9-.4 -4.8-.4 -5.2-.6 -5.5-.3 -5.5-.1 -4.7,.5 -4.5,.3 -4.7,.7 -5.3,.1 -4.8,.5 -4.4,.3 -4.2,.5 -4.5-.3 -4.3-.6 -4.2-.9 -3.7-.8 -4.7,0 -5,.7 -5.5,.8 -5.1,1 -5.2,1"/>
<path d="M823.5,559.6l-2.7,1.6 -3.2,2.4 -3.5,3.5 -3.2,1.1 -2.9,.9 -3.1,.2 -2.8,.2 -3-.2 -3-.5 -3.4-.8 -3.9-1 -4-.7 -3.9-.6 -3.5-.5 -3.6,.2 -3.3,.9 -3.3,1.5 -3,1.5 -3.5,1.4 -3,1 -3.1,.4 -3.1-.5 -3.2-1 -3.5-1.4 -3.1-1.3 -3.1-1 -2.8-.7 -2.9-.2 -2.9,0 -2.9,.7 -2.8,.9 -3,1.6 -3.3,1.5 -3.1,1.7 -3,.9 -2.7,.6 -3,.2 -3.1,.2 -3-.1 -3-.9 -2.7-1.6 -3.1-1.6 -3.1-.9 -3.4,.1 -3.5,1.1 -3.3,1.3 -2.9,1.6 -3,1.2 -2.9,1.3 -3.5,.6 -3.6,.2 -3.9-.5 -3.4-.3 -3.1-.6 -3-.3 -2.4-1.3 -2.8-.9 -2.9-1 -3-.3 -2.6-.2 -2.7,.6 -3.3,1 -3.5,.8 -3.7,1.2 -3.6,.6 -3.7,.4 -3.4-.6 -2.8-.9 -3.1-.7 -2.6-.9 -3.2-.9 -2.8-.7 -3.1-.2 -3.4,.4 -3.5,.6 -3.2,1.1 -3.1,1 -3.1,.8 -3.6,1.1 -3.2,.7 -3.8,.4 -3.4-.5 -3.3-.4 -3.1-.5 -3.3-.8 -3.4-1.5 -2.9-1.4 -2.3-1.2 -2.2-.1 -2.4,0 -2.8-.1 -2.8-.3 -3.2,0 -3.1,.4 -3.7,.1 -3.3-.4 -3.8-.6 -3.3,.3 -3.5,0 -2.5-.1 -2.9-.4 -2.5,.3 -3.1,.8 -2.9,1 -3,.9 -2.4,1.1 -2.6,1 -3.2,1 -3.8,.6 -3.7,0 -3.3-.1 -3.4-.5 -3.5-.5 -3.4-.8 -3-.4 -3.3-.6 -3.7-.1 -4.6-.2 -3.9,.1 -3.4,.2"/>
<path d="M823.5,559.6l-4.2-.2 -3.9-.2 -3.8-.3 -3.6-.2 -3.5-.3 -3.8-.1 -4.1,0 -4.5,.1 -3.8-.1 -3.9,0 -3.4,0 -3.6,.1 -3.2-.1 -3.4,0 -3.6,.1 -3.5,0 -3.7-.2 -3.7-.2 -4.3,.2 -4.2,.5 -4.3,.4 -3.8,.4 -4,0 -3.8,.1 -4.2-.3 -4-.2 -4.5-.4 -4,.1 -4.1,.2 -4,.2 -3.8,0 -3.8,.1 -3.9,.6 -4.1,.3 -4.4,.2 -4.4-.1 -4.6-.1 -4.2-.3 -4.2-.1 -4.1-.2 -4.4,.1 -4.4,.2 -3.7,.3 -3.2,0 -3,.5 -3.9,.1 -4,.4 -4.3-.1 -4.5-.1 -4.9-.1 -4.8,.4 -4.8,.4 -4.9,.3 -4.6-.1 -3.9,.1 -3.5,.2 -3.6-.2 -3.8-.3 -3.9-.4 -4.3,0 -4,.1 -4,0 -4.3,.3 -4.2,.4 -4.2,.3 -3.6,0 -3.7-.2 -3.8,.2 -4,.2 -4.6,0 -4.4-.4 -4.3-.4 -3.9-.2 -3.5,.3 -4,.4 -4.3,.6 -4.8,.4 -4.4,.2 -3.9,0 -4,.2 -4,.7 -4.1,.3 -3.8,.9 -3.6,1 -3.8,1.1 -4.5,.3 -4.9,0 -4.9,.1 -4.2,.7 -4.2,.5 -4.2,.3 -3.7-.1 -3.8-.5 -4-.8 -4.8-1.1 -4.2-.3 -4.2,.5 -4.1,.7 -4.8,.1 -4.1-.2 -3.8-.3 -3.3,0 -3.8,.1 -4,.5 -4,.2 -4.3,.2 -4.5-.3 -4.5-.3 -4.4-.4 -4-.7 -4,.1 -3.2-.3 -3.5,.2 -3.1-.5 -3.5,.6 -3.5,.6 -4.2,.6 -5-.6 -4.7-.4 -4.3,.1"/>
<path d="M823.5,559.6l-3,.1 -2.4,0 -2.2,0 -1.9,0 -2.6,0 -2.9,0 -3.5-.2 -3.6-.4 -3.4-.4 -3.3-.2 -3.1,0 -2.9,.1 -2.8-.3 -2.9-.1 -2.8,0 -2.4,.5 -2.1,.1 -2.6-.2 -2.4-.4 -2.6-.4 -2-.1 -2.2-.2 -1.6-.3 -2,.1 -2.3,.3 -2.3,.6 -2.1,.1 -2.6-.1 -2.1-.1 -2.4,0 -2.3,.2 -2.2-.1 -2,.1 -2.1,.1 -2.4,.3 -2.9-.3 -2.9-.3 -3-.3 -2.8,0 -2.4,0 -2.6,.1 -3-.2 -2.5-.2 -2.5-.4 -2.5-.5 -3.2-.2 -2.8,0 -2.9,.3 -3,0 -2.6-.5 -2.2-.2 -1.8,0 -2.4,.5 -3,.1 -2.9,0 -3.2,.5 -2.7,.8 -2.7,.9 -2.3,.4 -2.3,0 -2.2-.3 -2.1-.5 -2.3-.4 -2.7-.3 -2.9-.2 -2.7,.1 -2.8,0 -2.8,0 -2.7-.5 -2.4-.2 -2.4,.4 -2.5,.7 -3,.9 -2.9,.3 -2.9,0 -3.1-.1 -2.8,.2 -2.9,.1 -3.1-.3 -3.7-.2 -3.9-.2 -3.3,0 -2.7,0 -2.8-.1 -2.7-.5 -3.3-.6 -3.3,.6 -3.5,.5 -3.3,.5 -3.1-.5 -3.4,.3 -3.4,.9 -3.2,.6 -2.5,.2 -2.2-.7 -2.7,0 -3.2-.1 -3.4,.1 -3,.2 -2.6,.2 -3.1,.8 -2.8,.5 -2.8,.1 -2.6,.3 -2.4,.5 -2.5,1.2 -2.2,.1 -2,.2 -1.7,0 -1.6,.4 -2.2,.2 -2.6,.2 -2.1,.6 -2.4,0 -2.2-.3 -2.5-.4 -2.2-.2 -2.2-.5 -1.9,0 -1.4,.6"/>
<path d="M823.5,559.6l-2.5-.2 -2.8-.1 -3.1-.1 -2.9,.3 -2.7,.3 -2.3,.3 -2.4,.1 -2.3,.1 -2.8,0 -2.8,.1 -3.1,.1 -2.5,.1 -2.4,0 -2.2,.1 -1.8-.1 -2,.1 -2.6,0 -2.9-.1 -2.2-.1 -2-.3 -2.4-.1 -3,.2 -2.5,.5 -2.1,.4 -2.3,.1 -2.6,.1 -2.4,.2 -2.5,.3 -2.3,0 -2.9,.2 -2.2-.2 -2,0 -1.8,.3 -2.4,.7 -2.7,.6 -2.9,.3 -2.7,.2 -2.8-.1 -2.5-.1 -2.5-.2 -2.3,.2 -1.8,0 -1.7,0 -1.7-.3 -2,.1 -2.2-.1 -2.1,0 -2.5-.2 -2.7,.1 -3,.3 -2.5,.2 -2.7-.1 -2.5-.4 -2.6-.2 -2.7,.1 -2.5,.6 -3.1,.8 -2.9,.6 -3-.2 -2.7-.4 -2.4,0 -2.6-.1 -2.5,.2 -2.3-.2 -2.1,.2 -2.3-.4 -2.8-.4 -2.9-.1 -2.9,.5 -2.6,.5 -2.9-.1 -2.9,.1 -3.2,0 -2.6,0 -2.5-.7 -2.7-.6 -2.9-.2 -2.5-.5 -1.7-.1 -1.8-.2 -2.1,.3 -2.8,.4 -2.5,.2 -2.8,.1 -2.8,.2 -3.4,.6 -3.5,.6 -3.4,0 -2.3-.4 -2-.5 -2-.6 -2.8-.7 -2.6-.7 -2.8-.4 -3.2,.2 -3.4,.7 -3.1,1.1 -2.8,.7 -2.7,.2 -2.2,0 -2.4,.2 -2.5,.5 -2.5,.2 -2.4,.1 -2.7,.5 -3.2,.1 -2.8-.3 -2.6-.3 -2.3,0 -2.6,.1 -2.5-.1 -2.7-.2 -2.4,.2 -2.2,0 -1.8-.3 -2.2-.8 -2.5-.1 -2.8,.3 -2.7,.7 -3.1,.5"/>
<path d="M823.5,559.6l-4.5-.1 -5.2-.3 -5.2-.8 -4.8-.2 -4.7-.3 -5-.2 -4.7-.2 -4.9-.1 -5-.2 -5,0 -4.5-.1 -4.5,.1 -5.1,.2 -5.4,.3 -5.2,.4 -4.9,.6 -4.2,.5 -4.4,.7 -4.5,.7 -4.8,.4 -4.3,.1 -5,0 -5.1,.1 -5.3,.2 -5.3,0 -4.8-.1 -5-.4 -4.9-.2 -5.3,0 -4.9,.3 -4.7,.6 -4.8,.6 -5.4,.5 -5.5,.5 -4.9,.7 -4.4,.8 -4,.7 -3.9,.3 -4,.2 -4.6,.4 -5,.5 -5.4,1.1 -5.1,.6 -4.9,.4 -4.7,.4 -4.7,.7 -5,.6 -5.2,.2 -5.2,.2 -4.8,.3 -4.8,.1 -4.8-.3 -5.2-.1 -4.7,.4 -4.5,.6 -4.8,.4 -4.9,.3 -4.9-.1 -4.7,.2 -4.6,.1 -4.4,.5 -4.3,.4 -4.1,.4 -4.4,.5 -4.6,.5 -4.7,.5 -4.6,.3 -4.7,0 -4.8,.1 -4.6,.3 -4.7,.2 -5,.2 -4.9-.1 -4.4-.4 -4.1-.5 -4.3-.4 -4.2,0 -5,.2 -5.3,.4 -5.5,.6 -4.9,1 -5,1 -5,.7 -5.5-.3 -5.4,.1 -5.3-.3 -4.6,.3 -4.8-.1 -4.5,.1 -4.8-.1 -4.6-.1 -4.8-.6 -4.9-.9 -5.1-.6 -5-.2 -4.6,.1 -4.8,.6 -4.7,.2 -4.9,0 -4.3-.3 -4.5,.3 -4.5,.5 -4.7,.5 -4.7,.1 -4.8,.3 -4.7,0 -4.5,0 -4.5-.1 -4.4,.2 -5,.6 -4.8,1.3 -5,1.2 -4.5,.5 -4.9-.5 -4.8-1.1 -5.3-.8 -5.3-.5 -5.5,.1 -5.4,.6 -5.7,1.1"/>
<path d="M823.5,559.6l-4.2-1.4 -4.4-1.5 -4.5-1.5 -4.4,.2 -4.2,0 -4.4-.4 -4-.6 -4.2-.5 -4.1,.1 -4.3,.2 -4.5,.1 -4.8,0 -4.6,0 -4.3,.1 -4.1,0 -4.4,.1 -4.4-.1 -4.5,.2 -4.7,.4 -4.6,.5 -4.4,.5 -4.1,.3 -4.5,.3 -4.9,.1 -4.8,.1 -4.4,0 -4.1,.2 -4.4,.2 -4.5,0 -4.7-.2 -5.2-.6 -5.3-.8 -5-.6 -4.6-.3 -4.1,.2 -4.5,.2 -4.2,.3 -4.7,.2 -4.7-.4 -4.4-.1 -4-.1 -4.3,.5 -4.4,.2 -4.9,0 -4.6-.2 -4.7,.1 -3.9,.2 -3.8,.2 -4.1,.1 -4.4,.3 -5,.4 -5.1,.4 -5.1,.6 -4.2,.7 -4,1.1 -4,.9 -4.6,1 -4.6,.7 -4.1,.5 -4,.1 -4.1-.2 -4.3-.7 -4.5-.3 -4.4-.1 -4.6,.5 -4.7,0 -4.6-.1 -4.8-.1 -4.3-.1 -4.4-.4 -4.3-.4 -4.7-.7 -4.8-.3 -4.8-.3 -4.4,.5 -4,.6 -3.8,.8 -3.8,.8 -4.1,.4 -4.2,0 -4.8-.4 -4.8,.3 -4.9-.2 -4.5-.7 -4.1-1 -4.2-.2 -4.2,.4 -4.5,.5 -4.7,.3 -4.7,1 -4.8,.6 -4.3,.5 -4.5-.5 -4.4-.1 -4.8-.1 -4.8,0 -4.7-.3 -4.6-.8 -4.6-.8 -4.2-.9 -4.6-.2 -4.3,0 -4.4-.2 -4-.3 -4.6,0 -4.7,1.2 -4.9,.7 -4,.5 -4.2-.9 -4.4-.6 -4.5-.9 -4.7-.7 -4.7-.5 -5.1,0 -4.1,.4 -4,.9 -4.2,.7 -4.7,.3 -4.6,.1 -4.3,.3"/>
<path d="M823.5,559.6l-5.4,.1 -5,.3 -5,.6 -4.7,.2 -4.9,.1 -4.5-.2 -4.4-.2 -4.3-.1 -4.3,.1 -4.2-.1 -4.3,0 -4.4,.1 -4.5,.3 -5,.2 -5.3,.1 -5.6,.1 -4.8,.2 -5,.5 -4.8,.5 -5,.4 -4.8,.4 -4.5,.2 -4.5,.1 -4.8,.2 -5,.1 -5,0 -4.8-.2 -4.6-.3 -4.5-.5 -4.4-.1 -4.6-.4 -5-.2 -5.1-.2 -5.5-.1 -5.5-.1 -5.7,.1 -5.2,0 -5,.2 -4.8-.2 -4.9-.1 -4.9,0 -4.9,.2 -4.6,.1 -4.3,0 -5,.1 -4.7,.4 -5.2,.5 -4.5,.5 -4.8,.6 -4.8,.5 -4.8,.2 -5.1,0 -4.8,.1 -4.6,.1 -4.3-.1 -4.3-.1 -4.8,0 -5.3,.3 -5.3,.5 -5.2,.5 -4.3,.2 -4.4,.4 -4.2-.1 -4.7-.2 -4.2-.6 -4.7-.3 -4.5,.2 -4.9,.5 -4.7,.3 -5,.3 -4.8,0 -4.5,.6 -4.1,.4 -4.1,0 -4.3-.6 -4.5-.6 -4.8-.4 -4.9,.2 -4.8,.3 -4.6,0 -4.6-.6 -4.6-.7 -4.7,.4 -4.7,.3 -4.5,.3 -4.7-.1 -4.4,.1 -4.7,0 -4.2,.6 -4.4,.6 -4.2,.2 -4.3-.2 -4.6,0 -4.6,.8 -4.6,.5 -4.3,.5 -5.2,.2 -4.8,.2 -5,.2 -4.2,.1 -4.2,.4 -4.6-.4 -5,0 -5.3-.6 -5.2,.6 -4.8,.8 -4.8,.4 -4.7-.1 -4.2-.5 -4.1,.1 -3.7,.3 -4.4,.3 -4.8,.3 -5.3,.6 -5.1,.2 -4.7-.6 -4.7-.8 -4.8-.4 -5.1,.5 -5,1"/>
<path d="M823.5,559.6l-4.8-.4 -5-.3 -5.1-.3 -5-.1 -5.3,0 -5.1-.1 -5.1-.1 -5,0 -5.4-.2 -5.5,.1 -5.5-.2 -5.2-.1 -5.2-.4 -4.9-.2 -4.7-.3 -4.7-.1 -4.9,0 -5,.1 -5.1,0 -5.3,.2 -5.8,.1 -5.3,.2 -5,.1 -4.5,.4 -4.8,.6 -4.5,.3 -4.8,.2 -5,0 -5.6,0 -5.8-.2 -5.5-.2 -5.7,0 -5.7-.3 -5.4-.2 -4.9-.7 -4.2-.2 -4.3-.2 -4.8,.2 -4.9,0 -5.1-.2 -5-.5 -5.1-.6 -4.7,0 -4.5,0 -4.4,0 -4.7-.2 -4.5,.4 -4.8,.9 -4.9,1.1 -5,.8 -4.9,.4 -4.7,.2 -5.4,.5 -5.3,.4 -5.5,.5 -5.1,.3 -5-.1 -5.2,0 -5,0 -5.4,.3 -5.5,.2 -5.4,.3 -5.2,0 -4.9,.2 -4.5,.1 -4.4,.3 -4.5,.1 -5-.1 -5,.2 -4.8,.3 -5.2,.2 -5.6-.6 -5.6-.3 -5.4-.3 -5.4,.3 -5.3-.2 -5.1,0 -5.1-.4 -5.2-.2 -5.7,0 -5.2,.4 -5.3,.3 -4.4,.3 -4.6-.3 -4.3-.2 -5.1-.4 -5.2-.1 -5.1-.3 -4.5-.4 -4.7-.9 -4.4-.8 -4.7-1 -4.7-.7 -5.2-.4 -5.4,.1 -4.9,.2 -4.4,0 -4.5-.5 -4.9-.1 -5.2,.1 -4.7,.1 -4.7-.2 -4.9-.3 -5.2,.5 -4.8,.7 -4.6,.5 -4.8,.2 -4.9-.1 -5.2-.6 -5-.2 -4.9,.5 -5.1,.9 -5.3,.7 -5.5-.4 -4.9-.7 -5.3-.5 -5-.1 -5,.1 -4.9-1.3 -5.1-2.4"/>
<path d="M823.5,559.6l-5.5,.1 -5,0 -4.7-.1 -4.6,.1 -5.1,.1 -5,0 -5,.1 -4.5-.1 -4.7,.1 -4.6,0 -4.6,.1 -4.6-.1 -4.6-.3 -5-.3 -5-.2 -4.8,0 -4.9,.1 -4.9,.1 -5,.1 -4.6-.1 -4.5-.2 -4.4,.1 -5.1,.1 -4.6-.1 -4.8-.1 -4.6-.4 -5.1-.5 -4.9-.3 -4.9,0 -4.6,.5 -4.5,.4 -4.9,.5 -4.8,.7 -4.5,.5 -4.2,.5 -4.8,0 -5.1-.1 -5.1-.1 -4.8,.1 -4.9-.1 -5.3,.1 -5,.3 -5,.5 -4.9,.4 -5.3,.3 -5.2,.2 -5,0 -4.9-.1 -4.8-.6 -4.7-.3 -4.3-.3 -4.4,.2 -4.6,.3 -5.3,.3 -5.7,.4 -5.8,.4 -5.6-.2 -5.3-.4 -5-.3 -5.3,.1 -5.5,.4 -5.1,.8 -4.7,1.2 -4.7,.6 -4.8,.3 -5.3,.2 -4.4,.6 -4.5,.4 -3.7,0 -4.4-.5 -4.4-.4 -4.7-.3 -4.5,.3 -4.8,0 -4.9,.4 -5.4-.2 -5.6,.1 -5.7-.4 -4.9-.9 -5.1-.6 -5.2,0 -4.9,.9 -4.6-.1 -4.4,.1 -4.4-.3 -4.7,.6 -4.6,0 -4.9,.4 -4.5-.2 -5.2-.3 -5.3-.8 -5.5-.4 -4.7-.4 -5.2-.5 -4.9-.2 -5.7,.4 -6,.5 -6.3,.3 -5.5-.3 -4.9-.2 -4.4-.1 -5.3,.7 -5.2,.2 -5.8,.5 -5.4,.4 -5.5,1.1 -4.9,1.1 -4.5,1 -4.7,1.1 -4.8,1.2 -4.5,1.1 -4.1,.7 -4.3,.9 -4.7,.4 -4.9,.8 -4.9,.2 -4.7,.9 -5,.7 -4.7,.9 -5.2,.7"/>
<path d="M823.5,559.6l-5.5-.4 -5.6-.4 -5.5-.2 -5.5,.3 -5.3,.2 -5.1,.2 -4.7,.4 -4.8,.5 -5.3,.4 -6,.1 -5.7,.2 -5.1,.1 -4.3,.3 -5,.2 -5.3,0 -5.6-.5 -5.4-.3 -4.8,.1 -4.6,.4 -5.1,.1 -5.3,.2 -5.4,.5 -5.3,1 -5.3,.7 -5.7,.5 -5.1,.1 -5,.2 -4.5,.3 -4.8,0 -4.9,0 -5.4-.1 -4.8,.2 -5.1,.1 -4.3-.1 -4.5-.1 -4.2,.1 -4.2,.5 -4.8,.5 -4.8,.2 -4.8,0 -4.5,0 -4.6-.2 -4.8-.3 -4.7-.2 -4.6-.5 -4.6-.6 -4.5-.2 -4.1,0 -4.3,.4 -4.8,.3 -5.5,.6 -5.3,.7 -5.4,.6 -5,.1 -5.1-.1 -4.1-.3 -4.7-.2 -4.9,.1 -5.5,.5 -4.8,.9 -5.1,.4 -4.8,.3 -5.4-.3 -5.4,.3 -5.7,.4 -5.5,.8 -5,.7 -5,.5 -5,.4 -5.1-.1 -5.2,.1 -5.1,.2 -5,.6 -5,.7 -5,.4 -4.8,.2 -5,.2 -4.9-.3 -5.5-.3 -4.9-.3 -5.3,.1 -4.9,.1 -5.4,.4 -5.1,.8 -5.4,1.3 -5.2,.6 -5.8-.1 -5.4-.7 -5.6-.2 -5.3-.2 -5.2-.3 -5-.4 -5-.1 -5.1-.4 -4.7-.7 -4.8-.3 -4.4,.4 -4.8,1.2 -4.9,.7 -4.7,.8 -4.8,.7 -4.8,1.1 -5.1,.5 -5.4,.7 -5.7-.4 -5.6-.5 -5.7-.9 -5.6-.2 -5.1,0 -4.5,.2 -4.8-.2 -4.8,.1 -5.2,0 -5-.1 -5.4,.3 -4.7-.3 -4.6,.2 -4.2-.7 -5-.1 -5.2,.1"/>
<path d="M823.5,559.6l-5,.2 -5.6,.3 -5.1,.7 -4.8,.3 -4.3,.2 -4.6,.1 -5,.2 -5.1,.3 -5.2,.2 -5.1-.1 -5.1-.1 -5.6,0 -5.4,0 -4.8,.2 -4.7,.1 -4.3,.2 -4.5,.2 -4.5,.3 -4.7,.3 -4.9,.2 -5,.4 -4.7,.1 -4.8,.1 -5.2-.3 -5.1,0 -4.6,.4 -4.7,.3 -4.9,.3 -5.2,.3 -5.1,.6 -5.4,.6 -5.5,.5 -5.4,.2 -5.2,.4 -5.6,.4 -5.4,.5 -5.2,.5 -5.2,.4 -5.1,.2 -5.3,0 -5.2-.1 -5.6,.3 -5.1,.6 -4.6,.5 -4.1,0 -4.3-.5 -4.2-.1 -4.2-.3 -4.2-.1 -3.8,0 -4.2,.1 -4.4,.3 -4.8,0 -4.7,.1 -4.8,0 -5-.1 -4.5,.4 -4.7-.1 -4.4,.4 -4.9-.4 -4.5,0 -4.6,0 -4.9,.1 -5.2,.5 -4.3,.1 -3.8,.6 -3.7-.1 -4.7,.3 -4.8,.3 -4.5,.4 -3.8-.1 -3.8-.4 -4.3-.3 -4.6-.3 -5-.4 -5.4,0 -5.4,.5 -5.2,.7 -4.9,.4 -4.5,.5 -4.7,.5 -4.7,.2 -4.9,0 -4.5-.1 -4.6,0 -4.4-.3 -4.3-.1 -4.2,.6 -5,.5 -5.3,.6 -5.2,.2 -4.9,.7 -4.6,.7 -4.5,.5 -4.3,.1 -4.4,.3 -4.5,.5 -5.1,.7 -5,.3 -5-.1 -4.5,.3 -4.7,.9 -4.6,.8 -4.9,.6 -5.3-.1 -5,.6 -4.7,.5 -4.5,.6 -4.6-.1 -4.8-.1 -4.5-.4 -4.7-1 -5-.7 -5.1-.8 -5.1-.5 -5.5-1.3 -5.7-1 -5.6-.7 -5.3-.1 -5.1,.1"/>
<path d="M823.5,559.6l-5.4-.5 -4.7-.1 -4.5,.2 -3.8,.8 -4.4,.4 -4.1,0 -4.4-.3 -3.9-.2 -3.9,.1 -4-.1 -4.5,0 -4.9,.1 -4.8,.3 -4.5,.5 -4.2,.4 -4.4,.7 -4.3,.6 -4.5,.6 -4.4,.4 -4.6,.4 -4.7,.3 -4.8,.1 -4.9-.1 -5,0 -5,0 -5,.1 -4.4,.2 -4.4,.4 -4.7,.4 -5.2,.2 -5.1,0 -4.8,.1 -5,.3 -5.1,.2 -5,.4 -4.3,.2 -3.8,.1 -3.9-.1 -4.2,.1 -4.1,.1 -4.5,0 -4.7,.3 -4.9,.5 -4.7,.9 -4.5,.6 -4.5,.6 -4.9,.2 -4.8,.2 -5.3,0 -4.8-.1 -4.8-.2 -4.2-.3 -4.2-.7 -4.4-.7 -4.3-.5 -4.3,0 -4.7-.1 -4.7-.2 -4.8,0 -4.5,.1 -4.2,0 -4.2,.5 -4.2,.6 -4,.9 -4.1,.9 -3.9,.9 -4.2,.7 -4,.3 -4.1,.6 -4.2,.6 -4.2,.8 -4.7,0 -4.4,.6 -4.2,.4 -4.1,.9 -4.5,.9 -5,1.1 -5.1,.6 -4.8-.2 -4.6-.3 -4.4-.4 -4.5,.3 -4.7,.3 -4.7,.5 -4.5,.2 -4.2-.2 -4.3-.2 -4.6-.4 -4.5-.5 -4.6-.9 -4.1-1.1 -4-1.5 -3.8-1.3 -3.9-.5 -4.6-.1 -4.5,.1 -4.6-.2 -3.9-.3 -4.3-.1 -4.2-.1 -4.2,.4 -4.4,.3 -4.3,.1 -3.9-.1 -3.5,.4 -3.8,.7 -4.4,.5 -4.4,.6 -4.3,.3 -4.3,.4 -5,.2 -4.9,.2 -4.8,.1 -4.3-.5 -4.5-.9 -4.8-1.1 -4.7-1 -4.7-.6 -4.8-.5 -5.6-.2"/>
<path d="M823.5,559.6l-2.1,1.2 -2.6,1.3 -2.4,1.3 -2.7,.1 -2.5-.1 -3.2-.2 -3.2-.2 -3.5-.1 -3.1-.1 -3.3,.2 -2.8,.1 -3,.1 -2.7-.2 -2.8-.2 -2.8-.2 -2.9,0 -2.7-.1 -2.8,0 -2.6-.2 -2.8-.3 -3.1-.2 -3.1-.1 -3.1-.3 -2.7-.3 -2.7-.5 -2.5,0 -2.4,.2 -2.5,.1 -2.6,.4 -2.8,.4 -2.9,.7 -2.5,.6 -2.5,.7 -1.9,.4 -2.5,.1 -2.3-.3 -2.8,.1 -2.1,.1 -2,.4 -2,.6 -2.7,.7 -2.9,.3 -3.1-.1 -2.6-.2 -3.1-.1 -2.6,0 -2.4-.1 -2.5-.4 -2.7-.5 -2.8-.1 -2.6,.2 -2.6,.4 -2.5,0 -2.8-.1 -2.6-.5 -3.5-.1 -2.9-.3 -3.2,.1 -2.7-.1 -2.9,.2 -2.8,.3 -3.1-.1 -3,.2 -2.7-.1 -2.5,.3 -2.4,.3 -2.4,.6 -3,.6 -3.1,.3 -2.8,.6 -2.4,.3 -2.5,.5 -3.1-.2 -3.1,.3 -2.7-.2 -2.6,.7 -2.1,.3 -2.4,0 -2.8-.6 -3.5-.4 -3.3-.1 -2.9-.2 -3.1,0 -3.2,0 -3.5,.6 -3.7,.3 -3.8,.1 -3.2-.4 -2.5,0 -2.5-.3 -2.7-.1 -2.7-.2 -2.4,.4 -2.4,.4 -2.8,.1 -2.8,.1 -2.7-.1 -2.9,.2 -2.8,.2 -2.8,.2 -3.3,0 -3.5-.1 -3.9,0 -2.8,.3 -2.9,.3 -2.3,.1 -2.3,.1 -1.9,.2 -2.1,0 -2.6-.3 -2.6,0 -2.9-.2 -3.1,0 -3.4-.5 -3.4-.4 -3.4-.9 -3.3-.7 -3.1,0 -3.5,.6 -3.6,1"/>
<path d="M823.5,559.6l-3-1.1 -2.9-.9 -2.7-.6 -2.4,.3 -2.5,.3 -3.1,.2 -3.6,0 -4-.1 -3.9-.3 -3.4-.4 -3.3-.6 -3.6-.6 -4-.3 -3.4,0 -3,0 -2.9,.3 -3.5,.5 -3.8,.5 -3,.9 -3.1,.8 -3.4,1.1 -4.1,.6 -3.8,.5 -3.8,.2 -4.2,0 -3.9-.5 -3.5-.8 -2.9-.6 -3.3-.7 -3.2-.6 -3.5-.8 -3.1-.6 -3.4-.5 -3.2-.1 -3.6,.3 -3.5,.8 -3.7,.5 -3.6,.4 -3.9,.3 -3.4,.7 -3.6,.7 -3.5,.3 -3.4-.1 -3.1-.5 -2.7-.4 -2.9-.7 -3.4-.2 -3.3,0 -3.2,.1 -3.1-.1 -3.4-.1 -3.4-.1 -3.3,0 -3.7,0 -3.7,.2 -3.4,.6 -3.2,.6 -3.4,.4 -3.6,0 -3.5-.1 -3.3,0 -3,.3 -3,.3 -2.8,.2 -2.7,0 -2.8-.5 -2.8-.3 -3.3,.2 -3.5,1.3 -3.8,1.3 -4.2,1.1 -3.8,.8 -3.3,1 -2.9,.7 -2.9,.6 -3.7,.1 -3.1,.1 -3.3-.3 -3-.6 -3.9-1.1 -3.4-.7 -3.2-.3 -3.2,.2 -3.3-.1 -3.4-.4 -3.3-.3 -3.3-.7 -3.5,.4 -3,.6 -2.7,.6 -3-.1 -3.1-.4 -3.1,.1 -3,.4 -2.9,1.1 -2.9,.7 -3,.7 -3.2,.3 -3.9,.1 -4-.4 -4.2-.6 -4.1-.8 -3.7-.9 -2.9-1.1 -2.7-.5 -2.8-.4 -3-.7 -3-.4 -2.9-.2 -3,.7 -2.6,.5 -2.8,.2 -3.2-.1 -3.9-.4 -3.6-.2 -3.5-.1 -3.8-.2 -3.7-.1 -3.5-.2 -3,0"/>
<path d="M823.5,559.6l-4.1,1.1 -4.6,.7 -4.7,.5 -5.5-.3 -4.7-.2 -4.2-.1 -4,.1 -4.8,.1 -4.8,.1 -4.3,.1 -3.7,.5 -3.6,.3 -4.5,.5 -4.8,.5 -5.2,.4 -4.8,.1 -4.9,.1 -4.9,.3 -5.2,.3 -5.2,.2 -4.8,.3 -4.4,.3 -4.4,.2 -4.2,.1 -4.8,0 -4.4-.1 -4.7-.1 -4.4,.1 -4.8,0 -4.6-.2 -4.5-.4 -4.3-.4 -4.2-.4 -4.2-.1 -4.8,.1 -4.9,.4 -4.6,.2 -4.5,.4 -3.9,.3 -4.4,.6 -4.1,.5 -4.7,.6 -4.6,.5 -4.8,.2 -4.7,.1 -4.6,0 -4.3,.3 -3.9,.2 -3.9,.1 -4,.1 -4.4,0 -4.6,.5 -4.3,.3 -4.1,.3 -4.3,.1 -4.4-.1 -4.3,.1 -4.4,.4 -4.5,.2 -4.3,.2 -3.8,.5 -4.2,1.1 -4.1,1 -4.9,.5 -4.8-.1 -5.1,.2 -4.8,.5 -4.6,.9 -4.5,.6 -4.7,.1 -4.8,.2 -5.1,.2 -5.2,0 -5.2,0 -5,.1 -5.1,.6 -5.1-.1 -5.2-.1 -4.9-.2 -4.5,.5 -5.1,0 -4.8-.4 -4.8-.6 -3.4-.1 -3.7,.3 -4.2,.7 -4.9,.6 -4.9-.1 -4.4,.1 -4.8-.1 -5.1,1.3 -5.5,.7 -4.9,1 -4.8,0 -4.5,.5 -4.7,.7 -4.8,.7 -4.8,.1 -5.1,.2 -4.9,.1 -4.3,.6 -4.2,.3 -4.3,.1 -5.1,.4 -5,.4 -4.6,.4 -5,0 -4.7,.2 -4.7-.3 -4.1-.7 -4.5-1.5 -4.9-1.2 -4.7-.3 -4.4-.1 -4.3,.2 -4.2-.3 -4.4-.4 -4.4-.1 -4.4,.9 -4.1,1.9"/>
<path d="M823.5,559.6l-5.2,.1 -5.1,.2 -4.6,.1 -4.7,.4 -4.3,.3 -4.4,.3 -4.6,.1 -4.8-.1 -5.1-.1 -5-.1 -5.4,.3 -5.5,.1 -5.4,.3 -5.1,.3 -4.9,.2 -4.7,.3 -4.5,0 -4.3,0 -4,.2 -3.9,.4 -5,.6 -5.4,.9 -5.6,.8 -5.1,.7 -4.9,.2 -4.5,.1 -4.3,.2 -4.2,.2 -5,.2 -5.3,0 -5.4-.3 -4.9-.1 -4.7,.3 -5.5,.1 -5.5,0 -5.4,.2 -4.9,.4 -4.4,.4 -4.1,.3 -4.1,.2 -4.2-.1 -4.5-.7 -4.6-.8 -5.2-.6 -5.1-.2 -4.8,0 -4.6-.1 -5,.3 -5.1,.4 -5.6,.5 -5.7,0 -5.6,.1 -4.8,.2 -4.9,.5 -5,.2 -5.3,0 -5.3,.1 -5.5-.1 -5.3,.2 -5.4,0 -5,.7 -5.3,.5 -5.2,.5 -5.5,.1 -5.5-.3 -5.1-.8 -4.9-.8 -5.4-.9 -5.5-.5 -5.5-.4 -4.8,.1 -4.9,.6 -4.6,.5 -4.8,.7 -4.5,.8 -5,.8 -5,1 -5.6,.5 -4.8,0 -4.7-.5 -4.1-.4 -4.1,.2 -4.8,.2 -4.7,.5 -5,.3 -4.8,.2 -4.8,.1 -4.9,0 -4.6,.1 -4.7-.1 -3.8-.1 -4.7,.1 -5.1,.1 -5.8,.3 -5.1,0 -4.9-.1 -4.7,.2 -4.7,.3 -4.8,.6 -4.9,.5 -4.7,1 -5.3,1 -5.2,.5 -6.1,.4 -5.7,.4 -5.4,.4 -4.6,.2 -4.5-.1 -4.7,.4 -4.6,.5 -4.9,1.6 -4.9,1.1 -5.2,1.4 -5.1,.5 -4.8,.6 -4.6,0 -4.8-.4 -4.9-.6 -5.1,.1 -4.9,.9"/>
<path d="M823.5,559.6l-5.1,.4 -5.4,.5 -5.4,.4 -5.6,.2 -5.6,.2 -5.5,.1 -5.4,0 -5.4,.1 -5.5,.3 -5.6,.2 -4.9-.1 -4.9-.3 -5-.1 -5.6,.1 -5.8,.2 -5.5,.3 -5.1,.1 -4.8,.1 -4.9-.2 -4.9,.2 -5.3,.3 -5,.3 -4.9,.3 -4.4,.4 -4.6,.4 -5.2,.4 -5.5,0 -5,0 -4.6,.3 -4.2,.9 -5,1 -5.5,.7 -6.3,.3 -6.3,.1 -6.4-.2 -5.3,.1 -4.6-.2 -4-.3 -4.5-.4 -4.9-.1 -5.4-.1 -5.1,0 -5.3-.2 -5.3-.2 -5.6,0 -5,.1 -5.1,.4 -5.2-.2 -5.6-.4 -5.1-.4 -5.5,.1 -5.1,.4 -5.4,.4 -4.6,.1 -5,.3 -4.7,.4 -4.8,.5 -5.1,.4 -5.3-.1 -5.6-.1 -4.9-.9 -5-.9 -4.4-.7 -4.9-.5 -4.9-.4 -5.2-.6 -5-.7 -4.9-.5 -4.9,0 -4.8,.3 -4.7,.3 -4.7-.1 -5,.1 -5.4,.4 -6.1,.8 -6.1,.4 -6,.1 -5.3-.2 -5.2,.1 -4.9,.3 -5.3,.5 -5.4,.4 -5.5,.2 -5.5,.1 -5.4,0 -5.3,.1 -5-.2 -5.1-.5 -5.1-.3 -5.5-.2 -5.8,.5 -5.9,.1 -5.8,.2 -5.1-.3 -5.3-.2 -5.2-.1 -5.2,.2 -5.3-.2 -5-.3 -5.4-.6 -5.4,.5 -5.2,.6 -4.9,1.8 -4.4,1.3 -5,1.3 -4.6,.5 -4.9-.3 -4.6-.5 -4.7-.6 -4.6-.3 -4.6,.2 -5.2,.6 -5.2,.1 -5.1,.5 -5-.4 -5.2,1 -5,.2 -4.9,.4 -4.9,.5 -5.5,1.3"/>
<path d="M823.5,559.6l-4.5,1.7 -5.1,1.3 -5.4,.8 -5.5-.7 -5.5-.5 -5.5-.3 -5.5,0 -4.9,.4 -4.4,.5 -4.6,.6 -4.8,.6 -5,.9 -4.7,.8 -4.9,.9 -4.7,.6 -4.9,.5 -5.1,0 -5.2,0 -5-.6 -4.9-.5 -4.7-.5 -4.4-.4 -4.3-.7 -4.2-.4 -4.3-.1 -4.2-.2 -4.4-.2 -4.8-.3 -5.2,.1 -5.5,.2 -5.2,.2 -5.2,.3 -5.2,.3 -5.1,.3 -4.7,.4 -4.7,.5 -5.3,.2 -5.6,0 -4.9-.1 -4.7-.3 -4.2-.6 -4.6-.6 -4.3-.7 -4.9-.5 -4.8-.5 -5.2-.2 -4.9,0 -4.3,.4 -4.1,.2 -4.6,.2 -4.8,.2 -4.8,.3 -4.6,.3 -4.6,.3 -4.4,.5 -4.4,.5 -4,.4 -4.4,.1 -4.4-.1 -4.6-.6 -4.6-.6 -4.5-.1 -4.5,.2 -4.6,.4 -5,.1 -5.2,.3 -5.2,.4 -4.7,.8 -4.8,.9 -5,.2 -5.3-.1 -5.3-.7 -5.1-.6 -5.1-1 -4.8-.4 -5.2-.2 -5-.4 -4.8-.5 -4-.4 -3.8-.4 -4.4-.2 -4.6,0 -5.2-.3 -4.8-.4 -4.8-.5 -4.2,.9 -4.3,.9 -4.6,1.5 -4.9,1 -4.7,.7 -4.7,.2 -4.5,.1 -4.6,0 -4.4,.1 -4.7,.2 -4.4,.4 -4.6,.1 -4.3,0 -5,0 -5.1,.2 -5.3,.1 -5.2-.2 -5.3,.2 -5.4,.6 -5.3,.7 -4.8,0 -4.8-.4 -4.2-.2 -4.2,.5 -4.1,.3 -4.6,.4 -4.4,.2 -4.3,.7 -4.3,.8 -4.6,0 -4.5-.3 -5.3-1 -5.7-.2 -5.7-.5 -5.3-.6"/>
<path d="M823.5,559.6l-4.2,.5 -4.9,.6 -5.6,.5 -5.3,.1 -4.7-.1 -4.7-.1 -4.8,.1 -5,.3 -4.8,.2 -4.9-.2 -5-.4 -4.8-.5 -4.2-.2 -3.7,.1 -4.2,.1 -4.7,.1 -5.1,.1 -5,.2 -5.3,.3 -5.3,.1 -5.5,0 -5.3-.2 -5.5-.1 -5.1,0 -5.1,.1 -5,0 -5.5,0 -5.4,0 -5-.4 -4.6-.3 -5.1-.2 -5,.1 -5.6,0 -5.2-.2 -5.6-.3 -5.1-.1 -5.5-.3 -6-.3 -6.1-.3 -6.2,.5 -5.5,.7 -5.6,.7 -5.3,.2 -5.3,0 -5.1-.1 -5,.1 -4.8,.1 -4.8-.1 -4.8-.6 -5.2-.2 -5.3,0 -5.3,0 -5.1,.1 -5.4,.2 -5.1,.4 -5.3,.1 -5,0 -5.1-.2 -5.1,.6 -5,.1 -5.2-.3 -5.1-.4 -4.9-.1 -4.7,.4 -4.7,.1 -4.7,.3 -4.7,.1 -4.7-.3 -5.1-.3 -5-.4 -4.7-.4 -4.4-.7 -4.6-.2 -4.6,0 -4.9,.8 -5,.3 -5,.3 -5-.3 -5-.1 -5.2,.1 -5.5,0 -5.1,.2 -5,.2 -4.5,.2 -4.5,.2 -4.7-.1 -4.8-.3 -5.3,0 -5.3,.8 -5.4,1 -4.9,.9 -5.3,.6 -5.2,.7 -5.4,.8 -5.2,1 -5.2,.8 -5.6,.5 -4.8,0 -4.8-.4 -4.2,.1 -4.5,.7 -4.4,.9 -5.1,.9 -5.3,.7 -5.4,.9 -4.8-.1 -4.4-.1 -4.3,.2 -4.4,.5 -4.8,.3 -4.9-.4 -5.1,.2 -5.4-.1 -5.7,.2 -5.4-.4 -5.1-.1 -5-.4 -5.3,0 -5.6,.4 -5.9,.4"/>
<path d="M823.5,559.6l-2.3,.7 -2.5,.6 -2.8,.5 -2.5-.4 -2.1-.6 -2-.7 -2.1-.4 -2.7-.2 -2.3,.1 -2,.2 -2,.2 -2.2,.1 -2.3-.4 -1.9-.4 -1.8-.6 -2.3-.2 -2.3-.2 -2.5-.2 -2.3,0 -2.6,0 -2.8,.2 -3,.5 -2.8,0 -2.7,.1 -2.5-.1 -2.4,.1 -2.5,.3 -2.6-.2 -2.5-.2 -2.5-.2 -2.6,0 -2.6,.3 -2.5,0 -2.3,.2 -2.2,.2 -2.4,.4 -2.5,.5 -2.8,0 -2.5-.3 -2.7-.5 -3.1-.2 -3.3,.1 -3.3-.1 -2.6-.1 -2.6-.2 -2.5,0 -2.5,.2 -2.6,.3 -2.9,0 -3-.2 -2.9-.4 -2.4-.4 -2.7-.2 -2.7-.4 -3.3,0 -3,.2 -3.2,.6 -2.5,.6 -2.6,.3 -3,.3 -3.2,.1 -3,.4 -2.6,.2 -2.5,0 -2.9,0 -2.9,.1 -2.7,.7 -1.9,.4 -2,.3 -1.7-.1 -2.2,0 -1.9-.6 -2.7-.9 -3.4-1 -3.5-.6 -3.2-.3 -2.9-.1 -2.9,.3 -2.8,.3 -2.8,.6 -2.6,.3 -2.4,.5 -2.5,.1 -2.8,.3 -2.3,.5 -2.2,.8 -2.4,.5 -2.7,.3 -2.5,.2 -2-.2 -2.1-.7 -2.3-1.1 -2.6-.2 -2.6-.2 -2.9-.4 -2.7-.7 -2.8-.2 -2.1,.4 -1.7,.5 -1.7-.1 -2.1,.1 -2.5,0 -2.7,.6 -2.6,.5 -2.5,.2 -2.4,.1 -2.5,.1 -2.7,.4 -2.5-.3 -2.7-.7 -2.6-.7 -2.8,0 -3,.5 -2.6,.9 -2.4,1 -2.6,.7 -2.8,.7 -2.9,0 -3-.3 -3.8-.3"/>
<path d="M823.5,559.6l-2-.1 -2.1-.1 -2.5,0 -2.9,0 -3,.1 -3,.3 -2.9,.2 -3,0 -3.4-.2 -3.2-.5 -3.3-.5 -2.8-.4 -2.8,.2 -2.5,.3 -2.8,.4 -2.1,.2 -2.1,.1 -1.6-.1 -2.2-.3 -2.5-.1 -2.7-.2 -2.9,0 -3.1,.4 -3.1,.7 -3.1,.3 -3.3,.2 -3.1,.3 -2.9,0 -2.5,.2 -3-.1 -2.8,0 -2.6,0 -2.4-.2 -2.7,.1 -2.4-.3 -2.6-.2 -2.4-.1 -3.3,0 -3.2,.2 -3.4,.5 -3.2,.8 -3.3,.5 -3.3,.2 -2.8,.1 -2.6,.1 -3,.4 -3.3,.3 -3.5,.5 -2.6,.8 -2.7,.6 -2.8,.5 -2.9,.4 -2.9,.5 -2.4,.6 -3,0 -2.6,.5 -2.6,.5 -2.3,.5 -2.5-.3 -3.3-.6 -3.1-.2 -3.6,.4 -3.1,.7 -3.2,.2 -2.3-.4 -2-.6 -2-.3 -2.7,0 -2.7,0 -2.7,0 -2.2,.2 -2.7,.3 -2.5,.6 -2.7,.5 -2.2,.7 -2.4,.8 -2.3,.2 -2.8-.5 -3.1-.6 -3.3-.1 -2.7,.4 -2.4,.3 -2.8,0 -2.8,0 -2.9-.3 -2.8-.3 -3-.6 -2.4,.5 -2.1,.6 -2.7,.7 -3.3,.8 -3.9,.4 -3.5,.7 -3.2,.5 -2.9,.8 -3,.8 -3.1-.5 -2.7-.9 -2.5-1.2 -2-.8 -2.7-.6 -2.5-.4 -3.2-.8 -2.8-.9 -3.1-1.1 -2.6-.4 -2.8,.3 -3.1,.5 -3.1,.1 -3.2-.2 -3-.1 -3,0 -2.7,.3 -2.5,.6 -2.3,.5 -2.4,.9 -2.7,.6 -2.6,.8 -2.5,.2 -2.3,.1"/>
<path d="M823.5,559.6l-5.5-.1 -5.5-.1 -5.4-.3 -4.9-.1 -4.6,0 -4.2,.1 -4.2,.1 -4.7,0 -4.6,0 -4.1,0 -3.6,.1 -4.1,.2 -4.3,.5 -4.9,.4 -4.5,.2 -4.5-.3 -4.5-.6 -4.4-.5 -5-.4 -4.9,0 -4.8-.1 -4.4-.1 -4.2,.1 -4.6,.1 -5-.1 -5.2-.3 -4.8,0 -5,.3 -5.1,.6 -5.4,.5 -5.4,.6 -4.8,.3 -5.1,.1 -5,.2 -5.2,.2 -5.2,.1 -5,.1 -4.5,.2 -4.4,.6 -4.3,.3 -4.5,.2 -4.8-.4 -4.8-.4 -5-.5 -5.5-.1 -5.8-.3 -5.7-.1 -5.2-.3 -5.2,0 -5.3,.2 -5.2,.6 -5,.7 -5.6,.6 -5.2-.3 -5.2-.3 -4.9-.2 -5.2,.4 -5.4,0 -5.1,0 -4.9-.4 -5.1-.1 -5.3,.5 -5.1,.8 -4.4,1.1 -4.4,.4 -4.9,.7 -5,.3 -5,.6 -5.1,.2 -5.3,.5 -5-.1 -4.7-.2 -4.8-.3 -4.4-.2 -5.1,.2 -5-.2 -5.7,0 -5-.3 -5,.1 -4.7-.1 -4.8,.2 -5.1,.7 -5.2,1.3 -5.1,1.2 -4.9,.1 -5.1-.4 -5.7-.7 -5.7-.1 -5.4-.5 -5.2-.7 -4.9-1.1 -5.1-.6 -4.9-.1 -5,0 -4.7-.1 -4.6-.5 -4.5,.1 -4.5-.1 -5,0 -5.1-.9 -5-.2 -4.8-.5 -5.1,.5 -5.4,.3 -5.2,.6 -5,.1 -4.9-.4 -5.4,0 -5.1,.7 -5.3,1.4 -4.9,.6 -5.4,.4 -5.2-.5 -4.9-.1 -5.1-.1 -4.8,.2 -4.5,.5 -4.1,1.1 -4.4,.6 -4.5,.1"/>
<path d="M823.5,559.6l-4.1,1.3 -4.3,1.7 -4.4,1.9 -5.1,.5 -4.9,.2 -4.9,0 -4.3-.1 -4.7-.5 -4.5-.3 -4.7-.6 -4.6-.5 -4.9-.8 -5.5-.9 -5.4-.7 -5.5-.5 -4.9-.3 -5.3,.2 -4.9,.2 -4.7,1 -4.1,.9 -4.4,1.1 -4.9,.5 -5.6,.4 -5.2,0 -5.3,.1 -5.1-.2 -5.7-.3 -5.3-.3 -5.3-.2 -5.1-.3 -5.4-.5 -5.4-.4 -5.3-.2 -5,.1 -4.6,.4 -4.8,.8 -5.5,1 -5.5,.7 -5,.7 -4.7,.1 -4.5,.2 -4.5-.1 -4.1-.3 -4.2-.4 -4.7-.6 -4.8-.4 -5.2-.5 -4.7-.3 -4.8,0 -5-.2 -4.8-.1 -4.8,0 -4.8-.1 -5-.1 -4.9,.3 -4.8,.4 -4.8,.4 -4.8,0 -5.3,.2 -5.2,.2 -5-.4 -4.6-.1 -5.2-.5 -5.4-.1 -5.4-.6 -4.8-.5 -4.4-.3 -4.3-.5 -4.6,0 -4.9,.2 -4.6,.7 -5,.6 -5,0 -5.4,.1 -5.1,.2 -5.3,.4 -5.4,.4 -5.1,.2 -4.6,.2 -4.5,.1 -4.1-.7 -4.1-.3 -4.2-1 -4.5-.5 -4.8-.9 -4.5-.4 -4.4-.3 -4.1-.1 -4.3-.3 -4.5-.2 -5,.3 -5.3,.8 -5.5,1.1 -5.3,1 -5.1,.4 -4.9,.4 -4.6-.4 -4.9-.4 -5.2-1.1 -4.9-.6 -4.8-.8 -4.9-.4 -4.9,.1 -4.9,.4 -4.7,.5 -5.1,.1 -5.1,.3 -5.5,1 -5.7,1 -5.6,.9 -5.2-.2 -4.8,.2 -4.9,.4 -4.6,.1 -4.7,.1 -4.8-.4 -4.7,.4 -4.8,0 -4.4,.5 -4.5,1.1"/>
<path d="M823.5,559.6l-5.4,1.3 -5.3,.8 -4.9,.4 -4.6-.5 -4.7-.2 -5.1,0 -5.3,0 -4.7,.3 -4.8,.7 -4.7,.7 -5,.5 -4.8,.3 -5.1,.3 -5.4,.2 -5.5-.1 -5.4-.5 -5.1-.6 -5.1-.8 -4.8-.4 -4.7-.2 -4.4,.3 -5,.7 -5.5,.7 -5.4,.8 -5.3,.7 -5,.4 -5.2,.3 -5.4,0 -5.6,.1 -5.8-.3 -5-.5 -4.5-.7 -4.1-.3 -4-.3 -4.4-.3 -4.1-.4 -5.1,.1 -5.1,.5 -5.7,.9 -5.4,.8 -5.3,.5 -4.9-.2 -4.7-.5 -4.6-.7 -4.5-.1 -5.2-.1 -5.5-.1 -5.8-.3 -5.3-.7 -4.6-.5 -4.6-.5 -4.8-.1 -5.1,.5 -4.8,.7 -4.5,.9 -4.8,.8 -5.1,.5 -5.3,.4 -5,.2 -4.7,0 -4.4-.4 -4.6-.1 -4.8,0 -4.8,.2 -5,0 -4.9,.2 -4.9,.5 -4.7,.4 -4.8,.6 -4.9,.1 -4.9,.3 -4.8,.9 -5,1 -4.8,1.3 -5.1,.4 -4.7,.2 -4.7-.4 -4.9-.6 -4.5-1.1 -5.2-.8 -4.9,.2 -4.9,.5 -4.1,.7 -4.7,0 -5,.4 -5.3,.3 -4.9,.3 -4.8,.2 -5.2-.1 -5.9-.4 -6.3-.8 -5.4-.7 -4.6-.8 -4.5-1.5 -4.7-1.5 -4.6-1.2 -4.5-.3 -4.7,.3 -5.2,.5 -5.3,.5 -4.7-.1 -4.8-.2 -5-.5 -5.1-.3 -5,.3 -4.7,0 -4.8,.4 -4.8,.8 -5.1,1.3 -5.4,1 -5,.4 -4.8,.1 -4.7,0 -5.1-.5 -4.5,.1 -4.7,.3 -4.6,1.3 -4.8,.9 -4.6,.4 -4.7-.2"/>
<path d="M823.5,559.6l-4.5,1.3 -4.5,1.1 -4.3,.8 -4.8,0 -4.9-.1 -4.9-.1 -4.9-.2 -4.8,.1 -5,0 -4.7,.4 -4.6,.3 -4.2,.2 -4.3,0 -4.3,0 -4.4,.3 -4,.4 -4.1,.4 -4.4,0 -5.1-.1 -5.1-.1 -4.9,0 -4.7,.4 -4.9,.4 -5.3,.5 -4.9,.3 -4.4-.2 -3.7-.1 -3.7,0 -3.8,.3 -3.9-.1 -4.3-.5 -4.2-.2 -4.6,.1 -4.4,0 -4.9-.3 -5.1-.2 -5.8-.2 -5.5-.2 -5-.1 -4.3-.1 -3.7,0 -4.4,0 -4,.1 -4.6,.5 -4,.3 -4,.3 -3.7-.1 -4-.3 -4.1-.2 -4.2,0 -4.5-.1 -4.8,.7 -5.3,.9 -5.4,1 -4.8,.2 -4.3,.1 -4.4,.3 -4.6,.3 -4.7-.1 -4.6-.4 -4.8-.5 -4.5-.2 -4.4-.3 -4.7-.1 -4.8,.2 -5,.5 -4.4,.6 -4.5,.4 -3.9,.3 -4,.3 -4.4,.8 -4.6,1 -4.6,.9 -3.7,.5 -3.6,.5 -3.4,.2 -4.1-.1 -4.6-.2 -4.7-.1 -4.6,.4 -4.6,.4 -4.9,.7 -5.1,.6 -4.6,.5 -4.2,.6 -4.2,1 -4.1,.4 -4.6,.3 -4.5-.2 -4.8,0 -4.5-.1 -4.6,.1 -4.4,0 -4.1,0 -4.3-.3 -4.4,.2 -4.4,.4 -4.1,.3 -4.1,0 -4.1-.1 -4.6,1 -4.4,.7 -4.3,.4 -3.9-.1 -4-.4 -4.4-.5 -4.4-.6 -4.2,.1 -4.2,.8 -4.3,.2 -4.6-.1 -4.4-.7 -4.5-.4 -4.6,.1 -4.9,.1 -5.7,.9 -5.7,.4 -5.3-.4 -5.2-.8 -5.2-.6"/>
<path d="M823.5,559.6l-3.6-1 -3.9-1 -3.8-.9 -4.4-.3 -3.9-.3 -3.8-.5 -3-.6 -3.4-.6 -4.1-.5 -4.7-.2 -5.3-.2 -5.5,0 -5.5-.2 -5.2,0 -4.8,.1 -4.4,.6 -4.3,.5 -4.2,.7 -4.3,.3 -4.4,.5 -4,.4 -3.6,.7 -3.8,.9 -4.3,.7 -4.8,.2 -3.9,0 -3.3-.1 -3.2-.3 -4-.3 -4.6-.7 -5.2-.4 -5.3-.9 -5.3-.6 -4.6-.6 -4.4-.2 -4.2,.2 -4,.4 -3.5,.7 -3.6,.4 -4.1,.6 -4.8,.3 -5.3,.5 -5.2,.1 -5.5,.3 -5.2,.3 -5.2,.7 -4.8,.6 -4.5,.3 -4.5,.2 -4.3,0 -4.4,0 -4.4-.3 -4.5-.1 -4.8-.5 -4.9-.6 -4.6-.6 -3.9-.3 -3.6-.7 -3.4-.6 -3.4-.2 -3.6,.2 -4,0 -4.1-.2 -4.2,.1 -4.3,0 -4.4,.4 -4.4,.3 -4.4,.9 -4,.7 -4.1,.8 -4.3,.4 -4.4,.6 -4.9,.4 -4.8,.3 -4.7-.2 -4-.1 -4-.3 -4.5,.7 -5.2,.5 -5.6,.8 -5.5-.3 -5,.1 -4.3,.3 -4.1,1.2 -3.9,.9 -4,.6 -4.4,.4 -4.7,.4 -5.4,1.1 -5.1,.4 -5,.4 -4.6-.6 -5.1-.3 -5.1-.9 -5.2-.3 -5.2,.7 -5.1,.6 -5.2,.4 -4.7,.1 -5,.4 -4.9,0 -4.9-.1 -4.3-.4 -4.3-.4 -4-.5 -4.3-.4 -4.5,.1 -5.1,.2 -4.7,.1 -4.5,.6 -4.2,.2 -4.6,.2 -4.6-.9 -4.8-.6 -4.4,.2 -4.7,.9 -4.6,1.7 -4.7,1.1 -4.3,.4 -4.2-.6"/>
<path d="M823.5,559.6l-5.5-.7 -5.3-.6 -5.4-.5 -4.5-.2 -4.7,0 -4.9,0 -5.7,0 -5-.2 -4.9,0 -4.6-.1 -5.2-.2 -5.3-.2 -5.3,0 -5.1,.3 -4.3,.3 -4.1,0 -4.2-.1 -4.4-.1 -4.3,.3 -4.3,.5 -4.2,.5 -4.1,.1 -4-.2 -4.6-.2 -4.7-.4 -5.3-.1 -4.8-.3 -5.2-.3 -5-.6 -5.1-.2 -4.8-.1 -4.6-.3 -4.8-.1 -5,0 -5,.4 -4.8,.1 -5,0 -4.9-.3 -4.9-.1 -4.7,0 -4.9,.2 -5-.3 -5-.5 -4.6-.7 -3.8-.6 -3.9-.4 -4-.3 -4.2-.1 -4.2,0 -4.5,.6 -4.5,.5 -4.5,.6 -4.8,.2 -5,.4 -5.4,.5 -5,.5 -5.1,.5 -4.7,.1 -4.3,.2 -4.7,.3 -5,.3 -5.2,.2 -5.4,.1 -5.2,0 -5,.1 -4.4,.2 -4.5,.1 -4.4-.1 -4.4-.3 -4.6-.2 -4.8,.2 -5.1,.1 -4.6,.1 -5,.1 -5,.1 -5.1,.1 -4.7,.1 -4.9-.1 -4.8-.5 -4.5-.5 -4.1-.5 -4-.3 -4.3,.2 -4.8,.7 -4.9,.5 -5.6-.2 -5.2,.1 -4.7,.4 -3.7,.7 -4.2,.4 -4.8,.5 -5.3,.7 -4.7,.5 -4.5,.4 -4.1,.4 -4,.8 -3.7,.2 -4.2,.4 -4.5,0 -4.8,.7 -5,.3 -4.4,.5 -4,.5 -3.7,.4 -4.1-.5 -4.3-.4 -4.6,.3 -4.5,.4 -4.9-.1 -4.6-1 -4.2-1 -4.5-.4 -4.5,.4 -5.3,.8 -4.7,.3 -4.8-.9 -4.5-1.4 -4.3-1.3 -4.1-.2 -4.2,.7"/>
<path d="M823.5,559.6l-3.2-.1 -3.5-.1 -3.6-.1 -4.3,.1 -4,.2 -4.2,.1 -4,.1 -4.7,.1 -4.6,.2 -4.4,.2 -4.2,.2 -4.3,.3 -3.8,.3 -3.8,.2 -3.7,.3 -4.4,.7 -4.4,.4 -4.3,.6 -4.2,0 -3.5,0 -3.2-.2 -3.2-.3 -3.5-.4 -4.4-.3 -4.1-.1 -3.8,.1 -3.3,.2 -3.5,.2 -3.9,.3 -3.6,.7 -3.4,.8 -3.3,.9 -3.6,.3 -4,.3 -4.3,0 -4.1,.1 -4.7-.2 -4.3,0 -4.3,.4 -3.7,.5 -4,.2 -4.2,0 -3.9,.2 -4,.2 -4.1,.5 -4.3,.4 -4.5,.8 -4.5,.8 -4.4,1 -4.3,1 -4.3,.3 -4.8,0 -4.4,.1 -4.7,.6 -4.7,.3 -5.2,.4 -4.7,.6 -4.2,.9 -3.7,1 -3.6,.6 -3.7,.2 -4.2-.4 -4.7-.2 -5.1,.1 -4.6,.5 -4.6,.4 -4.2,.5 -4.3,.6 -4,.4 -3.8-.2 -3.8-.7 -3.6-.6 -3.6-.4 -3.8,0 -4.2,.1 -4.9,.1 -4.7,.1 -4.1-.1 -3.8,.1 -3.8,.1 -3.7,.2 -3.5,.3 -3.8,.5 -4,.7 -4.3,.1 -4.3-.2 -5-.4 -4.7-.1 -4.6-.2 -4.1-.5 -4.5-.4 -4-.5 -4.2-.7 -4.3-.6 -4.2,.1 -3.8,.7 -3.5,.6 -3.2,.6 -3.9,.4 -4.2,.5 -4.7,.4 -4.6,.2 -3.9,.1 -3.9-.1 -3.7,.2 -4.8,.2 -4.7,.3 -4.7,.5 -4.1,0 -4.1,.1 -4.2-.1 -4.2,0 -4.2-.3 -3.9-.4 -4.1,0 -3.5,.1 -3.7-.7 -3.3-1.2 -3.4-1.2 -3.2-.1"/>
<path d="M823.5,559.6l-4.6,.5 -4.5,.7 -4.2,.9 -4.5,.3 -4.2,.5 -4.6,.4 -4.6,.5 -5.1,.3 -4.7,.1 -4.4,.1 -4.2,.1 -4.6-.2 -4.6-.4 -4.5-.2 -4.4,.3 -4.7,.3 -5.1,.3 -5.3,.6 -4.8,.8 -4.6,.8 -4.8,.6 -4.8,.3 -5.1,.3 -4.8-.2 -4.5,.3 -4.8,0 -5,0 -5.3-.3 -5.2,0 -4.9,0 -5.1-.3 -5-.2 -5.1-.2 -5.1,0 -5.7,0 -5,.3 -4.6,.6 -4.6,.9 -4.8,.6 -4.6,.6 -4.9,.4 -4.9,.5 -4.9,.2 -4.5,.2 -4.9-.2 -5-.3 -5.3-.1 -5-.4 -4.6-.4 -4.6,0 -4.3,.2 -4.3,.3 -4-.1 -4.4,.2 -4.8,.2 -5,.1 -4.7,0 -4.3,.3 -4.3,.6 -4.5,.4 -4.9,.4 -4.4,0 -4.2,.1 -4.2-.6 -4.3-.5 -4.8-1 -4.7-.5 -4.9-.3 -4.8,.2 -4.9,.3 -4.4,.5 -4.3,.9 -4.5,1.1 -4.5,.4 -4.9-.5 -4.9-.3 -5.5,.4 -5.3,.6 -5.3,.3 -4.8-.1 -5.3-.1 -4.5-.2 -5-.2 -4.8-.2 -5-.2 -4.5,.1 -4.4-.2 -5.1,.5 -5,.2 -5.1,.1 -4.6-.1 -4.8-.1 -4.8,.1 -5.1,.2 -5.5,.4 -5.7,0 -5.2-.4 -4.9-.8 -4.7-.7 -5-.1 -5,.2 -4.9,1.1 -5,.8 -4.8,1.4 -4.5,.7 -4.8,.3 -4.8,.1 -5.4,.2 -5.1,.2 -5.7-.5 -5.3-.2 -5.2-.4 -5.3-.1 -5.1-.9 -4.7-.7 -4.2-.8 -4.7-.6 -5-.7 -5.1-.5 -5.1-.2"/>
<path d="M823.5,559.6l-4.9,.1 -4.7,0 -5-.2 -4.6-.2 -4.9,.1 -4.5,.2 -4.5,.1 -4.8,0 -5,0 -4.8,0 -4.5,.1 -4.5,.1 -5.3,.2 -4.9,.3 -4.8,0 -4.6-.1 -4.6-.1 -4.8,.2 -4.5,0 -4.2,.2 -3.7,.4 -4.1,.2 -4.6,0 -5.3-.5 -5.5-.1 -5.6-.3 -4.9-.3 -4.4-.3 -4.5-.2 -4.7,0 -4.9,.2 -4.9,.2 -4.8,.3 -4.8,.1 -5,.1 -4.8,.3 -5.1,.2 -5.4-.2 -5.5-.3 -5.2-.1 -4.9,0 -5.2,.1 -5.1,.5 -4.2,.1 -4.1,.2 -3.9,.1 -4.7,.7 -4.7,.3 -5.1-.1 -4.3-.5 -4-.3 -3.8-.2 -4.6,.1 -4.5,0 -4.9,0 -4.6,.3 -4.4,.7 -4.6,.5 -4.5,.5 -4.6,.2 -4.3,.4 -4.4,.2 -4.5-.1 -4.6-.2 -4.6-.2 -4.5,.2 -4.6,0 -4.8,0 -4.8,0 -4.9,.3 -5.2,0 -5.6-.3 -5.8,0 -5.7,.4 -5.5,.8 -5.1-.1 -5-.3 -4.9-.4 -4.6-.4 -4.4-.3 -4.6-.2 -4.8-.2 -5,0 -5.1-.2 -4.7-.2 -4.7,0 -4.6,.3 -4.9,1 -4.5,1.2 -4.7,1 -5,.5 -5.1-.3 -4.8-.3 -4.5-.7 -4.8-.4 -5.1-.5 -5.4,.3 -5.4,.3 -5.4,.7 -5.5-.1 -5.3-.1 -4.9-.5 -4.6-.2 -4.2-.2 -4.6,.1 -4.1,.1 -5,.4 -5,.6 -5.3,.3 -4.4,0 -4.3,0 -4.3-.1 -4.5-.5 -4.4-.3 -4.6-.1 -4.7,.5 -4.9,.3 -5.1-.3 -4.9-.1 -4.7,.4"/>
<path d="M823.5,559.6l-4.4-1.3 -4.7-1.1 -4.7-.8 -4.8,.6 -4.7,.6 -5.1,.7 -5.5,.6 -5.7,.4 -5.6,.2 -5.7,.2 -5.4,.2 -5.4,.2 -5.3-.1 -5.2,0 -4.9-.1 -4.5-.1 -4.7-.3 -4.4-.4 -5-.2 -4.6,0 -5.2,.2 -4.8,.4 -4.6,.2 -4.2,.7 -4.4,.7 -4.7,.7 -4.6,.5 -4.8,.3 -4.7,.4 -4.9,.1 -5.2,.4 -5.4,.6 -5.3,.7 -5,.5 -5.2,.3 -5.2,.3 -5.1,0 -4.7,.2 -4.9-.2 -5-.1 -5-.4 -4.8-.1 -5,.1 -4.8,.2 -4.8,.1 -4.8-.2 -4.5-.1 -4.7,.4 -4.3,.3 -4.7,.3 -4.5,.1 -5.1-.1 -4.7-.1 -4.4,0 -4,0 -4.2,.1 -4.4,.1 -4.6-.1 -4.3,0 -4.6,.2 -4.6,.2 -4.8,.4 -5.3,0 -5.3,.1 -5.3-.4 -4.7,.1 -4.5-.3 -4.7,0 -5-.2 -4.6-.1 -4.9-.3 -5.3-.7 -5.1-1 -4.7-1.2 -4.2-.8 -4.6-.3 -4.6,.1 -4.7,.1 -4.7-.1 -4.8,0 -4.4-.1 -4.5,.1 -4.2,0 -4.5-.3 -4-.1 -4.5-.6 -4.4-.1 -5,.1 -5,.3 -5,.6 -4.6,.5 -4.5,1.3 -4.8,1.2 -4.7,1.1 -4.8,.4 -4.9-.5 -5.3-1 -4.8-.9 -4.6-.8 -4.5-.1 -5,.3 -5.1,.5 -4.9,.2 -4.8-.1 -4.9-.1 -5.3,.2 -5.5,.6 -5.3,.6 -5.5,.9 -5.1,.5 -5.1,.7 -4.3,0 -4.4,.2 -4.6,.3 -5,.1 -5.1-.2 -4.5-.6 -4.2,.3 -3.9,1.1 -4.5,1.9"/>
<path d="M823.5,559.6l-5.3,1.2 -5.3,.9 -5.6,.7 -5.4,0 -5.5,0 -5.2,.3 -5.2,.3 -5.3,.6 -5.1,.7 -4.9,.8 -4.8,.7 -4.5,.8 -4.5,.5 -4.5,.1 -5.5-.2 -6-.8 -6.1-.7 -5.2-.9 -4.7-.4 -4.6-.1 -4.8,.3 -4.8,.3 -5.4,.4 -5.8,.3 -5.7,.7 -5.2,.7 -5,.6 -5.1,.1 -5.1-.2 -4.9-.4 -4.9-.4 -4.7-.6 -4.9-.4 -5.3,.1 -5.3,.6 -5.2,.8 -4.8,.7 -4.9,.6 -4.9,.2 -5.2,.1 -5.3-.4 -5.2-.2 -5-.2 -4.8,.1 -5.4,0 -5.5,0 -5.9,0 -5.6-.5 -5-.2 -5-.2 -4.7,.2 -5,0 -5.4,.6 -5.6,.4 -5.5,.5 -5.2-.2 -5.3-.1 -5.5-.5 -5.5-.8 -5.1-.7 -5.3-.3 -5.4-.1 -5.5,.1 -5,.1 -4.7,.2 -4.8,.3 -5.1,.6 -5.2,.5 -4.6-.5 -4.1-1 -4.4-1.1 -5.2-.8 -5.7-.7 -5.1-.1 -5-.2 -5.1-.1 -5.5-.3 -5.5-.3 -5.3,.1 -5.4,.5 -5.2,.8 -5.2,.5 -5.2,0 -5.2-.2 -4.7-.5 -4.9-.3 -5.5-1 -5.7-.9 -5.5-.7 -5.5,.3 -5.7,.6 -5.5,.7 -5.3,.6 -5.1,.7 -5.2,.6 -5.4,.1 -5.4,0 -5,0 -5-.2 -4.9-.1 -5,.2 -5.6,.9 -5,.8 -5.3,.5 -4.6,.5 -5,.8 -5,.5 -4.5,.7 -4.8,.1 -4.9,0 -5,0 -5.1-.1 -5.1,.7 -5.7,.2 -6.1,.2 -5.5-.1 -5.2,.5 -4.6,.8 -5.3,.4 -5.7-.1"/>
<path d="M823.5,559.6l-4.4,.6 -4.2,.8 -4.5,.8 -4.4,.2 -4.6-.1 -5,.1 -4.7,.1 -4.6,.4 -3.5,.4 -4.2,.2 -4.3,.1 -5.1,.2 -4.7,.2 -4.4,.3 -4.3,.3 -4.4,.2 -4.7,.3 -4.5,.2 -4.5,.4 -4.1,.1 -4.2,.1 -4,0 -4.6,0 -4.7,.2 -5,0 -5-.1 -4.7-.1 -4.5,.1 -4.5,.2 -4.5,.1 -4.6-.1 -4.5-.1 -4.7,.3 -5,.4 -4.9,.4 -4.6,.2 -3.8,.1 -4,.1 -4.6-.1 -4.7,.1 -4.8,.1 -4.6,.2 -5,.3 -4.4,.2 -4.4,0 -4.5-.4 -4.9-.4 -5-.1 -4.7-.1 -4.5,0 -4.6-.4 -4.4-.2 -4.6-.4 -4.3-.1 -4.2,0 -4.4,.2 -4.2,.1 -4.7-.3 -4.3-.4 -4.8-.5 -4.2,0 -4.8-.2 -5.1,0 -5.4-.1 -5.4-.1 -5.1,.1 -5,0 -4.8-.1 -5.1,0 -5.1-.1 -4.8,.3 -4.7,.2 -4.3,.5 -4.5,.2 -4.5,.5 -4.5,.1 -4.5-.3 -4.3-.6 -4.4,0 -4.4,.4 -4.7,.9 -4.7,.2 -4.6,.2 -4.4-.5 -4.6,.1 -4.6,.1 -4.4,.6 -4.4,.3 -4.5,.4 -4.7-.1 -4.7-.1 -4,0 -3.9,.1 -4,.5 -4.2,.1 -4.5-.3 -4.7-.6 -4.9-.4 -5-.1 -4.8,.1 -5.2,.1 -5.1-.3 -5.1-.6 -4.7,0 -4.6,.2 -4.8,.1 -4.7,.6 -4.4,.9 -4.2,1.1 -4.3,.3 -4.5-.4 -4.8-.6 -4.8-.6 -4.7-.3 -4.6-.3 -5-.1 -5,.5 -5,.7 -4.9,.9 -5.1,.6"/>
<path d="M823.5,559.6l-5.2,.7 -5.1,.8 -5.1,.9 -4.5,.1 -4.9,.2 -5-.1 -5.3-.1 -5-.3 -5.2-.1 -4.6,0 -5.1-.1 -5-.2 -5.4,0 -5.5,.1 -5.6,.1 -5.8,.1 -5.3,.4 -4.9,.4 -4.9,.3 -4.9,0 -5.1,0 -5.1,0 -4.9,.2 -4.6,.1 -4.5,.3 -5.1,.2 -5.3,.3 -5.5,.1 -5.4,.1 -5.9,.1 -6.2,0 -6.1,0 -5.5,.3 -4.7,.5 -4.4,.4 -4.4,.1 -4.6,0 -5,.1 -5.9,.2 -6,.5 -6.1,.2 -5.5-.3 -5.6-.2 -5.4,.1 -5.4,.4 -5.1,.4 -5.1,.2 -4.8,.1 -4.8,.1 -4.8,.3 -4.7,.2 -4.9,0 -4.9-.3 -5-.1 -5,.1 -4.9,.3 -5.2,.1 -5.4,.6 -5.4,.6 -5,.3 -4.9-.4 -5.1-1.2 -5.5-.9 -5.3-.7 -4.7-.4 -4.5-.1 -4.8-.1 -5.5,.5 -5.5,.6 -5.2,.5 -5.2,0 -5.3-.2 -5.3-.2 -5.7,0 -5.3,.2 -5.4,.5 -4.8,0 -4.9,.4 -4.1,.4 -4.9,.2 -5,0 -5.7,.3 -5.6,.7 -5.7,.3 -6.1,.2 -5.4-.1 -5,.2 -4.9,0 -5.2,.3 -5.2,.5 -4.8,1 -4.9,.9 -4.6,1.1 -5.1,.3 -4.9,.6 -5.2,.7 -5.3,.8 -5.1,.4 -5.1,.7 -4.5,.5 -4.8,.3 -4.5-.7 -4.5-.3 -4.5,.5 -4.8,.4 -5.2,.2 -5.5,0 -5.6,.5 -5.5,.6 -5.6,.7 -5.8,.6 -5.6,.6 -5.8,.4 -5.5-.1 -5.9-.2 -5.6-.7 -5.4,0 -5,.3 -4.9,.3 -5.1,.1"/>
<path d="M823.5,559.6l-4.8-.8 -5.1-.5 -5.3-.1 -5.3,.3 -4.9,.2 -3.9-.4 -3.8-.4 -3.4-.5 -4.2-.3 -4.3-.5 -3.9-.3 -3.8,0 -3.9,.2 -4.5,.5 -4.8,.5 -4.4,.6 -4.4,.2 -5,.1 -4.8,0 -4.6,0 -3.9,.3 -3.9,0 -3.8-.2 -3.8-.5 -3.3-.5 -3.6-.4 -3.7-.2 -3.8,0 -3.4,.2 -3.1,.2 -3.8,.8 -4.3,.5 -4.4,.2 -4.4,.1 -3.8,0 -3.9,.2 -3.9-.1 -4.6,0 -5.5-.2 -5.4-.3 -5.5-.7 -4.8-.5 -4.4-.5 -4,0 -3.6,0 -4,.1 -4.4-.4 -4.8-.1 -4.7-.1 -4.3,.2 -4,.1 -3.6-.2 -4-.6 -3.8-.6 -4.1-.5 -4.2-.3 -4.1,.1 -3.9,0 -3.3,.4 -3.5,.2 -3.5,.3 -3.8,.5 -3.9,.4 -3.9,.7 -4.7,1 -4.8,.5 -4.9,.2 -4.3,0 -4,.5 -4,.5 -4.1,.3 -3.8-.1 -3.7-.4 -3.4-.3 -3.6-.3 -4.1,.2 -4.3,.3 -4.7,.7 -4.1,.6 -4.4,.9 -3.8,.5 -3.8-.3 -3.2-.8 -3.5-.6 -3.8-.4 -3.9-.1 -3.7,.2 -3.6,.3 -3.5-.1 -3.8-.5 -3.8-.2 -3.6-.1 -4.2-.2 -4.1-.2 -4.8,.1 -4.8,.1 -5.1-.4 -4.6-.7 -4.2-.3 -4,0 -4,.4 -4,.7 -4.2,1.1 -4.5,1.2 -4.8,.9 -5.3,.2 -4.9-.1 -4.3-.3 -4.1,.2 -4.5,.3 -4.5,.6 -4.4,.6 -4.1,.7 -4.2,.8 -4.1,.5 -4.6-.4 -4.2-.9 -4.1-1 -3.6-.1 -3.7,.3"/>
<path d="M823.5,559.6l-5,1.1 -4.9,1.1 -4.8,.9 -5.1-.1 -5.1-.3 -5-.3 -4.7-.2 -4.5,0 -4.8,.1 -4.7-.1 -5,0 -4.8,.1 -4.7,.2 -4.5,.5 -4.5,.4 -4.5,.3 -4.7,.2 -4.5,.1 -4.4,0 -4.4-.1 -5.1,0 -5.7,.3 -5.4,.5 -5.1,.5 -5,.3 -5.2,.2 -4.6,0 -4-.5 -4.1-.3 -4.3-.5 -4.9-.1 -4.3-.5 -4-.1 -3.5,.1 -4.4,.5 -4.5,.5 -4.7,.7 -4.8,.7 -5,.5 -5.1-.2 -5.2-.2 -5-.4 -5,0 -5.2-.3 -5.3-.3 -5.5-.6 -4.7-.5 -5.1-.2 -4.8-.2 -4.8,0 -4.6,.1 -4.9,.3 -4.6,.3 -4.6,.2 -4.2-.2 -4.9,.1 -5.1,.3 -5,.5 -5,.5 -5.2,.3 -5.2,.4 -4.6-.1 -4.5,0 -4.5,0 -5.1,.1 -4.6-.3 -4.2-.3 -4-.3 -4,.4 -4.6,0 -5,.2 -5.3-.1 -5.1,0 -4.7,0 -4.7,.1 -4.8-.1 -5.3,.2 -5.4-.2 -5.6,.4 -4.9,.4 -5,.6 -4.7,.5 -5.4,.2 -5.1,0 -5.2-.6 -4.2-.5 -4.3-.6 -4-.3 -4.4-.2 -4.3-.1 -4.6-.4 -4.6-.3 -4.9-.6 -4.6-.4 -4.9-.7 -4.9-.5 -4.9-.2 -4.5,.5 -4.1,.8 -4.6,.7 -4.6,.5 -5.1-.1 -4.8-.8 -4.8-.5 -4.3-.1 -4.7,.1 -4.6,.4 -4.8,.1 -4.5,.5 -4.8-.3 -4.8-.5 -5-1 -5.2,.1 -5.4,1 -5.1,1.1 -5,1.2 -5.1,.9 -4.9,.8 -4.4,.6 -3.8,.4"/>
<path d="M823.5,559.6l-2.5-.2 -2.3-.2 -2.2,0 -2.1-.1 -2.6,.2 -2.9,.3 -2.9,.4 -2.7,.2 -3.2,0 -3.6-.1 -4.1,.2 -3.5,.1 -2.7,.1 -2.1,.3 -1.8,.1 -2.5-.4 -2.5-.8 -2.9-.7 -2.7-.3 -2.7,.1 -2.8-.1 -2.9,.2 -3.1,0 -3.1,.1 -3.1,.2 -2.8,.1 -2.2,.1 -2.8,.3 -2.8,.2 -3.6,.3 -3.2-.2 -3.7,.2 -3.6,.3 -3.5,.1 -3.6-.2 -3.3-.1 -2.9,.2 -2.6,.5 -2.9,.3 -2.7,.5 -2.2,.2 -2.4-.2 -2.4,.2 -2.7,0 -2.7,.3 -2.8,0 -2.3,0 -2.3,0 -2.3-.3 -2.8,.3 -2.7,.1 -2.4,.2 -2.9-.2 -2.7,.2 -3.1,.5 -2.3,.4 -2.7-.2 -3.1-.2 -3.3-.1 -2.8,.2 -2.1,0 -2.3,.1 -2.2,0 -2.4,.3 -2.8,.3 -3.1,.6 -3.3,.3 -3,.1 -2.8-.5 -3-.6 -3.1-.6 -2.9,.2 -2.4,.9 -2.5,1 -3,.8 -2.8,.1 -3.1-.3 -3.2-.7 -2.9-1.3 -2.7-.7 -3-.4 -3.3,.4 -3.2,0 -2.3,.3 -2,.1 -2.6,.2 -3.1,.3 -3.5,.7 -3.3,.7 -3.4,.3 -3.1-.1 -2.7-.3 -2.7-1 -2.7-.7 -2.9-.3 -2.8,.3 -3.3,.5 -3.1,.2 -3.3-.2 -3-.7 -3.2-.8 -3.2-.5 -3.8-.5 -3.9,.1 -4-.1 -3.7-.5 -3-.8 -3.4-.9 -3.4-.4 -3.5-.9 -3.4-1.1 -3.3-.8 -3.6-.5 -3.4-.5 -3-.5 -2.9,.2 -2.8,1.3 -3.1,1.5 -3,1.5 -2.8,1.1"/>
<path d="M823.5,559.6l-5.1-.8 -5.2-.8 -5.2-.9 -4.8,.1 -5,.2 -5.2,.2 -5.2,.1 -5.1,0 -5,.1 -5.2,.1 -5.1-.1 -4.9,0 -4.7-.1 -5,0 -5.1,.1 -5.1,.5 -5,.4 -5.2,.5 -5.7,.1 -5.7,.3 -5.4,0 -4.8,0 -4.5,0 -4.4,.1 -4.7,.2 -5.4,.3 -5.5,.4 -5.6,.1 -5.4-.1 -5.3-.2 -5-.2 -4.9-.2 -4.9-.2 -5.2,0 -5.3-.2 -5.4-.2 -4.8-.3 -4.4-.3 -4.5,.1 -4.9,.2 -5.5,.2 -5.9,.1 -5.6,.3 -5.2,.4 -4.6,.1 -5-.2 -5-.2 -5.1-.2 -4.7,.2 -4.6,.2 -5.2,.3 -4.8,0 -4.9,.1 -4.6,.3 -5.1,.4 -5.3,.5 -5,.1 -4.6-.3 -4.3-.3 -4.3,.1 -5.3,.3 -5.5-.2 -5.7-.2 -5.4-.2 -5.1,.3 -5.2,.3 -5.1-.2 -5.1,0 -5.1,.1 -5,.3 -4.8-.2 -5.1-.1 -4.9,.6 -5,1 -4.6,.4 -4.9-.2 -4.8-.9 -4.8-.3 -4.7-.2 -5-.3 -4.9-.3 -4.4-.5 -4.7,.3 -4.5,.2 -5.1,.6 -4.9,.4 -5.4,.3 -4.9,1.4 -4.6,.8 -4.4,1.2 -4.9,.7 -4.9,.7 -5.2,.4 -5.3,0 -5.4,.3 -5.1,.5 -5.1,.7 -5.2,.4 -4.7,.4 -4.4,.1 -4.3,0 -5.1,0 -5.3-.5 -5.1,.5 -4.8,.4 -5,.8 -5.3-.6 -5.5-1.1 -5.5-1.2 -5.3-.9 -5.1-.4 -5.3,.3 -5.2,.7 -5.1,.4 -5-.4 -5.4-.4 -6-.4 -5.6-.1 -5.4,.4 -5.4,.9"/>
<path d="M823.5,559.6l-5.8-.2 -5.3-.1 -4.3-.3 -4.4,0 -4.3-.1 -5.2,.2 -4.6,.2 -5-.1 -4.9,0 -5.4,.2 -5.4,.3 -5.2,.2 -5.2,.1 -4.9,.3 -4.7,.1 -4.7,.2 -4.8,0 -5-.1 -5.6-.5 -5.4-.6 -5.3-.1 -4.7-.1 -4.7,.2 -4.6,.2 -4.7,.2 -4.9,.1 -5,.1 -5.1,.3 -5,.6 -5.2,.6 -5,0 -4.8,.1 -4.4-.4 -4.6-.2 -4.3-.1 -5.1,.1 -5.3,0 -5.4,0 -5.1,.2 -4.6,.2 -4.7,0 -4.8-.2 -4.6,.2 -5.3,.2 -5.3,.5 -5.1,.4 -4.8,.5 -4.5-.2 -4.3,.1 -4.2-.1 -4.5,.1 -4.8,.1 -4.8-.2 -4.9-.2 -5.1-.4 -4.7-.1 -4.8,.5 -4.4,.8 -4.8,.4 -4.5,.2 -4.5,.4 -4.5,.2 -4.6-.2 -5.1-.6 -4.8,.1 -4.9,.5 -4.9,.7 -5.4,.4 -5.9,.3 -5.4-.2 -5.2-.5 -4.8-.2 -4.6-.2 -4.9,.1 -5.1,.1 -5.4,.4 -5.2,.3 -5.1,.3 -4.8-.3 -4.7-.2 -4.4-.2 -4.2,.3 -4.3,.4 -5,.6 -5,.6 -5.2-.1 -4.6-.5 -5.1-.7 -5.3-.3 -5.4,.2 -4.8,.2 -4.5-.2 -4.5-.3 -4.7,0 -4.9,.5 -4.7,.2 -4.9,0 -5,.4 -5,.7 -4.7,.8 -4.4,.2 -4.7,.5 -4.3-.3 -4.6-.4 -4.7-.2 -5,.7 -4.3,.5 -3.8,.2 -3.9-.1 -4.7-.3 -4.8-.5 -4.9-.1 -4.8,.5 -5.1,.6 -4.9,.2 -4.5-.5 -4.4-.8 -4.4-1 -4.9-.6 -5.6-.8"/>
<path d="M823.5,559.6l-5.1,.1 -5.2,.5 -5,.8 -4.3,.4 -4.3,.2 -4.2,.1 -4,.1 -3.6,.1 -3.9,.3 -4.3,.5 -4.3,.7 -4.1,.6 -4.1,.6 -4.4,.7 -4.4,.3 -4.3,.1 -4.3-.2 -4.6-.2 -4.5-.1 -4.7-.5 -4.5-.2 -4.5-.3 -3.7,.1 -3.5,.1 -3.4,.2 -4,.1 -4.7,.2 -5.1,.3 -4.9,.4 -4.2-.1 -3.8,0 -4-.7 -4.3-.3 -4.2-.5 -3.7,0 -3.7,.1 -4.1,.1 -4.4,.2 -4.1-.2 -4.1,.3 -4.3,.4 -4.9,.6 -5,.2 -4.6,.2 -4.5,.4 -3.9,.6 -4.1,.4 -3.9-.1 -4.1-.2 -3.9-.4 -3.9,.4 -4.4,.5 -4.4,.9 -4.1,.4 -3.9,0 -4.1-.4 -4.3-.2 -4.2-.5 -4.2-.4 -3.9-.2 -3.8,.4 -3.7,.2 -4.4-.1 -4.9-.2 -4.6,.4 -4.2,.4 -4.2,0 -4.4-.3 -4.3-.1 -4.3-.3 -4.7,0 -4.5,.1 -4.3,0 -3.9-.2 -4.1,.4 -4.3,.2 -4.7,.2 -4.4-.1 -4.3,.1 -4.3,0 -4.1-.4 -4-.1 -4.1,0 -4.2-.1 -4.1-.3 -3.7-.1 -3.9,.1 -4.2-.1 -4.3,.2 -4.3,.5 -4.1,.4 -3.9,.4 -3.4-.3 -3.2,.3 -3.7,.7 -4.3,.8 -4.5,.3 -4.1,0 -4-.2 -4.3,.8 -4.6,.5 -3.8,1 -4,.1 -3.7,0 -4.2-.5 -3.8-.2 -4.3-.2 -4.4,.3 -4.7,.6 -4.3,.7 -4.6,.7 -4.5-.4 -4.5-.1 -4.6,0 -4.5,.8 -4.7,.5 -5,.5 -4.7,.1 -4.3-.3 -3.4-.6"/>
<path d="M823.5,559.6l-2.7,.3 -2.7,.5 -2.7,.9 -3.3,.5 -2.9,.6 -2.6,.5 -2.3,.5 -2.7,.5 -3.2,.3 -2.9,.1 -2.5,.1 -2.6,.2 -2.8,0 -3-.2 -2.6-.6 -2.5-.2 -3-.4 -3.2-.4 -3.2-.5 -3.6-.2 -3.4-.2 -2.9,.3 -2.2,.4 -2.2,.6 -2.5,.4 -2.1,.1 -1.2,.2 -1.3,.2 -1.3,.3 -2.1,0 -2,.1 -2.4-.1 -2.6-.1 -2.5-.3 -2.4-.1 -2.5,.1 -2.6,.4 -2.7,.1 -2.3,.2 -2.5,.2 -2.8,.3 -2.8,.4 -2.9,.1 -2.6,.2 -2.8,.1 -3.2,.6 -2.7,.6 -2.9,0 -2.8,0 -2.8-.1 -3.2,.1 -3.1-.3 -3.3-.2 -2.8-.1 -2.5-.1 -2.3-.4 -2.4-.4 -2.4-.1 -2.8,.2 -2.8,.2 -3,.3 -2.7-.1 -2.5,.2 -2.9-.1 -3.1,.4 -3.2,.6 -3,.6 -2.6,.6 -2.2,.5 -1.7,.8 -2,.9 -2.6,.2 -3.2,.1 -3-.1 -2.7,.2 -2.3,.1 -1.9-.6 -2.3-1 -2.8-1.2 -3.1-.7 -2.3-.4 -2.1,.1 -2.3,.4 -2.6,.8 -2,.6 -2.4,.3 -2.4,.2 -2.8-.1 -2.5,.4 -2.2,.3 -2.2,.3 -2.3,0 -2.7-.1 -2.1,.2 -2.1,.3 -2.2,.2 -2.7,0 -2.2,.2 -1.5,.5 -1.5-.5 -2-1.3 -2.5-1.8 -2.7-1.1 -2.6-.1 -2.3,.6 -2.5,.9 -2.6,.3 -2.5-.6 -2.4-1.1 -2.5-.7 -2.6-.4 -2.3,.2 -2.2-.1 -2.1,.4 -2.2-.1 -2.3-.3 -2.8-.5 -3.1-.1 -2.7,.5 -2.2,1"/>
<path d="M823.5,559.6l-5.1-1 -4.9-1.4 -4.5-1.6 -4.7-.2 -4.3,0 -4.9-.1 -5.3,0 -5,.2 -5,.3 -4.6,.4 -4.6,.7 -4.4,.7 -5,.4 -5.6,.2 -5.2,.2 -5.1,.6 -5.2,.6 -5.5,.5 -5.7,.3 -5.4,.1 -5-.3 -4.8-.7 -4.5-.4 -4.6-.4 -4.6-.1 -5.2-.4 -5.2-.1 -5,.4 -4.8,.6 -4.4,.8 -4.7,.9 -4.8,.6 -5.2,.8 -4.5,.3 -4.2,.6 -4.4,.5 -5,.7 -5.2,.2 -5.2,.2 -5.1,.3 -5,.5 -4.4,.7 -4.4,.5 -4.4,.5 -4.7,.3 -5,.5 -4.6,.4 -4.3,.4 -3.9,.3 -4.6,.3 -5.1,.3 -5.3,.2 -5,.3 -5.1,.7 -4.6,.8 -4.6,1.1 -4.3,1 -4.6,.5 -4.4,.4 -5.1,.4 -5.2,.5 -5.6,.2 -5.1-.1 -4.9-.3 -5.5-.4 -5.6-.3 -5.2-.2 -4.8-.3 -5-.7 -5.4-.4 -5.1,.5 -5,.3 -5.1,0 -5.2,.2 -5.1,.3 -5,.8 -4.8-.1 -4.7,.1 -4.4-.3 -4.5-.1 -4.1,.1 -4.5,.2 -5,0 -5.5-.1 -5.5-.5 -5.3-.8 -4.9-.9 -5-.9 -5.2-.3 -5.2-.4 -4.9,0 -4.6-.1 -4.7,.1 -4.8-.1 -4.6-.2 -4.7,.1 -4.5,.4 -4.9,.6 -4.8,.3 -4.9,.8 -4.8,.9 -4.8,.7 -5.1-.1 -5.1-.1 -5.1,.5 -4.6,.5 -4.2-.4 -4.1-.9 -4.8-.5 -5.1-.1 -5.5-.2 -5.2,.1 -5,.3 -4.6,.1 -4.6-1 -4.6-.5 -4.6,.5 -4.7,1 -5.1,.4 -5.7-.5"/>
<path d="M823.5,559.6l-4.4-.7 -4.5-.4 -4.5-.4 -4.6,.4 -4.8,.3 -4.9,.4 -4.8,.2 -4.9,.3 -5.3-.2 -5.7-.1 -5.2-.2 -5,.1 -5.1-.1 -5.2-.4 -5.2-.3 -5-.3 -5.1,.1 -4.9,0 -5.2-.1 -5.2-.2 -5.8,.1 -5.6,.1 -5.2,.1 -5.1,.1 -5.5,.4 -5.4,.2 -5.6,.2 -4.9-.2 -5-.1 -4.4-.1 -4.2-.1 -4.5-.1 -4.4-.2 -4.6-.2 -4.7-.3 -5.2-.3 -5.1-.2 -4.9-.3 -4.6-.6 -4.8-.2 -5,.2 -5.3,.6 -5.1,.3 -4.9,.3 -4.7,.2 -4.5,.2 -4.8,.2 -5,0 -4.9,.2 -4.8,.2 -4.6,.4 -4.9,0 -4.9,0 -4.9,.2 -5,.2 -4.6-.7 -4.8-1.2 -4.4-1 -4.9,.4 -4.4,.4 -4.9,.4 -4.6,.1 -5,.5 -5.3,.6 -4.9,.2 -5.1-.3 -4.5-.5 -4.7-.4 -5-.4 -5.2-.1 -5.2,0 -4.7,.3 -4.8,0 -5,.1 -5-.5 -4.8-.6 -4.3-.4 -4.4-.2 -4.5,.1 -5.5,.2 -5.6,.8 -5.9,.9 -5.3,.8 -5.4,.2 -4.6,.2 -4.5,.3 -4.7,.4 -4.9,.3 -5.3,.1 -5.3,0 -5,.3 -5.1,.4 -4.7,.7 -5.3,.7 -4.8,.6 -5.3,.4 -5.2,.2 -5.4,.2 -5.1,.4 -5.2-.1 -5-.5 -5-1.6 -4.8-.9 -4.7-.6 -4.8,0 -4.9-.2 -4.9-.4 -5.2,.2 -5.1,0 -5.2,.4 -4.8,.1 -4.7,.8 -4.9,1.1 -5.4,1.2 -5.9,1.1 -5.7,.4 -5.5-.4 -4.9-.4 -4.8-.1 -4.5,.7"/>
<path d="M823.5,559.6l-5.2-.4 -4.8-.6 -4.6-.6 -4.9-.3 -5.1-.2 -4.9-.2 -4.7-.2 -4.5,0 -4.6,0 -5.1,.1 -5,.4 -5.4,.5 -5.1,.3 -4.7,.4 -4.3,.4 -4,.4 -4.5,.2 -4.6,.3 -5,.1 -4.8,.1 -4.7-.2 -4.4,0 -4.2,.1 -4.5,.2 -4.5,.1 -5,.1 -5.3,.2 -5.3,0 -6-.1 -5.1-.4 -5.5,.1 -5.1,.2 -5.5,.7 -5.3,.2 -4.9,.2 -5.1-.1 -4.9,.2 -5.2,0 -5-.2 -5.1-.5 -5.2-.3 -5-.4 -5-.3 -4.4-.4 -4.3-.2 -4.1-.1 -4.4-.1 -4.9,.2 -4.9,.3 -5,.6 -4.7,.5 -5.1,.5 -4.8,.6 -4.5,.5 -4.6,.5 -4.5-.1 -4.8-.2 -4.4,0 -4.5,.5 -4.4,.4 -4.9,.3 -5.2,.2 -5.4,.3 -5.1-.1 -4.7,.5 -4.8,.4 -4.8,.7 -5.2,.4 -4.7,.1 -4.9,.5 -4.6,.5 -4.4,.2 -3.8-.5 -3.7-.5 -3.8-.4 -4.3,.5 -4.2,.7 -4.6,.8 -4.5-.1 -5.1-.4 -4.9-.2 -5.2,0 -4.7-.3 -4.8-.4 -4.9-.1 -5.4,.2 -5.2,.6 -4.7,.6 -4.2,.6 -4.3,.4 -4.7,0 -5.3-.1 -5.7-.3 -5.4-.4 -4.9,0 -4.3-.3 -4.3-.1 -4.4-.1 -4.5,.1 -4.6-.2 -4.9,.1 -5,0 -4.7,.1 -4.9,0 -5.1,.1 -5.6,.2 -5.1-.1 -5-.2 -4.5-.5 -4.4-.1 -4.6-.1 -4.8,.2 -4.8-.6 -4.2-.3 -4.3,0 -4.7,0 -4.8,0 -5.1-.4 -4.7-.2 -4.7-.1"/>
<path d="M823.5,559.6l-5.2,.2 -5,.3 -4.7,.4 -5,.4 -4.9,.2 -4.8,0 -4.9,.2 -5,.3 -5,.4 -4.7-.2 -4.7-.2 -5-.3 -4.8,.2 -4.7,.4 -4.6,.5 -4.8,.5 -5,.4 -5,.2 -5.4-.3 -5.8-.1 -6-.3 -5.7,.1 -5.5-.1 -5.5,.1 -5.3,.1 -5.3,.2 -5.4,0 -5.6,0 -5.3,0 -4.9,.6 -4.7,.7 -5.2,.8 -5.6,.4 -5.5,.2 -5.1-.2 -4.7-.1 -5,.1 -5,.1 -5.1,.2 -5.3,.4 -5.2,.5 -5,.3 -4.7,.4 -4.7,.2 -4.6,.3 -5.2,.4 -5.3,.5 -5.8,.2 -5.9-.3 -6.1-.1 -5.7-.2 -5.4,.1 -5.2-.5 -5.8,.1 -5.7,.4 -5.6,.8 -4.5,.5 -4.5-.2 -4.6-.2 -5.4,0 -5.3,.5 -5.6,.7 -5.3,.3 -5.1,.5 -4.5,.9 -4.9,.8 -4.6,.5 -4.8,.2 -4.8,.5 -5.1,.7 -5.1,.2 -5-.1 -5.2-.1 -5.4-.1 -5.6-.3 -5.3-.2 -5.3,0 -5.6,.6 -5.7,.5 -5.3,.3 -5.1,.2 -4.9,0 -4.8,.3 -4.5,.4 -4.7,.6 -4.7,.3 -5.2,0 -5.5,.7 -5.4,1.4 -5,1.6 -4.7,.7 -4.9,0 -4.9-.4 -5-.3 -5.4-.3 -5.5,.3 -5.8,.8 -5.8,1 -5.8,.7 -6.1,.1 -5.7,0 -5.5-.2 -5.1-.5 -5.2-.6 -5.4-.4 -5.9,.3 -5.8,.3 -6-.1 -5.5-.1 -5.5,0 -5.1-.6 -4.8-.5 -5.1-.5 -5.3-.1 -5.5,0 -5,.2 -5-.1 -5.3,0 -5.6,.1 -5.3,.5"/>
<path d="M823.5,559.6l-4.9-.2 -4.6-.1 -4.6,.1 -4.3,0 -4.6-.1 -4.6-.1 -4.7-.1 -4.1,0 -4.1,0 -4.3,0 -4.9,.1 -5-.2 -5,0 -4.8-.1 -4.4-.1 -4.7-.1 -4.7,.2 -4.9-.1 -4.7,0 -5-.1 -4.7,.2 -4.8,.2 -3.9,.1 -4.4,.1 -4.3-.1 -4.6,.1 -4.6,0 -4.7,.2 -4.9,0 -4.7,.4 -4.3,.5 -4.5,.6 -4.7,.4 -5,0 -4.5-.2 -4.2-.5 -4.1-.5 -4.8-.1 -4.9,.1 -4.7,0 -4.4-.1 -4.5,.2 -4.8,1.1 -4.7,.7 -4.7,.3 -4.6-.3 -4.7,0 -4.3,0 -4.2,0 -4.2-.1 -4.5-.3 -4.4-.1 -4.6,0 -4.8,.3 -5.4,.1 -5.3,.2 -4.7-.1 -4-.3 -3.7-.3 -3.8,.1 -4.4-.2 -4.1-.9 -4.2-.6 -3.8,0 -4.1,.5 -4.3,.1 -4.4-.3 -4.8,.1 -4.6,.2 -4.8,.2 -4.5,0 -4.6,.1 -4.7,.3 -4.9,.6 -4.8,.3 -4.3,.1 -4.2-.2 -4.2-.2 -4.3,0 -4.8,.1 -5.1,.7 -4.8,.7 -4.4,1.1 -4,.2 -4-.6 -4.4-.9 -4.4-.6 -5-.3 -4.8-.2 -4.5-.1 -4.1,0 -4.2-.3 -4.4-.2 -5.3-.3 -5.4,.1 -5.1,.3 -4.7,.5 -4.8,0 -4.6-.5 -4.8-.6 -4.3-.2 -4.7,0 -4.3,0 -4.5-.3 -4.5-.1 -4.6,.1 -4.6,.1 -4.5,.2 -4.6,.8 -5.3,1 -5.5,.2 -5-.4 -4.8-.5 -4.5,0 -4.5,.7 -4.1,.8 -4.2,1.2 -4.7,.5 -4.6,.5 -4.8,.5"/>
<path d="M823.5,559.6l-4.5,.5 -4.7,.2 -4.7,.4 -4.9,.3 -4.5,.6 -4.7,.4 -4.9,.3 -3.9,.3 -3.7,.6 -3.6,.4 -4.5,.2 -4.9-.1 -5.1-.3 -4.9-.5 -4.7-.5 -4.5-.3 -4.6-.1 -4-.3 -3.9-.2 -3.8-.2 -4.8,.1 -4.8,0 -5.2,.4 -4.3,.4 -4.4,.5 -4.4,0 -4.6-.5 -4.2-.7 -4-.3 -4.1,0 -4.4,0 -4.4-.1 -3.8-.2 -4.4-.2 -4.4,.1 -5,.3 -5.1,.1 -5.4-.2 -5.6-.2 -5.2-.1 -5-.2 -4.6-.4 -4.7-.3 -4.4-.3 -4.1-.3 -4.3-.1 -4.4,.1 -5,.1 -4.7,.2 -5.1,.3 -4.7,.5 -4.4,.3 -4.4,.6 -4.8,.1 -4.9-.1 -4.8-.7 -5.2-.2 -5.3,.2 -5.4,.1 -4.8-.1 -4.9-.6 -4.3-.2 -4.4,.5 -4,.8 -4.4,.3 -4.4-.2 -4.7-.3 -4.6,.2 -4.8,.1 -4.6,.1 -5.1,.3 -5,.1 -4.8,.5 -4.1,0 -4-.6 -3.7-.8 -4.4-1 -4.3-.8 -5-.9 -4.4-.7 -5,.1 -4.9,.1 -5,.1 -4.9,0 -4.5,.1 -4.6,.4 -4.4,.3 -4.5,0 -4.1-.4 -4-.5 -4.2-.8 -4.7-.5 -4.6-.7 -4.6-.3 -4.5-.4 -4.8-.8 -5.3,0 -5.4,.8 -5.1,1.3 -4.5,1.1 -4.1,1.3 -4.2,1.5 -4.2,1.3 -4.4,.2 -4.8-.1 -4.9-.4 -5.1-.3 -4.4,.3 -4.3,0 -4-.1 -4.2-.8 -4.5-.9 -4.7-.7 -5.4-.4 -5,.7 -4.9,.5 -4,0 -3.8-.4 -3.9-.3 -4.4,.2"/>
<path d="M823.5,559.6l-4.6-.4 -4.4-.6 -4.7-.7 -4.3-.2 -5.1,.1 -4.7,.3 -4.8,.2 -4.5,.2 -4.5,.1 -4.2,.3 -4.1,.6 -4,.4 -4.4,.2 -3.9,.2 -4.3,.3 -4.9,.2 -5.2-.4 -4.5-.2 -3.8-.1 -4.1,.6 -5.1,.3 -5.3,.1 -5.1,.1 -4.6,.2 -4.5,.5 -4.5,.5 -4.6,.5 -4.9,.6 -5,0 -4.9-.1 -4.7-.2 -4.9,.2 -4.9,.5 -4.8,.4 -4.5,.1 -4.5,.2 -4.2,.2 -4.4,.1 -4,0 -4.4,0 -3.9,0 -4.5-.5 -3.8-.4 -4.3-.7 -4-.2 -4.5-.2 -4.5,.2 -4.3,0 -4.5,.3 -4.5,.1 -4.8,.2 -4.5-.3 -4.5,.1 -4.3,.3 -4.2,.5 -4.4,.3 -4.5,.2 -4.7,.1 -4.5,.2 -4.6,.2 -4.3,.1 -4.8,.2 -4.2-.2 -4.7-.2 -4.5-.3 -4.7,.1 -4.1,.3 -4.2,.5 -4,.1 -4,.2 -3.8-.1 -4.1-.2 -4.5-.5 -4.7-.7 -4.6-.5 -4.7-.4 -4.5,.1 -4.6,.2 -4.3-.1 -4.3-.4 -4.3,.1 -4.3,1.1 -4.4,.6 -4.7-.5 -5-.8 -5-.3 -4.9,.1 -4.6-.4 -4.4-.7 -4.4-.4 -4.6-.2 -4.9,.1 -4.9-.3 -4.7,0 -4.4-.2 -4.1,.3 -4.5-.1 -4.7,.5 -4.6,.5 -4.5,.5 -4.3-.2 -4.7-.4 -4.7,.3 -5,0 -5-.8 -4.8-1.6 -5-1 -5.2-.1 -5.1,.4 -4.5,.8 -4.2,0 -4.5,0 -4.5-.4 -4.3,0 -4.3,.7 -4.2,.7 -4.6,.9 -4.5,.3 -5,.8 -5,.8"/>
<path d="M823.5,559.6l-5.2,.2 -5.4,.2 -5.2-.1 -5.2-.3 -4.9-.2 -5-.2 -4.8,.1 -5.1,.1 -5.3,.1 -5.4,0 -5.1-.1 -4.7-.1 -4.3-.1 -4.1-.1 -4.7-.1 -4.9,0 -4.8-.1 -4.6-.2 -4.3,0 -4.5,.5 -4.7,.6 -4.6,.3 -4.9-.1 -5,0 -4.9,0 -4.9,.2 -4.5,0 -4.5,0 -4.5,.1 -4.9,.2 -5.1-.1 -4.8-.1 -4.7-.2 -4.6,.1 -4.7,.3 -5,.3 -5.5,.1 -5.8,0 -5.6,.1 -5.1,.3 -5.3,.3 -5.4,.3 -5.9,.3 -5.5,.4 -5.5,.4 -5,.2 -4.8-.2 -4.6-.3 -4.9-.4 -5,.1 -5.1,.4 -5.2,.6 -5.1,.4 -5-.1 -4.8,.7 -5,.4 -5.1,.8 -4.8,.6 -4.9,.8 -5.2,.5 -5.5,.4 -5.5,0 -5.2,.6 -5.4,.4 -5.1,.8 -5.1,.9 -5.4,.8 -5.7,.1 -5.6-.5 -5.3-.8 -5.5-.4 -5.7-.3 -6,.5 -5.3,.6 -5.4,.5 -5.1-.3 -5.7-.4 -5.5,.2 -5.1,.7 -4.3,1.1 -4.6,.5 -4.7,.2 -5.1,.1 -4.9,.4 -5.1,.6 -5.1,.2 -4.9,.3 -5,.3 -4.9,.8 -4.8,.6 -4.1,.2 -4.1,.4 -4.4,.7 -4.8,.8 -5,.4 -5.1,.6 -4.8,.3 -4.8,.1 -5.1-.6 -5.5,0 -5.8-.2 -5.6,.2 -5.5,.2 -5.3,.6 -5.2,0 -5.3-.4 -5.1-.2 -5.5,0 -5.3-.6 -5.2-1.2 -4.4-.5 -5.1,.1 -4.9,.5 -5.4-.1 -5,0 -5.2,0 -5.2,.5 -4.9,.2 -4.8,.1 -4.4-.3"/>
<path d="M823.5,559.6l-4.9-1.4 -5-.9 -5.3-.7 -5.3,1 -5.4,.6 -5.3,.5 -5.1-.1 -5.1-.5 -5.4-.5 -5.3-1 -5.3-.9 -4.7-1 -4.6-.6 -4.3-.3 -4.2,.1 -4.1,.4 -4.1,.7 -4.8,.9 -5.3,.5 -5.2,.5 -5,.2 -4.8-.1 -5.1-.2 -5-.4 -4.9-.3 -4.8-.2 -5.2,0 -5.2,0 -5.4,.2 -5.4,.1 -6.1,.8 -6.2,1 -5.5,1.2 -5.2,.4 -5.1-.1 -5.2-.4 -5-.5 -5.1-.3 -5.4-.5 -5.6-.6 -5.7-.7 -5.5-.5 -5.2-.1 -4.6,.1 -4.3,.5 -4.5,.4 -5.2,.9 -5.4,.6 -5.7,1 -5.2,.4 -5.3,.3 -5.3-.3 -5.2-.5 -5.3-.4 -5.4-.1 -5.9,.1 -5.3,.3 -4.9,.2 -4.8,.5 -5.4,.5 -5.7,.6 -5.9,.4 -5.6,.6 -5.3,.4 -4.9,.7 -5.1-.1 -4.6-.5 -4.6-1.4 -4.2-.6 -4.8-.5 -5-.1 -5.3-.1 -5.1-.1 -5.1,.4 -5.1,.6 -5.5,1.3 -5.4,1.7 -5.4,1.8 -5.5,1 -5.5,.2 -5.2-1 -4.5-.9 -4.5-1.1 -4.2-.3 -4.4,.1 -4.7,.3 -4.8,0 -5-.1 -4.4-.4 -5.2-.1 -5.5-.1 -5.3,.3 -5.3,.5 -4.8,.2 -5.1-.3 -4.5-.7 -5.1-.8 -4.8-.2 -4.7-.5 -4.3,.2 -4.7-.2 -4.9,.1 -5.3-.2 -5.7-.1 -5.7-.5 -4.9,.8 -4.4,.7 -4.4,.7 -4.9-.4 -5.3-.8 -5-.7 -4.9-.4 -4.6-.4 -4.2,.3 -4.5-.3 -4.7,.4 -5.5,.1 -5.9,.1 -5.7-.1 -5.2-.1"/>
<path d="M823.5,559.6l-5.2-.3 -4.8-.7 -4.4-.8 -5.2-.1 -5.6,.1 -5.8-.1 -5,.1 -4.7,0 -4.6,.2 -4.8,.2 -5.2,.2 -5.2,.3 -4.9,.4 -5,.3 -5.2,.2 -5.7,.4 -5.6,.5 -5.4,.8 -5.7,.4 -5.3,.4 -5.2,.2 -5,.5 -5.2,.6 -5.6,.5 -5.4,0 -4.7-.3 -4.5-.5 -4.7-.5 -5-.5 -5.1-.2 -4.9,0 -5.3,.4 -5.3,.4 -5.4,.4 -5,.6 -4.5,1 -5.1,1.5 -5.3,1.2 -5.6,.4 -5,0 -4.9-.2 -4.6,.2 -4.7,.1 -4.7,0 -4.8-.4 -5-.4 -5.1-.4 -5.2,.1 -5.3,.6 -5.3,.6 -5.2,0 -5-.4 -5.4-.6 -5-.7 -5.1-.7 -4.6-.1 -5.3-.2 -5.2,.4 -5.4,.7 -5.1,.8 -5.2,.7 -5.3,.7 -5.3,1.1 -5.5,.7 -5.6,.4 -5.6,.7 -5.1,.9 -4.8,1 -4.9,.2 -5.2,.3 -5.3,0 -5.2,.6 -4.8,.4 -5.4,.8 -5.7,.6 -5.6,.3 -5.2-.1 -4.6,.3 -4.9,.9 -5.1,1.1 -5,.6 -5.3,.5 -5,.9 -5.4,.6 -4.5,0 -4.5,0 -4.1-.3 -4.3,0 -4.3-.5 -4.7-.2 -4.9-.4 -5.1,0 -5.1,0 -5,.4 -5,.1 -5.2,.5 -5.1,.3 -5.2,.3 -4.9,0 -5-.1 -4.8-.1 -4.8-.5 -4.6-.1 -4.6-.5 -4.7-.3 -5.2-.5 -5.3-.5 -5.4-.1 -5,0 -5.4,.2 -5.3-.1 -5.5-.1 -4.9,.4 -4.8,.9 -4.4,.3 -4.6,.2 -4.4-.8 -4.6-.2 -4.5-.7 -4.7-.3"/>
<path d="M823.5,559.6l-4.3,2.1 -4,2.7 -3.6,2.8 -3.7,.5 -3.7,.3 -3.6,.2 -3.4-.1 -3.5-.2 -3.6-.4 -3.7-.4 -3-.4 -3-.2 -2.6,.2 -3.7,.1 -3.3,.1 -3.4-.2 -3.1-.1 -3.9-.7 -3.9-.7 -3.9-.7 -4-.2 -4.2-.1 -3.8,.3 -3.9,.3 -4,.5 -4.3,.4 -4,.6 -3.5,.5 -2.9,0 -3,0 -3,.1 -3.3,.3 -3.2,.4 -3.1,.5 -3.4,.6 -3.4,.2 -3.3-.1 -3.6-.3 -3.7-.6 -4.3-.8 -4.1-1 -4.1-1.4 -3.6-1.2 -3.8-1 -3.4-.5 -3.8-.2 -3.2-.1 -3.4-.1 -3.1-.2 -3.6,.1 -3.6,.5 -3.9,.6 -3.6,.7 -3.6,.8 -3.9,1 -3.5,.7 -3.5,.4 -3.6,.3 -3.8,.6 -3.5,.9 -3.3,.6 -3.6,.9 -4,.5 -3.5,.5 -3.4,.2 -3.1,.2 -3.3,.5 -3.2-.2 -3.1-.3 -3.5-.9 -3.7-.6 -4-.7 -4.3-1.1 -4.3-.9 -3.9-.4 -3.9,.1 -4.1,.4 -4.5,.4 -4.1,.3 -4.2,.2 -3.9,.3 -3.4,.6 -2.4,.6 -2.5,.3 -3.4,.2 -4.1,.8 -3.8,.4 -3.3-.1 -3.4-.7 -3.6-.6 -3.8,0 -3.8,0 -4.3,.2 -3.6-.3 -3.6,0 -3.3-.2 -3.3,.5 -2.8,.1 -2.9,.2 -3.1-.2 -3.5-.1 -3.1,.5 -3.3,.5 -3.5,.5 -4.2,.1 -4.1,.1 -3.5,.1 -3.2,.1 -3,.1 -3.2,.1 -3,.2 -3.3,.3 -3.4,.7 -3.4,.6 -3.6-.1 -3.3-.5 -3.2,.1 -3,1.1 -3.3,.9 -3.4,0"/>
<path d="M823.5,559.6l-4.8-1.4 -5.5-1.3 -5.6-.8 -4.8,.5 -4.6,.5 -4.9,.6 -5.3,.5 -5.2,.3 -5.2,0 -4.9-.1 -5-.3 -4.3-.2 -4.5-.4 -4.2-.3 -4.8,0 -4.8,0 -5,.1 -4.9,.2 -4.9,.1 -4.9,.2 -4.9-.1 -5.3,.2 -5,.1 -5.2,.4 -4.7,.6 -4.8,.8 -4.7,.6 -4.6,.2 -4.2-.2 -3.9-.1 -4.5-.3 -4.6-.5 -5.1-.4 -4.4-.5 -4.6-.4 -4.2-.5 -4.7,0 -4.4,.2 -4.3,.6 -4.4,.6 -4.8,.3 -4.9,.1 -4.6,.1 -4.7,.1 -4.6-.1 -4.9,0 -4.7,.6 -5,1 -4.6,.7 -5,.3 -4.7,0 -4.7,0 -4-.5 -3.9-.4 -4.1-.4 -4.6,0 -4.5-.4 -4.8-.3 -4.5-.2 -4.4,.4 -4.4,.7 -4.3,.6 -4.6,.1 -5-.2 -5.2-.2 -5.1,.2 -4.7,.5 -5.1,.3 -4.8,.1 -4.6,.1 -4.6,.4 -4.7,.5 -4.4,.2 -4.1-.3 -4.1-.1 -4.4,.4 -4.4,.7 -4.7,.8 -4.6,.1 -4.8,0 -4.6-.3 -4.5,.1 -4.9,.1 -5.1-.2 -5-.3 -4.6,.1 -4.7-.4 -4.8-.6 -5-.9 -4.8-.2 -5-.2 -4.7-.2 -4.7-.6 -5.1-.7 -5.1-.2 -5.5,.1 -5-.1 -4.9-.3 -4.8,.2 -4.6-.1 -4.6-.2 -5.1-.1 -5.6,1.2 -6,.5 -5.2,.3 -4.9-.5 -4.5,0 -4.7-.4 -4.2-.2 -3.7-.2 -3.9,.5 -4.1,1.1 -4.7,.7 -4.7,.5 -4.7,.1 -4.5,.8 -4.5,.9 -4.8,.5 -4.6,.4 -4.1,.6"/>
<path d="M823.5,559.6l-4.7,.7 -4.7,.6 -5,.6 -4.7,.1 -5.4,.1 -4.9,0 -4.5,.3 -4.2,.1 -4.8,.4 -5.1,.2 -5.1,.3 -4.7,.2 -4.9,0 -5,.2 -5.1,.1 -5,.5 -5.1,.3 -4.8,.2 -4.7-.1 -5-.4 -5.3-.1 -5.3,.1 -5.3,.2 -5.5,0 -5.4,0 -5-.1 -4.8-.1 -5.2-.2 -5.3,0 -5.4,.1 -4.7,.4 -4.5,.7 -4.8,.7 -5.4,.8 -5.9,.4 -5,.3 -4.4,.2 -4.3,.1 -4.6,.2 -5-.2 -5.5-.3 -5.9-.3 -5.7,.2 -5,.1 -4.5,.2 -4.9,.2 -5.4,.8 -5.2,.3 -4.9,.2 -4.2,0 -4.6,.2 -4.8,.5 -5,.4 -5.4,.2 -4.9-.2 -5,.1 -4.6-.1 -4.7,.1 -4.5-.5 -3.9-.4 -4.2,.3 -4.3,.3 -4.9,.5 -4.8,.4 -4.7,.2 -5,0 -4.9-.4 -5.3-.1 -5.8,.3 -6,.5 -6.2,.6 -5.6,.7 -5.6,.2 -5,0 -5.3-.1 -4.9,.2 -5.5,.5 -5.6,.4 -5.6,.1 -5.2-.3 -5-.1 -5.5,.3 -5.4,.5 -5.1,.1 -5,.1 -5-.1 -6.1,.5 -5.7,.5 -6.1,.7 -5.3,.1 -5.5-.3 -5.2,.3 -5,.5 -5.1,.8 -5.1-.1 -5.8,.1 -5.7,.2 -5.3-.2 -4.9-.3 -4.5-.6 -4.9-.4 -5,.5 -5.4,.8 -5,.5 -5,.1 -5.4,0 -6.4,.5 -6.4,.2 -6.1,.7 -5.6,.5 -5.4,.7 -5.5,.4 -5.5,.2 -5.5,0 -5.1-.8 -5-1.1 -5-.8 -5.1,0 -5.1,.6 -5.1,.6"/>
<path d="M823.5,559.6l-4.8,.7 -5.1,.9 -5.1,.8 -5.2,.5 -5.2,.5 -5.1,.2 -5,.2 -4.9-.1 -5.3,.1 -5.8,0 -5.6,0 -5.5-.2 -5.2-.3 -5.7-.3 -5.7,0 -5.5,.2 -5,.4 -5,.1 -5.1,.4 -5.4,.4 -5.3,.3 -4.9,.2 -4.4,.3 -4.3,.6 -4.9,.3 -5.2,.1 -5.3-.1 -4.8-.4 -4.5,0 -4.2-.2 -4.4,.1 -4.6-.3 -5.1-.1 -5.5,0 -5.5,.4 -5.2,.4 -4.7,.2 -4.3-.1 -4.4,.2 -5.1,0 -5.2-.1 -5.5-.2 -5.2-.2 -5.4-.1 -5.6,0 -5.6-.1 -5.2-.1 -5,0 -4.8,.8 -5.1,.7 -4.9,.7 -4.9,.5 -5,.3 -4.6,.1 -5-.3 -5.1-.1 -5.4,0 -5.5,0 -5.6-.1 -5.6,.1 -5.1,.7 -5,.4 -4.5,.2 -5.2,.6 -5,.4 -5.2,.6 -4.8-.1 -4.7,0 -5.1,.1 -4.9,.2 -4.7,0 -4.3,.2 -4.2,.1 -4.5,.3 -4.7,.1 -5.1,.7 -5,.6 -5,.9 -5,.1 -5.3-.2 -5.5-.5 -5.4-.1 -5.2,.5 -4.7,.5 -4.9,.6 -4.9,.8 -5.2,.9 -5.3,.4 -5.5-.4 -5.6-.7 -5-.5 -4.8-.1 -4.5,.4 -4.7,.5 -4.6-.1 -4.9-.4 -5.1-.2 -4.7,.1 -5.1,.1 -5.2,.4 -5.6,.6 -5.1,.5 -4.6,.2 -4.9-.3 -4.8-.5 -5.6-.1 -5.1,.9 -5.5,1.7 -5.1,1.3 -4.9,.1 -4.7-.5 -4.9-.2 -5.9-.1 -5.9-.3 -6-.5 -5.1-.2 -5,.3 -4.8-.1 -5,.3 -5.2,.6"/>
<path d="M823.5,559.6l-4.5,2.8 -4.6,3.2 -4.2,3 -4.5,.2 -4.4-.4 -4.6-.5 -4.7-.6 -4.4-.7 -4.1-.5 -3.9-.3 -4.5-.1 -5.1,.2 -4.9,.5 -4.9,.8 -4.5,.9 -4.8,.7 -4.6,.7 -4.5,.3 -4.6,.2 -4.7,0 -5-.1 -4.5-.2 -4.1-.4 -4-.5 -4-.7 -4.2-.6 -4.6-.3 -5.3,.2 -4.9,.4 -4.7,.8 -4,1.1 -4,.9 -4.4,1.1 -5,.8 -5.3,.6 -4.9,.1 -4.2-.3 -4.3-.2 -5-.5 -4.9-.7 -5.1-.9 -5-.8 -5-.9 -4.7-.2 -4.5,0 -4.5,.6 -4.9,.1 -4.8,.4 -4.5,.6 -4,.6 -4.3,.4 -4.6,0 -5-.1 -5.3-.1 -6.3-.1 -5.6-.6 -5.3-1 -3.7-1.4 -4.1-1 -4.2-.4 -4.7,.2 -4.5,.3 -5.1,.5 -5.5,0 -5.6-.3 -5.3-.4 -4.8-.2 -4.7,.2 -4.6,.1 -4.5-.1 -4.5-.5 -4.6-.8 -4.8-.8 -4.6-.4 -5.1-.3 -4.3-.1 -4.5,.1 -4.3,0 -5.2,.3 -4.7-.2 -4.4,.4 -4.2,.2 -4.6,.5 -4.4,.5 -4.3,.6 -4,.2 -3.6,0 -4-.2 -4.1,.1 -4.6-.2 -4.9-.6 -4.9-.6 -5.1-.3 -5.3-.1 -5.4-.5 -5.5-.5 -4.9-.4 -5.2,0 -5-.1 -5,0 -4.4,.3 -4.3,.1 -4.4,.9 -5.1-.2 -5.2-.2 -5-1.3 -4.7-1.1 -4.7-1.2 -4.7-1.4 -4.8-1.2 -4.9-1.2 -5.1-.3 -5,.1 -4.6,.3 -4.3,.6 -4.6,.4 -5.3,0 -5.1-.2 -5-.4 -4.7-.5"/>
<path d="M823.5,559.6l-4.6-.1 -5.1,.2 -5.7,.1 -5.8,0 -5.1-.2 -4.3,.1 -4.1,.3 -4.3,.4 -4.9,.3 -4.9,0 -5-.5 -4.4-.5 -4.4-.3 -4.6,0 -5,.2 -4.6,.4 -4.7,.4 -4.8,.6 -4.9,.5 -4.4,.2 -3.8-.1 -4.1,0 -4.4-.1 -4.4-.2 -4.2-.3 -4.4,.3 -5,.2 -4.6,0 -4.5-.5 -3.8-.2 -4.1,.5 -3.9,.7 -4.3,.4 -4.5,.1 -4.4,.2 -4.4,0 -4.1,.1 -5-.1 -5.4,.2 -5.7,.6 -5.2,.6 -5.5,1 -5.1,.6 -4.7,.6 -4.3,0 -4.3-.2 -4.7-.1 -4.5-.4 -5,0 -4.7,.2 -4.8,.9 -5,.9 -5.3,.4 -5.9-.1 -5.7,.1 -5.6,.2 -4.8,.1 -4.6-.4 -4.5-.3 -4.2,.4 -4.5,.8 -4.5,.4 -4.6,.1 -3.9-.4 -4.2,0 -4.4-.4 -4.8-.1 -4.3,0 -4.6,.1 -4.4-.1 -4.7,.3 -4.7,.7 -5.1,.8 -4.8,.4 -5.2,.1 -4.7,.3 -4.4,.3 -4,.7 -4.4,.4 -5,.2 -4.6,0 -4.2,.2 -4.1,.4 -4.2,.5 -4.9,.2 -4.8-.3 -4.8-.6 -4.8,0 -4.9,.2 -5.4,.4 -5-.5 -4.5-.5 -4.1-1 -4.4-.1 -5.1,.4 -5.4,1.1 -5.5,.9 -4.9,.5 -4.7,.4 -4.3,.1 -4.6,.5 -4.6,.1 -4.6-.2 -4-.5 -4.2-.2 -4.4-.1 -5.4,0 -5.3-.1 -5.1,.2 -4.7,.8 -4.9,.8 -4.9,.8 -4.7-.2 -4.8-.5 -5-.4 -5.2-.7 -4.7,.2 -4.8,.6 -4.6,1 -5,.3"/>
<path d="M823.5,559.6l-4.4-1.4 -4-1.4 -3.9-1.2 -3.9,.6 -4.1,.7 -4.2,.7 -4.4,.7 -4.6,.7 -4.8,.6 -4.4,.1 -4.7-.1 -4.4,.1 -5.3,.3 -4.9,.4 -4.9,.2 -4.5,.2 -4.5,.3 -4.4,.2 -4.3,.1 -4.5-.2 -4.9-.3 -4.6,0 -4.5,0 -4.6,.3 -4.5,.2 -4,.4 -3.8,.3 -4,.3 -4.4,.2 -4.4,.4 -4.6,.6 -4.6,.7 -4.7,.4 -4.5,.3 -4.6,.5 -4.7,.4 -5.3,.2 -5-.1 -4.6,.3 -4.3,.3 -4.8,.3 -4.8,.1 -4.8,0 -4.7,0 -4.4-.4 -4.1-.7 -3.9-.5 -4.2-.2 -4.3,0 -4.6,0 -4.5,.1 -4.6,0 -4.2,.1 -4.7,0 -4.9-.3 -4.9-.6 -4.4-.5 -4.4-.2 -4.5-.3 -4.7,0 -5,.5 -5,.4 -4.6,0 -4.7-.5 -4.7,.1 -5.4-.1 -5.3,0 -5.5-.5 -5.1-.4 -5.1,0 -4.4-.1 -4.5,.5 -4,.7 -4.5,.4 -4.3,0 -4.5-.1 -4.4,.2 -4.8-.3 -4.6-.2 -4.7,0 -4.8,.1 -4.5-.2 -4.4-.2 -3.9,0 -3.8,.2 -3.7,0 -3.5-.1 -4.3,0 -4.5,.2 -5.3,.2 -5.4-.1 -5.3-.3 -5.1-.5 -4.4-.5 -4.6-.2 -4.4-.1 -4.6,.3 -4.8,0 -5.1,.5 -5,.1 -4.7,.3 -4.4,.1 -4.1,.7 -3.8,.4 -3.8,.1 -4.2,0 -4.3,.1 -4.2,.4 -4.1,.2 -4.3,.1 -4.7-.8 -5.3-.8 -5-1 -5.2-.8 -4.5-.7 -4.7,.2 -4.4,.5 -4.8,.2 -4.7,.3 -4.7,.7"/>
<path d="M823.5,559.6l-4,.4 -3.5,.7 -3.5,1 -3.6,.6 -3.8,.5 -3.2,.4 -2.9,0 -2.6-.1 -2.8-.2 -2.8-.2 -3.1-.3 -2.9-.5 -3.4-.3 -3.5-.4 -3.7-.3 -3.7-.3 -3.9-.2 -4.1,.1 -4,.2 -3.7,.2 -3.8-.1 -3.6,.1 -3.6,.1 -3.5,.5 -3.6,.3 -3,.2 -2.8,.2 -2.4,.1 -2.4,.1 -2.5,0 -2.9,0 -3.2,0 -3.2,.1 -3.6,.4 -3.5,.3 -3.1,.1 -2.7-.5 -3-.7 -3.8-.8 -3.6-.9 -3.5-.7 -3.6-.3 -3.5,.5 -3.1,.2 -2.5,.1 -3.3-.4 -3.7-.2 -3.9,0 -3.2,0 -3,.4 -3.4,.1 -3.3,.2 -3.2,.3 -3,.3 -3.4,.3 -4-.2 -4-.1 -3.9-.2 -3.5-.1 -3.5-.7 -3.5-.5 -3.1-.2 -3,.3 -3.1,.4 -3.2-.1 -3.5,.1 -3.7,.3 -4,.5 -3.7,.6 -3.3,.1 -3.3,.5 -3.3-.1 -3.3,.1 -3.5,0 -3.2,.3 -3.3-.4 -3.7-.7 -4-.7 -4-.5 -3.6-.3 -3.4,0 -3.4,.6 -3.3,.3 -3.6-.1 -4-.2 -4.5,.1 -4.7,.3 -4.3,.8 -3.8,.7 -3.9,.7 -3.7,.2 -4.1,.1 -3.6,.1 -3.4,0 -3-.2 -3.1-1 -3.8-.9 -4-.5 -3.7-.1 -3.6-.5 -3.5-.3 -3.8,0 -3.6-.5 -3.4-.3 -3.4,.3 -3.4,1 -3.8,.3 -3.6-.4 -3.7-.3 -3.7,.2 -3.7-.1 -3.4-.4 -3.2-.4 -3.4-.3 -3.3,.5 -3.2,.1 -2.8,.8 -3,.3 -3,.3 -3.3-.4"/>
<path d="M823.5,559.6l-4.3,.2 -3.9,0 -3.8-.2 -3.7,0 -4.2,0 -4.3-.3 -4.3-.2 -4.5-.2 -4.7,0 -4.7,0 -4.7,.2 -4.3-.1 -4.1,.2 -3.9-.1 -4.1-.1 -4.3,0 -4.3,.3 -4.3,.7 -4.5,.5 -4.1,.4 -3.9,.1 -3.6-.2 -3.7-.1 -3.7-.1 -3.2,0 -3.2,.3 -3.6,.3 -4.4,.7 -4.4,.2 -4.3,.4 -4,.1 -4.2,0 -4.3-.1 -3.9,.1 -3.9,.5 -3.4,.6 -4.1,.3 -3.6,0 -4.1-.2 -4.1,.3 -4.3,.2 -4.2,.5 -4,.4 -4,.4 -4.4,.4 -4.1,.1 -4,.4 -3.9,.1 -4.5,.3 -5,.3 -4.6,.3 -4.1,.3 -3.8,.5 -4.1,.9 -4.4,.7 -4.4,.1 -4.1,.2 -3.8,.5 -3.9,.4 -4,0 -3.9,.1 -3.8-.4 -3.8-.5 -3.8-.6 -4.2,0 -4.2,0 -4.7-.3 -4.5-.6 -4.6-.5 -3.8,0 -3.3,0 -2.7,.1 -3.4-.2 -3.7,0 -3.8,.3 -3.6,.4 -3.9,.2 -3.3,.4 -3,.3 -2.9,.5 -3.8-.3 -4.3-1.2 -3.8-1.4 -4.4-.7 -4.6-.4 -4.6,0 -4,0 -3.7,.1 -3.7-.3 -3.7-.6 -4.3-.5 -4.5-.4 -4.6-.7 -4.5-.6 -4.6-.4 -4.1,.4 -3.6,.5 -3.4,.7 -4.2,.2 -4.5,.2 -4.6,.1 -4.3-.2 -4.3-.4 -4.3-.3 -4,0 -3.8,.4 -4.1,.3 -4.3-.3 -4.7-.9 -4.3-1.5 -4.3-.8 -3.8-.3 -3.9-.1 -4,.2 -4.1-.2 -3.4,.4 -3.4,.2 -3.8-.1 -4.2,.2 -4.2,.5"/>
<path d="M823.5,559.6l-4.2,.6 -4.6,.7 -4.4,.8 -4.6,.3 -4.3,.4 -4.8,.2 -5.1,.4 -5.2,.2 -4.9,.1 -4.4-.1 -4.6-.3 -4.9-.2 -4.7-.1 -4.6,.1 -4.9,.2 -4.6,.3 -5,.2 -4.6,.1 -4.5,.6 -4.5,.5 -4.5,.5 -4.9,0 -4.7,0 -4.8-.2 -4.3-.1 -4.7-.2 -4.1,.1 -4,.1 -3.6,.2 -4.1,0 -4.8,.1 -4.8-.1 -4.7,0 -3.9-.1 -4-.1 -4.5-.4 -4.9-.1 -5,.2 -4.9,.7 -5.1,.3 -5,.2 -4.4-.4 -4.9,.2 -5,.2 -4.9,.6 -4.2,.3 -4.1,.5 -4.3,.4 -4.1,.5 -4.4,.3 -4.9,.4 -5.2,.8 -4.9,.8 -4.6,.4 -4.1-.1 -4.1,0 -4.2,.3 -4.3,.6 -4.1,.4 -4.1,0 -4.2,0 -3.7,.1 -3.8,.1 -4.4-.1 -5.1-.1 -4.9,.1 -5,0 -4.9-.1 -4.9-.4 -4.4-.9 -4.4-1 -4.6-.3 -4.9,.1 -4.6,.5 -4.3-.2 -4.4-.2 -4.5-.3 -4.8,.1 -4.3,.3 -4.4,.5 -4.6,.3 -5.4,.4 -5-.2 -4.6-.4 -4.4-.9 -4-.1 -4.9,.4 -4.5,.6 -5.2,0 -5.1-.3 -5.2,0 -4.8,.7 -4.5,.4 -4.2,.3 -4.2-.2 -4.4,.7 -5,.9 -5.2,1.4 -5.4,1 -4.8,.4 -4.6,.2 -4.7,.4 -5.2,0 -5.4-.2 -5.2-.7 -5.1-.1 -4.9-.8 -4.7-.8 -4.1-.6 -3.9-.3 -4-.2 -4.4-.7 -4.9-.1 -5,.5 -4.9,.3 -4.9-.4 -4.8-.8 -4.5-.2 -3.9-.1 -3.4-.6"/>
<path d="M823.5,559.6l-5-2 -4.6-2.1 -4.3-1.9 -4.4,.2 -4.9,.4 -5.3,.4 -5.2,.8 -4.9,.5 -4.7,.6 -4.3,.2 -4.3,.4 -4.6,.3 -4.3,.1 -4.7-.2 -4.6-.3 -4.7-.4 -5-.4 -4.9-.3 -4.8-.2 -4.3-.1 -4.2-.1 -4.5,.2 -4.7,0 -4.6,.2 -5.2-.1 -4.9,0 -5.3,0 -4.7,.5 -5,.8 -5.2,.4 -5.3,.3 -5.3,.2 -5.1,.3 -5.1,0 -5.5-.2 -5.7-.3 -5.3-.2 -5-.3 -4.6-.2 -4.9,0 -4.8,.2 -4.7,0 -4.1-.1 -4-.1 -3.7-.3 -4.5,.2 -4.8-.2 -5.3,.4 -4.4,.6 -4.5,.6 -4.6,.5 -5,0 -5.2,.1 -4.8,0 -4.3,0 -4.2,.2 -4.8,0 -4.9-.2 -5.2-.6 -4.6-.6 -4.8-.3 -4.3,.2 -4.8,.3 -4.8,.1 -4.9-.4 -5.1-.1 -4.6,.1 -4.7,.4 -4.2,.4 -4.4,.8 -4.7,.9 -4.5,.5 -4.5,0 -4.5-.1 -4.8,0 -5.3,.2 -5.1-.2 -5-.1 -4.9-.4 -4.5,.5 -4.1,.5 -4,.5 -4.5-.3 -4.8-.4 -5.2-.1 -4.9,0 -5.2-.3 -5-.7 -5.5-.5 -4.9-.2 -5,.3 -4.8,.2 -4.8,0 -4.2,0 -4.4,.6 -4.7,.5 -5.4,.6 -5,.1 -4.9,.3 -4.8-.5 -5.1-.7 -5.4-1 -5.2-.3 -4.9-.6 -4.5,.1 -4.4,.3 -4.8,.5 -5.3,.3 -5.7,.4 -5.6,.3 -5.2,.1 -4.7,0 -4.3,.8 -4.2,.4 -4.5,.7 -4.4,.1 -4.2,.5 -3.7,.2 -4.2-.2 -4.6-.5"/>
<path d="M823.5,559.6l-3.4,.1 -3.7,0 -3.6,0 -3.4-.3 -3.3-.2 -3.2-.3 -3.4-.3 -3.1-.1 -3.4-.2 -2.7,0 -2.7-.1 -2.3,.1 -3,.1 -3.3,.2 -3.7,.3 -3.7,.4 -3.6,.5 -2.9,.1 -3-.1 -3-.3 -3.2-.1 -3.1-.1 -3.3,.3 -3,.2 -2.8,.3 -2.9,.1 -3.1,.2 -3.2,0 -3.1,.1 -3.6,.1 -3.9-.2 -4-.1 -3.5-.1 -3.7,.1 -3.7,.1 -3.6,.6 -3.3,.7 -3.1,.6 -3.5,.2 -3.7,.1 -3.6,.2 -3.3,.2 -3,.2 -3.5,0 -3.8-.1 -3.6-.4 -3.3-.3 -2.8,0 -3.4,.3 -3.6,.2 -3.8,.1 -2.9,0 -2.8,.2 -2.7-.1 -2.9,.2 -2.9,.1 -2.7,.7 -3.1-.1 -3.1-.1 -3.8-.3 -3.3,0 -3.6,.3 -3.3,.4 -3.5,.6 -2.9-.1 -2.7-.1 -2.8-.2 -3.6,.4 -3.8,0 -3.8-.1 -2.9-.2 -2.8-.4 -3.1-.2 -3.4-.4 -3.4-.1 -3.4-.3 -3.8-.1 -3.6,.3 -3.8,.3 -3.4,.2 -3.5-.4 -3.7,.1 -3,.4 -2.9,.8 -2.7,.5 -3.1,.1 -3.2-.3 -3.2-.6 -3.4,0 -3.7,.1 -3.8,.3 -3.9-.6 -3.8-.3 -3.7-.8 -3.9-.3 -3.7-.3 -3.8,0 -3.4,0 -3.9-.5 -3.6-.3 -3.2,0 -2.8,.7 -2.8,.6 -3.2,.7 -3.3,.6 -3.1,0 -3-.2 -2.7-.4 -2.7,.1 -2.5,.5 -2.7,.5 -2.7-.2 -3.2-.9 -3-.6 -3.2-.2 -2.7,.4 -3,.6 -3.1,1 -3.4,.6 -3.5,0"/>
<path d="M823.5,559.6l-3.6,.5 -4.1,.6 -4.8,.8 -4.9,.5 -5,.4 -4.8,.1 -5.2,.1 -5,0 -4.3,.4 -4.2,.3 -4.6,.1 -5.2-.2 -5.2-.3 -5.2-.2 -4.9,.1 -4.9,0 -4.8,0 -4.8,0 -4.9-.2 -4.8,0 -4.7-.1 -4.2,.1 -4.3,.2 -4.7,.6 -4.9,.6 -4.9,.6 -4.5,.1 -4.6,.2 -4.4,.2 -4.3,.4 -4.3,0 -4.7-.1 -4.8,.3 -4.8,.4 -4.6,.4 -4.9-.1 -5.2,0 -5.5-.1 -5.3,.1 -5,0 -4.8,.2 -4.6,.2 -4.8,0 -4.5-.2 -4.8-.3 -4.6,0 -5,0 -5,.2 -4.8-.2 -4.4,0 -4.5,.4 -4.8,.8 -4.9,.9 -4.2,.4 -4.5,.4 -4.5-.2 -5,0 -4.8-.2 -4.9,.3 -4.7,.4 -4.7,.7 -4.4,.1 -4.6-.1 -4.2-.3 -4.3-.1 -4.4,.3 -5,.5 -5.5,.9 -5.8,.5 -5.5,.7 -5.4,.2 -5,1 -4.6,.6 -4.7,.9 -4.6-.3 -4.4-.4 -4.8-.9 -4.9-.7 -5.3-.9 -5-1.1 -4.9-.7 -4.8-.6 -4.6,.2 -4.4,.6 -4.3,1.4 -4.3,.9 -4.8,.9 -4.9,.3 -5,.2 -4.6,0 -4.6-.2 -4,.1 -4.5,0 -4.4,.2 -5.3,.5 -4.8,.4 -4.9,.4 -4.3,.4 -4.5,.6 -4.7,1 -5.1,.5 -5.3,0 -5.2,0 -4.9,.4 -4.5,.8 -4.3-.4 -3.3-.5 -3.8-.8 -4.2,0 -4.6-.2 -5-.2 -5-1.1 -5.4-.8 -5-.8 -4.7,.2 -4.7,.3 -4.8,.5 -5.2,.3 -5,0 -4.8-.1"/>
<path d="M823.5,559.6l-3.4,.3 -3.2,.3 -2.9,.2 -2.8-.1 -3.3,0 -3.5,.1 -3.6,.2 -3.3,0 -3.2,0 -3.5,0 -3.3-.1 -3.5-.2 -3.3-.3 -3.4,.2 -2.9,.3 -3,.5 -3.2,.3 -3.2,.1 -3.7-.4 -3.9-.1 -3.8-.2 -3.5-.1 -3.6,0 -4.1,.5 -3.6,.6 -3,.3 -2.6,0 -3.2-.2 -3.8-.2 -3.7-.4 -3.5-.2 -3-.1 -2.9,.1 -2.7-.2 -2.3-.2 -2.3-.2 -2,0 -2.9,.2 -3.5,.5 -4.1,.8 -3.7,.5 -3.8,.6 -3.6-.1 -3.4-.1 -3.3-.4 -3.6-.1 -3.9,.3 -3.4,.5 -3.3,.2 -3.1-.2 -3.3-.4 -3.6-.1 -3.6-.4 -3.7-.8 -3.4-.5 -3.5,0 -3.4,.6 -3.3,.3 -2.8,.1 -2.7,.4 -3.3,.6 -3.7,.6 -4.3,.6 -4.3,.3 -4.2,.6 -3.2,.3 -2.5,.5 -2.7,.3 -3.3,.5 -3.6,.6 -3.7,.3 -3.2,.2 -3.3-.2 -3.7-.2 -4.1-.1 -4.6,.3 -4,.5 -4.3,.5 -4.2-.2 -4.2-.4 -3.8-.6 -3.3,.1 -3.4,.4 -3.2,.4 -3.1,.2 -3.2,0 -3.4-.2 -3.2-.1 -3.4,.2 -3.4,.2 -3.5,.1 -3.1,.2 -3,.8 -3,.6 -3.2,.4 -3.5,.5 -3.8,.1 -3.9,.7 -3.6,.1 -3.7,.2 -3-.2 -2.9-.5 -2.5,.3 -2.6-.1 -2.6,.7 -2.9-.3 -3.3,.1 -3.7,.1 -3.4,.6 -3.7,.6 -2.8,.1 -3.7,0 -3.4-.2 -3.8-.6 -3.1-1.4 -3.2-1.3 -3.5-.8 -3.6-.2 -3.3-.2 -2.7,.1"/>
<path d="M823.5,559.6l-3.6-.9 -3.7-.4 -3.6-.4 -3.6,.1 -3.4,.1 -3.5,.1 -3.3,.1 -3-.3 -2.8-.4 -3-.4 -3-.4 -3.1-.1 -3.3-.3 -3.2,.1 -3,.3 -2.8,.5 -3.4,.4 -3.5,.4 -3.1,.7 -3.1,1 -3.2,.8 -3.7,.5 -3.3,.3 -3.6,.3 -3.6,0 -3.9-.1 -3.5-.1 -3.7,0 -3.9,0 -3.8,0 -3.7-.2 -3.4,.1 -3.6,.4 -3.2,1 -3.5,1.2 -3.4,1.2 -3.3,.6 -3.4,0 -3-.4 -3.2-.5 -3-.4 -3.3-.4 -3.8-.1 -3.9-.1 -3.8,0 -3.4,0 -3.4,.2 -3.2,.3 -3,.2 -3.3-.2 -2.8-.1 -2.8,.2 -2.7,.1 -3.3,0 -3.6,.1 -3.7,0 -3.8,.2 -3.4-.2 -3.3,.1 -3.3,.1 -3.4,.2 -3.2,.3 -3.3-.3 -3.6-.4 -4.4-.6 -3.8-.4 -3.7-.3 -3.1-.2 -3.2-.3 -3.2-.3 -3.3-.1 -3.9,.5 -3.5,.7 -3,1.1 -3,.8 -2.8,.7 -3.6,.2 -3.4-.3 -3.7-.3 -3.3-.1 -3.4,0 -3.3-.3 -3.5-.6 -3.5-1 -4-.6 -4.2-.6 -4.4,.1 -4.3-.9 -3.9-.7 -3.4-.4 -3,.1 -3.4,.5 -4,.3 -4.4,.4 -4.4,.3 -4,0 -3.7-.5 -3-.2 -2.7-.3 -2.3-.2 -3.3-.1 -3.9-.1 -4.4,.5 -4,.2 -3.8-.3 -3.7-.4 -3.4,.6 -3.4,.6 -3.2,.4 -3.1-.5 -3.4,.1 -3.4-.3 -3.6,.3 -3.1-.1 -3.7,.6 -3.6,.4 -3.7,.6 -3.4,.4 -3.5-.1 -3.7-.5"/>
<path d="M823.5,559.6l-4.9,.8 -4.2,.6 -4.3,.6 -3.9,.2 -4.3,.3 -4,.3 -4.1,.4 -4.5,.4 -4.4,.6 -4.6,.7 -4.9,.1 -5.1-.2 -5.1-.5 -4.4-.4 -3.9-.7 -4.3-.6 -4.6-.4 -4.6-.6 -4.7-.4 -5-.1 -4.8,.2 -4.3,.7 -3.8,.7 -4.3,1.1 -4.5,.5 -4.9,.4 -4.7-.1 -4.7-.3 -4.6-.6 -4.9-.4 -5.2-.6 -5.2-.2 -5.1-.4 -4.8-.1 -4.8-.1 -5,.4 -5.3,.7 -5.3,.8 -5.4,.4 -5.1,.2 -4.8,.1 -4.9,.1 -4.9,0 -5.2-.1 -4.7,.3 -4.8,.2 -4.8,.3 -5.2-.4 -5.4-.4 -5.2-.8 -4.9-.3 -4.2,.3 -4.1,.4 -4,.5 -4.7,.5 -4.9,.6 -4.6,1 -4.5,.8 -4.5,1.3 -4.5,.7 -4.5,0 -4.3-.6 -4.7-.4 -4.3-.1 -4-.1 -4.1-.2 -4.6,0 -4.6,.4 -4.5,.6 -4.5,.4 -4.2-.1 -4.2,.2 -4.3,0 -4.8-.1 -4.6-.9 -4.1-.4 -4.2-.2 -4.9-.1 -5.2-.5 -4.6,0 -4.3,.1 -4.6,.2 -4.7-.1 -4.7-.2 -4.2-.4 -4.3,0 -4.8,.4 -4.9,.5 -5,.6 -4.7,1.1 -4.6,1.3 -4.9,.9 -5,.1 -5.2-.4 -4.2-.8 -3.7-.9 -4.1-.5 -4.7-.6 -4.6-.4 -4.5-.3 -4.6,.3 -4.7,1.3 -4.3,1.6 -4.3,1.8 -4.7,.7 -5,.2 -4.8-.1 -4.7-.1 -4.5-.4 -4.6-.8 -4.4-1 -4.4-.7 -4.6-.2 -4.5-.1 -4.7-.3 -4.4-.3 -4.7,.3 -3.8,0 -4.1-.4 -3.9-1.3"/>
<path d="M823.5,559.6l-4.3-.3 -3.9-.4 -3.3-.2 -3.7-.2 -3.7-.2 -3.9-.5 -3.9-.4 -3.8-.4 -3.7-.4 -3.4-.4 -3.6-.2 -3.9-.2 -3.4-.3 -3.4,0 -3,.2 -3.2,.4 -3.1,.3 -3.5,.5 -3.8,.3 -3.7,.1 -3.2-.1 -3.8,.1 -3.7-.1 -4.3-.2 -3.8-.5 -4-.5 -4-.3 -3.6,.1 -3.1,.1 -2.9,0 -3.4,0 -4.2-.1 -4,.1 -4.1-.3 -3.8,0 -3.9-.1 -3.5-.5 -3.2-.4 -3-.4 -3.2-.1 -3.3-.3 -3.7-.1 -4-.1 -4.1,.3 -3.8,0 -3.4,.2 -3.2,.2 -3.1-.4 -3.3-.7 -3.4-.7 -3.6-.2 -3.6-.1 -3.6-.3 -3.7-.1 -3.7-.7 -3.2-.8 -3-1.2 -3.5-.5 -4-.3 -4.2,.2 -3.5,.2 -3.5,.3 -4,0 -4.1-.1 -3.6-.4 -3,0 -3.1,.5 -3.5,1 -3.9,.7 -4,.2 -3.8,.1 -3.5,.4 -3.9,.6 -3.9,.6 -4.1,.1 -3.6,.4 -3.9-.1 -3.6,.2 -3.5,0 -3,0 -3.3-.3 -3.5-.6 -3.5-.2 -3.4-.2 -2.7,.1 -3.2-.2 -2.8,.3 -3.1,.1 -3.2-.1 -4.1-.1 -4.4-.2 -4,0 -3.6-.1 -3.2-.7 -3.5-1 -4.1-1.2 -4.4-.5 -4.2,.2 -4,.5 -4,.5 -3.9-.1 -3.7,.1 -3.3,.3 -3.3,.7 -3.3-.1 -3.5-.3 -3.4,.1 -3.4,1.1 -4,.7 -4.1,.5 -4.5-.1 -4.2,0 -4.6-.1 -4.5,.6 -4.2,.7 -3.3,.2 -3.4-.7 -3.4-.8 -3.7,.1 -3.7,1.1"/>
<path d="M823.5,559.6l-3.6,1.3 -3.7,1.8 -4.2,2.4 -4.6,.6 -4.3,.4 -4.5,.3 -4.3,.1 -4.9,.3 -4-.1 -4.2-.3 -3.9-.5 -4.2-.6 -4.3-.8 -4.4-1 -4.9-.8 -4.7-.6 -5.2-.2 -4.8,0 -5.2,.2 -4.8,.3 -5.4,.3 -5.2,.4 -5.4,.7 -5.6,.9 -5,1.1 -5.1,.9 -4.3,.7 -4.5,.7 -4.3,.7 -4.5,.5 -4.8,.5 -4.7,0 -4.1-.1 -4.1-.5 -4.2-.2 -4.7-.1 -4.2-.2 -4.2-.3 -3.9-.2 -4.5-.5 -4.2-.1 -4.5,0 -4.1,.3 -4.4,.1 -4.5,.2 -4.6,.5 -4.9,.7 -4.8,.6 -4.9,.6 -4.9,.3 -5,.4 -4.7-.1 -4.6-.2 -4.5-.4 -4.5-.7 -4.5-.7 -4.5-.5 -5-.6 -4.7-.4 -4.5-.4 -4.6-.3 -4.3-.2 -4.3-.3 -4.4,.1 -4.6,.4 -4.5,.7 -4.6,.4 -4.7-.1 -4.4-.1 -4.8,.3 -4.8,.4 -4.7,.7 -4.1,.9 -4.7,.8 -5,.3 -5.2-.1 -5-.1 -4.9-.1 -4.8,.2 -4.5,.1 -4.6,.1 -4.2,0 -4.4-.5 -4.8-1 -4.8-.8 -5-.7 -4.6-.4 -4.5,0 -4.3,.5 -4.3,.8 -4.1,.5 -4.6,0 -5-.4 -5.3-.8 -4.2-.5 -4,.2 -4.3,1 -4.8,.9 -4.8,.7 -4,.6 -3.5,.1 -3.3-.5 -3.5-.6 -3.4,.4 -3.9,.7 -4.2,.1 -4.7-.6 -4.6-.6 -4.1,0 -4.2,0 -4.5,.3 -5.1,.1 -4.8,0 -4.4-.6 -4-.2 -4.2,.3 -3.9,.8 -3.6,.3 -3.6-.4 -3.7-.9"/>
<path d="M823.5,559.6l-4.5-.8 -4.2-.4 -4.5-.1 -3.8,.4 -3.7,0 -3.8-.1 -4.3-.2 -4.6,0 -4.3-.2 -3.9-.2 -4.2-.3 -4.2-.1 -4.7-.2 -4.2,0 -3.8,0 -4,.3 -4.1,.4 -4.7,.6 -5,.4 -4.6,0 -4.3-.3 -3.9-.4 -4.1-.5 -4.5-.8 -4.6-.7 -4.9-.7 -4.7-.2 -5.1-.2 -5.3,.1 -5.5,.2 -5.1,.3 -4.5,.5 -4.2,.5 -4.4,.5 -5,.1 -5.1,.1 -4.8,0 -4.6,.1 -4.2-.1 -4.8-.4 -4.3-.3 -4.8-.4 -4.4-.1 -4.2,.1 -3.6,.3 -4,.4 -3.9,.2 -4.3,.1 -4.2,.2 -4,.4 -4.7,.5 -4.9,.1 -5.3-.1 -4.7,0 -4.7,.3 -4.5,.2 -4.8,.4 -4.9,.4 -4.5,.2 -4.6,.1 -3.8-.1 -4.2,0 -4.2,0 -4.4-.1 -4-.2 -4,.2 -4,.5 -4.1,.4 -3.7-.4 -4.1-.3 -4.2-.4 -4,.5 -4.2,.1 -4.3,.5 -4.7,.3 -4.8,.3 -5.3,.4 -4.8,.3 -4.4,.2 -3.8,.1 -3.9-.2 -3.9-.2 -3.6-.4 -4.2-.2 -3.8,.2 -3.7-.7 -3.7-1 -4.2-1.2 -4.5-.3 -4.6,.2 -4.5-.1 -4.2,.2 -3.4,.3 -3.8,.8 -4.2,1.2 -5,.6 -5.2,.9 -4.5,.4 -4.5,.8 -4.2,.2 -5,.1 -4.6-.4 -4.5,.1 -4.1-.2 -4.3,.2 -4.5-.3 -4.5-.6 -4.5-.5 -4.6-.4 -4.7,.2 -4.8-.4 -4.5,.4 -4.5,.9 -4.1,2.1 -4.2,1.6 -4.4,.8 -4.9-.4 -4.3-.4 -3.9,.2 -3.5,.6"/>
<path d="M823.5,559.6l-5.6-.7 -5.6-.7 -5.7-.4 -5,.4 -4.6,.6 -4.2,.6 -4.9,.2 -4.9,.2 -5,.2 -5.3,.2 -5.4,.3 -5.3,.3 -5.5,.5 -5.6,.4 -5.7,.1 -5.3,0 -4.9,.1 -4.7,.2 -5.2,.4 -5.3,.1 -5.3-.1 -5-.2 -5.2,.2 -5.2,.2 -4.4,.5 -4.4,.3 -4.7,.6 -5.3,.4 -4.9,.2 -4.5,0 -4.8,0 -5.3,.2 -5.6,0 -5.1,.4 -5.2,.4 -5,.5 -4.9,.3 -4.9,.2 -4.9,.4 -4.8,.4 -5.6,.5 -5.7,.3 -5.8,0 -5.3-.5 -5.1-.2 -5.3-.5 -5.2-.4 -5-.4 -5-.1 -4.9,.2 -5,.2 -5.1,.2 -5.2,.3 -5.4,.2 -4.9,.4 -5.3,.3 -5.1,.3 -5.6,.5 -5.2,.4 -5.1,.5 -5.2,.1 -5.6-.1 -5.8-.3 -5.1,.1 -4.9,.4 -4.9,.3 -5.4-.5 -5.4-.5 -5.4-.5 -5.1-.1 -5.5-.3 -5.3,.2 -5,.4 -4.4,.6 -4.5,.7 -4.9,.9 -4.8,.5 -5-.1 -5.4-.6 -5.3-.6 -6-.4 -5.9,0 -6,0 -5.3,.4 -4.5,.5 -4.6,.4 -4.6-.1 -5.1-.3 -5,.1 -4.6,.5 -4.1,.6 -4,.4 -4.2,.5 -4.3,.4 -4.9,0 -5-.3 -4.7-.3 -4.5-.3 -4.2-.2 -4.8-.1 -4.9,0 -5.4,0 -5.6,.2 -4.8,.8 -4.8,1 -4.3,.7 -4.9-.6 -5.2-.6 -5.6-.3 -5,.5 -4.9,.1 -4.7,.9 -4.7,.6 -4.3,.7 -4.4,.1 -5,.7 -5.4,.1 -4.9-.3 -4.7-.6 -4.5,.3"/>
<path d="M823.5,559.6l-5.6-1.4 -5.1-1.5 -4.7-1.2 -4.3,.2 -4.8,.4 -5.3,.2 -5.5,.2 -5.5,.3 -5.5,.4 -5.5,.3 -5.3,.5 -5.1,.4 -5,.2 -4.9-.1 -5.1-.3 -4.9-.4 -4.9-.4 -4.6-.4 -4.9-.2 -5.1-.4 -5.3-.3 -5.1-.3 -5.2,.1 -5.2,0 -5.4,.2 -5.4,.4 -5.3,.5 -5,.3 -4.7,.2 -4.5,.2 -5.8,0 -5.7,.1 -5.9-.1 -4.7,.1 -4.7-.2 -4.5,0 -4.4-.1 -4.5,.2 -4.1-.4 -4-.1 -3.9-.5 -4.5-.3 -5.2-.4 -5.3-.1 -4.8,.3 -4.9,.4 -4.9,.4 -4.7,.1 -4.5-.1 -4.6-.4 -4.7-.5 -4.5-.2 -4.2,.1 -4.3,.4 -4.2,.4 -4.6,.2 -5.2,.2 -5.1,.2 -5.2,.1 -4.9-.2 -5.1-.3 -4.4-.2 -4.3,.1 -4.6,.2 -4.8,.1 -5,0 -4.5,.4 -4.9,.1 -4.9,.2 -5.7,.2 -5.2,.4 -4.8,.2 -4.2,.4 -4,.4 -4.7,.3 -5.2,.3 -5.3,.2 -5.4-.1 -5.1-.7 -4.7-.6 -4.4-.8 -4.4-.6 -4.8-1 -5.1-.2 -5.1,.1 -4.6,.4 -4-.5 -4-1.1 -4.5-1 -5.1-.6 -4.7,.1 -5,.1 -5.3-.4 -5.8-.7 -5.8-1.1 -5.4-.4 -5.3-.6 -4.9-.6 -4.6-.6 -4.8-.3 -5.2-.1 -5.7,.1 -5.4-.3 -5-.6 -4.7-1.2 -4.9-.5 -5.1-.2 -4.7,.8 -4.5,.5 -4,.5 -4,.6 -4.1,.8 -4.2,.9 -4.4-.1 -4.6-.6 -4.5-.1 -4.7-.2 -4.6,.9 -4.4,.4 -4.5,.6"/>
<path d="M823.5,559.6l-4.3,.4 -4.9,.6 -4.8,.7 -4.9,.3 -4.6,.1 -4.6-.1 -4-.2 -4.4-.5 -4.6-.1 -5-.2 -4.6,0 -5,0 -5,0 -4.9,.1 -5.2,.2 -5.2,.2 -5.1,.3 -4.5,0 -4.3,.1 -4.6,.1 -4.7,.4 -5,.4 -4.6,.2 -4.5,.2 -5,.1 -5.5,.1 -5.6,.3 -5.2,.1 -4.6,.3 -4.4,0 -4.4,.1 -4.8-.1 -5.4,.2 -5.4,.2 -5.6,.2 -5.3,.1 -5.2-.2 -4.7,.1 -4.9,.2 -4.7,.6 -5,.6 -4.8,.6 -4.4,.4 -4.3,.1 -4.2-.1 -4.5-.1 -4.6-.3 -4.8,0 -5.2,.2 -5.3,.4 -4.9,.3 -4.9,.3 -4.8,.3 -5,.3 -5.4,.4 -5.2,.5 -5.3,.9 -4.8,.8 -4.6-.1 -4.6-.6 -4.3-.8 -4.4,.1 -4.1,.4 -4.3,.7 -4.3,.5 -4.7,.2 -4.8,.3 -4.6,.1 -4.7,.2 -5.4,0 -5.7-.6 -5.3-1.2 -4.6-.9 -4.4-.2 -4.6,.1 -4.9,.3 -5,.3 -4.6,.7 -4.4,.3 -4.2,.9 -4.5,.7 -4.3,1.1 -4.5,.5 -4.4,.1 -4.9-.1 -5.4-.5 -5.8-.8 -5.7-.7 -5-.5 -4.2-.1 -3.9,.3 -4.2,.5 -4.5,.3 -4.7-.2 -4.8-.5 -4.7-.3 -5.5-.7 -5.7-.3 -6.1-.5 -5.7,.2 -5.3,.1 -5.2-.2 -5.7,.1 -5.4,.4 -5.1,.7 -4.5,.7 -4.4,.6 -4.4,.3 -4.5-.5 -4.4-.7 -4.5-.6 -4.6,0 -5.2,.6 -5,.4 -5.5,.9 -4.9,.5 -5.7,1 -5.4,.3 -5.5,.5 -5.1,.5"/>
<path d="M823.5,559.6l-5.9,.3 -5.4,.1 -4.7,.2 -4.8,.3 -5,.3 -5.7,.4 -5.6,.4 -5.7,.5 -5.7,.6 -5.8,.2 -5.4,.1 -5.1,0 -4.8,.1 -5.4,.2 -5.6,.2 -5.7,.2 -4.8,0 -4.7,.1 -4.8,0 -5,0 -5.3-.2 -5.2,0 -5.6,.3 -5.5,.4 -5.3,.4 -5.4,.4 -5.1,.8 -5.6,.5 -5.1,.5 -4.8,0 -4.3,.3 -4.8-.1 -5.3,.1 -5.5,0 -5.3,0 -5-.1 -5.3-.1 -5.1,.1 -5.4,.3 -5.1,.2 -5.6,.4 -5.2-.1 -4.8,.1 -4.4,0 -4.8,.3 -5.4,.7 -5.2,.6 -5.1,.7 -4.5,.3 -4.8,0 -4.6-.1 -4.6-.5 -4.9-.1 -5,.1 -5.3,0 -5.2-.2 -5.4-.4 -5.2-.2 -5.4,.2 -5.4,0 -5.7,.5 -6.3,.1 -6,.1 -6.1-.6 -5.6-.6 -5.4-.2 -5.1,.4 -4.9,.3 -5.1,.1 -5-.1 -4.9,.4 -5.2,1.1 -5.2,.8 -4.8,.6 -4.6,.1 -4.7,.1 -4.8-.2 -4.7-1 -5.1-.5 -5.6-.3 -5.3,.3 -5.1-.1 -4.5,.3 -4.5,.2 -4.3,.5 -4.8,.3 -4.6-.1 -4.9,.1 -5.3,.2 -5.7,.5 -5.8,.1 -5.4,.4 -5.8,.7 -5.5,1 -6.1,.2 -5.7,0 -5.7-.2 -4.9,0 -4.7-.3 -4.4-.1 -5.1-.1 -5.2,.5 -5.4,.5 -5.1,.6 -5.3-.3 -4.9,.1 -4.7,.5 -4.2,.7 -4.6-.2 -4.5-.6 -4.1-.4 -4.5,.2 -4.6,.5 -5,.5 -4.5-.5 -4.2-.6 -4.6-.2 -4.9,.4 -5.2,.5 -5.1,.3"/>
<path d="M823.5,559.6l-4.3,.5 -4.8,.8 -4.9,.8 -5.3-.8 -5.1-.9 -5.1-.8 -4.8-.5 -4.9-.4 -4.8-.1 -4.6-.2 -4.6,.1 -4.4,.2 -4,.3 -4.7,.3 -4.3,.2 -4.7-.2 -4.4-.4 -4.7-.3 -4.7-.4 -4.5-.5 -4.9-.5 -5-.4 -4.5-.2 -4.3,0 -3.9,.4 -4.3,.8 -4.5,.7 -4.9,.2 -5.2,0 -4.8-.5 -4.6,.1 -4.4-.4 -4.3-.2 -4.4-.5 -4.5-.4 -4.6-.7 -4.5-.4 -5.1-.4 -5.6,0 -5.6,.1 -4.6,.6 -4.5,.8 -4.3,.6 -4.8,.2 -4.3-.2 -4.2,.2 -3.8,.3 -4,.4 -4.5,0 -4.8-.5 -4.8-.1 -4.8,0 -4.5,.5 -4.8,.4 -4.8,.7 -4.8,.8 -4.7,.6 -4.7,.4 -4.5,.3 -4.7,.4 -4.2,.4 -4.7,0 -4.6,0 -4.8-.2 -4.4-.6 -4.2-1 -3.9-.7 -3.7-.3 -4.1,.3 -4.5,.4 -4.6,.5 -4.6,.7 -4.7,.7 -4.9,.5 -4.8-.2 -4.4-.7 -4.1-.9 -4-1.1 -4.3-1.1 -4.1-.8 -4.2-.4 -4.6-.1 -5.2-.1 -5.4-.5 -5-.4 -4.7-.3 -4.4-.1 -4.5,.4 -4.3,.5 -4.6,1 -4.6,.7 -4.8,.3 -4.7,.4 -4.9-.6 -4.9,0 -5-.3 -4.4,.8 -4.5,.4 -4.3,.1 -5.3-.5 -4.9,.1 -5.1-.3 -4.6,.2 -5-.7 -5-.5 -5.2-1.4 -5.3-1.5 -4.9-1.1 -5.1-.9 -5-.7 -5.2-.2 -4.7,.2 -4.5,.7 -4.9,.3 -4.9,.3 -5.4,.3 -4.7,.3 -4.9,.7 -4,.4 -4.3,.4"/>
<path d="M823.5,559.6l-4.8,1.3 -4.7,1.1 -4.2,1 -4.4-.5 -4.5-.6 -4.8-.5 -4.8-.1 -4.6-.2 -5,.1 -5.1-.1 -5.7,.2 -5.4,.4 -5.4,.7 -5.1,.5 -5,0 -4.6,0 -4.4,.1 -4.3,.1 -4.7,.2 -4.3,0 -4.6-.1 -4.9-.2 -5.2,0 -5.4,.2 -4.6,.7 -4.4,.7 -3.9,.4 -4.6-.2 -4.8,0 -5.1,.3 -5,.3 -4.9,.2 -5.7,0 -5.6-.3 -5.7-.8 -5.1-.9 -4.8-.7 -4.8-.4 -4.9-.3 -5.3,.2 -5.2,.3 -4.9,.8 -4.5,.6 -4.8,.6 -4.9,.2 -5.2,.4 -5.3,.1 -4.6,.1 -4.5-.4 -4.3-.2 -4.9-.2 -4.3-.2 -4.3-.2 -4-.5 -4.5-.3 -4.8-.2 -4.9,.3 -4.6,.1 -4.3,.2 -4.8-.1 -5.2-.1 -5.4-.7 -5.7-.8 -5.2-.8 -5.4-.2 -4.8-.1 -5.1,.1 -4.7-.1 -4.8,.3 -4.3,.7 -4.7,1.2 -5,1.1 -5.3,1 -5.1,.6 -4.7,.4 -4.7,.4 -4.6,0 -4.9,.1 -5.2,0 -5.5,0 -5.3-.9 -4.9-1.1 -4.9-.7 -5,0 -5.2,.3 -4.9,0 -5.1,.6 -4.6,.7 -4.8,.8 -4.6,.6 -4.9,.5 -5.3-.2 -5.2-.1 -5.4-.1 -4.7,.8 -5.3,.2 -5.1,.1 -5.3,0 -5-.4 -5-.5 -4.8-1 -5-.1 -4.9-.1 -5.5,.4 -5.4,.6 -5,.4 -5.1,.4 -5.2-.2 -5.6,.7 -5.1,.2 -4.9,0 -4.4-.5 -4.6,.3 -5.1,.8 -5.1,1.6 -4.8,1.3 -4.3,1.3 -4.3,.1 -4.3,0 -4,0"/>
<path d="M823.5,559.6l-2.6-.2 -2.4-.6 -2.8-1.1 -2.3-.4 -2.5-.2 -2.5,.2 -3,0 -2.7,.2 -2.2,.1 -2.3,.3 -2.5,.7 -2.6,.6 -2.3,.5 -2.5,.1 -2.7-.4 -3.1-.7 -3-.7 -2.6-.5 -2.6-.3 -2.5,0 -2.6,.2 -2.4,.3 -2.5,.2 -2.7,.6 -2.8,.5 -3,.3 -2.5-.1 -2.2-.1 -1.7-.2 -1.8-.1 -2,0 -2.4-.2 -2.4-.5 -2.7-.6 -2.6-.1 -2.9,.3 -2.4,1 -2.4,.8 -2.7,.8 -2.7,.2 -2.6,.3 -2.5,.3 -3.2,.2 -3.2-.1 -2.8,0 -2.3,0 -2.4,.1 -2.6,0 -2.8,.4 -3,.5 -3.3,.7 -2.9,.9 -2.2,.6 -1.8,.4 -1.7,.1 -2.2,.2 -2.7,0 -3.2,.1 -3.2-.3 -2.9-.8 -3.2-.9 -3-.7 -3.3-.2 -3,.4 -3.2,.7 -2.5,.5 -2.7,.2 -2.7-.3 -2.7,.2 -2.1-.1 -2.1-.2 -2.9-.6 -2.8-.7 -2.9-.2 -2.2-.1 -2.3-.1 -1.9,.1 -1.8,.6 -2.2,.4 -2.6,0 -3.2,0 -2.4,0 -2.4,0 -1.9-.8 -2.7-.7 -2.7-.9 -2.5-.4 -2.7-.6 -2.7,0 -2.7,.8 -2.3,1 -2.1,.7 -2.4,.3 -2.5,.6 -2.9,.4 -2.9,.3 -3.1-.3 -2.7-.8 -2.3-.5 -2.3-.2 -2.3,0 -2.3-.1 -2.7-.2 -3,.5 -3.2,.4 -3.3,.3 -3,0 -2.9,.1 -2.3,.5 -2.5,.1 -2.6,.1 -3.1-.5 -3.3,.4 -2.9,.2 -2.6,.5 -2.5,.3 -2.8,.4 -2.9,.1 -3-.1 -3.5-.3"/>
<path d="M823.5,559.6l-5.5-.3 -5.4-.1 -5.6-.1 -5.2,.1 -5.2-.1 -4.8-.1 -4.6-.2 -4.2,.1 -4.1-.1 -4.7,.3 -5.6,.2 -6.2,.4 -5.9,.4 -5.6,.4 -5.1,.3 -5,.1 -5,.3 -5,.2 -4.9,.2 -5,.1 -5.1-.1 -5.2,.3 -5.2,.4 -5.7,.9 -5.1,.6 -5.6,.5 -4.9,.1 -5.5,.3 -5,.4 -5.2,.5 -4.9,.2 -4.4,.1 -4.4,.4 -4.6,.6 -4.9,.6 -5-.2 -4.6,.1 -4.6,.3 -4.2,.5 -4.5,.2 -4.8-.1 -5.4,0 -5.9,.1 -5.7,.3 -5.5,.3 -4.7,.8 -4.7,.7 -4.9,.3 -5.2-.1 -5-.1 -4.4,.1 -4.8,.5 -5,.7 -5.5,.5 -5.1,.2 -5.2,.1 -5.2,.3 -4.9,.3 -4.7-.2 -4.7-.1 -5.3,0 -5.5,.3 -5.6,.1 -5.4-.1 -5.4,.5 -5.4,.3 -5,.2 -5-.5 -5.7-.1 -5.8,.6 -5.6,.3 -4.9,.2 -4.7,0 -4.6,.4 -4.9,.8 -5.2,.3 -5,.2 -4.6,.2 -4.3,.2 -4.6,.2 -4.6,.1 -5.3,.5 -5.4,.1 -5.7,.3 -5.1-.6 -5,0 -4.8-.3 -4.9-.4 -4.1-.5 -4.3-.3 -4.4,.3 -4.9,.5 -4.9,.1 -5-.2 -5.1-.4 -5.1,0 -4.5,.2 -4.7-.1 -4.7,.6 -5,.8 -4.6,.4 -4.7-.9 -5-1.1 -5.1-.4 -4.9,.1 -4.9,.3 -4.7-.2 -4.8,.5 -4.9,.1 -5.1,.8 -5.4,.1 -5.3,0 -5.3,.2 -4.6,.8 -5,1.1 -5.5,1.1 -5.9,.5 -5.9,.6 -5.5-.5 -5.8-.7"/>
<path d="M823.5,559.6l-4.6,.8 -4.2,.9 -4.4,.6 -4.1,.2 -4.4,0 -4.1-.2 -4-.3 -4-.3 -4.2,.1 -4,.2 -4,.6 -3.9,.4 -4.2,.7 -4.1,.3 -4.2,.5 -3.4,.3 -3.4,.4 -3.1,.2 -3.3,.5 -3.5,.3 -3.2-.1 -3.3-.3 -3.2-.3 -3.8-.2 -3.5-.1 -3.5,0 -3.6-.1 -4.1-.2 -4.5,0 -4.2,.6 -4.3,.4 -3.9,.1 -3.8-.3 -3.9-.4 -4.2-.1 -4.2,.3 -3.6,.3 -3.8,.1 -4.1,.2 -4.2,.3 -4,.3 -3.6,.4 -4.4,.1 -4-.2 -4.3-.5 -3.8,.1 -4.2,.2 -3.8-.4 -3.6-.7 -3.5-.8 -3.6-.2 -4.1-.1 -3.6,0 -3.6,.3 -3.7,.1 -3.6,0 -3.3,0 -3.4,.2 -3.9,.4 -4.1,0 -3.5-.5 -3.4-.9 -3.6-.9 -3.9-1 -3.7-.5 -3.5-.2 -2.9,.2 -2.9,0 -3.3-.5 -3.8-.5 -3.8-.2 -3.3-.2 -3.6-.2 -4.2-.3 -5-.2 -4.4-.7 -3.7-.5 -3.2-.1 -3.5,.7 -3.6,.4 -3.8,.5 -4,.4 -4.1,.5 -3.8,.4 -3.6-.1 -3.3-.5 -3.7-.5 -4.3-.3 -4.8,.8 -4.5,.6 -4.1,.2 -4.2-.6 -4.3-.7 -4.5-.1 -4.2,0 -3.8,.3 -3.9,.2 -3.9,.8 -4.3,.8 -4.3,1 -4.1-.4 -3.5-.6 -3.7-.5 -4.1,.7 -4.3,.5 -4.2,.2 -4.2,.6 -4.3,.6 -4.2,1.3 -4.6,.5 -4.3,.4 -4-.2 -3.5-.4 -3.6-.5 -3.4-.6 -3.9-.3 -3.8-.1 -4.5,.3 -4.3-.1 -4.3,.1"/>
<path d="M823.5,559.6l-4.2-1.8 -4.6-1.3 -4.6-.7 -4.8,.9 -4.6,.7 -4.6,.2 -4.5-.1 -4.1-.3 -4.1-.6 -3.9-.9 -4-1.2 -4-.8 -4.7-.5 -4.6,.2 -4.4,.5 -4,.9 -4.3,.8 -4.5,.7 -4.6,.5 -4.5,.3 -4.4,0 -4.5-.3 -4.5-.5 -4.1-.8 -4.7-.9 -5-.7 -5.2-.5 -4.4,.2 -4,.5 -3.9,1 -4,.6 -4.1,.7 -4.3,.5 -4,.4 -4.1-.4 -4-.4 -3.9-.7 -4.4-.7 -4.5-.8 -4.7-.5 -4-.1 -3.7,0 -4.2,.6 -3.8,.8 -4.3,1.1 -3.9,.9 -4.5,.3 -4.2-.5 -4.1-.8 -4.3-.9 -4.2-.8 -4.4-.8 -4.1-.7 -4.6-.2 -4.8-.1 -5.3,.3 -4.8,.3 -4.6,.4 -4,.3 -4.3,.1 -4.3,.2 -4.6-.4 -4.2-.2 -4.1-1.3 -4-1 -4-1.3 -4.6-.6 -4.2-.3 -4.5,.1 -3.9,.3 -4.3,0 -4.7-.3 -4.6-.2 -5,.4 -4.1,.1 -4.1-.3 -4.2-.9 -4.1-.8 -4.3-.9 -4.2-.7 -4.3-.7 -4.3,.2 -4.4,.6 -4.7,.7 -4.3,.8 -4.3,.7 -3.9,.8 -4.1,.4 -3.7,.4 -4.2-.2 -4.3-.4 -5,0 -5,.4 -4.7,.5 -4.1,.3 -3.6,.3 -4.2,.8 -4.2,.2 -4.8,.6 -4.4,.4 -4.8,.8 -4.6,.4 -4.7,.3 -4.3,0 -4.8,.3 -4.7,0 -4.8-.1 -3.7,0 -4.2,0 -4.5,0 -4.8-.2 -4.8-.1 -4.5-.7 -4.8,0 -5-.2 -4.7,.2 -4.6-.1 -4.1,.3 -4.3,0 -4.4-.5"/>
<path d="M823.5,559.6l-4.3-1.2 -4.8-1.8 -5.2-2.6 -5.4-.6 -4.6-.4 -4.3,.2 -4.5-.1 -5.2,.6 -5.5,.7 -5.2,1.2 -4.9,1 -4.7,.7 -4.8,.3 -4.4-.2 -4.3-.8 -4.6-.9 -5.2-1 -5-.7 -4.8-.1 -4.7,.2 -4.5,.7 -5.1,.9 -4.9,1.2 -5,1.1 -4.7,.5 -4.9,.4 -5.3,.4 -5.1,.2 -5.2-.1 -5.5-.1 -5.9-.3 -5.4-.4 -5.3-.5 -5.8-.2 -6.4,.2 -6.2,.5 -5.7,1 -5.5,1.1 -5.4,.8 -4.9,0 -4.6-.3 -4.4,0 -4.4,.2 -4.7,.2 -4.7-.2 -5-.4 -4.8-.5 -4.6-.2 -4.8-.3 -4.8,.1 -5.1,.5 -4.4,.7 -4.2,.9 -4,.6 -4.3,.4 -4.4,.1 -4.8-.2 -5.6-.2 -6.1-.3 -5.7-.4 -4.7-.6 -3.8-1.1 -3.2-.8 -4.1-.8 -4.8,.5 -5,.3 -4.6,.8 -4.1,.4 -4.3,.9 -5,.4 -5.3-.2 -4.7-.9 -4.4-1 -5-.8 -5-.3 -4.8-.3 -4.4-.3 -5.1-.2 -5.2,.8 -4.5,.9 -4.4,1.1 -4,.7 -4.3,1.1 -4.2,.6 -4.5,.6 -5.1-.1 -5.1-.1 -4.9-.8 -4.6-1.3 -4.5-1.6 -4.3-1.1 -4.6-.3 -4.8,1 -5.8,1 -5.4,1.2 -4.9,.3 -4.6,.4 -4.6,.9 -4.8,1.2 -5,.9 -5.2,.3 -5,.1 -4.8-.2 -4.6-.4 -4.8-.2 -4.7,.1 -4.3,.7 -4.7,.5 -5.1,1.2 -5.5,.7 -5.3,1.1 -5.5,1 -5.3,1.1 -5.4-.1 -4.4-.6 -4.2-.9 -4.4-.6 -5.3-.6 -5.2-.2 -4.6,.4"/>
<path d="M823.5,559.6l-4.8-1.3 -5.1-1.5 -5-1.5 -4.4-.4 -4.4-.4 -4.2-.5 -4.5-.4 -4.4-.6 -5-.7 -5-.6 -4.9-.6 -4.5-.6 -3.9-.2 -3.9,.1 -3.9,.4 -4.3,.5 -4.8,.5 -4.9,.6 -4.6,.4 -4.1,.5 -3.9,.5 -4.3,.4 -4.8,.5 -4.4,.6 -4.6,.2 -4.4,.2 -4.6-.2 -5,.3 -5.1,.2 -4.9,.4 -5,.4 -5,.1 -5.3,0 -4.9,0 -4.6,.4 -4.2,.1 -4,.4 -4.2,.2 -3.9,.1 -4.2-.1 -4.2-.1 -5.2,.3 -5.5,0 -5.2-.4 -5.2-.2 -4.9,.1 -5.1,.3 -5.1-.3 -5.1-.5 -5-.4 -5.1,.2 -4.8,.7 -4.8,.9 -4.7,.5 -4.9,.4 -4.5,.3 -4.4,.2 -4.7,0 -5.1,.4 -4.9,.5 -4.9,.5 -5,.5 -5.4,.3 -5.6,.2 -4.8-.1 -4.9-.1 -4.7-.7 -4.7-.8 -4.8-1.1 -4.6-.8 -5-.6 -4.9-.7 -5-.5 -4.8-.1 -4.6-.1 -4.7,.4 -5.1,.4 -5.2,.8 -5.2,1 -4.9,.6 -5.1,.7 -4.8,.4 -5,.8 -4.6,.5 -5,.3 -5,.1 -5.1,.2 -5.5,.1 -5.3,.2 -4.9,.3 -4.6,.1 -4.5-.2 -5.1-.5 -5-.3 -4.9,.2 -4.6,.4 -4.8,.6 -4.5,.3 -4.5-.5 -4.3-.7 -4.8-.3 -4.7,.6 -4.7,.8 -4.7,.8 -4.9,.8 -4.9,0 -5-.7 -4.6-1.4 -4.6-1.3 -4.2-.4 -4.5,.3 -4.5,.4 -4.5-.1 -4.5-.2 -4.3,.2 -4.4,.5 -4.8,.6 -4.8,.3 -5.2,.1 -5.5,.3"/>
<path d="M823.5,559.6l-2.6,1.3 -3,1.4 -3.1,1.3 -2.8-.2 -2.7-.4 -3-.3 -2.8-.3 -2.5-.4 -2.2-.3 -2.5-.1 -2.9,.1 -3,.1 -3.2,0 -3.1,.2 -3,.4 -2.8,.6 -2.8,.5 -2.8,.1 -3-.1 -3.1-.2 -3-.2 -2.5-.3 -2.7-.5 -3-.4 -3.3-.5 -2.9-.3 -2.9-.2 -2.7-.2 -3.2-.2 -2.9-.4 -3.2-.3 -3.1-.1 -3.3,.1 -3.2,.3 -2.7,0 -2.7,.2 -2.4,.2 -2.4,.6 -2.7,.5 -2.6,.3 -2.7-.1 -2.6,0 -2.9-.2 -3.2-.1 -3.1-.6 -2.9,0 -2.7,0 -2.7,.2 -2.9,.2 -2.7-.1 -2.9-.2 -3-.6 -3.1-.2 -3.2-.3 -3.5,0 -3,0 -2.9,.5 -2.7,.4 -3.3,.2 -2.4-.2 -1.9,0 -1.6,.1 -2.8,.6 -3.3,.8 -3.2,.5 -2.9,.4 -2.9-.1 -2.7-.3 -2.9-.6 -2.9-.9 -3.1-.5 -3-.6 -3-.2 -3-.2 -3,.1 -3.3-.3 -2.9,.3 -2.8,.1 -2.6,.7 -2.8,1 -3.1,1.4 -2.7,1.2 -2.8,.2 -2.3-.1 -2.4-.7 -2.6-.9 -2.7-1.3 -2.4-1.1 -2.6-.8 -3-.3 -3.6-.6 -3.1-1.2 -3-1.4 -2.9-.7 -3.1,.4 -2.6,.4 -2.5,0 -2.5-.3 -2.5,.4 -2.9,.2 -2.6,.5 -2.9,.2 -2.5,.6 -2.6,0 -2.5-.1 -2.3-.7 -2.4,.1 -2.7-.2 -3,.1 -2.8-.2 -2.2-.3 -2.4,.3 -2.6,.4 -3.4,1.2 -3,.6 -3.1,.7 -3.2,.1 -3.4,.6 -3.1,.9 -2.9,1.6"/>
<path d="M823.5,559.6l-3.2,.3 -3.7,.3 -4.1,.4 -4.2,.1 -3.9,.1 -4.1,.1 -4.1,.1 -4.3,.1 -3.8,.1 -3.7-.1 -3.9,.1 -4.4,.3 -4.8,.3 -4.2,.3 -4.2,.2 -3.8,.2 -4,.1 -3.6,.3 -3.5,.1 -3.5-.1 -4-.2 -4.1-.4 -4.2-.5 -3.4-.2 -3.9,.3 -4,.6 -4.3,.4 -3.7,.2 -3.4,.3 -4-.1 -4.5,.1 -4.7-.2 -4.1-.1 -3.8-.3 -4-.5 -4.3,0 -3.9,.2 -3.5,.3 -3.9,.3 -4.4,.2 -4.2,.3 -4.3,.1 -4.3,.3 -4.8,.4 -4.7,.2 -4.8-.2 -4.5-.4 -4.3-.3 -4,.2 -4.1,.6 -3.5,1 -3.5,.5 -3.4,.4 -4.1-.1 -4.3,.1 -4.3,0 -3.9-.1 -4.2-.5 -4.1-.6 -4.7-.2 -4.7-.3 -4.8-.3 -4.6-.6 -4.5-.1 -3.8,0 -4,.4 -4.2,.4 -4.4,.5 -3.6,0 -3.8-.2 -3.6-.3 -4.2,.4 -3.8,.6 -3.7,.8 -3.5,.4 -3.7,.4 -4.1,.5 -4,.5 -3.8,.6 -3.7,.1 -3.8-.1 -4.2-.6 -4.2-.1 -4.6-.3 -3.8,0 -3.9-.6 -3.6-.5 -4.4-.3 -4.1-.5 -4.1-.3 -4.2,0 -4.6,.4 -4.2,.1 -4.4-.1 -4.5-.1 -4.7,.1 -4.4-.2 -4.1,.2 -4.5,0 -4.3,.5 -4.3,.5 -4.2,.9 -3.9,.7 -3.8,.9 -3.6,.6 -3.7,.4 -3.9,.5 -4.5,.4 -4.5,.3 -4.7,.3 -4.6,.6 -4.6,.8 -4.3,.3 -4.1,.1 -3.8,.3 -3.4,.5 -3.7,.8 -4.2,.4 -4.6-.1 -4.3-.4"/>
<path d="M823.5,559.6l-2.3-.4 -2.8-.5 -3.1-.3 -2.9-.1 -2.5,0 -2.9-.3 -3.5-.2 -3.8-.1 -3.6,.2 -3.1,.3 -3,.5 -2.9,.2 -2.6,.3 -2.7,.2 -3,.1 -3.2,.2 -2.9,.2 -2.7,.2 -2.9,.1 -3.5,0 -3.5-.1 -3.5,.3 -2.8,.5 -2.5,.3 -2.8,.2 -3.5,.3 -3.5,.5 -3.7,.6 -3.3,.3 -4,.1 -3.6-.1 -3.1-.1 -2.5,.3 -2.7,0 -2.7,.3 -2.8-.2 -3.2,0 -2.9,.1 -3.1-.1 -3.1-.1 -3.2-.6 -3-.1 -2.6,.2 -2.8,.4 -3.1,.6 -2.8,.2 -2.8,.1 -2.7-.5 -2.9-.5 -3.5-.3 -3.4,0 -3.1,.2 -3,.3 -3.5,.4 -3.8-.1 -3.8-.4 -3.5-.8 -3.1-.4 -2.4-.2 -2.4,0 -2.7-.1 -2.9-.1 -3.2-.6 -3.2-.7 -3.1-.8 -3.2-.2 -3.1,.5 -3.2,.3 -3.2,0 -3.3-.1 -3.2,.6 -3.1,.9 -3.2,1.2 -3.7,.6 -3.5,.2 -3.7,.1 -3.2,0 -3.3-.3 -3-.1 -3.3,.4 -3.5,.1 -3.7-.3 -3.5-.6 -3-.5 -2.6-.1 -2.4,.3 -2.9,.5 -3.4-.2 -3.4,0 -3.5,0 -3.4,0 -3.2-.2 -3.3-.2 -3-.2 -3.2-.5 -3-.6 -3.3-.6 -3.1-.1 -3.3-.2 -3.1,0 -3.5-.1 -3.4-.1 -3.5-.1 -2.8,.5 -3,.5 -3,.1 -3.7,.4 -3.2,.1 -3.3,.4 -3.1,0 -3.2,.4 -2.5,.3 -2.2-.2 -2,.6 -2,1.2 -2,1.8 -2.3,1.2 -2.7,.8 -3,.2 -3.1,.2"/>
<path d="M823.5,559.6l-5.1,.1 -4.3,.1 -4.1,.2 -3.9,0 -4.3,.1 -4.3,.3 -4.4,.2 -4.5,.2 -5,0 -5.3-.3 -5.4-.3 -5-.1 -4.9,.2 -5.1,.3 -5.4,.3 -5.4,.4 -5.5,.1 -5.5,0 -5.6,.2 -5.1,.6 -5,.6 -4.5,.4 -4.6,.2 -4.3,0 -4.7-.2 -4.9-.2 -5.2-.1 -5,.1 -4.6,.2 -3.8,0 -3.8,0 -4.3,0 -4.5,0 -4.8-.2 -4.7-.2 -5-.6 -5.4-1 -5.7-1.2 -5.5-.9 -5.1-.3 -4.6-.2 -4.5-.2 -4.6-.4 -4.5-.3 -4.8-.4 -4.9-.2 -5.1-.2 -4.9,0 -4.3,.3 -4.6,0 -4.6-.2 -5,0 -4.3,.2 -4.7,.4 -4.7,.2 -5,.1 -5.1,.2 -5,.2 -4.8-.1 -4.5,.1 -4.3,.1 -4.4,.3 -4.2-.2 -4.8-.3 -4.7-.2 -4.8,.2 -4.5-.4 -4.5-.9 -5-.8 -5,.3 -4.9,.6 -4.6,.3 -4.5,0 -4.8,0 -4.9,0 -5.3,.1 -5.4,.2 -5.4,.4 -5.3-.3 -5-.1 -5.1,.1 -4.9,.9 -4.9,.3 -4.8,0 -5.4-.1 -5.1,.1 -5.2-.1 -4.8,0 -5.1,0 -5.1,0 -4.8-.2 -4.5,.4 -4.2,.5 -4,.5 -4.4,.2 -4.8,.1 -5.2-.2 -4.9,0 -4.1,0 -4.3-.4 -4.5-1 -4.9-1.5 -4.6-.7 -4.8-.2 -4.9,.6 -4.5,.8 -4.4,1 -4,.3 -4.4,.3 -4.5,.1 -4.4,.3 -4.2-.1 -4.3-.1 -5,.2 -5-.1 -4.9-.1 -4.3-.1 -4.4-.1 -4.4-.7 -4.6-1.4"/>
<path d="M823.5,559.6l-4.7,.3 -4.8,.2 -5.1,.2 -4.7,.3 -4.8,.3 -4.8,.5 -5,.4 -4.8,.4 -4.6,.6 -4.9,.1 -5.3,.2 -5.3-.1 -5-.1 -5.1-.4 -4.8-.4 -5.2-.3 -4.7-.2 -5.2-.2 -5-.1 -4.7,0 -4.5,0 -4.1,.1 -4.6,0 -4.9,.1 -4.9,0 -4.8,0 -4.6-.8 -4.8-.6 -4.7-.7 -4.8-.2 -4.8-.1 -4.9,.2 -5,.6 -5,.4 -4.7,.7 -4.8,.2 -4.6,.1 -4.8,0 -4.9,.3 -4.7,.4 -4.4-.2 -4.2-.4 -4.8-.4 -4.9,.3 -4.8,.3 -4.4,.1 -4.2,.2 -4.5,.3 -4.1,.5 -4.3,.5 -4.2,.4 -4.4,.1 -4.6-.2 -4.5-.2 -4.8-.3 -4.8-.2 -5.2-.1 -4.9,.1 -5.1,.1 -4.7-.4 -4.1,0 -4.2,.2 -3.9,.5 -4.6,0 -4.5-.3 -4.8-.1 -4.8-.1 -4.7-.2 -4.3-.4 -4.9-.4 -5.2-.1 -5.1,.5 -4.8,.4 -5.2,.6 -5.3,.4 -4.8,.8 -4.4,1 -4.4,.4 -4.7-.1 -4-.5 -4.1-.2 -3.9,.1 -4.6,.4 -4.4,.5 -4.6,.1 -4.7,.1 -5-.3 -4.7,.1 -4.9,.2 -4.9,.6 -5.1,.6 -4.7,.3 -5,0 -5.3-.6 -5-.7 -4.7-1.2 -4.8-.1 -5.2,0 -4.8,1.1 -4.7,.6 -4.7,.8 -4.9,1.1 -4.9,.7 -4.5,1 -4.4-.3 -3.9,.2 -3.7-.2 -4,.1 -4.1-.3 -3.6-.3 -4-.2 -4.5-.9 -5.1-1.7 -4.7-1.2 -4.8-.5 -5.5,.3 -5.2,0 -5.3,.1 -4.8,.5 -5,1"/>
<path d="M823.5,559.6l-4.3-.1 -4.4-.2 -5.1-.2 -5.3,.1 -5.6,.1 -5.5-.1 -5.1-.3 -4.9-.4 -4.3-.3 -4-.3 -3.8-.3 -4.5,.2 -5,.6 -4.9,.5 -4.6,.4 -4.5,.3 -4.5,.4 -4.4,.4 -4.3,.2 -4.5,.3 -4.6,.1 -4.7-.4 -4.8-.5 -4.6-.4 -4.8-.2 -4.7-.3 -4.2-.2 -4.7-.3 -4.6-.2 -4.6-.4 -3.6-.1 -4.1,.4 -4.3,1 -4.8,.3 -4.5-.1 -4.7-.7 -4.9-.4 -5.1-.3 -5,.4 -4.5,.5 -4.3,.3 -4.5-.3 -4.3-.5 -4.1,0 -3.8,.3 -4.1,.6 -4.3,.4 -4.9,.3 -4.6,.3 -4.6-.1 -4.5,.1 -4.7-.1 -4.4-.2 -3.8-.6 -4.1-1 -4.3-.3 -4.6-.5 -4.4,0 -4.1-.3 -3.9,.2 -4.4,.2 -4.6,.6 -4.7,1.2 -4.5,1.2 -4.6,.9 -4.6,.2 -4.6,.1 -4.7-.2 -4.6-.2 -4.7-.2 -4.7,0 -5.2-.3 -5,0 -4.9,.2 -4.4,.2 -4.6-.1 -4.9-.4 -4.9-.1 -5.5,0 -5.6,.6 -5.3,.7 -4.4,.9 -3.9,.6 -4.2,.2 -4.5-.4 -4.8-1 -4.8-.9 -4.4-.8 -4.6-.4 -4.3-.1 -4.6,.1 -4.6,.5 -5.1,.3 -5.6,.6 -5,.1 -5,.5 -4.2,.1 -4.3,.5 -4.2,.4 -4.4,.2 -4.8-.1 -4.7-.6 -4.7-.2 -4.6-.1 -4.4,.3 -3.9,.8 -3.5,.7 -4.2,1.1 -4.9,.7 -5.1,.6 -5.2-.8 -4.4-.8 -4.6-.6 -4.2,.6 -4.7,.1 -4.8-.5 -5-.3 -4.8,.2 -4.4,0 -3.7-.8"/>
<path d="M823.5,559.6l-5.6,.2 -5.7,.1 -5.9,.1 -5.4,.1 -5.2,.3 -4.6,.2 -4.6,0 -4.5,.1 -4.8,0 -4.7,.3 -4.9,.6 -4.3,.5 -4.4,.5 -4.4,.2 -5.4,.1 -5.6,0 -5.6-.1 -5.5,0 -5.9-.1 -5.8-.1 -5.4,.2 -5.3,.2 -5.2,0 -5.2-.2 -5.1-.3 -5.5-.2 -5.4-.3 -5.6-.2 -5.7,.1 -5.5,.3 -5.6,.2 -5.3-.1 -5.2-.1 -5.4-.2 -5.5-.2 -5.9-.1 -5.5,.3 -5.1,.5 -5.1,.5 -5.3,.5 -5.9,.1 -5.6,.2 -5,0 -4.8,.4 -4.9,.1 -5.2,.1 -5,.3 -4.5,.1 -4.8-.1 -5.1-.5 -5.9-.2 -6-.1 -5.9-.4 -5.4-.5 -4.6-.6 -4.9-.4 -5-.4 -5.6-.2 -5.2-.2 -5.5,.2 -5.1,.2 -5-.3 -4.7-.2 -5.1,.2 -4.8,.5 -4.9,.3 -4.9-.5 -5-.4 -5-.3 -5.2,.2 -5.6,.3 -5.5,.1 -5.2,0 -4.7-.4 -4.9-.1 -5.1,.1 -5.4,.5 -5.7,.1 -5.6-.4 -5.4-.3 -5.4,0 -5.1,.1 -4.9-.3 -4.2-.4 -4.6-.7 -4.8,.1 -5,.4 -4.7,.4 -4.9-.1 -5.2,0 -5.5,.2 -5.6-.5 -5.8-.7 -5.4-.7 -4.6-.3 -4.5-.6 -4.8,.2 -5.7,.1 -5.4,.7 -5.4,.4 -5.2,.9 -5.5,.6 -5.3,.2 -5.5-.3 -5.4-.1 -5.8,.7 -5.8,1 -5.3,.7 -4.8,.3 -4.8,0 -5,.3 -5.3,.3 -5.4,.8 -5.6,.4 -5.3,0 -5.4,.1 -5.1,.1 -5,.3 -4.9-.5 -5.4-.6"/>
<path d="M823.5,559.6l-5.5-.6 -5.7-.8 -5.4-.6 -5.2,.1 -4.9,.4 -5.3,.3 -5.4,.4 -4.9,.3 -4.3,.5 -4,.5 -4.2,.4 -4.4,.2 -4.7,.1 -4.8,.1 -5.1,0 -4.8,0 -5.4-.1 -5.4-.5 -5.4-.3 -5.1-.3 -5.2,.2 -5.4,.2 -5.1,.2 -5.2,.2 -4.8,.4 -4.7,.3 -4.6,.3 -4.8,0 -4.9,.1 -4.6,.1 -4.7,.1 -4.9-.1 -5.4-.4 -5.2-.7 -4.8-.3 -4.1-.6 -4.5-.6 -5-.6 -5.6-.2 -5.3,.7 -5.3,.6 -4.9,.6 -5.2-.2 -5.1-.4 -5.1-.4 -5.2-.2 -5.2-.3 -5.2-.1 -4.7-.4 -4.7-.4 -4.1-.6 -4.2-.4 -4.6-.4 -5.5-.4 -5.7-.3 -5.7-.3 -5,.1 -5.2,0 -5,.1 -5.2-.2 -4.9,.3 -4.6,.4 -4.4,.4 -5.1-.2 -5.3,0 -5.4,0 -5,.4 -5.4,.1 -5.8-.1 -5.3,.1 -4.9,.2 -4.6,.4 -5,.1 -5,0 -5,.2 -5.2,.3 -5,.3 -4.7-.4 -4.3-.6 -4.9-.7 -4.8-.6 -5.2-.5 -5.1-.5 -5,.2 -4.8,.4 -5.1,.7 -5,.6 -5.1,.7 -4.9,.3 -5,.6 -5.1,.1 -5,.3 -5.2-.3 -5,.5 -4.7,.4 -4.8,1 -4.6,.7 -5.4,.4 -5.5-.3 -5.4-.6 -5.2-.3 -5.3-.3 -5.5-.2 -5.6-.5 -5.4-.4 -5.4,0 -5.8,.6 -5.4,.9 -5,.8 -4.5,.7 -4.4,.8 -4.9,.8 -4.3,.3 -4.5-.5 -4.1-.2 -4.6-.5 -4.8,0 -4.7-.5 -4.7,.1 -4.3,.1"/>
<path d="M823.5,559.6l-4.9,1 -5,.8 -4.7,.9 -5,.5 -4.8,.6 -5.2,.4 -4.8,.6 -4.5,.6 -4.1,.3 -4.4,.2 -4.7,0 -5-.1 -4.9-.4 -4.8-.4 -4.7-.1 -4.6,.2 -4.4,.4 -4.7,0 -4.5-.2 -5.3-.3 -4.8,0 -4.9,.1 -4.4,.4 -4.6,.3 -5.1,.3 -5.6,.3 -5.9,.4 -5.4,.2 -4.7-.3 -4.5-.3 -4.9-.4 -4.9-.4 -4.8-.6 -4.9-.3 -4.6-.5 -4.6-.1 -4.2-.5 -4.4,0 -4.5,0 -4.9,.3 -5.1,.6 -4.9,.7 -4.8,.9 -4.7,.9 -4.9,.5 -5.2,.1 -5.2-.5 -5.1-.8 -4.9-.4 -4.3-.1 -4.7-.2 -4.6,0 -5.1,0 -5.1,.2 -5,.1 -4.6,.3 -4.4,.2 -4.4,.4 -4.5-.1 -4.3,.2 -4.6,0 -4.7,.5 -5.1,.2 -4.5,0 -4.4-.2 -4.4-.3 -4.3-.6 -5-.5 -4.6-.5 -4.8,.2 -4.3,.2 -4.6,.6 -4.7,0 -5-.5 -4.8-.8 -5-.5 -4.8,0 -5.1,.3 -5.2,.2 -5.2,.3 -5.2-.4 -5.2-1 -4.7-.6 -4.3-.1 -4.1,.6 -4.6-.2 -5-.6 -4.8-1 -5.1-.1 -4.5-.2 -4.8,0 -5.2,.5 -5.4,.6 -5.3,.8 -4.5,.5 -4.7,.5 -4.4,.2 -4.7,.2 -4.6,.2 -4.9,1.2 -4.6,.7 -5,.2 -5.1-.4 -5.6-.1 -5.3,.1 -5,.1 -5,.5 -5.3,.7 -5.1,1.1 -5,.8 -4.4,1 -4.7,.9 -4,.4 -4.8,.6 -4.8,.4 -5.1,.6 -5,.3 -4.9-.3 -5.2,.2 -5.3-.1"/>
<path d="M823.5,559.6l-4.3,0 -4.6,.1 -4.7-.2 -4.4-.1 -4.7-.1 -4.1,.2 -4.3,.2 -3.4,.3 -3.5,.2 -3.7,.1 -4,0 -4.3,0 -3.6,.1 -3.7,.2 -3.4,.2 -3.8,0 -4.2-.1 -4.7-.1 -4.9,.1 -4.4-.1 -4.2,0 -4-.3 -4.5-.2 -4.2-.1 -4,.1 -4.2,.1 -4.8,.2 -5,.4 -4.6,.4 -4.4,.2 -4.4,.2 -4.8,.2 -4.8,0 -4.3-.3 -3.8-.4 -4.1,0 -4.2,.1 -4.2,0 -4.5-.2 -4.6,.2 -4.7,.6 -4.1,.8 -4.3,.2 -4.7-.2 -4.6-.5 -4.3-.4 -3.9-.2 -3.8-.3 -4.4-.4 -3.9-.6 -4.3-.2 -3.7,0 -4.2,.2 -4.1,.1 -4.4,.5 -4.2,.5 -4.5,.2 -5.2-.2 -5.1-.3 -4.2-.3 -3.4-.3 -3.4-.3 -3.6,.1 -4,.3 -4.5,.6 -4.4,.3 -4.1,.1 -3.9-.2 -4,.1 -4.2,.3 -4.2,.1 -4.3,.1 -4.1,.1 -3.9,0 -3.9-.6 -4-.7 -4.1-.9 -3.8,0 -3.7,.6 -4,.6 -3.8,.4 -3.9-.1 -3.9,.1 -3.9,.5 -4.2,.6 -4.6,1 -5.1,.6 -5,.3 -4.4,.3 -3.7,.4 -3.6,.5 -3.3,.5 -3.6-.1 -4,0 -4.7-.6 -4.5,0 -4.6-.2 -4.6,.6 -4.9,.4 -4.9,.9 -4.7,.5 -4.1,.7 -3.6,.1 -3.6,.2 -3.7,.2 -3.7,.7 -3.3,.3 -3.7,.1 -3.9,.4 -4.4,.8 -4.8,1.4 -4.5,.7 -4.4,.6 -3.9,.5 -4,.6 -4,.2 -4-.6 -4.3-.6 -4.3-.3 -4.4-.2"/>
<path d="M823.5,559.6l-4.9,1.7 -4.6,1.6 -4.6,.9 -5-.7 -5.1-.9 -5-.6 -4.8-.5 -5,0 -5.3,.4 -5.5,.7 -4.9,.8 -4.3,.5 -4.3,.6 -4.6,.5 -4.9,.2 -4.7-.1 -4.5-.6 -4.1-.6 -4.1-.8 -4.3-.4 -4.9-.4 -4.9,.1 -5-.1 -5.3,.1 -5.5,.2 -5.6,.1 -4.8,.2 -4.6-.1 -4.2-.1 -4.3-.3 -4.3-.3 -4.5-.6 -4.6-.6 -4-.7 -4.1-.5 -4.5-.4 -4.9,.2 -5,.5 -5,.8 -4.9,.2 -5.1-.1 -4.8-.4 -5-.1 -5.2,.3 -5.3,.2 -4.3,.4 -4.1,0 -4.5-.1 -5.3-.4 -5.1-.3 -4.3-.1 -4.6,.2 -4.8,.2 -5,.1 -5.1,.3 -4.8,.6 -5.3,.9 -5.4,.6 -5.6,.6 -5.3-.1 -5.2-.6 -4.8-1.2 -4.7-1.3 -4.2-.8 -4.3-.2 -4.1,.4 -4.1,.6 -4,.4 -4.3,.3 -4.6,.5 -4.9,.4 -4.9-.4 -4.7-.8 -4.2-.9 -4.4,.1 -4.4,.1 -4.6-.4 -4.7-.7 -4.9-.4 -5,.2 -5.1-.1 -4.9-.3 -5.2-.2 -5-.2 -4.6,.2 -4.7-.2 -4.2,.3 -4.6,0 -4.5-.2 -4.9-.7 -4.7-.8 -4.8-.7 -4.8-.7 -4.8-.7 -4.3-.4 -3.9-.2 -4.2-.3 -4.4-.1 -5,.7 -4.7,1.1 -4.8,.1 -4.9-.6 -4.9-.4 -5,.4 -4.3,.7 -4.3,.1 -4.3-.3 -5-.5 -5.1-.5 -5.4-.8 -5-.9 -5.4-.4 -5.4,.7 -5.6,.6 -5.2,.6 -4.5,0 -4.4-.3 -4.2-.4 -5-.3 -5.5,.4"/>
<path d="M823.5,559.6l-5.5-.3 -5.5-.3 -5.3-.4 -4.7-.5 -4.6-.3 -4.7-.3 -5.1,0 -5.5-.3 -5.3-.1 -5-.1 -4.6,0 -5,.3 -5.5,.3 -5.6,.4 -5.7,.2 -5.2-.1 -5.4-.1 -5.3,0 -5.9,.2 -5.3,0 -4.8-.1 -4.5,.1 -4.8-.1 -5.1,.2 -4.8-.3 -4.9-.4 -4.8-.2 -5.3,0 -5.1,.2 -5.1,0 -5,0 -5.5,.1 -5.2,.4 -4.9,.2 -5,.2 -5,.1 -4.9,.2 -4.7,.2 -5.1,.1 -5.2,.1 -5.2,.2 -5.1,.2 -5,.2 -4.5,.1 -4.5-.2 -4.6,.1 -4.7-.2 -4.7-.2 -4.8-.3 -5-.1 -5-.1 -4.6-.5 -4.8-.7 -4.4,.1 -4.4,.3 -3.9,.5 -4.5,.1 -4.4,.2 -4.6,.8 -4.5,1.1 -5.2,1.1 -6.1,.3 -6.2,.1 -6-.1 -5.5-.3 -5.6-.5 -5.5-.4 -5.9-.3 -5.5-.1 -5.9,.1 -5.4,.1 -5.3,.2 -4.5,.1 -5.1-.5 -5.3-.6 -5-.2 -4.9,.6 -4.4,.3 -4.9-.5 -4.8-.5 -5.1,.3 -5.5,.8 -5.6,.8 -5.9,.3 -5.7-.1 -5.4-.7 -4.5-1.3 -4.3-1.5 -4.3-.9 -5.1-.2 -5.8,.1 -6.1,0 -6-.1 -5.5,.3 -5.2,.5 -5.1,0 -5.4-.8 -5.5-.7 -5.3,.2 -5.2,.8 -5.3,.9 -5,.3 -4.9,.3 -5.1-.2 -5.1,.2 -5.4,.3 -5.1,.8 -5,.3 -4.9,.4 -4.8,.3 -5.1,.4 -5.3,.8 -5.5,1.2 -5.6,1.2 -5.2,.6 -5.1,0 -4.5-.6 -4.1-.7 -4.3-.3 -4.7,.7"/>
<path d="M823.5,559.6l-4.3-.8 -4.5-1 -5-1.2 -5.1-.3 -5.1-.3 -4.8-.1 -4.9-.4 -5-.2 -4.8-.5 -4.6-.3 -4.3-.4 -4.4,0 -4.2,0 -4.8,.2 -5.3,.2 -5.6,.1 -5,.1 -5,.3 -5.1,.6 -5.4,.4 -5.2,.3 -4.6,.2 -4.9,.3 -4.8,.5 -4.7,.4 -4.4,.7 -4.5,.2 -4.4,.2 -4.4-.2 -4.4,.1 -4.3,0 -4.7,0 -4.7-.1 -4.6-.2 -4.7-.1 -4.5-.2 -5.2,.1 -5,0 -5.1-.2 -5-.2 -5-.5 -5.2-.2 -5.2-.2 -5,.2 -5,.2 -5-.2 -5.1-.4 -4.8-.6 -4.5-.2 -4.5,.1 -4.7,.3 -4.9,.1 -4.7-.3 -4.4-.1 -4,.3 -4.4,.5 -4.3,.7 -4.9,.2 -4.6,.2 -4.7,.1 -4.3,.2 -4.4,.3 -4.1,.1 -4.1,.1 -4.4-.2 -4.8,.1 -5.2,.1 -5.1-.4 -5.5,0 -5.2-.2 -5.4,.4 -4.9-.4 -4.9,.1 -4.4-.2 -4.5-.1 -4.5-.5 -4.9,.1 -4.6,.2 -4.9-.2 -5-.6 -4.6-.3 -4.6,.2 -4.1,.6 -5,.7 -4.7,0 -4.9,.2 -4-.1 -4.5,.7 -4.5,.4 -4.9,.8 -4.7,.6 -4.7,1 -5.2,.3 -4.9,.7 -5.2,.8 -4.8,1.8 -5.2,1.4 -5.3,1.1 -5.2,.9 -4.7,1.3 -4,.4 -4.4-.4 -4.4-1 -4.6-.2 -3.7,.1 -4.1-.2 -4.5-.1 -5.3-.5 -5.3-.4 -5-1.2 -5.1-.9 -4.9-.4 -5.2,.5 -4.8,.7 -4.8,1.2 -4.7,1.1 -4.7,1.3 -4.9,.6 -4.6,0 -4.7-.9"/>
<path d="M823.5,559.6l-5.1,.1 -4.9,.3 -5,.4 -5.3,.3 -5.4,.3 -4.9,.2 -4.4,.2 -4.1-.1 -4.5,.3 -5,.1 -5.1,.3 -5.3,0 -4.9,.1 -5.3-.1 -4.9-.1 -5.1-.3 -4.8-.3 -5.1-.3 -4.9,.1 -4.5,0 -4.5,.1 -4.7-.2 -5.3-.3 -5.5-.3 -6.1-.2 -5.9-.2 -5.9-.3 -5.1,.1 -5.1,0 -5,0 -5,.1 -5.5,.2 -5.5,.2 -5.5,.1 -5.1-.2 -5.7-.1 -6.1-.1 -6.2,.3 -5.2,.7 -5.3,.6 -5.1,.2 -5.1-.4 -4.7-.4 -4.7-.6 -5.1-.4 -5-.4 -5.5,0 -5.4-.1 -6.1-.2 -5.1-.3 -4.8-.1 -5,0 -5.5,.1 -5.6-.1 -5,.3 -5,.3 -4.8,.4 -4.4,.1 -4.9,.2 -5.3,.1 -5.6,.6 -5.2,.4 -5,.4 -5.4,.3 -4.8,.6 -4.9,.7 -5,.3 -5.6-.3 -6.2,0 -5.6,.1 -5.3,.3 -5.2,.1 -5.7,.3 -5.4,.3 -5.2,.1 -5.3,.1 -5.5-.1 -5.2-.1 -5.1,0 -5.2-.2 -5.4-.6 -5.2-1 -5.3-.1 -5.1,.5 -5.3,1 -5,.7 -5.4,.3 -5.5-.3 -5.7,.2 -5.4,.5 -5.1,1 -4.4,.4 -4.6,0 -4.7-.3 -5.1-.4 -5.7,.3 -6.4,0 -5.8-.1 -5.1-.9 -4.3-.3 -4.5,.4 -4.7,1 -4.9,.3 -4.8,.4 -4.7,.2 -4.7,.4 -4.8-1.1 -5.1-1.1 -5.3-.8 -5.5-.6 -5.2-.3 -4.7-.5 -4.8,.3 -4.7,.6 -4.9,.7 -4.6,0 -4.5-.4 -5-.6 -4.9,.1 -4.9,.6"/>
<path d="M823.5,559.6l-4.3,.6 -4.3,.8 -4.5,1.1 -4.9,.8 -4.9,.7 -4.7,.7 -4.6,.3 -4.7,0 -4.9-.2 -4.6-.3 -4.6-.6 -4.3-1 -4.7-1 -4.7-.7 -4.9-.1 -4.6,.6 -3.9,.7 -4.4,.8 -4.8,.6 -4.7,.4 -4.1,.4 -3.9-.1 -4.2-.1 -4.8-.2 -4.9-.3 -4.8-.5 -4.8-.9 -4.8-.5 -5.2,.1 -5.2,.4 -5,.4 -4.6,.2 -4.1,.3 -4.1,.6 -4,.3 -4.3,.2 -4.3-.1 -4.7-.2 -5-.1 -5.2-.4 -4.8-.4 -4.8-.4 -4.5,0 -4.7,.3 -4.9,.7 -5.3,1 -5.2,.7 -5,.5 -4.7-.1 -4.8-.3 -5-.8 -5-.8 -4.7-1 -4.3-.6 -4.6-.3 -4.5,.1 -4.9,0 -4.5,0 -4.3-.1 -4.3,.1 -5,0 -5.5,.3 -4.9,0 -4.1,0 -3.8,0 -4.2,0 -4.9,.1 -4.7-.2 -4.7-.1 -4.7-.2 -4.4,.4 -4.2,.2 -3.7,.3 -4.2-.1 -3.9,.2 -3.8,.2 -4.3,.3 -4.3-.2 -4.9-.6 -4.6-.8 -4.9-.7 -4.9-.5 -5.4-.5 -4.9,.1 -4.7,.5 -4.8,.8 -5.4,.2 -5.1,0 -4.3-.4 -4.1-.4 -4.6-.6 -4.6-.7 -5.3-.8 -5.1-.6 -4.5-.3 -4.4-.1 -4.9-.2 -5.6,.4 -5.3,.5 -4.8,.3 -4.7-.9 -4.4-.5 -4.4-.7 -4.5,.2 -4.9-.1 -5,.6 -4.9,.2 -4.1,0 -4.4,0 -4.4,.2 -4.7,.1 -4.1,.4 -4.1,.9 -4.8,1.3 -5,1.1 -4.9,.7 -4.6,.5 -4.6,.5 -4.8-.4 -4.8-1"/>
<path d="M823.5,559.6l-4.4-.5 -4.4-.5 -4.8-.2 -5,.2 -4.9,.3 -4.4,.3 -4.6,.2 -4.7,.2 -5-.2 -5.2-.2 -5-.2 -5.4-.2 -4.8-.2 -4.4-.1 -4.2,.4 -4.4,.7 -5,.4 -5,.3 -4.8,.2 -4.6,.4 -4.6,.3 -5.1,.3 -5,.3 -5.1,.2 -5.3-.1 -5.6-.2 -5.6-.4 -5-.1 -5,0 -5.4,.1 -5.4-.1 -5.1-.2 -4.5,.3 -4.3,.1 -4.7,.4 -5.1,.2 -5.2,.3 -4.5-.2 -4.2-.5 -4.2-.6 -4.6-.3 -4.7-.2 -4.8,.4 -4.8,.1 -5.3,.2 -5.7,.3 -5.6,.3 -5.2,.4 -5-.2 -5.1-.1 -4.9-.3 -4.9-.2 -5-.1 -5.1-.3 -5.3-.6 -5.1-.7 -5-.2 -4.7,.1 -4.9,.3 -5.1,.2 -5.5,.4 -5.4,.6 -5.2,.3 -4.9,0 -4.9-.6 -4.3-.7 -4.1-.8 -4.2-.5 -4.7-.5 -4.6-.1 -4.7-.1 -4.9,0 -5.3-.3 -5,.1 -5.1,.1 -4.6,.5 -4.9,.2 -4.8-.5 -4.3-.2 -4.7,0 -4.5,.5 -5.2,.5 -4.8,.4 -4.7,.4 -4.1,.3 -4.7,0 -4.7-.4 -4.9-1 -4.6-.9 -5-.3 -4.7-.2 -4.9,0 -4.6-.2 -5.4,.2 -5.1,.5 -5.1,.7 -4.9,.8 -4.6,.3 -4.6,.2 -4.5,.6 -5.2,.5 -4.9,.1 -5-.5 -4.4,.1 -4.9,.4 -4.8,.4 -5,.4 -4.4-.4 -4.6-.6 -4-.8 -4.1-.1 -4.2-.3 -4.9-.5 -5.2-.8 -5,.2 -4.6,.7 -4.7,.8 -4.5,.1 -4.7,0 -4.6,.3"/>
<path d="M823.5,559.6l-3.9-.5 -4.1-.7 -4.6-.7 -4.8,0 -4.6,.3 -4.8,.2 -4.4,.2 -4.8,.1 -4.7,.3 -4.5,.4 -4.7,.2 -4.4,.3 -4.5,0 -4.1,0 -4.5-.1 -4.4,0 -4.6-.1 -4.4-.1 -4.9-.1 -5.1-.1 -4.8-.1 -4.7,.1 -4.6,.1 -5.1,.1 -4.9-.1 -5.4,.3 -5,.4 -5.1,.5 -5,.3 -5.3,.2 -5.5,0 -5.3,.2 -5.5-.1 -4.7,.2 -4.5,0 -4.1,0 -4.8-.3 -4.5-.6 -4-.6 -3.9,0 -4.1,.4 -4.2,.3 -4-.1 -4.2-.3 -4.6-.4 -4.7-.3 -4.4-.3 -4.6-.2 -4.9-.3 -4.9,.2 -4.9,.4 -4.6,.6 -5.1,.3 -5.1-.1 -5.4,.1 -5.3,0 -5.2-.3 -4.7-.6 -4.7-.5 -4.6-.3 -4.7,.1 -4.4-.2 -4.3-.1 -4-.6 -4.7-.1 -4.4-.5 -5.1,.2 -4.8-.1 -4.9,.2 -4.7-.3 -4.2,.4 -4.5,.4 -4.8,.4 -5.2,.2 -5,.6 -4.2,.7 -4.2,.9 -4.1,.6 -4.6,.5 -5.1,.4 -5.3,.4 -4.6,.1 -4.5-.4 -4.5-.5 -5.1-.1 -5.1,.4 -5,.3 -4.8,.1 -4.6,0 -4.5,.5 -4.3,.6 -4.7,1.1 -4.8,.8 -5.1,.7 -4.7,.3 -4.9,0 -5-.1 -4.9-.2 -4.3-.1 -4-.1 -4-.3 -4.4-.4 -4.9-.8 -5.3-.4 -5.3-.7 -5-.2 -4.8-.3 -4.8-.5 -4.5-.5 -4.7,.4 -4.9,.6 -5.1-.2 -4.7-.2 -4.9-.1 -5,.1 -5.1,0 -4.5-.1 -4.2,.2 -4.7,0 -5.1,0"/>
<path d="M823.5,559.6l-3.3-.2 -3.1-.1 -3,.1 -3.2,.2 -3.4,.3 -3.1,.2 -3.4,.3 -3.4,0 -3.6,0 -3.5,0 -3.4,.2 -3.4,.3 -3.7,.4 -3.8,.2 -4.4,.1 -4,0 -3.7-.2 -3.3,.2 -3.3,.2 -3.7,.5 -4.1,.1 -4,.2 -3.4,.2 -3.2,.2 -3.3,.4 -3.9,.4 -3.7,.5 -4.1,.5 -3.8,.3 -3.6-.2 -3.7-.6 -3.7-.4 -4.2,.3 -3.8,.6 -4,.7 -3.5,.3 -3.8,.3 -3.7,.3 -3.4,.2 -3.1,.3 -3.5-.1 -4.2,0 -4.7-.2 -4.1,.2 -4.5,0 -3.9-.1 -4.5-.1 -4.1,.3 -4.2,.7 -4.3,.5 -3.5,0 -3.3-.1 -3.1-.3 -3.7,.2 -4.2,.1 -4,.3 -4.3,.2 -3.8-.1 -4.5-.3 -3.9-.3 -4.2,.3 -3.9,.6 -3.9,.6 -4,.3 -4,.1 -3.7,.3 -3.3,.2 -3,.5 -3.8,.2 -3.7-.2 -3.6,0 -3.3-.3 -3.4-.6 -3.5-1 -3.7,0 -3.9,.8 -3.8,.6 -3.3-.2 -3.4-.2 -3.7,.7 -4,.7 -4.1,.1 -4-.6 -4.1-.5 -3.8-.1 -3.5,.2 -3.3,.5 -3.6,.4 -4.3,.4 -4.6,.3 -4.4,.1 -4.7-.2 -4.8-.1 -4.8-.2 -4.5-.4 -3.7-.7 -3.6-.4 -3.3-.1 -3.8-.4 -3.3-.1 -3.3,.2 -3.2,.4 -3.8-.4 -4.1-.1 -3.7,.3 -4,.9 -3.5,.4 -4.5,.3 -4.5,.1 -4.3,.4 -3.8,.4 -3.7,.4 -3.6,.2 -3.9,0 -4.1,0 -4.3,.1 -4,.1 -3.4-.2 -3.6-.3 -3.6,0"/>
<path d="M823.5,559.6l-2,.1 -2.1,0 -2.3-.2 -2.1,.1 -2.1-.2 -2.3-.2 -2.4-.3 -2.9-.1 -2.8,.1 -2.7,.3 -2.3,0 -1.9-.3 -1.7-.4 -1.7-.1 -2.8-.2 -3.3-.3 -3.3-.2 -2.8,.1 -2.4,.4 -2.8,.5 -2.9,.4 -3.4,.5 -3.3,.6 -2.9,.4 -2.5,.3 -2.2,.3 -2.1-.1 -2.4-.2 -2.5-.7 -3.4-.2 -3.4,.1 -2.9,.4 -2.7,.3 -2.2,.2 -2.4,.1 -2.2,0 -2.7-.3 -2.4-.3 -2.4-.6 -2-.3 -2.2,.3 -2.8,.5 -2.7,.7 -3,.5 -2.6,.5 -2.7,.3 -2.9,.1 -2.9,.3 -2.8,.2 -2.7,.3 -2.7,.3 -2.4,.4 -2.2,.5 -1.9-.1 -2-.1 -2.8-.1 -2.8,.4 -3.2,.1 -3,0 -2.7-.7 -2.5-.3 -2.3-.4 -2.3,.1 -2.5,0 -2-.1 -2.2-.6 -2.7-.2 -3.3-.4 -3.3-.2 -2.9-.8 -2.6-.1 -2.5,.1 -2.7,.5 -3,0 -2.5,0 -2.3,.3 -1.9,.9 -2.1,.7 -2.3,.2 -2.2-.3 -2.5-.1 -2.2,.1 -2.1,0 -2.4-.2 -2.8-.1 -2.3-.5 -2.1-.3 -2.1-.1 -2.5-.1 -2.6-.5 -2.5-.5 -2.8-.4 -2.9,0 -2.9,0 -2.9,.4 -2.6,0 -2.7-.4 -2.6,0 -3.1,.4 -3.1,1 -3,.9 -2.6,1.1 -2.2,1 -2.1,.9 -2.6,.9 -2.8,.7 -3.4,1.2 -3.2,.4 -3.4,.7 -2.8,.2 -2.6,.2 -2.5,.1 -2.4-.6 -2.7-.8 -1.8-.8 -2.5-.4 -2.4,.2 -3,.1 -2.8,.1 -2.9-.3"/>
<path d="M823.5,559.6l-2.2-.8 -1.6-.8 -1.8-.7 -2.5,.1 -3,.4 -2.8,.2 -2.9,.2 -2.6,0 -2.4,.2 -2.3,.2 -2.6,.2 -2.5-.3 -3.1-.1 -3-.4 -3.4-.1 -2.5-.4 -2.6-.1 -2.5-.1 -2.9-.2 -3-.2 -2.8,.1 -2.6,.3 -2.6,.5 -2.5,.3 -2.8,.3 -2.8,.1 -3,0 -2.7,0 -2.6-.3 -2.2-.2 -2.5-.5 -2.8-.3 -2.9-.2 -2.6,.5 -2.1,.5 -2.1,.3 -1.9-.2 -2.1-.2 -2.3-.3 -2.8-.2 -2.9,.1 -2.8,.4 -3.2,.5 -3.2,.7 -3.3,.1 -3,0 -3.1-.3 -2.8-.3 -2.8,.1 -3,.2 -3.1,.5 -3,.4 -2.9,.3 -2.6,.2 -2.2,.1 -1.9,.1 -2.1,.2 -2.6,.3 -3.4,.2 -3.3,0 -2.8,.3 -2.3,.4 -2.4,.5 -2.6,.2 -2.3,.3 -2.5,.2 -2.7-.2 -3.2-.2 -3.2-.8 -3.1-.8 -2.8-.9 -2.7-.3 -2.6-.4 -2.6-.5 -2.6,0 -2.8,0 -3.2,0 -3.1-.3 -2.6,.2 -2.5,.8 -2.5,.8 -3,.5 -2.7,.1 -3,0 -2.8-.1 -2.9-.6 -2.9-.3 -2.8-.3 -2.4,.4 -2.1,.9 -2.5,1.1 -2.6,.5 -2.8,.2 -2,.3 -2.7,1 -3.1,.7 -3.4,.8 -2.6,.6 -1.8,.5 -1.8,.5 -2.1,0 -2.6,.2 -2.6-.3 -2.2-.6 -2.4-.8 -2.6-.8 -3.3-.4 -3,.4 -3,.8 -2.7,.5 -3,0 -3,0 -3,1 -2.6,1.1 -2.4,.9 -2.2,0 -2.2-.4 -2.3,0 -2.5-.1 -2.9,.1"/>
<path d="M823.5,559.6l-4.2-.8 -4.4-.5 -4.4-.3 -4.8,.2 -4.5,0 -4.5,0 -4.4,.4 -4.6,.4 -4.9,.5 -5,.3 -4.8-.1 -4.4-.1 -4-.2 -3.9,0 -3.7-.2 -4.1-.5 -4.5-.3 -4.3-.2 -4.2-.1 -4.1,.3 -4.6,.3 -5.2,.5 -4.8,.1 -4.5,.2 -4.1,.6 -4.8,.6 -5,.5 -5.1,.2 -4.9,.1 -4.8,0 -4.9,0 -4.7,0 -4.9,0 -5-.1 -4.8-.1 -5-.3 -4.9,0 -5.5,.1 -4.6,.2 -4.2,.3 -3.8,.3 -4.2,.1 -5,0 -4.7,0 -5.1,.3 -4.6,.5 -5.2,.9 -4.5,1 -4.5,.8 -4.8,.6 -4.9,.9 -4.9,1.2 -4.5,1.1 -4.4,.3 -4.5-.2 -3.8-.7 -3.9,0 -3.7,.1 -3.7,.3 -3.7-.3 -3.9-.2 -4.3-.1 -4.8,.2 -4.9,.2 -4.7,.5 -4.7-.2 -4.4-.7 -4-.5 -4.4-.3 -4.5-.3 -5.1-.5 -4.7-.3 -5-.5 -4.9-.3 -4.9-.7 -4.6,.1 -4.6-.3 -4.5,.1 -4.5-.2 -4.4,.4 -5,.5 -4.8,.4 -4.9,.6 -4.6-.2 -5.3,.1 -5.4-.5 -5.5,0 -5.3-.4 -4.8-.3 -4.3-.3 -4.4,.3 -4.3,.5 -4.3,.3 -4.1,.3 -4,0 -4.1,.2 -4-.5 -4.1,.2 -4.1,.3 -4,.3 -4,.4 -4.2,.2 -4.5,.1 -4.2-.3 -3.8-.1 -3.6,.4 -4.3,0 -4.4,.8 -4.8,0 -4.5,.4 -5,.6 -4.8,1.1 -4.8,1.3 -4.7,.6 -4.4,.4 -4.4,.4 -4.1,0 -4.6,0 -4.6-.3 -4.8-.6"/>
<path d="M823.5,559.6l-4.6,.2 -5.1,.1 -5.1,.1 -5.1-.2 -5-.1 -4.7,.2 -5.2,.2 -5,0 -4.8,0 -4.8-.2 -4.7,0 -5.2-.3 -4.9-.2 -5-.1 -4.9-.2 -4.8-.2 -4.5-.3 -5-.4 -5.1-.2 -5.5,.1 -5.1,.2 -5.1,.3 -5.2,0 -5.2,.5 -5.2,.4 -5.3,.3 -5.7,.2 -5.7,.4 -5.3,.2 -5.2,.2 -4.7,0 -4.5,.3 -4.6-.2 -5.5-.1 -5.9-.1 -5.7,.1 -5.2-.2 -4.8,.2 -5.1,.2 -4.9,.4 -5,0 -5-.1 -5.1,0 -5.3,.1 -5.4,.2 -5.4,.2 -5.4,.3 -5.5-.2 -5.3-.1 -5.2-.3 -4.9,.4 -5.1-.3 -5.2,0 -5.4-.8 -5-.3 -4.8-.5 -5,0 -5.8,.3 -6.2,.4 -6.1,.2 -5.5-.1 -5.3,0 -4.9,.1 -5.5,0 -5.1,.1 -5.6-.6 -5.3-.4 -5.9-.5 -5.4-.1 -5.4-.2 -4.8-.4 -5.5-.7 -5.4-.7 -5.5-.4 -4.9,0 -5.1,.5 -5.4,.2 -5.7-.1 -6-.2 -5.8-.2 -6-.3 -5.8-.4 -5.4-.2 -5.3,.5 -4.7,.8 -4.8,.4 -4.9,.1 -5.4,.2 -5.7,.6 -5.4,.8 -5.3,.6 -5.3,0 -5,.2 -4.7-.5 -4.6-.4 -5.2-.3 -5.2-.3 -5,.1 -4.5-.1 -4.2-.2 -4.8-1.1 -5-.8 -5-.5 -4.8,.2 -4.7-.5 -5.2-.6 -5.1-.2 -5.5-.3 -5.3,0 -5.4-.4 -4.8-.1 -5,.3 -4.9,.5 -5.1,.1 -4.9-1 -4.7-1 -5.1-.3 -5.5,.3 -5.9,.8 -5.8,1.1"/>
<path d="M823.5,559.6l-4.7-.5 -4.8-.5 -5.1-.4 -4.2,.3 -4.9,.4 -4.8,.1 -5.3,0 -5.1,.1 -5.1,.1 -4.4-.3 -4.4-.3 -4.2,0 -4.6,.3 -4.1,.3 -3.9,.3 -4.1,.3 -4.4,.6 -4.2,.1 -4.2,.3 -4.1,.1 -4.5,.9 -4.5,.7 -4.2,.6 -4.4,.1 -4.7,.3 -4.8,.4 -4.6,.5 -4.7,.3 -4.7,.5 -4.7,.8 -4.6,.9 -4.3,.7 -4.2,.4 -3.8,.2 -4,.2 -4.1,.1 -4.3,.1 -4.9-.4 -4.8-.1 -4.7-.3 -4.6-.6 -4.8-.2 -4.7,0 -4.5,.4 -4.3,0 -4.3-.2 -4.6,0 -4.7,0 -4.8-.1 -4.9,0 -4.6,.3 -4.4,.4 -4.3,.4 -4.5,0 -4.3,.3 -4.5,.2 -4.6,.6 -4.8,.2 -4.7,.5 -4.7,.3 -5,.6 -4.7,.3 -4.3,.6 -4.3,.4 -4.4,.5 -4.6,.3 -4.6,.4 -4.1,.5 -4.3,.3 -4.1-.6 -4.6-.2 -4.3-.3 -4.6,.7 -4.3,.5 -4.6,1.4 -4.6,.5 -4.7,.4 -4.3-.5 -4.2-.4 -4.6-.2 -4.6-.2 -4.6,.1 -4.7,.5 -5.4,1 -5.5,.8 -5.4,.2 -4.8,0 -5.1,.3 -4.6,.2 -5.4,.1 -4.9,.1 -5.1-.2 -4.7,.3 -5.1,.4 -5.3,.3 -5-.1 -4.3-.3 -4.2-.3 -4.4-.7 -4.2-.8 -4.1-.6 -4.2-.1 -4.9-.2 -5.7,.4 -5.4,.5 -5.3,.7 -4.4-.5 -4.7-.5 -5-.4 -5.1,.4 -4.4,.3 -4.1-.2 -4.3-.4 -4.7-.2 -4.8-.4 -4.5,0 -4.4,0 -4.4,.2 -4.6,.4 -4.8,.8"/>
<path d="M823.5,559.6l-5.2,.2 -4.8,.2 -4.7,.5 -4.5,.3 -4.8,.3 -4.7,.2 -4.6,.1 -4.4,.2 -4.3-.1 -4.9-.1 -5.6-.4 -5.7-.3 -5.8,0 -4.9,.2 -4.6,.5 -4.8,.5 -5.2,.3 -5.2,.3 -5.2,0 -5.3,.2 -5.5-.2 -5.1-.3 -4.9,0 -5.1,0 -5.4,.3 -5.6,0 -5.2,.3 -5,.1 -4.5,.1 -5.1-.4 -5-.3 -5.2,0 -4.5,.4 -4.9,0 -5.2,.1 -5.4,.1 -4.7,.7 -4.4,.7 -4.7,.4 -5.3,.4 -5.3,0 -5.1,.4 -4.9,.3 -5,.9 -5.1,.4 -4.9,.4 -5.1,.1 -5,0 -5.2-.2 -4.8-.5 -4.6-.2 -5.1-.4 -5.4-.4 -5.6-.2 -5.4,.2 -4.7,.2 -4.6,.4 -4.5,.3 -4.6,.6 -4.9,.1 -5.1,.4 -5.6,0 -5.1,0 -5.6-.2 -5.1,.4 -5.3,.4 -5.1,.4 -5.3,.1 -5,.2 -5.2,.1 -5.6,.4 -5.6,.6 -5,.6 -4.5,.6 -4.4,.6 -4.5,.7 -4.3,.7 -4.9,1 -5,1 -5.1,.8 -4.8,.4 -4.6,.1 -4.6,.2 -4.9,0 -5,.6 -5,.5 -5,.2 -4.3-.2 -4.5-.6 -4.7-.4 -5-.8 -5.3-.3 -4.8-.6 -5-.2 -5.1-.1 -5.4,.1 -5.5,.3 -5.3,.3 -5,.9 -4.9,.4 -5.7,.7 -5.5,0 -5.6-.3 -4.9-.8 -5,0 -5.1,0 -5.5,.3 -5.6-.6 -5.5-.4 -5.1-.7 -5.1,0 -5.1-.2 -4.9,.1 -4.5-.2 -4.5,.2 -4.8-.3 -5-.6 -4.7-.7 -4.8-.3 -5.1-.2"/>
<path d="M823.5,559.6l-2.7-1.9 -2.6-2.1 -2.4-2 -1.8-.2 -2.1,0 -2.6,.2 -3.5,.4 -3.3,.7 -2.7,.6 -2.5,.7 -2.4,.4 -2.7,.4 -2.6-.1 -2.6-.3 -2.2-.5 -2.1-.3 -2.6-.5 -3-.4 -2.5-.5 -2.3-.1 -2.5-.2 -3.3-.4 -2.9,0 -2.6,.4 -2.1,.8 -2.1,.8 -2.3,.7 -2.9,.7 -3.3,.7 -3.1,.5 -2.8,.2 -2.3,.1 -2.5-.1 -2.9-.4 -2.9-.5 -3.1-.6 -2.7-.3 -3-.4 -2.8-.3 -3.6-.2 -2.9-.3 -2.6,.2 -2.2,0 -2.5,.2 -2.6,0 -2.8,.5 -3.4,.5 -3.4,.1 -2.9-.1 -2.4-.2 -3,0 -3.4-.5 -3.3-1.1 -2.8-1.1 -3-.3 -2.9-.2 -3-.4 -2.4-.3 -2.9,.4 -3.1,.9 -3.4,.7 -3,.4 -3,.2 -2.5-.1 -2.9,.1 -2.6-.1 -2.7,.4 -1.9,.6 -2.3,.9 -2.8,.1 -2.8-.4 -3.1-.3 -2.2,0 -2.7,.1 -2.5,.6 -2.9,1.1 -3,.6 -2.5,.7 -3,.5 -2.8,.7 -3.1,.7 -3.1-.2 -3.1,0 -3.3-.3 -2.8,.4 -3.3,.5 -3.4,.9 -3.5,.2 -3.4,.6 -2.9,.1 -2.7,.7 -2.3,.5 -2.5,1 -2.4,.5 -3-.4 -2.8-1.3 -3.1-.9 -2.9-.3 -2.9,.4 -3,.9 -2.5,1 -2.2,.9 -2.3,.6 -2.7,.1 -3-.5 -2.9-1 -2.8-1.3 -2.7-.8 -3.1,0 -3.1,.3 -3.4,.5 -3.1-.5 -2.8-.7 -3-.3 -3,.3 -3.3,.1 -3-.5 -3.4-.6 -3.1,.5 -3.1,1.5"/>
<path d="M823.5,559.6l-2.5-1.7 -2.7-1.9 -2.5-2.2 -2.3-.2 -2.4,0 -2.5,.3 -2,.6 -1.7,1 -2.3,.8 -2.9,.6 -3.4,.1 -3-.3 -2.4-.5 -2.4-.5 -2.6-.4 -2.9-.5 -2.6-.6 -2.7-.9 -2.5-.8 -3.1-.4 -2.8,.1 -3,.1 -2.5,.1 -2.6,.3 -2.9,.1 -3.5,.3 -2.9,.1 -2.3-.2 -1.8-.2 -2.4-.4 -2.3-.3 -2.5-.6 -1.9-.7 -2-.4 -2.2-.1 -2.3,.4 -2,.6 -2.5,.6 -2.7,.5 -2.6,.8 -2,.7 -2.1,.2 -2.7-.3 -2.9-.4 -3.3-.5 -3.4-.5 -3.4-1.2 -3.3-.7 -3-.9 -3.1-.6 -3-.5 -2.8-.4 -3.1,.1 -2.9,.1 -3,.2 -2.8,.3 -2.7,.4 -2.4,.8 -2.5,.8 -2.5,.6 -2.6,.7 -2.2,.5 -2.4,.3 -2.5,0 -2.8,.2 -2.4,0 -2.6-.2 -2.7,.4 -2.7,.5 -2.7,.9 -2.7,.4 -2.8,.3 -2.3,.2 -2.3,.2 -2.6-.1 -2.8-.3 -2.6-.4 -2.5-.5 -2.7-.3 -3.2-.3 -3-.1 -3-.4 -2.6-.4 -2.6-.1 -1.7,.2 -1.7,.7 -2.4,.4 -3.2,.5 -3.1,.1 -2.3,.3 -2.3,.1 -2.9-.7 -2.8-.3 -2.4-.7 -2,0 -2.3-.3 -2.6,0 -2.3-.5 -2.3-.6 -2-.1 -2.5,0 -2.4-.1 -2.7,.1 -2.4,.5 -2.4,.6 -2.5,.3 -2,.9 -1.9,1.3 -2.1,1.7 -2.7,1.4 -2.3,1 -2.4-.4 -2-.6 -1.9-.4 -1.6,.2 -2,.7 -2.2,.5 -2.5,.6 -2.3,0 -2.2,.3"/>
<path d="M823.5,559.6l-4.5-.4 -4.2-.2 -3.9-.1 -4.3,.2 -4.9,.1 -5.3,.1 -5.1,.1 -4.5,.2 -4.6,0 -4.3-.1 -4.2-.2 -3.9,.1 -4,.3 -4.2,.7 -4,.4 -4.4,.6 -4.4,.3 -4.8,.6 -4.4,.3 -4.5,.1 -4.7-.1 -4.7-.1 -4.6,.1 -3.7,0 -4,0 -4.5,.1 -5,.3 -4.4,.5 -4.4,.5 -4.4,.8 -4.6,.8 -4.4,.6 -4.1,.2 -4.4,.2 -4.1,.2 -4.3,.3 -3.8,0 -4.5,.5 -4.8,.2 -5-.1 -4.2-.8 -3.9-1.1 -3.7-.6 -4.6-.2 -4.4,0 -4.9,.1 -5.1-.1 -4.7,0 -4.6-.5 -4.7,.1 -4.5-.1 -4.7,.4 -4.6,.2 -4.6,.2 -4.3-.2 -4.4-.5 -4.6-.6 -4.8-.4 -4.2-.3 -4.2-.2 -4.3,.2 -4.5,.2 -4.7,.2 -4.6-.2 -4.8,.3 -4.6,.4 -4.5,.5 -3.7,.2 -4,.1 -4.3-.2 -5.5-.1 -5.1,0 -5.2,0 -5.1,0 -5.2-.2 -5,.1 -4.5,.4 -4.2,.7 -3.8,.5 -4.1,.3 -4.2,.5 -4.5,.6 -4.6,.4 -4.6,.2 -4.6,.6 -4.1,.4 -4,.5 -4.1,.3 -4.1,.3 -4.2-.1 -4.6-.1 -4.8-.3 -5.1-.2 -4.8-.1 -4.6,.1 -4.3,.6 -4.4,.1 -4.8-.3 -4.6-.6 -4.3-.1 -4.4,0 -4.6,.3 -4.3,.1 -4.3,.5 -3.9-.1 -4.6,.1 -4.7,.2 -4.8,1 -4.8,1.4 -4.5,.9 -4.7,.4 -4-.1 -4.2,.2 -3.8,.5 -3.9,.4 -4.2,.7 -4.6,.9 -4.9,1.4 -4.8,1 -4.8,.6"/>
<path d="M823.5,559.6l-4.5,3.6 -4.8,3.4 -5.1,3 -5.5-.3 -5.3-.5 -5.1-.4 -4.5-.7 -4.2-.5 -3.8-.3 -4.6-.4 -5.3-.2 -5.3-.3 -4.7-.5 -4-.3 -4.1-.4 -3.8,0 -4.1-.1 -4.4,0 -4.9,0 -5,.4 -5,.5 -4.8,.7 -5.1,1 -4.7,.9 -4.8,.6 -5,.8 -5.4,.7 -5.6,.5 -5.2,.1 -5.1,0 -4.7,.3 -4.5,.1 -4.4,.1 -4.4,.2 -4.8,.5 -5,.4 -5.1,.3 -5.2,.7 -5.1,.3 -5.5-.1 -5.1-.1 -4.9,.3 -4.2,.3 -4.5-.3 -4.3-.6 -5.1-.4 -4.9-.2 -5.6,.1 -5.5-.1 -5.7,.4 -4.9,.2 -4.7,.6 -4.8,.4 -4.7,.7 -4.4,.7 -4.2,.4 -4.4,.2 -4.8,0 -4.9,0 -5,.4 -4.7,.6 -4.4,1.2 -4,.9 -4.1,.6 -4.6,.3 -5.3,.3 -5.3,.3 -4.8,.1 -4.6,0 -4.5,0 -4.4-.1 -4.4,.4 -4.2,0 -4.3,0 -4.3-.5 -4.8-.2 -4.7,0 -4.9,0 -4.7-.2 -4.6,.1 -5,.3 -5,0 -5-.3 -4.6-.1 -5,.4 -5.4-.1 -5.2-.5 -4.9-.3 -4.7,.3 -4.6,.7 -4.6,.2 -4.9-.1 -4.7-.3 -4.8,.2 -4.7,.3 -5.1,.1 -4.8-.3 -4.9,0 -4.1,.6 -4,.9 -3.7,.7 -4.3,.8 -4.7,.7 -5.2,.6 -5.5-.2 -5.3-.3 -4.8-.1 -4.7,.3 -4.7,.1 -4.4,.6 -4.4,.2 -4.4,.2 -4.9-.5 -4.7-.6 -4.5-1.2 -4.8-1 -4.9-.2 -5.4,.8 -5.1,.9 -5,.5"/>
<path d="M823.5,559.6l-5.3,1.5 -5.5,1.3 -5.4,.7 -5.3-.6 -5-.8 -4.7-.5 -4.7,0 -4.9,0 -5.2,.4 -5.6,.3 -5.5,.5 -5.4,.2 -5.3,.1 -5.3,.3 -4.9,.1 -5-.1 -5-.2 -5.6-.1 -6.2,.2 -5.8,.2 -5.2-.2 -4.2-.1 -4.6,0 -4.8,.3 -5.5,0 -5.3,.2 -5.5,.1 -5.2,.6 -4.7,.4 -4.6,.6 -4.5,.5 -4.8,.3 -4.4-.2 -4.4-.6 -4.4-.5 -4.9-.7 -5-.8 -4.9-.5 -5.1,.2 -5.2,.5 -5.2,.9 -5.3,.7 -5.6,1 -5.4,.6 -5.1,.8 -4.6,.5 -5.4,.5 -5.9,.5 -5.8,.1 -5.2-.2 -4.8-.7 -5.6-.6 -5.6-.8 -5.7-.3 -5.1-.3 -4.9-.1 -4.9-.5 -4.8-.1 -5-.4 -5.4,.2 -5.6,.1 -5.4,.3 -5.1-.2 -5-.3 -4.7-.5 -4.4-.6 -4.6-.9 -5.2-.9 -5.9-.4 -5.7-.3 -5.4,.2 -5.4,.2 -5.4,.2 -5.2-.1 -4.8-.4 -4.2-.3 -4.4,.1 -4.9,.2 -5.1,.2 -4.8,.4 -4.3,0 -4.7,.2 -5.3,0 -5.1,.1 -5.1,0 -5.1-.3 -5.7,0 -5.4,.1 -5.7,.2 -5.3,0 -5.4,0 -5.1,.2 -5,.6 -5,0 -4.5,.1 -4.3-.1 -4.4,0 -4.7-.1 -4.4,.1 -4.2-.1 -4.6-.2 -5-.7 -5.5-.7 -5.1-.4 -5.1-.2 -5,.5 -5.5,1.4 -5.8,1.5 -5.6,1.2 -5.5,.4 -5.1,0 -5.4,.1 -5.3,.1 -5.5,.4 -5.4-.5 -5.4,0 -5.5,.2 -5.3,.5 -5.4-.2 -5.1-1.3"/>
<path d="M823.5,559.6l-3.9,.2 -3.8,.1 -3.7,0 -4.1,0 -4.1-.1 -4.5,.1 -4.2-.2 -4.2,.2 -3.8,0 -3.5,.1 -3.8,.1 -3.8,.1 -4.1-.1 -3.7-.2 -3.9-.2 -4,0 -4.1,.2 -3.8,.1 -4.4,0 -4.7,0 -4.4,.1 -4-.1 -3.5-.1 -4,0 -4,.2 -3.7,0 -3.5-.1 -3.5,.1 -4.2,.5 -4.4,.2 -4.1,0 -3.7-.1 -3.7-.3 -3.7,0 -3.6,.2 -3.7,.3 -3.7-.2 -4.2-.6 -3.7-.2 -4-.2 -3.9-.1 -3.6-.6 -4-.5 -4-.5 -4.6-.5 -3.9-.4 -3.8-.5 -4.1-.3 -4.1-.1 -4.7-.1 -4-.1 -3.9-.5 -3.2-.3 -3.5,.1 -4.1,.4 -4.1,.4 -4.1,0 -3.6-.1 -3.7,.1 -4.4,.4 -4.5,.1 -4.9-.1 -4.1-.5 -4.3-.2 -3.9,.1 -4.1,.2 -3.8,.1 -4-.5 -4-.3 -4.3-.6 -4-.6 -4.1-1 -3.8-.5 -3.9-.3 -3.9,.4 -3.9,.2 -4.1,1 -4,1.1 -4.1,.9 -4,.5 -4,.4 -3.7,.6 -3.9,.3 -3.9,.2 -4.7,.4 -4.2,.4 -4.5,0 -3.8-.4 -3.7-.1 -3.8,.3 -3.9,0 -4.3-.7 -3.6-1 -3.6-.4 -3.2,.5 -3.4,.6 -3.4,.4 -4-.5 -4.2-.1 -4.1-.7 -4.1-.1 -3.7,0 -3.8,.9 -3.7,.7 -4,0 -3.4-1 -3.2-.7 -3.3-.4 -4.2,0 -4.2-.9 -4.3-.2 -4.2-.1 -4.5,.5 -4,.2 -3.8,.5 -4.1-.5 -4.5-1 -4.3-.9 -4.3-.2 -4.5-.3"/>
<path d="M823.5,559.6l-5.6-.2 -5.2-.1 -4.7-.3 -4.6-.1 -4.8-.1 -5.2-.1 -5.4,.1 -4.6,.2 -4.6,.5 -4.5,.3 -5.2,.1 -5.5-.1 -5.5,0 -5.2,.1 -4.6,.1 -5.2,.1 -5.1-.1 -5.4-.4 -4.8-.3 -4.7-.3 -4.8,0 -4.7-.1 -5-.2 -5-.1 -5.4-.1 -5.2,.2 -5.1,.3 -4.5,.1 -5.3-.1 -5.5-.2 -5.8-.1 -5.3-.1 -5.1-.3 -4.9-.1 -5-.2 -5.4-.1 -5.6-.4 -6-.3 -5.4-.4 -5.5-.8 -4.9-1.1 -5.1-.7 -4.7-.6 -5.1-.2 -5.3-.4 -5-.2 -4.7,.2 -4.5,.6 -5.2,.5 -5.6,.1 -5.5-.2 -5.3-.2 -5.3,0 -5,.2 -4.9,0 -4.5,.1 -4.9,.2 -4.7,.5 -5.1-.2 -4.8-.2 -4.8-.2 -4.7,.2 -4.9,.2 -5.3-.3 -5.5-.7 -5.7-.7 -5.5-.3 -5.1,.5 -4.6,.5 -4.6,.8 -4.7,.1 -5-.1 -4.9-.5 -5.1-.2 -4.9-.3 -4.9-.1 -5.2-.2 -5.1,0 -5-.1 -5.2-.4 -5.2,0 -5.2,.4 -4.4,.7 -4.5,.8 -4.7,0 -5.4-.3 -5.3-.7 -5.3,.1 -5.1,.6 -5.3,.3 -5.4,.1 -5.2,0 -5,.8 -4.7,.3 -4.6-.2 -4.7-.3 -5.3-.3 -5.7,.4 -6.2,.4 -5.9,.3 -5.6,0 -5.3,.2 -5.1,.6 -4.6,.3 -4.3,.3 -4.4,.5 -5.2,.7 -5.3,.6 -4.9,.6 -4.6,.4 -4.5,0 -4.9-.4 -4.9,.2 -4.7,.4 -4.6,.3 -4.6-.4 -4.8-.1 -5-.5 -5.2,0 -5.1-.2"/>
<path d="M823.5,559.6l-4.3-.8 -4.4-.6 -4.5-.7 -4.6,0 -4.5-.1 -4.3,.1 -4.2,.2 -4.1-.1 -4.1-.3 -4.5-.6 -4.8-.5 -5.2-.3 -4.8-.4 -4.4-.2 -4.3-.2 -4.6,.1 -4.9,.1 -4.8,.5 -4.8,.6 -4.6,.8 -4.9,.6 -4.7,.5 -4.8,.4 -4.4,0 -4,0 -3.9-.2 -4.2-.1 -4.6-.3 -4.5-.3 -4.1-.3 -4.1-.1 -3.9-.3 -4.2-.3 -4.2-.3 -4.2,.2 -3.8,.4 -3.6,.7 -3.9,.4 -4.1,.4 -4.6-.1 -4.3,.4 -4.5,.3 -4.3,.3 -4.1,.1 -4.3-.1 -4.3-.3 -4.4-.3 -4.4,0 -4.3,.4 -4.3,.4 -4.4,.8 -4.8,.5 -4.5,.5 -4-.2 -4.1,.3 -4,.3 -3.8,1 -3.7,.6 -3.7,.6 -4.1,.2 -3.9,0 -4.3-.2 -4.5-.2 -4.6-.3 -4.6-.6 -4.5-.7 -4.7-.3 -4.6,.1 -4.6,.8 -4.6,.7 -4.7,.8 -4.5,.2 -3.8,.2 -3.6,0 -3.8-.2 -3.9,.1 -4.5-.4 -4.1-.7 -3.6-1.2 -3.3-.4 -3.3,.1 -4.5,.1 -4.6,.3 -4.9,.2 -4.3,.6 -4.2,.2 -4.4,.2 -4.2,0 -4,.2 -3.6,0 -3.5,.2 -3.8,.4 -4.4,0 -4.6-.2 -4.6-.2 -4.5,.1 -4,0 -3.8-.4 -3.6-.3 -4.2,.4 -4.4,.5 -4.4,.6 -4,.7 -4.1,1.1 -4.2,.8 -4.2,.5 -3.9,.3 -4.3,1 -4.7,.7 -5.1,.8 -4.8,.3 -4.6,.1 -3.7-.4 -4.2-.1 -4.4,.1 -5-.2 -4.2,.1 -4.3-.2 -3.5,.4 -3.3,.5"/>
<path d="M823.5,559.6l-5.3,3.2 -5,3 -4.7,2.8 -5,0 -5.1,0 -5.3-.3 -5.1-.7 -5-.6 -5-.5 -4.7-.2 -5.2-.3 -5.2-.6 -5.1-.4 -5.1-.1 -4.9,.2 -5.5,.3 -5.4,0 -5.5,.2 -5.3,.5 -5.3,.9 -4.7,.8 -4.8,.5 -4.9,.5 -5.2,.7 -4.6,.7 -4.4,.9 -4.3,.8 -4.7,.8 -4.6,.6 -4.8,.2 -5-.3 -5.2-.5 -5.5-.3 -5.7-.3 -5.6-.4 -5-.7 -4.9-1.1 -5.6-.9 -5.6-.8 -5.8-.3 -5.6-.3 -5.8-.3 -5.9-.3 -5.8-.6 -5.5,0 -5.3,0 -4.7,0 -4.6-.4 -4.4-.3 -4.5,.3 -4.8,.8 -4.7,1.5 -4.8,.8 -4.9,.5 -5.1,.3 -5.1,1.1 -5,.8 -4.6,.3 -4.7-.2 -5,0 -5-.1 -5.3,0 -5,.1 -5.2,.2 -4.7,.2 -5,.5 -4.8,.7 -5.3,.5 -5.2-.5 -5.2-.4 -5-.2 -4.6-.1 -4.8-.3 -4.6-.7 -4.4-.2 -4.8-.2 -5.4,.4 -5.1,.1 -5.1,.2 -5.1,.3 -5.4,.8 -5.2,.9 -5.4,1 -5.3,.6 -5.8,.3 -5.4-.2 -6-.2 -5.7-.7 -6,.2 -4.9-.3 -4.9-.3 -4.4-.5 -4.7-.3 -4.6,.1 -4.6,.2 -4.7-.3 -4.4-.5 -5.2-.8 -5.2,0 -5.2,.3 -4.4,.4 -4.2,.2 -4.3-.2 -5,0 -5.1-.6 -4.8-.8 -4.5-1.4 -4.6-1.2 -5-.9 -5.1-.9 -5.1-.5 -4.9-.3 -5.1,.1 -5.3,.7 -5.5,1.3 -5.2,.4 -5.4-.3 -5.4-.7 -5.6,.6 -5.5,1.6"/>
<path d="M823.5,559.6l-4.1,.6 -4.5,.8 -5.1,.8 -5.1,.4 -4.8,.3 -4.4,.3 -4.4,0 -4.6,.2 -4.8,.2 -4.8,.1 -5.1-.1 -4.9,.1 -4.7,.4 -4.5,.5 -5.3,.1 -5-.2 -5-.1 -4.3,0 -4.5-.2 -4.9-.6 -5.1-.5 -5.5-.2 -5.5,.1 -6-.1 -5.3,0 -4.6,.2 -4.7,.2 -4.9,.2 -5.4-.1 -5.1,.2 -5-.1 -4.5,.1 -4.7-.1 -4.5,0 -4.3-.1 -4.4-.1 -4.3,0 -4.5-.1 -4.7,0 -4.3,0 -4.9,.1 -4.5,.1 -5.3,0 -5,.3 -4.8-.1 -4.2,.3 -4.5,.1 -4.9,0 -5.2-.3 -4.6-.2 -4.9,.1 -4.6,.3 -4.4,.2 -3.9,.1 -4.2-.2 -4.5,.1 -4.5,.1 -4.4-.2 -4.6-.5 -4.7-.2 -4.9,.5 -4.9,.5 -5.1,.2 -4.9,.1 -4.4,.3 -4.4,.4 -4.7,.1 -4.8,0 -4.7-.5 -4.9-.3 -4.9-.2 -5.5,.3 -5.1,.4 -5.5,.1 -4.9-.1 -5.1-.4 -4.5,0 -4.5-.1 -4.5-.2 -5.3-.1 -5.2,0 -5.1,.2 -4.9-.3 -4.4,0 -4.4,.3 -4.2,.5 -5.1,0 -5.3-.2 -5.6,.1 -5.1,.2 -5.4,.2 -5.6,.3 -5.6,0 -5.4-.3 -5-.6 -4.7-.2 -4.3-.1 -4.4-.2 -4.3-.4 -4.7,.1 -4.9-.1 -5.1,.1 -4.8-.2 -4.9,0 -5.1,.2 -5.4,.6 -5.3,.7 -5,.6 -4.7-.6 -4.1-.6 -4.1-.1 -4.7,.6 -5-.2 -5.3-.9 -5-.7 -5.4,.6 -5.3,1.2 -5.4,1.2 -5.1,.4 -5.3,.2"/>
<path d="M823.5,559.6l-2.3,.1 -2.9-.1 -2.9,.2 -2.8,.2 -2.2,.4 -2.1,.1 -2.8-.1 -3.2-.2 -3.3,0 -3.4-.2 -3.1-.1 -3.3-.1 -3-.1 -2.7,.1 -2.6,.3 -2.3,.4 -2.4,.4 -2,0 -2.1-.2 -2.7,0 -3.3,.3 -3.1,.3 -2.6,.1 -2.5,.4 -3,.2 -3.2,.6 -3.2-.1 -2.9-.2 -2.9-.1 -2.9,.3 -3.2,.2 -3.3,.2 -3.1,.4 -2.8,.4 -2.9,.2 -2.7-.2 -3.2-.3 -2.7,0 -3,.1 -2.6,.3 -3.3-.1 -3.6,0 -3.6-.2 -3.4,0 -2.9-.3 -2.9-.1 -2.7,.1 -2.9,.6 -2.5,.5 -2.7,.2 -2.7,.1 -2.9,.4 -2.6,.7 -2.9,.8 -2.5,0 -2.7-.2 -2.3-.6 -2.4-.4 -2.3-.4 -2.5-.2 -3,.4 -3,.1 -3.6,.1 -4.2-.3 -4.1-.4 -3,.2 -2.3,.4 -2.8,.8 -3.2,.2 -3.5,.7 -2.9,.6 -2.8,.3 -3-.1 -3.4-.4 -3.3,.1 -2.7,.1 -2.1,.5 -2.1,.5 -2.3,.3 -2.1,.6 -2.1,.1 -2.6-.3 -3.1-.8 -3.2-.8 -3.1-.2 -3.5,.4 -3.8,.8 -3.4,.2 -3.2,.3 -3,.1 -3-.1 -2.9-.6 -2.7-1.3 -3-.8 -2.7-.8 -3.1,0 -3.1,.2 -3.2,.4 -2.9,.1 -2.3-.2 -2.4-.6 -2.4,.2 -2.6,.4 -2.5,.8 -2.3,.3 -2.8,.2 -2.5,.2 -2.6-.2 -2.5,.1 -3,.2 -2.7,.3 -2.5,.8 -2.3,.2 -2.3,0 -2.5-.6 -2.2-.1 -2.2,0 -2.4-.3 -2-.7 -1.6-1.2"/>
<path d="M823.5,559.6l-4.8,.4 -4.8,.3 -4.8,.1 -4.4,0 -4.4,0 -4,.2 -3.9-.1 -3.7-.3 -4.7-.4 -5.5-.1 -5.1,.1 -5,.2 -4.1,.1 -4.7,.3 -4.5,.1 -4.7,.1 -4.4-.1 -4.2-.2 -4.6-.4 -4.5-.1 -4.7,.4 -4.2,.6 -4.5,.6 -4.3,.4 -4.9,.2 -4.5,0 -4.9-.2 -4.2-.3 -4.5-.4 -4.1,.1 -4.1,.4 -4.3,.2 -4.3-.1 -4.6-.4 -3.9-.4 -4.1-.3 -3.6-.2 -4.1,.3 -4.4,.2 -4.5,.1 -4.4-.2 -4.2,.2 -4.6-.2 -4.6-.2 -4.8-.2 -4.6,.5 -5.2,.7 -4.6,.1 -5-.1 -4.3-.2 -4.5,.5 -4.2,.3 -4.3,0 -4.4-.4 -4.8-.5 -5-.4 -5.1-.6 -4.6-.3 -4.4-.6 -4.4-.1 -4.3-.5 -4.3-.4 -4.4-.6 -4.6-.2 -4.5,.2 -4.1-.1 -4.3-.1 -4.5-.3 -4.5-.3 -4.4-.4 -4.2-.8 -4.8-.5 -4.9-.3 -4.7-.3 -4.4-.5 -4-.6 -4.5-.5 -4.6-.4 -5.2-.5 -5.3-.7 -5.1-1 -4.5-.9 -4.2,.1 -4,.4 -4.3,.8 -4.5,.7 -4.6,.7 -4.7,.6 -4,.3 -4.4,.4 -3.9,.7 -4.1,.9 -4,.9 -4.5,.3 -4.6,0 -4.6-.7 -4.6-.7 -4.9-.4 -5.3,.4 -5,.6 -4.6,.8 -4.6,.3 -4.7,.1 -4.5-.2 -4.4-.3 -4.3,.3 -4.1,0 -4.4-.2 -4.3,.2 -4.4,.1 -4,.4 -4.1,.1 -4.6-.2 -4.5-.5 -4.8-.8 -4.5-.6 -4.9,0 -5.2,.5 -5.4,.9 -5,.5"/>
<path d="M823.5,559.6l-3.4,0 -2.9,.2 -3.2,.2 -3.2,.3 -3.5-.1 -3.1,.1 -3,0 -3.2,.2 -3.5,.2 -3.2-.1 -3.1-.2 -2.9,.1 -2.8,.4 -2.7,.3 -2.8,.4 -2.3,.3 -2.4,.3 -2,.2 -2.4,.1 -2.5-.2 -2.8-.3 -2.5,.2 -2.7,.3 -2.6,.5 -2.9,.1 -2.7,.2 -2.5,0 -2.3-.1 -2.7,0 -2.8,.2 -2.9,.3 -2.4,.2 -2.5-.1 -2.6-.4 -2.5,.1 -2.6,1 -2.5,1.3 -2.5,.5 -2.6,.1 -2.8,.1 -2.4,.4 -2.2,.3 -2.2-.1 -2.5-.2 -2.9,0 -2.8,.5 -2.5,.3 -2.8-.2 -2.8-.3 -3.3-.1 -3.2,.1 -3.3,0 -3.6,.1 -3.5-.1 -3.9,.2 -3.5-.1 -3.6,.2 -3.1-.2 -3.1,.5 -2.4,.6 -2.6,.5 -2.5,.1 -2.8-.3 -2.9-.2 -3-.6 -2.8-.2 -2-.2 -1.5,.2 -1.8,.3 -2.8,.5 -3.6,.6 -3.5,.5 -3.4,.3 -3,.5 -2.9,.2 -2.7,.6 -2.7,.5 -2.5,.2 -2.6,.3 -2.6,.5 -2.9,.5 -3.3,.5 -3.6,.3 -3.7,.6 -3.1,.3 -3.2,.3 -2.9,.4 -2.8,.5 -2.7,.1 -2.4-.3 -2.4-.4 -2.2-.4 -2.3,0 -2.7,.1 -2.9,.1 -3,0 -2.7,0 -2.8,.1 -3.1,.1 -3.4-.5 -2.9-.9 -2.8-1.5 -3.1-.5 -3.1,.1 -3.2,.4 -2.9,.2 -3.4,.1 -3.1-.3 -3.2-.2 -3.1-.5 -3.2,0 -2.7,.3 -2.8,.4 -3.2-.1 -3.2-.3 -2.8,.1 -2.6,.3 -2.9-.2 -2.9-.3 -2.7-.4"/>
<path d="M823.5,559.6l-4.8-.2 -4.7-.1 -5,0 -5.5,0 -5.2-.1 -5,0 -4.5,0 -4.7,.2 -4.1-.2 -3.9-.3 -4.3-.4 -4.3-.3 -4.5,.2 -4.2,.4 -4.2,.2 -3.8,0 -4.6-.2 -4.4,.2 -4.7,.1 -4,0 -4.2-.2 -3.9,0 -4.2,.2 -4,.3 -4.4,.1 -4.6,.2 -4.8,0 -4.7,0 -4.7-.1 -4.9,.1 -5.2,0 -5.4,.5 -5.4,.2 -5.6,.3 -5.1,.1 -4.8-.2 -4.4-.3 -4.5-.6 -4.8-.2 -4.9-.4 -4.7-.1 -4.2-.1 -4.3,0 -4.9,.2 -4.8-.2 -4.9,0 -4.2,.3 -4.5,.6 -4.5,.6 -4.7,0 -4.6,0 -4.8-.4 -4.8-.1 -5,.1 -4.6,.1 -4.5,.1 -4.4,.2 -4,.3 -4.1,.5 -3.7,.2 -4.2,.2 -4.1,.4 -4.4,.4 -4.6,.1 -4.5,.1 -4.7,0 -4.7,.4 -4.7,.1 -4.3,.1 -4.2,.2 -4.2,.5 -4.2,.6 -3.9,.5 -4,.1 -3.8,0 -4.5-.2 -4.2-.2 -5-.3 -4.4-.1 -5.4,.1 -5.1,.4 -5,.3 -4.4,.1 -4.5-.2 -4.7-.6 -4.5-.6 -4.2-.3 -4.1-.2 -4.2,.1 -4.8-.7 -5-.3 -5.1-.1 -4.9,.7 -5,.6 -5.3-.2 -5.5-.5 -5.6-.3 -5-.1 -4.6,.3 -4.3,.5 -4.2,.6 -4.3,.2 -4.2,0 -4.4,.4 -4.6,.4 -4.8-.1 -5.2-.2 -5.3,.6 -5.6,.3 -5,.2 -4.5-.7 -4.2,.1 -4.1,.3 -4.2,.1 -4,0 -4.1-.9 -4.4-1.2 -4.7-1.5 -4.9-.9 -4.9-.7"/>
<path d="M823.5,559.6l-5.3-1.5 -5.2-1.4 -5.4-1.2 -5.6,.4 -5.7,.5 -5.7,.5 -5.5,.4 -6,.5 -5.6,.4 -5.8,.2 -5.7,.2 -5.3,.2 -5,.3 -4.7,.1 -5.1,.1 -4.7,0 -4.8,.1 -5,.2 -5.5,0 -5.4,0 -5.1-.1 -4.8,.2 -5-.1 -4.9-.1 -5.6,.2 -5.9,.3 -6.2,.3 -5.3,.2 -4.4,.5 -4.3,.7 -4.6,.6 -5.1,.5 -5.2,.4 -5.2,.3 -5.3,.2 -5.7,.6 -5.3,.5 -5.1,.4 -4.8,0 -4.8,0 -5.1,.3 -5,.3 -5.2,.2 -4.8-.2 -4.9-.6 -5.3-.4 -5.6,0 -5.6,.2 -5.3,.1 -5,0 -5,.1 -4.4-.3 -4.4,.1 -4.9-.1 -5.2,.1 -5.2,0 -5,.5 -5.5,.6 -5.5,.5 -4.9,.4 -4.8,.4 -5.1,.3 -5.4,0 -5.4,.2 -5.6,.1 -5.5,.2 -5.1,.4 -4.7,.3 -4.8,.7 -5.2,.4 -5.5,.3 -5.1-.4 -5-.6 -5.4-.6 -5.1-.6 -4.8,.1 -4.4,.1 -5.2,.6 -5,.3 -4.8,.5 -4.9,.4 -5.4,.3 -6.1,0 -5.6,.3 -5.5,.3 -5,.4 -5.4,.3 -5.2,.5 -5.5,.8 -5,.5 -5.1,.6 -5,.2 -5.1,.5 -5,.1 -4.9,.3 -4.7-.1 -5.3,.1 -5.1,.1 -5.2,.2 -5.1-.1 -5.3-.4 -5.6-.4 -4.9-.4 -4.9-.1 -4.8,.2 -5.4,.6 -5.4,1 -5.3,1 -5.1,.8 -5,.1 -4.9,.2 -5.2,.4 -5.6,.5 -5.6,.2 -5.6,.2 -5.5,.4 -5.4-.1 -5-.2 -5-1.2 -5.2-1.7"/>
<path d="M823.5,559.6l-4.1-.6 -4.3-.3 -4.5-.4 -4.5-.1 -4-.2 -3.9-.3 -4.2-.1 -4.4-.2 -4,0 -4.1-.1 -4.3,.1 -5.2-.1 -4.9,0 -4.7,0 -4.5,.3 -4.8,.2 -5.2,.4 -5,.2 -4.8,.2 -4.3,.1 -4.4,.1 -4.7,.1 -4.7,.1 -4.9,.1 -4.9-.1 -5.2,.1 -5.1,.4 -4.5,.3 -4.5,.5 -4.7,.4 -5.4,.8 -5.7,.7 -4.9,.8 -4.7,.4 -4.3,.4 -4.3,.3 -4.2,.2 -4.1,.3 -4.1,0 -4.2-.1 -4.4-.4 -4.3,0 -4,.3 -4.1,.3 -4.4,.4 -4.7,.4 -4.9,.4 -4.3,.2 -4.7,.1 -4.1,0 -4.2-.1 -4.1-.3 -4.4-.3 -4.5,.3 -4.7,.5 -4.7,.4 -5-.1 -4.9,.2 -4.9,.1 -4.8,0 -4.8,.2 -4.6,.1 -4.2,.6 -4.5,.1 -4.9,.2 -5.4-.1 -5,.1 -4.3-.2 -4.5,.2 -4.6,.3 -5,.4 -5-.4 -4.8-.7 -4.7-.2 -4.7,.2 -4.2,.6 -4.5,0 -4.3-.1 -4.9,0 -5,.6 -5.5,.2 -5.2,.3 -4.7,0 -3.8,.5 -3.9-.3 -4.1-.2 -4.9-.2 -5,.3 -5.3,0 -5-.1 -4.3-.2 -4.4-.3 -4.5-.3 -4.6-.4 -4.2-.4 -4.2-.4 -4-.4 -4.2,.1 -4.4,.5 -4.3,.3 -4.4,.6 -4.2,.9 -4.4,1.2 -4.6,.4 -4.6-.1 -4.5-.1 -4.2,0 -4.1-.1 -3.9,.2 -4.2,.3 -4.6,.6 -5.2,.2 -5.4,.2 -4.9,.2 -4.6,.2 -4.2,.7 -4.1,.1 -4.2-.4 -4.4-1.1 -4.8-.8"/>
<path d="M823.5,559.6l-4.7-.2 -4.4-.2 -4.1,.1 -4.1,.3 -4.1,.5 -4.5,.3 -4.9,.4 -4.5,.3 -4.6,.2 -4.5-.1 -5.3-.2 -5.2-.4 -5.3-.4 -4.6-.3 -4.6-.2 -4.5-.3 -4.4-.3 -4.2-.1 -4.2-.1 -4.7,0 -5-.2 -5.2,0 -4.7,.1 -4.4,.2 -4-.1 -4.4,.1 -4.6,.1 -4.8,.5 -4.9,.2 -5.3,.5 -5.1,.2 -5-.1 -4.3-.1 -4.4-.2 -4.2,.2 -4.4,0 -4.4,.1 -4.7-.1 -4.7-.2 -4.7,0 -4.4-.3 -4.5-.2 -4.3-.1 -4.1-.1 -4-.1 -4-.2 -4.5-.2 -4.4,.4 -4.7,.1 -4.8,.4 -4.9-.3 -4.4-.2 -4.5,.1 -4.9,.7 -5.5,1 -5.3,.8 -4.9,.6 -4.8,.3 -5,0 -5.1-.1 -4.9-.6 -4.8-.7 -4.9-.6 -5-.1 -4.9,.1 -4.8,.1 -5.2,0 -5,0 -4.6,0 -4.3-.1 -3.9,0 -4.6,.3 -5.2,.4 -5.8,.8 -5.3,.7 -5.1,.7 -5,.6 -5.4,.9 -4.7,.6 -4.8,.3 -4.7,0 -4.6-.6 -4.5-.6 -4.7-.9 -4.9-.4 -4.7-.3 -4.2,.2 -3.8,0 -4,.2 -4.4,.3 -4.9,.2 -4.6-.1 -4.5-.4 -4.3-.2 -4.3,.3 -4.6,.3 -4.7,.5 -5.2,.6 -5.1,.6 -4.5,.5 -4.1,0 -4.3,.3 -4.8,.5 -4.7,.5 -4.6,.2 -4.3-.1 -4.2-.4 -4-.6 -4-1.1 -3.8-.6 -3.8-.1 -3.8,.9 -4.6,.6 -4.7-.2 -4.9-.7 -4.7-.8 -4.5,.2 -4.9-.4 -5-.3 -5.5-.7"/>
<path d="M823.5,559.6l-4-.9 -4.4-1.2 -5.2-1.1 -5.4,.1 -5.7,.4 -5.3,.6 -4.8,.5 -4.7,.5 -5,.3 -5,.5 -4.8,.3 -4.5,.3 -4.8,.1 -5.2,.1 -5.2-.1 -4.5-.2 -4.6,.2 -4.7,.2 -5.4,.1 -5.3,.1 -5.3,.2 -4.9-.1 -5,.1 -5,.6 -4.5,.7 -4.3,.5 -4.7-.2 -5.2-.5 -5.2-.5 -5.2-.5 -5.5-.5 -5.5-.5 -5.3-.3 -5-.4 -5-.2 -5.1,.1 -5,.5 -5.4,.6 -5,.4 -5,.4 -4.9,.4 -5.3,.5 -5.7,.3 -5.7,.1 -6.1-.3 -5.9-.2 -5.7,.1 -5.4,.1 -5.4,.2 -5.2,.2 -5.3,.4 -5.4,.3 -5.7-.1 -5.3-.7 -5-.8 -4.3-.6 -4.6-.2 -4.5,.3 -4.8,.6 -4.9,.3 -5.4,.1 -5.4-.4 -5.1-.4 -4.8-.2 -5.3-.2 -5.3-.1 -5.8-.7 -5.6-.4 -5.2-.6 -4.9-.1 -5,.1 -5.4,.8 -4.9,.7 -4.6,.4 -4.1,0 -4.5-.4 -4.6-.2 -5-.2 -4.8,.6 -4.8,.6 -4.8,0 -4.8-.3 -5,.3 -4.7,.8 -4.9,1 -4.5,.2 -5.2,.2 -5.5-.3 -5.9,.6 -5.2,.8 -4.7,1 -4.5,.4 -4.8,.7 -4.9,.7 -5.4,.9 -5.6,.1 -5.6-.1 -5.4,0 -5.3,.6 -5.4,.3 -5.3,.4 -5.2-.1 -4.9-.2 -4.9-.4 -5-.1 -5.2,.8 -4.9,.9 -4.5,1.2 -4.4,.8 -4.5,.3 -4.9-.3 -4.5-.6 -4.5-.3 -4.6,.2 -5,0 -5.6,.1 -6-.2 -5.9,0 -5.8-.3 -5.8-.2"/>
<path d="M823.5,559.6l-1.8-.2 -2.3-.4 -2.8-.4 -2.8-.3 -3.2-.1 -2.9-.3 -3.1-.4 -2.9-.1 -3,.2 -2.7,.3 -2.8,.2 -2.6-.1 -2.4-.1 -2.2,.2 -2.3,.2 -2.9,0 -2.5-.2 -2.7,.1 -3.1,.2 -3.6,.6 -3.4,.3 -3,.1 -2.5,0 -2.2-.4 -2.4-.2 -2.5-.5 -3-.4 -2.8-.3 -3.1,.3 -3.2,.4 -3.6,.3 -3.4,.1 -3-.2 -2.9-.2 -3.1-.2 -3.1-.1 -2.5-.1 -2.2-.2 -1.6-.3 -2.2,0 -2.2-.7 -2.9-.3 -3.3-.6 -3.4,.1 -3.6,0 -3.3,.3 -3.3,.1 -3.2-.1 -3-.2 -3.1,.3 -3.1,.7 -2.9,.6 -3.1,.5 -3,.1 -3.1,.5 -3.1,.4 -3.1,.2 -3.2-.4 -3.2-.7 -3.4-.8 -3.6-.5 -3.3-.7 -3.1-.4 -3.2,0 -2.9,.6 -2.9,.4 -2.9,.4 -3.3-.2 -3.2,.2 -3,.4 -3.2,.6 -2.7,.4 -2.9,.5 -2.8,.2 -3,.2 -2.7,0 -2.7-.1 -2.9,.1 -3.1-.2 -3.6,.2 -3.7,.1 -3.5-.1 -3.1,.1 -2.9-.1 -3,.4 -2.5,.2 -2.6,.2 -2.2-.1 -2.5-.3 -2.3,0 -3.1,.1 -3.1,.5 -3.4,.4 -3.6,.7 -3.3,.6 -3.4,.4 -3.3,.3 -3.6,.5 -3.5,.2 -3,.3 -2.9,.1 -2.6,.2 -2.2,.1 -2.3-.2 -2.2,0 -2.8-.1 -2.8,.2 -3.1,.3 -2.7,.4 -3,.5 -3,.1 -2.9,.1 -2.4,.5 -2.9,.2 -3.1-.8 -3.4-1.2 -3.2-1.3 -3.7-.1 -3.5,.1 -3.3,.9"/>
<path d="M823.5,559.6l-5.6,.4 -5.7,.4 -5.3,.4 -5.6,.1 -5.5,.2 -6.2,0 -5.8,.2 -5.7,.4 -5.3,.6 -5.2,.6 -5.3,.6 -5.4,.4 -5.7,.2 -5.4-.2 -5.2,0 -4.9-.3 -5.1-.3 -4.5-.5 -4.8-.7 -4.7-.2 -5.5-.1 -5.3,.5 -4.5,.3 -3.9,.5 -3.7,.1 -4.5,.2 -5.1-.2 -5.1,.1 -4.9,.2 -4.7-.2 -5.1-.2 -4.9-.3 -4.9,.1 -4.7,.1 -5,.5 -5,.4 -5.7,.4 -5.7,.4 -5.5,.2 -5.3,.1 -5-.2 -4.8-.7 -4.9-.9 -4.8-.6 -5,0 -5-.1 -5.4,.2 -5.6,.2 -4.9,0 -4.7,.1 -4.6,.4 -5.4,.3 -5.2-.2 -5.3-.7 -4.8-.4 -4.7-.1 -4.9,0 -4.8-.1 -5,.3 -4.5,.3 -4.7,.5 -4.7,.8 -4.9,.4 -4.6,.3 -4.8-.3 -5.4-.2 -5.7-.3 -5.7-.1 -5,.1 -5-.1 -4.8-.4 -5.4-.7 -5.1-.2 -4.6,.8 -4.2,1.1 -4.3,.8 -5,.1 -5.5,.2 -5.3-.1 -4.9-.1 -4.7,0 -4.5-.1 -4.7,.1 -4.7-.1 -4.8-.2 -4.8-.5 -4.7-.2 -4.9,.3 -4.4,.7 -4.8,0 -5.3,.1 -5.5,.1 -5.5,.3 -4.9,.5 -4.8,.5 -4.1,0 -4.1-1 -4.1-.8 -4.7,.1 -4.7,.8 -4.6,.6 -4.5,.6 -4.6,.8 -4.8,1.1 -4.9,1.2 -4.8,.4 -4.5,.3 -4.5-.4 -4.5,.1 -4.4-.6 -3.9-.4 -4.3-.3 -5.2-.2 -5.3-.6 -5.3-.6 -4.7-.2 -5.3,.5 -4.9,.7 -5.1,.4 -4.5,.1"/>
<path d="M823.5,559.6l-5.3,.6 -5.1,.4 -4.8,.3 -5.3-.1 -5.5-.2 -6-.1 -5.8,.1 -5.4,.3 -5,.4 -4.7,.5 -5,.1 -4.8,.2 -5,.2 -5.2,.5 -5.4,.1 -5.3,0 -5,0 -4.8,.2 -4.7,0 -4.7-.1 -5.1-.3 -5-.3 -5-.4 -5.1-.4 -5.2,0 -4.9,.3 -4.2,.4 -4.2,.6 -4.7,.7 -5.4,.9 -5.4,.5 -5.4,.5 -4.9,0 -5.2-.2 -5.5-.3 -5.5-.2 -4.9,.1 -4.3,.1 -5.1,.1 -5.1-.5 -5.4-.7 -4.8-.3 -4.7,0 -4.5,0 -4.4-.4 -4.5,.1 -4.4,.3 -5,.6 -4.8,.3 -4.9,.1 -4.5,.2 -4.8,.3 -4.7,.6 -5.1,.5 -5.1,.5 -5.5,.4 -5.4,.6 -5.1,.7 -4.6,.8 -4.6,.5 -5.1,.1 -5.1-.6 -5.5-.6 -5.5-.5 -5.6-.5 -5-.4 -5.1-.3 -4.9,.4 -4.9,.2 -5.2,.3 -5.6,.2 -5.7,.5 -4.7,.7 -4.4,.1 -4.3-.2 -5.1-.1 -5,.1 -4.9,.1 -4.5,.2 -4.7,.3 -4.4,.6 -4.5,.1 -5,.1 -5.3,.3 -5,.6 -4.5,.7 -4.1,0 -4.6-.2 -4.9,0 -5.1,.2 -5.1,.3 -5.4,.5 -5.3,.7 -5,.6 -4.7,.2 -4.8-.2 -5.2,.1 -5,.1 -5.1,.1 -4.6-.2 -4.2-.5 -4.4-.3 -4.9,.3 -5.5-.2 -5.1,0 -4.8-1.6 -4.9-.8 -4.9-1.1 -5.5,.2 -5.7-.4 -6.2-.2 -5.3,.3 -5,.7 -5,.4 -5.1-.1 -5.1,.2 -5.4,.5 -5.6,.6 -5.4,.6 -4.8,.7"/>
<path d="M823.5,559.6l-4.2-.8 -4.4-.9 -4.4-1.2 -4.5-.4 -4.6-.6 -4.9-.5 -5.3-.4 -5.4-.1 -5.7-.1 -5.5-.2 -5.4-.3 -4.9-.2 -4.9-.1 -5.3,.1 -5.9,.1 -5.2,.2 -4.8,.2 -4.9,.5 -5.4,.7 -5.7,.8 -5.2,.6 -5,.5 -4.9,.1 -5,.3 -4.6,.1 -4.9,.5 -4.5,.5 -4.5,.5 -4.2-.1 -4.9-.2 -5.6-.2 -5.5-.5 -4.8-.4 -4.1-.2 -4.2,.5 -4.3,.7 -4.3,.1 -4-.1 -4.2,.2 -3.9,1.1 -4.3,1.1 -4.2,.7 -5.1,.4 -5.1,.2 -5.1,.2 -5-.3 -5.1,.1 -5-.2 -5.6,.3 -5.5-.2 -6,.3 -5.2-.3 -4.8,.1 -4.9-.1 -4.8,0 -4.7-.4 -4.7-.3 -5-.1 -5.6-.1 -6-.2 -5.5-.1 -5.1,.2 -4.3,.3 -5,0 -5.5,0 -5.7,.5 -5.4,.7 -5,.5 -4.9,.1 -5.1,.1 -5.4-.3 -5.5-.2 -5.3-.4 -5.2-.4 -4.9-.5 -5.1-.9 -5.5-.7 -5.3-.8 -5.1-.2 -4.9,.1 -4.9-.1 -5,.1 -4.7,.2 -4.8,.4 -4.8,.4 -4.7,.3 -4.7,.1 -4.7-.3 -5.4-.4 -5.7-.1 -5.3,.4 -4.9,.6 -5.4,.7 -6,0 -5.6,.5 -4.9,.7 -4.1,.7 -3.8-.2 -4.2-1.1 -5-1 -5.7-.6 -5.8-.5 -5.5-.9 -5.3-1.6 -5-1.4 -4.7-1 -5-.1 -5.3-.2 -5.3-.2 -5.1-.2 -4.6,0 -4.6,.4 -4.8,.5 -5,.8 -5,.9 -5.4,1.9 -5.3,2.4 -5.6,1.7 -5.1,.6 -5.5-.5"/>
<path d="M823.5,559.6l-4.8-.1 -4.9-.1 -4.9-.2 -4.6-.2 -4.8,0 -4.8-.1 -4.8,0 -4.9-.1 -4.5-.2 -4.6-.3 -4.3-.1 -5,.1 -5.3,.2 -4.7,.4 -4.8,.2 -4.5,.1 -5.2-.1 -5.1-.1 -5.2-.1 -4.8-.1 -4.4-.1 -4.2,.1 -4.4,.1 -4.6-.1 -4.9,0 -4.3,0 -4.8,.4 -4.2,.5 -4.9,.3 -4.6,0 -5.6-.1 -5.2,.3 -5.2,.3 -4.7,.2 -4.6,.3 -5.2,0 -5.4,0 -5.5-.2 -5.1,.1 -4.9,0 -5.5,0 -5.7-.5 -5.7-.3 -5.5-.2 -5.2-.1 -5.3-.5 -5-.2 -5.1,.2 -4.8,.1 -5.2-.1 -4.7-.4 -4.8-.4 -4.6-.2 -5.4,.2 -5.2,.3 -5.4-.2 -5-.4 -5.1,0 -5.2,.3 -5.6,.6 -5.6,.4 -5.3,.7 -5,.4 -4.8,.4 -4.9-.2 -4.9,0 -5.2-.1 -5.2,.3 -5.2,.2 -4.8,.3 -4.8,.2 -4.9,.1 -5.3,.3 -5.1,.6 -4.9,.4 -4.6,.1 -4.8,.4 -5.2,.4 -5.4,.2 -5.3-.6 -5.1-.6 -4.9-.2 -5.1,.3 -4.7,1 -5,.5 -4.7,.3 -4.9-.2 -4.9,.2 -5.5,.2 -5.2,.3 -5-.2 -4.4-.4 -4.5-.3 -4.5-.3 -4.9,0 -4.7,0 -5,.7 -4.6,.5 -5,.1 -4.9-.1 -5.3,.1 -4.7,.1 -4.9-.1 -4.7-.5 -5.1-.2 -4.9,0 -5.1,.2 -5.2-.1 -5.3-.2 -5.1,.2 -5,.4 -5,.8 -5.1-.1 -4.8-.3 -5.2-.7 -4.9-.9 -5.1-.3 -4.7-.7 -4.8,0 -4.7,.1"/>
<path d="M823.5,559.6l-4.8-.7 -4.9-.5 -4.9-.5 -4.9,.2 -4.7,.1 -4.6,.2 -4.1,.2 -4.4,0 -4.3,0 -4.7,.1 -4,0 -4.2,.2 -3.7,.2 -4.3-.1 -4.2-.2 -4.6-.1 -4.3,.1 -4.3-.1 -4.3,0 -4.6-.1 -4.7,0 -4.7,0 -4.1-.2 -4.1,0 -4.1,0 -4.8,.2 -5.1,.4 -5.6,.2 -5.1,.1 -5.3-.1 -4.8-.1 -4.9-.3 -4.7-.2 -4.5-.1 -4.9,.1 -4.9,.1 -5-.1 -4.6,.1 -4.3,.2 -4.5,.2 -5,.1 -5.3,0 -4.8,.1 -4.7,.2 -4.5,.1 -4.8,.1 -4.8-.3 -4.8-.5 -4.6-.4 -4.4,.2 -4.3,.2 -4.5,0 -4.5-.6 -4.9-.5 -5-.2 -4.8,.2 -5,.3 -4.7,.2 -5.1,.3 -4.4,.4 -4.6,.2 -4.5,.1 -4.5-.2 -4.9-.9 -4.7-1.1 -4.8-.8 -4.3-.1 -4.5-.2 -4.8-.2 -4.7-.6 -4.8-.3 -4.8-.5 -5.4,.1 -5.6,.4 -5.6,1.2 -5.4,.5 -4.6,.5 -4.5,.3 -4.4,.4 -5.2,.6 -5.2,.4 -5.1,.3 -4.9-.2 -4.9-.5 -5.1,.2 -4.6,.1 -4.5,.2 -3.9-.1 -4.3,.1 -4.8,.4 -4.9,.4 -4.8,.6 -4.4,0 -5.1,.2 -4.6-.2 -4.6-.6 -4.2-1 -4.7-.9 -5-.5 -5.1-.2 -4.8-.5 -5.1-.3 -4.9,0 -4.8,.3 -4.3,.7 -4.3,.9 -4.2,1 -4.7,.4 -4.9-.7 -5-.2 -4.8,.2 -4.6,.8 -4.8,0 -4.6,.4 -4.4,.1 -4.4,.6 -4.2,.5 -4.6,1 -4.4,1 -4.5,1.2"/>
<path d="M823.5,559.6l-4,1.8 -4.2,2.4 -4.5,2.9 -4.5,.8 -5,.3 -4.5,.2 -4.7-.1 -4.1-.2 -4.2-.6 -4.4-.7 -4-.6 -4.3-.1 -4.1,0 -4.2,.1 -4,.1 -4,.5 -4.1,.8 -4.3,1.3 -4.4,1 -4.2,.9 -4.2,.4 -3.7,.1 -4-.2 -4.1-.4 -4.5-.6 -4.5-.6 -4.4-.2 -4.3,0 -4.3,.3 -4.2,.3 -4.3,.7 -4,.9 -4.3,.9 -4.3,.8 -4.4,.7 -4.3,.6 -4.3,.2 -4.2-.1 -4.6,0 -4.5-.1 -4.4-.1 -3.9-.6 -3.8-.4 -4.1-.1 -4.1,.3 -4.1,.7 -3.8,1.1 -3.6,1 -3.2,.7 -3.4,.6 -3.5,.2 -3.6,0 -3.9-.1 -4.5,0 -4.6,0 -4.7-.3 -4.6-.6 -4.7-.9 -4.5-.3 -4.4-.5 -4.5,.3 -4,.1 -3.9,.5 -3.8,.3 -4.2,.4 -3.8,0 -3.8,.3 -4.2,.4 -4.6,.8 -4.3,.4 -3.6,0 -3.4-.1 -3.4,0 -4-.1 -4.5-.1 -4.7,0 -4.6,.1 -4.1,.4 -4,.5 -3.7,.8 -3.6,.9 -3.5,.8 -3.7,.5 -4-.4 -3.9-.7 -3.9-1 -4-.8 -3.8-.5 -3.6-.1 -4,.3 -4.7,.2 -4.6-.2 -4.2,.6 -3.7,.7 -4,1.4 -3.9,.4 -4.2,.4 -4.2,0 -4.4,0 -4.2,.2 -4.2,.2 -4.3,.5 -4.4-.8 -4.5-.5 -4.2-.7 -4.2,.2 -3.9-.2 -4.3-.7 -4.1-.4 -4.4-.4 -4.1,1 -4.4,.7 -4.6,1.3 -4.3,.7 -4.4,.7 -4,.1 -4.3-.4 -3.8-.8 -4.1-.8 -4.3-.6"/>
<path d="M823.5,559.6l-3.8,.1 -3.9,0 -4.1-.3 -4.1-.1 -4.2,.1 -4.3,.3 -4.1,.3 -4.3,.1 -4.3-.3 -4.5-.4 -4.7-.2 -4.7-.2 -4.1,0 -3.6-.3 -3.4-.3 -4.1-.2 -4.4-.2 -4.2-.1 -3.5,0 -3.5,.4 -4,.3 -4.6,.4 -4.4,.2 -4.1,.3 -4,.1 -3.8,.2 -4,0 -4,.3 -4.3,.3 -4.1,.2 -3.7-.2 -3.6-.2 -4-.2 -4.2-.2 -4.1-.6 -3.7-.3 -3.8-.6 -3.9,0 -4.3,0 -4.5,.5 -4.6,.4 -4.3,.3 -3.9,.5 -3.5,.1 -3.6,.5 -4.4,.1 -4.4,.2 -4.2-.2 -3.9-.5 -3.9-.2 -3.7,0 -3.7,.2 -3.9-.1 -4.6-.4 -4.7-.7 -4.5-.5 -4.1,0 -3.9,.3 -3.8,.4 -4.1,.3 -4.2,.6 -4.7,.9 -4.5,.4 -4.6,1 -4.1,.4 -3.6,.4 -3.4-.5 -3.8,0 -3.9,.3 -3.8,0 -4-.7 -3.9-.5 -4.5-.6 -3.8-.2 -4-.4 -3.7,0 -4,.1 -4.2,.4 -3.7,.4 -4-.1 -3.6,0 -4.5,.3 -4.3-.1 -4.7-.3 -4.4-.7 -4.4-.1 -4.4,.3 -4.2,.8 -3.7,.7 -4.2,.1 -4.2-.4 -4.4,.2 -3.9,.5 -4,.5 -4,.5 -4.2,.6 -4.2,.4 -4.1,0 -4.1,.4 -4.3,1.1 -4.5,.7 -4.2,.4 -4,.1 -4,.5 -4.4-.3 -4.8-.2 -4.5,.1 -4.4,.6 -3.7-.2 -4.1,.2 -4.4,.3 -5,.5 -5.1,.1 -4.5,.1 -4.1,0 -3.6-.4 -3.7-.5 -3.6-.1 -3.6-.1 -3.1-.5"/>
<path d="M823.5,559.6l-4.7-.2 -4.4-.2 -4.4-.1 -4.7,.2 -5.1,.1 -5.1,0 -5.5-.1 -5.6,0 -5.6,0 -5.1,0 -4.8-.1 -4.5,.3 -4.5,.3 -3.7,.1 -4,.2 -4.2,.4 -5,.5 -5.1,.6 -4.8,.5 -4.5,.2 -4.6-.2 -4.8-.6 -5-.2 -4.7-.2 -4.8-.1 -4.7-.6 -5.1-.3 -4.8-.2 -5.3,.1 -5,0 -5.1,.1 -4.9,.1 -5,.3 -5.1,0 -4.8-.1 -4.6,0 -4.4,.4 -4.6,.6 -4.7,.7 -4.3,.7 -4.5,.4 -4.7-.1 -4.9-.5 -4.7-.6 -4.3-.7 -4.7-.4 -5,.2 -5.4,.5 -5.7,.3 -5.5,.1 -5.7,.5 -5.4,.7 -5.8,.2 -5.3-.3 -5.2-.4 -4.6,.2 -4.6,.2 -4.5,.5 -4.5,.1 -4.5,.2 -4.7,0 -4.7-.4 -4.9-.4 -4.8-.3 -5.2,0 -4.8,.1 -4.6,.1 -4.6,0 -5-.2 -5.1-.1 -5.2-.2 -5,0 -5.2-.3 -4.9,.1 -4.7,0 -4.9,.2 -4.9-.1 -5-.1 -4.5,.1 -4.3,0 -4.6-.4 -4.8-.7 -5.1-.6 -5-.1 -5.1,0 -4.9,0 -4.9-.1 -4.9-.4 -5,.2 -4.9,.2 -4.8,0 -5.5,0 -5.7,.1 -5.9,.9 -5.5,.3 -5.2,.4 -5,.6 -5.2,1 -4.8,1.1 -4.7,.7 -4.9,.6 -5.1,.3 -5.7,.6 -5.4,.3 -5.9,.7 -5.4,.3 -5.5,.3 -5.2,.3 -5.1,.1 -5.2-.2 -5.4-.7 -5.2-.7 -4.7-.3 -4.2,.1 -4.3-.1 -4.5,.2 -4.8,.5 -4.8,1.2 -5.1,.5 -4.9,.2"/>
<path d="M823.5,559.6l-4.9,.3 -4.9,.2 -5.5,0 -5.5,.4 -5.5,.5 -4.9,.7 -4.6,.4 -4.6,.4 -4.8,.3 -4.6,.2 -5.1-.1 -5.3,.2 -5.7,.1 -5.3,.1 -5-.1 -4.8-.1 -4.9-.2 -4.9,0 -5,0 -5,.2 -5.1,.3 -5.4,.5 -5.5,.4 -5.6,.4 -5.3,.4 -4.9,.3 -4.7,.1 -4.5-.1 -4-.2 -3.9,0 -4.8,0 -5.4,.5 -5.9,.3 -5.2,.1 -5.4,0 -5.3,.1 -6.1,.6 -6.1,.4 -5.8,.4 -5.4-.1 -5.5,0 -5.8,.1 -6.1,.2 -5.6,.4 -5.4,.3 -4.7,.3 -4.6,.1 -4.3-.2 -4.8,0 -5.2,.4 -5.2,.8 -5.5,.7 -5.6,.1 -5.9,0 -5.7-.3 -5.7,.1 -5.1,.4 -5,.6 -4.9,0 -5.2-.5 -5.4-.3 -4.8,.2 -5,.4 -4.7,0 -5.1-.4 -4.9-.2 -5.1-.6 -4.9-.3 -5.1-.5 -4.9,0 -5.3,.3 -5.1,.2 -5.7,.1 -5.7-.1 -6,0 -5.3-.4 -5-.1 -5.2-.1 -5.7,.4 -5.7-.1 -5.6,.4 -5.2,.1 -5.5,0 -5.1-.3 -4.9-.3 -5.1,.2 -5.4,.1 -5.2,.3 -4.8,.3 -5.3,.8 -5.9,.7 -5.8-.1 -5.4-.1 -4.8-.2 -5.1,.4 -4.8-.4 -4.9,.3 -4.7,.5 -5,1.4 -5.1,1.4 -5.2,1.2 -5.4,.9 -5.5,.4 -5.7,.2 -5.4,.4 -5.7,0 -5.9,.6 -5.9,.5 -5.4,.4 -5.2-.8 -4.5-1.2 -4.6-.6 -4.9-.5 -4.8,.1 -4.9,.3 -5,.7 -5,.5 -4.8,0 -4.5-.3 -4.9-.5"/>
</g>
<g fill="#000"><circle cx="141" cy="571.9" r="3.25"/><circle cx="149.6" cy="555.4" r="3.25"/><circle cx="156.8" cy="572" r="3.25"/><circle cx="164" cy="558.8" r="3.25"/><circle cx="169" cy="568.5" r="3.25"/><circle cx="178.6" cy="559.4" r="3.25"/><circle cx="191.7" cy="556.2" r="3.25"/><circle cx="188" cy="571.1" r="3.25"/><circle cx="195.5" cy="575" r="3.25"/><circle cx="201" cy="584" r="3.25"/><circle cx="207" cy="581.2" r="3.25"/><circle cx="214" cy="587.8" r="3.25"/><circle cx="229" cy="592.5" r="3.25"/><circle cx="208.6" cy="561.4" r="3.25"/><circle cx="216" cy="563.3" r="3.25"/><circle cx="222" cy="567.5" r="3.25"/><circle cx="226" cy="571.6" r="3.25"/><circle cx="200" cy="575.7" r="3.25"/><circle cx="218" cy="580" r="3.25"/><circle cx="232" cy="584.9" r="3.25"/><circle cx="240" cy="575.8" r="3.25"/><circle cx="205" cy="569.3" r="3.25"/><circle cx="212" cy="574" r="3.25"/><circle cx="224" cy="561.9" r="3.25"/><circle cx="235" cy="566.7" r="3.25"/><circle cx="245" cy="570.9" r="3.25"/><circle cx="236" cy="580.1" r="3.25"/><circle cx="228" cy="557.4" r="3.25"/><circle cx="239" cy="568.7" r="3.25"/><circle cx="200.7" cy="560.6" r="3.25"/><circle cx="280.4" cy="569.7" r="3.25"/><circle cx="250.1" cy="570" r="3.25"/><circle cx="364.8" cy="564.1" r="3.25"/><circle cx="257.2" cy="576.2" r="3.25"/><circle cx="259.6" cy="566.8" r="3.25"/><circle cx="256.2" cy="576.4" r="3.25"/><circle cx="219.3" cy="578.9" r="3.25"/><circle cx="250.4" cy="563.1" r="3.25"/><circle cx="198.1" cy="564.1" r="3.25"/><circle cx="464.2" cy="569.7" r="3.25"/><circle cx="504" cy="563.9" r="3.25"/><circle cx="342.2" cy="567.6" r="3.25"/><circle cx="211.8" cy="563.8" r="3.25"/><circle cx="238.3" cy="580.2" r="3.25"/><circle cx="442.7" cy="573.3" r="3.25"/><circle cx="337.8" cy="567.3" r="3.25"/><circle cx="506.6" cy="564.6" r="3.25"/><circle cx="517.3" cy="565.9" r="3.25"/><circle cx="245.4" cy="581.5" r="3.25"/><circle cx="288.9" cy="561.1" r="3.25"/><circle cx="256.9" cy="572.2" r="3.25"/><circle cx="221.7" cy="554.3" r="3.25"/><circle cx="234.3" cy="578.1" r="3.25"/><circle cx="219.7" cy="576.1" r="3.25"/><circle cx="245.7" cy="576.5" r="3.25"/><circle cx="286.2" cy="571.2" r="3.25"/><circle cx="486.7" cy="568.8" r="3.25"/><circle cx="425.2" cy="560.8" r="3.25"/><circle cx="274" cy="583.5" r="3.25"/><circle cx="231.7" cy="583.7" r="3.25"/><circle cx="204" cy="573.4" r="3.25"/><circle cx="249.3" cy="569.4" r="3.25"/><circle cx="218.1" cy="572.3" r="3.25"/><circle cx="514.6" cy="563.3" r="3.25"/><circle cx="490.3" cy="572" r="3.25"/><circle cx="231.7" cy="568.9" r="3.25"/><circle cx="237.6" cy="566.6" r="3.25"/><circle cx="231.2" cy="570.8" r="3.25"/><circle cx="282.6" cy="577.6" r="3.25"/><circle cx="287" cy="570.2" r="3.25"/><circle cx="263" cy="561.8" r="3.25"/><circle cx="333.5" cy="576.2" r="3.25"/><circle cx="246.1" cy="570.8" r="3.25"/><circle cx="250.5" cy="566" r="3.25"/><circle cx="246.7" cy="570.7" r="3.25"/><circle cx="202.9" cy="571.8" r="3.25"/><circle cx="271.3" cy="570.1" r="3.25"/><circle cx="203.7" cy="581.4" r="3.25"/><circle cx="323.2" cy="563.6" r="3.25"/><circle cx="251.5" cy="568.9" r="3.25"/><circle cx="473.6" cy="560.4" r="3.25"/><circle cx="217.6" cy="568.5" r="3.25"/><circle cx="242" cy="565.8" r="3.25"/><circle cx="315.1" cy="574.6" r="3.25"/><circle cx="517.9" cy="567.1" r="3.25"/><circle cx="237.6" cy="573.8" r="3.25"/><circle cx="227.4" cy="565.2" r="3.25"/><circle cx="248.6" cy="565.8" r="3.25"/><circle cx="199.1" cy="581.8" r="3.25"/><circle cx="274.8" cy="565.9" r="3.25"/><circle cx="274.3" cy="558.8" r="3.25"/><circle cx="280" cy="564.6" r="3.25"/><circle cx="218.3" cy="578.2" r="3.25"/><circle cx="215.2" cy="560.8" r="3.25"/><circle cx="218.1" cy="578.7" r="3.25"/><circle cx="397.3" cy="575.1" r="3.25"/><circle cx="257.8" cy="567.1" r="3.25"/><circle cx="208.2" cy="579.7" r="3.25"/><circle cx="215.7" cy="579.7" r="3.25"/><circle cx="260.6" cy="556.8" r="3.25"/><circle cx="259.2" cy="577.3" r="3.25"/><circle cx="277" cy="563.7" r="3.25"/><circle cx="410.1" cy="560.4" r="3.25"/><circle cx="337.7" cy="562.1" r="3.25"/><circle cx="271.6" cy="570.3" r="3.25"/><circle cx="251.8" cy="562.6" r="3.25"/><circle cx="430.6" cy="565.6" r="3.25"/><circle cx="255.1" cy="575.8" r="3.25"/><circle cx="419.1" cy="569" r="3.25"/><circle cx="409.3" cy="563.5" r="3.25"/><circle cx="271.6" cy="568.1" r="3.25"/><circle cx="386.6" cy="553.5" r="3.25"/><circle cx="285.1" cy="570.2" r="3.25"/><circle cx="298.5" cy="567.6" r="3.25"/><circle cx="218.4" cy="576.4" r="3.25"/><circle cx="240.7" cy="551.3" r="3.25"/><circle cx="240.8" cy="575.5" r="3.25"/><circle cx="209.6" cy="576.9" r="3.25"/><circle cx="265.6" cy="555.2" r="3.25"/><circle cx="236.6" cy="573.7" r="3.25"/><circle cx="508.7" cy="564.7" r="3.25"/><circle cx="218.1" cy="580.6" r="3.25"/><circle cx="356.4" cy="564.3" r="3.25"/><circle cx="299.5" cy="553.1" r="3.25"/><circle cx="240.3" cy="569" r="3.25"/><circle cx="253.2" cy="564.3" r="3.25"/><circle cx="483.3" cy="562.9" r="3.25"/><circle cx="332.6" cy="575.2" r="3.25"/><circle cx="453.8" cy="568.4" r="3.25"/><circle cx="252.6" cy="557.2" r="3.25"/><circle cx="258.9" cy="566.9" r="3.25"/><circle cx="273.4" cy="564" r="3.25"/><circle cx="198" cy="564.5" r="3.25"/><circle cx="225.1" cy="562.4" r="3.25"/><circle cx="245.8" cy="573.9" r="3.25"/><circle cx="320.6" cy="573.4" r="3.25"/><circle cx="252.7" cy="553.4" r="3.25"/><circle cx="212.4" cy="564.4" r="3.25"/><circle cx="252.8" cy="569.7" r="3.25"/><circle cx="206.6" cy="564.7" r="3.25"/><circle cx="266.2" cy="561.8" r="3.25"/><circle cx="243.4" cy="560.4" r="3.25"/><circle cx="259.3" cy="562.5" r="3.25"/><circle cx="369.3" cy="572.6" r="3.25"/><circle cx="513.4" cy="567.9" r="3.25"/><circle cx="503.8" cy="568.9" r="3.25"/><circle cx="279.5" cy="572.4" r="3.25"/><circle cx="201.6" cy="555.3" r="3.25"/><circle cx="271.5" cy="577.4" r="3.25"/><circle cx="221.8" cy="573.1" r="3.25"/><circle cx="486.5" cy="564.3" r="3.25"/><circle cx="518.9" cy="560.6" r="3.25"/><circle cx="287.2" cy="579.7" r="3.25"/><circle cx="251.5" cy="584.8" r="3.25"/><circle cx="209.4" cy="565.1" r="3.25"/><circle cx="347.1" cy="553.2" r="3.25"/><circle cx="217.1" cy="559.5" r="3.25"/><circle cx="310.8" cy="571.5" r="3.25"/><circle cx="216.5" cy="570.2" r="3.25"/><circle cx="242.7" cy="566.5" r="3.25"/><circle cx="486.4" cy="566.1" r="3.25"/><circle cx="282.4" cy="557" r="3.25"/><circle cx="481.3" cy="571.7" r="3.25"/><circle cx="273" cy="560.3" r="3.25"/><circle cx="201.4" cy="576.5" r="3.25"/><circle cx="276.3" cy="571" r="3.25"/><circle cx="267.3" cy="563.5" r="3.25"/><circle cx="214.8" cy="571" r="3.25"/><circle cx="470.1" cy="563.9" r="3.25"/><circle cx="229.4" cy="569.5" r="3.25"/><circle cx="222.6" cy="573.6" r="3.25"/><circle cx="222" cy="563.5" r="3.25"/><circle cx="228" cy="563.2" r="3.25"/><circle cx="261.5" cy="564.5" r="3.25"/><circle cx="325" cy="581.6" r="3.25"/><circle cx="331.4" cy="567.5" r="3.25"/><circle cx="232.6" cy="569.8" r="3.25"/><circle cx="201.2" cy="577.3" r="3.25"/></g>
<g fill="none" stroke="#000" stroke-width="1.25" stroke-opacity="0.7" stroke-linejoin="round">
<path d="M823.5,559.6l-13.5-6.1 -20-1.5 -30-1 -20-3 -20,1 -30-3 -30-1 -30-2 -30-2 -20-1.5 -19,.5 -21,1 -20,2 -20,2 -30,1 -30-1 -12,3 -8,1 -8-8 -7-11.3"/>
<path d="M470,553l-30-2 -15,1 -25-4 -8-6 -4,3"/>
<path d="M823.5,559.6l-3.7-.2 -3.8-.2 -3.7,0 -4,.2 -4.2,0 -4.2,.1 -4.2,.1 -4,.2 -4,.2 -4,.4 -4.2,.1 -4.2,.3 -4.1,.1 -3.9,.3 -3.9,.2 -4,.4 -3.8,.4 -3.8,.6 -4.2,.5 -4.2,.5 -4.3,.3 -4,.6 -4.1,.6 -4.1,.8 -4.2,.5 -4.3,.2 -4.2-.1 -4.1,.1 -3.9,.3 -4,.1 -3.9,.3 -3.7,.2 -3.8,.3 -4.1,.5 -4.2,.6 -4.3,.6 -4.3,.3 -4.4,.7 -4.2,.7 -4.1,.9 -4.3,.3 -4.3,.3 -4.3,.1 -4.3,.3 -4.2,.3 -4.2,.6 -4,.5 -3.7,.8 -4.1,1.1 -3.9,1.5 -4.2,1.4 -4.2,1 -4.4,.7 -4.5,.2 -4.4,.6 -4.1,.7 -4,.6 -3.8,1 -3.9,1 -4,1.2"/>
<path d="M823.5,559.6l-5.1-.4 -5-.2 -5-.3 -4.8-.3 -4.4-.2 -4.4,.2 -4.6,.5 -4.8,.7 -4.7,.7 -4.7,.6 -4.5,.3 -4.8,.2 -4.8,0 -5,.2 -5,.3 -4.7,.5 -4.5,.6 -4.7,.4 -4.6,.3 -4.8,0 -4.5-.2 -4.7,0 -4.8,.1 -4.9,.6 -5.3,.6 -5.1,.8 -5.1,.5 -4.7,.3 -4.8,.3 -4.7,.2 -4.8,.3 -4.8,.4 -4.9,.4 -5,.5 -4.8,.5 -4.9,.6 -4.8,.3 -4.8,.2 -4.9,.3 -5.2,.4 -5.1,.5 -4.9,.2 -4.6,.3 -5.2,.3 -5.3,.3 -5.1,.4 -4.9-.3 -5,.2 -5.2,.3 -5.2,.9 -5,.3 -5,.4 -5-.2 -5,.3 -4.9,.2 -4.9,.5 -4.9-.1 -4.7,0 -4.7,.3 -4.5,.7"/>
<path d="M823.5,559.6l-4.5,8.4 -3,5 2-8 -8-3 -20,4 -21.7,4.3 -3.3,7.7 -2,5 -6,11.7 8,5.3 7-2 8,6 8-1 6.6,8 1.4-10 1-5 3.2-16"/>
</g>
<g fill="#000"><circle cx="405" cy="529.7" r="3.25"/><circle cx="578.4" cy="586.5" r="3.25"/><circle cx="532" cy="576.3" r="3.25"/><circle cx="800.2" cy="580" r="3.25"/></g>
<g fill="none" stroke="#f40000" stroke-width="1.15" stroke-opacity="0.66" stroke-linejoin="round">
<path d="M823.5,559.6l2.5-5.1 3,1.5 3,3 3,2 4,2.5 3-3.5 6,3 4-4 3-2 5,2.5 4-3 4-.5 6,4 7-2 7.6,1 1.9-7 -.5-6 -4-5 -4-1.5 -3,1.5 -5.5,1"/>
<path d="M823.5,559.6l3.5-3.6 3,2 4,3 3,2 4,2.5 4-3.5 4,2 4,1 8-2 5,2 4,1 5-2 5,.5 5,2.5 5,0 5-1 5,.5 5,.5 6-1.2"/>
</g>
<g fill="#f40000"><circle cx="873.5" cy="542" r="3.25"/><circle cx="911" cy="565.8" r="3.25"/></g>
<text x="128.8" y="503.2" font-size="26.7" text-anchor="start" font-weight="normal" textLength="143" lengthAdjust="spacingAndGlyphs" >150 mV/mm</text>
<text x="103.2" y="485.9" font-size="19.3" text-anchor="end" font-weight="normal" >100</text>
<text x="103.2" y="566.5" font-size="19.3" text-anchor="end" font-weight="normal" >0</text>
<text x="103.2" y="648.4" font-size="19.3" text-anchor="end" font-weight="normal" >-100</text>
<text transform="translate(53.3 554.4) rotate(-90)" font-size="22" text-anchor="middle" font-weight="normal" textLength="131.5" lengthAdjust="spacingAndGlyphs" >(Distance µm)</text>
<text x="159.4" y="669.3" font-size="19.5" text-anchor="middle" font-weight="normal" >-800</text>
<text x="327" y="669.3" font-size="19.5" text-anchor="middle" font-weight="normal" >-600</text>
<text x="491" y="669.3" font-size="19.5" text-anchor="middle" font-weight="normal" >-400</text>
<text x="658.3" y="669.3" font-size="19.5" text-anchor="middle" font-weight="normal" >-200</text>
<text x="824" y="669.3" font-size="19.5" text-anchor="middle" font-weight="normal" >0</text>
<text x="970" y="669.3" font-size="19.5" text-anchor="middle" font-weight="normal" >200</text>
<text x="594.8" y="694.4" font-size="22" text-anchor="middle" font-weight="normal" textLength="139" lengthAdjust="spacingAndGlyphs" >Distance (µm)</text>
<g stroke="#000" fill="none" stroke-width="2.05">
<path d="M1108.8,51.8V293.5H1475"/>
<path d="M1100.2,97.3H1108.8"/>
<path d="M1100.2,172.9H1108.8"/>
<path d="M1100.2,248.6H1108.8"/>
<path d="M1169.2,293.5V302.3"/>
<path d="M1291.8,293.5V302.3"/>
<path d="M1414.8,293.5V302.3"/>
</g>
<g stroke="#000" stroke-width="1.7" stroke-dasharray="1.5 1.6">
<path d="M1137.6,97.5H1216"/>
<path d="M1255,97.5H1333"/>
<path d="M1373,97.5H1456.6"/>
</g>
<g stroke="#000" fill="#fff" stroke-width="2.9">
<path d="M1150,85.2H1192M1150,95.3H1192"/><rect x="1129.05" y="87.25" width="81.1" height="5.9" stroke-width="3.4"/>
<path d="M1292,207V200.2M1270,200.2H1314M1271.6,242.6H1313"/><rect x="1251.3" y="207.2" width="81.4" height="33.6"/><path d="M1251,232H1333"/>
<rect x="1372" y="233.2" width="83.2" height="14.5" rx="1.8" stroke-width="3.1"/><path d="M1372,240.4H1455.2" stroke-width="3.1"/>
<path d="M1169,49.3H1417.8M1169,40.8V58M1417.8,40.8V58" fill="none" stroke-width="3"/>
<path d="M1169,72.8H1290M1169,64.8V81M1290,64.8V81" fill="none" stroke-width="3"/>
</g>
<text x="1290.5" y="51.5" font-size="29" text-anchor="middle" font-weight="normal" fill="#000" stroke="#000" stroke-width="0.35">*</text>
<text x="1231.5" y="77.4" font-size="29" text-anchor="middle" font-weight="normal" fill="#000" stroke="#000" stroke-width="0.35">*</text>
<text x="1124.2" y="18.9" font-size="23" text-anchor="start" font-weight="normal" textLength="90.6" lengthAdjust="spacingAndGlyphs" >anode (-)</text>
<text x="1118.2" y="276.5" font-size="23" text-anchor="start" font-weight="normal" textLength="110" lengthAdjust="spacingAndGlyphs" >cathode (-)</text>
<text x="1097.5" y="103.1" font-size="16.5" text-anchor="end" font-weight="bold" >0.0</text>
<text x="1097.5" y="178.7" font-size="16.5" text-anchor="end" font-weight="bold" >-0.5</text>
<text x="1097.5" y="254.4" font-size="16.5" text-anchor="end" font-weight="bold" >-1.0</text>
<text transform="translate(1059.3 172.5) rotate(-90)" font-size="20" text-anchor="middle" font-weight="bold" textLength="121.6" lengthAdjust="spacingAndGlyphs" >Directionality</text>
<text x="1169.3" y="320.2" font-size="16.5" text-anchor="middle" font-weight="bold" textLength="54" lengthAdjust="spacingAndGlyphs" >No EF</text>
<text x="1291" y="320.2" font-size="16.5" text-anchor="middle" font-weight="bold" textLength="85" lengthAdjust="spacingAndGlyphs" >50mV/mm</text>
<text x="1413" y="320.2" font-size="16.5" text-anchor="middle" font-weight="bold" textLength="93.5" lengthAdjust="spacingAndGlyphs" >150mV/mm</text>
<g stroke="#000" stroke-width="2.2">
<rect x="1134" y="659.2" width="86" height="34" fill="#fff"/>
<rect x="1262" y="583.7" width="84.5" height="109.5" fill="#a3a2a7"/>
<path d="M1430.7,473.6V467.4M1408,467.4H1453" fill="none" stroke-width="2.8"/>
<rect x="1387.9" y="473.8" width="85.8" height="219.4" fill="#646464"/>
<path d="M1153.5,657.4H1199.3M1280.5,582.4H1327" fill="none" stroke-width="2.8"/>
<path d="M1114,438.8V693H1496" fill="none"/>
<path d="M1105,439.8H1114"/>
<path d="M1105,490.2H1114"/>
<path d="M1105,540.8H1114"/>
<path d="M1105,591.2H1114"/>
<path d="M1105,641.8H1114"/>
<path d="M1105,692.9H1114"/>
<path d="M1176.5,693V701.8"/>
<path d="M1304,693V701.8"/>
<path d="M1431,693V701.8"/>
<path d="M1173.8,433.6H1430M1173.8,425.6V442M1430,425.6V442" fill="none" stroke-width="3"/>
<path d="M1298,456H1430M1298,448V464M1430,448V464" fill="none" stroke-width="3"/>
<path d="M1175,514H1299M1175,506.3V521.6M1299,506.3V521.6" fill="none" stroke-width="3"/>
</g>
<text x="1296.4" y="435.2" font-size="29" text-anchor="middle" font-weight="normal" fill="#000" stroke="#000" stroke-width="0.35">*</text>
<text x="1359.4" y="459.2" font-size="29" text-anchor="middle" font-weight="normal" fill="#000" stroke="#000" stroke-width="0.35">*</text>
<text x="1240.6" y="516.1" font-size="29" text-anchor="middle" font-weight="normal" fill="#000" stroke="#000" stroke-width="0.35">*</text>
<text x="1102.4" y="446" font-size="17.5" text-anchor="end" font-weight="bold" >50</text>
<text x="1102.4" y="496.4" font-size="17.5" text-anchor="end" font-weight="bold" >40</text>
<text x="1102.4" y="547" font-size="17.5" text-anchor="end" font-weight="bold" >30</text>
<text x="1102.4" y="597.4" font-size="17.5" text-anchor="end" font-weight="bold" >20</text>
<text x="1102.4" y="648" font-size="17.5" text-anchor="end" font-weight="bold" >10</text>
<text x="1102.4" y="699.1" font-size="17.5" text-anchor="end" font-weight="bold" >0</text>
<text transform="translate(1070 564.8) rotate(-90)" font-size="21" text-anchor="middle" font-weight="bold" textLength="258" lengthAdjust="spacingAndGlyphs" >Migration velocity  µm/min</text>
<text x="1176" y="718.6" font-size="17" text-anchor="middle" font-weight="bold" textLength="52.5" lengthAdjust="spacingAndGlyphs" >No EF</text>
<text x="1303" y="718.6" font-size="17" text-anchor="middle" font-weight="bold" textLength="85" lengthAdjust="spacingAndGlyphs" >50mV/mm</text>
<text x="1430" y="718.6" font-size="17" text-anchor="middle" font-weight="bold" textLength="92" lengthAdjust="spacingAndGlyphs" >150mV/mm</text>
</g></svg></body></html>
